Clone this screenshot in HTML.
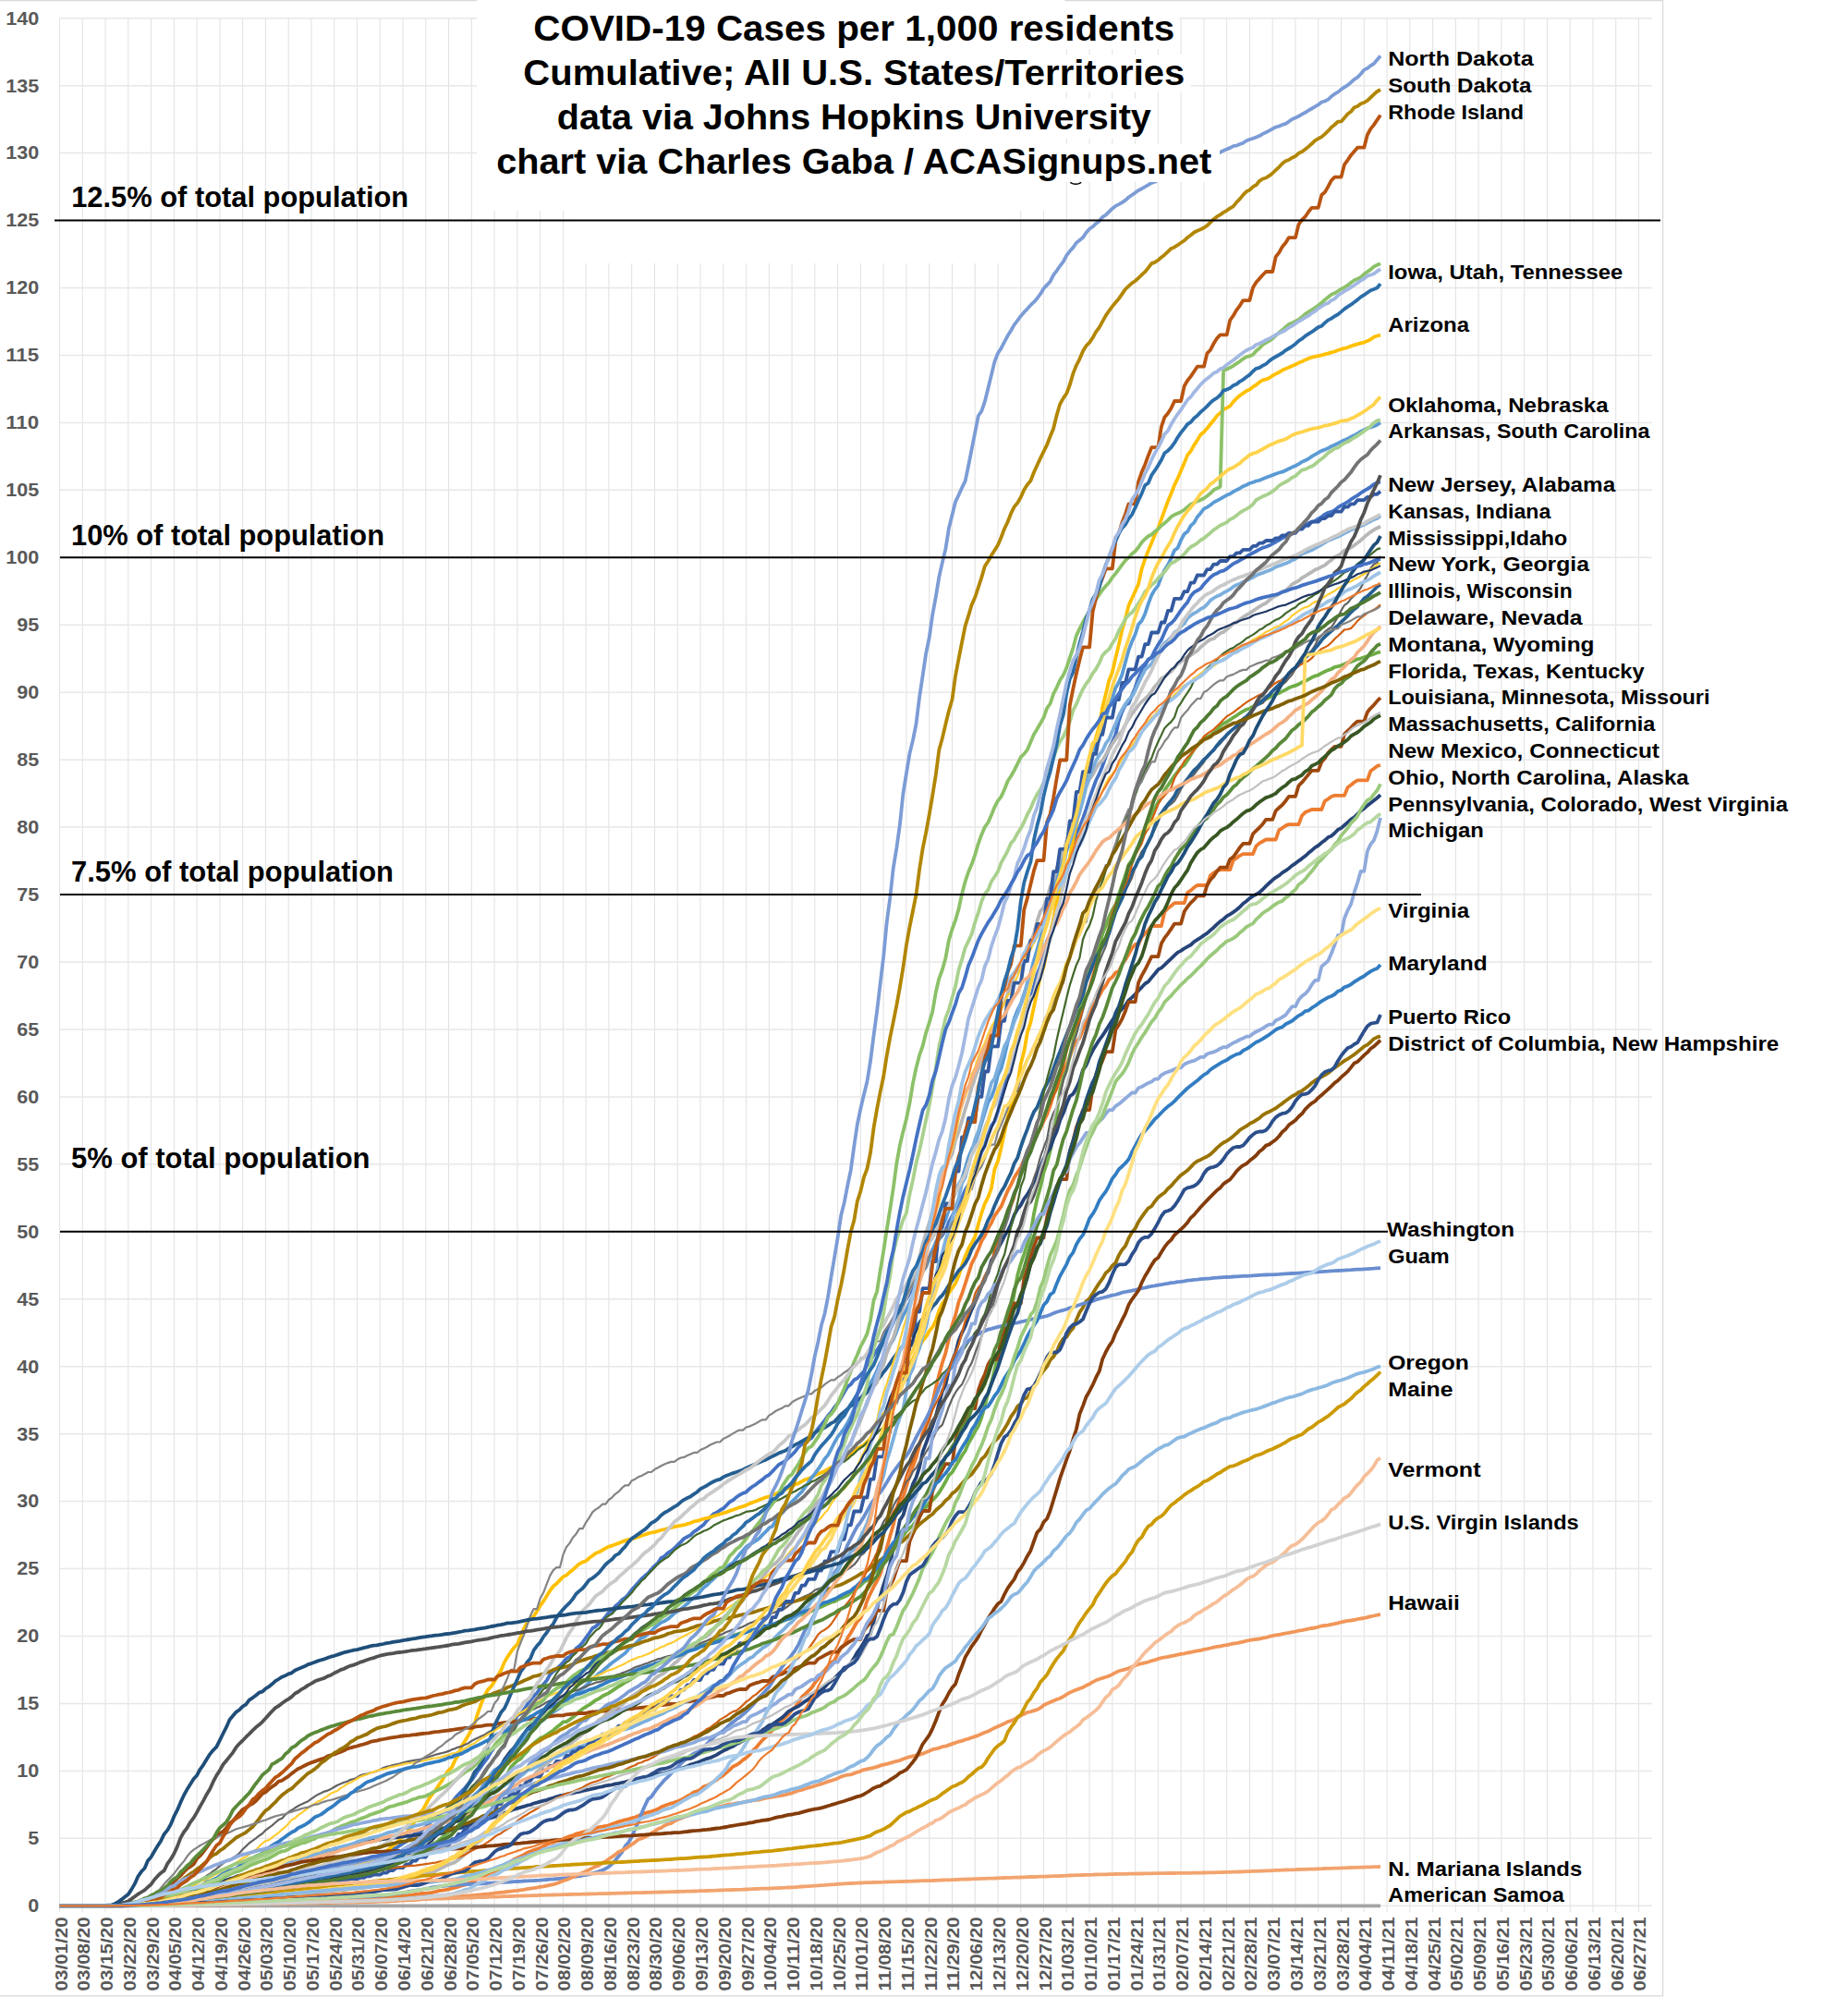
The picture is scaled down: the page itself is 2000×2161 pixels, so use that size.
<!DOCTYPE html>
<html><head><meta charset="utf-8"><title>COVID-19 Cases per 1,000 residents</title>
<style>
html,body{margin:0;padding:0;background:#fff}
svg{display:block}
text{font-family:"Liberation Sans", sans-serif;font-weight:bold}
.c path{fill:none;stroke-linejoin:round;stroke-linecap:butt}
</style></head><body>
<svg width="2000" height="2161" viewBox="0 0 2000 2161">
<rect width="2000" height="2161" fill="#fff"/>
<path d="M64.50 19.70V2069.30M89.27 19.70V2069.30M114.04 19.70V2069.30M138.80 19.70V2069.30M163.57 19.70V2069.30M188.34 19.70V2069.30M213.11 19.70V2069.30M237.88 19.70V2069.30M262.64 19.70V2069.30M287.41 19.70V2069.30M312.18 19.70V2069.30M336.95 19.70V2069.30M361.72 19.70V2069.30M386.48 19.70V2069.30M411.25 19.70V2069.30M436.02 19.70V2069.30M460.79 19.70V2069.30M485.56 19.70V2069.30M510.32 19.70V2069.30M535.09 19.70V2069.30M559.86 19.70V2069.30M584.63 19.70V2069.30M609.40 19.70V2069.30M634.16 19.70V2069.30M658.93 19.70V2069.30M683.70 19.70V2069.30M708.47 19.70V2069.30M733.24 19.70V2069.30M758.00 19.70V2069.30M782.77 19.70V2069.30M807.54 19.70V2069.30M832.31 19.70V2069.30M857.08 19.70V2069.30M881.84 19.70V2069.30M906.61 19.70V2069.30M931.38 19.70V2069.30M956.15 19.70V2069.30M980.92 19.70V2069.30M1005.68 19.70V2069.30M1030.45 19.70V2069.30M1055.22 19.70V2069.30M1079.99 19.70V2069.30M1104.76 19.70V2069.30M1129.52 19.70V2069.30M1154.29 19.70V2069.30M1179.06 19.70V2069.30M1203.83 19.70V2069.30M1228.60 19.70V2069.30M1253.36 19.70V2069.30M1278.13 19.70V2069.30M1302.90 19.70V2069.30M1327.67 19.70V2069.30M1352.44 19.70V2069.30M1377.20 19.70V2069.30M1401.97 19.70V2069.30M1426.74 19.70V2069.30M1451.51 19.70V2069.30M1476.28 19.70V2069.30M1501.04 19.70V2069.30M1525.81 19.70V2069.30M1550.58 19.70V2069.30M1575.35 19.70V2069.30M1600.12 19.70V2069.30M1624.88 19.70V2069.30M1649.65 19.70V2069.30M1674.42 19.70V2069.30M1699.19 19.70V2069.30M1723.96 19.70V2069.30M1748.72 19.70V2069.30M1773.49 19.70V2069.30" stroke="#e2e2e2" stroke-width="1.05" fill="none"/>
<path d="M64.50 2062.30H1788M64.50 1989.35H1788M64.50 1916.40H1788M64.50 1843.45H1788M64.50 1770.50H1788M64.50 1697.55H1788M64.50 1624.60H1788M64.50 1551.65H1788M64.50 1478.70H1788M64.50 1405.75H1788M64.50 1332.80H1788M64.50 1259.85H1788M64.50 1186.90H1788M64.50 1113.95H1788M64.50 1041.00H1788M64.50 968.05H1788M64.50 895.10H1788M64.50 822.15H1788M64.50 749.20H1788M64.50 676.25H1788M64.50 603.30H1788M64.50 530.35H1788M64.50 457.40H1788M64.50 384.45H1788M64.50 311.50H1788M64.50 238.55H1788M64.50 165.60H1788M64.50 92.65H1788M64.50 19.70H1788" stroke="#e8e8e8" stroke-width="1.5" fill="none"/>
<path d="M0 0.7H1799.6V2159.8H0" stroke="#d9d9d9" stroke-width="1.3" fill="none"/>
<g class="c">
<path d="M64.5 2062.3l3.5 0l3.6 0l3.5 0l3.6 0l3.5 0l3.5 0l3.6 0l3.5 0l3.5 0l3.6 0l3.5 0l3.6 0l3.5 0l3.5 0l3.6 0l3.5 0l3.6-.1l3.5-0l3.5-.1l3.6-.1l3.5-.1l3.5-.2l3.6-.2l3.5-.2l3.6-.4l3.5-.2l3.5-.4l3.6-.2l3.5-.3l3.5-.4l3.6-.5l3.5-.5l3.6-.5l3.5-.4l3.5-.5l3.6-.6l3.5-.9l3.6-.5l3.5-.6l3.5-.6l3.6-.4l3.5-.6l3.5-.9l3.6-.3l3.5-.6l3.6-.6l3.5-.5l3.5-.7l3.6-.6l3.5-.5l3.6-.9l3.5-.7l3.5-.8l3.6-.7l3.5-.6l3.5-.6l3.6-.5l3.5-.9l3.6-.6l3.5-.6l3.5-.5l3.6-.6l3.5-.7l3.6-1.1l3.5-.6l3.5-.6l3.6-.9l3.5-1l3.5-.9l3.6-.4l3.5-.5l3.6-1.1l3.5-.9l3.5-.6l3.6-1.1l3.5-1l3.5-.9l3.6-1l3.5-.9l3.6-1.1l3.5-.7l3.5-.7l3.6-.7l3.5-.4l3.6-1.1l3.5-1l3.5-.9l3.6-.3l3.5-.7l3.5-1l3.6-.6l3.5-1.1l3.6-1.4l3.5-.8l3.5-1.5l3.6-1.2l3.5-1.1l3.6-1.4l3.5-1.7l3.5-1.8l3.6-2.2l3.5-1.4l3.5-1.5l3.6-2.5l3.5-2.2l3.6-2l3.5-3.4l3.5-3.5l3.6-2l3.5-1.4l3.5-2.6l3.6-3l3.5-3.2l3.6-4.5l3.5-2.3l3.5-3.9l3.6-1.8l3.5-2.5l3.6-3.9l3.5-4.6l3.5-4.5l3.6-3.9l3.5-3.6l3.5-3.5l3.6-4.3l3.5-3.9l3.6-5.1l3.5-5.5l3.5-4.5l3.6-5.1l3.5-4.6l3.6-6.4l3.5-4.5l3.5-4.3l3.6-4.6l3.5-5l3.5-5.5l3.6-3.7l3.5-4.8l3.6-6.7l3.5-1.9l3.5-4.2l3.6-5.5l3.5-4.9l3.6-4.3l3.5-3.5l3.5-5l3.6-4.6l3.5-3.9l3.5-6.3l3.6-3.6l3.5-2.5l3.6-3.4l3.5-3.7l3.5-4.2l3.6-1.9l3.5-4.1l3.5-5.1l3.6-2.6l3.5-3.9l3.6-5l3.5-4.9l3.5-5.3l3.6-2l3.5-3.3l3.6-3.1l3.5-4.1l3.5-4.6l3.6-1.6l3.5-5.3l3.5-2.6l3.6-4.3l3.5-2.1l3.6-3.8l3.5-4.9l3.5-3.7l3.6-4l3.5-4.1l3.6-3.2l3.5-2.8l3.5-4.2l3.6-3.9l3.5-3l3.5-5.4l3.6-1.9l3.5-3.4l3.6-2.3l3.5-2.8l3.5-3.6l3.6-3.4l3.5-3.7l3.6-1.9l3.5-1.9l3.5-3.5l3.6-2.3l3.5-2.7l3.5-2.7l3.6-4.6l3.5-3.5l3.6-3.5l3.5-1.6l3.5-2.5l3.6-1.9l3.5-3.4l3.5-3.7l3.6-1.9l3.5-3.1l3.6-2.5l3.5-1.8l3.5-1.2l3.6-3.6l3.5-2.6l3.6-2.2l3.5-2.7l3.5-2.5l3.6-3.2l3.5-1.9l3.5-3.6l3.6-3.9l3.5-3.6l3.6-2.1l3.5-1.9l3.5-3.5l3.6-3.1l3.5-3.6l3.6-4.8l3.5-3l3.5-1.3l3.6-3.2l3.5-2.3l3.5-5.3l3.6-5l3.5-4.1l3.6-4.6l3.5-5l3.5-3.9l3.6-5.4l3.5-4.1l3.6-5.9l3.5-6.2l3.5-5.8l3.6-2.8l3.5-4.7l3.5-1.8l3.6-3.8l3.5-3.5l3.6-7.8l3.5-4.3l3.5-5.7l3.6-5.2l3.5-5.7l3.5-5.5l3.6-7.3l3.5-9.3l3.6-6l3.5-6.2l3.5-6.5l3.6-4.8l3.5-4.2l3.6-6.2l3.5-8.7l3.5-4l3.6-5.4l3.5-7.6l3.5-7l3.6-6.3l3.5-8l3.6-7l3.5-4.7l3.5-4l3.6-5.7l3.5-8.6l3.6-6.5l3.5-6.7l3.5-7.5l3.6-5.9l3.5-8.2l3.5-5.8l3.6-9.4l3.5-4.8l3.6-11.5l3.5-9.6l3.5-6.6l3.6-12.4l3.5-9.2l3.5-5.2l3.6-10.4l3.5-14.2l3.6-12.1l3.5-14.6l3.5-12.8l3.6-11.6l3.5-10.9l3.6-14.6l3.5-13l3.5-12.5l3.6-5.2l3.5-13.5l3.5-13.3l3.6-8.8l3.5-9.9l3.6-17.8l3.5-7.2l3.5-14.2l3.6-18.7l3.5-6.8l3.6-13.2l3.5-17.5l3.5-11.4l3.6-13.8l3.5-13.4l3.5-6.8l3.6-9.2l3.5-10.3l3.6-11.7l3.5-9.7l3.5-9.6l3.6-7.2l3.5-8.3l3.6-10.4l3.5-8.4l3.5-7.1l3.6-8.2l3.5-15l3.5-9.8l3.6-7.5l3.5-1.4l3.6-8.6l3.5-8.4l3.5-10.5l3.6-7.6l3.5-6.1l3.5-6.4l3.6-2.3l3.5-7.4l3.6-6.3l3.5-5.2l3.5-8l3.6-7.5l3.5-2.5l3.6-3.7l3.5-5.1l3.5-5.2l3.6-4.6l3.5-4.1l3.5-6.6l3.6-4.2l3.5-1.9l3.6-2.1l3.5-4.7l3.5-3.7l3.6-3.8l3.5-2.7l3.6-1.5l3.5-2.1l3.5-.8l3.6-2.1l3.5-2.7l3.5-2.7l3.6-1.8l3.5-2l3.6-2l3.5-1.9l3.5-2.2l3.6-1.9l3.5-1.8l3.6-2.1l3.5-1.6l3.5-1.1l3.6-1.4l3.5-1.9l3.5-1.9l3.6-2.2l3.5-1.9l3.6-1.8l3.5-1.6l3.5-1.3l3.6-2.4l3.5-2.8l3.5-2.4l3.6-1.9l3.5-2.1l3.6-1.3l3.5-1l3.5-2.4l3.6-2l3.5-2.8l3.6-1.8l3.5-.9l3.5-1.8l3.6-3l3.5-2.1l3.5-1.8l3.6-2.2l3.5-2.6l3.6-2.3l3.5-2l3.5-2.6l3.6-2.3l3.5-2l3.6-2.4l3.5-2.7l3.5-2l3.6-.5" stroke="#4472C4" stroke-width="3.8"/>
<path d="M64.5 2062.3l3.5 0l3.6 0l3.5 0l3.6 0l3.5 0l3.5 0l3.6 0l3.5 0l3.5 0l3.6 0l3.5 0l3.6 0l3.5 0l3.5 0l3.6 0l3.5 0l3.6 0l3.5 0l3.5 0l3.6-.1l3.5-0l3.5-0l3.6-0l3.5-.1l3.6-0l3.5-.1l3.5-0l3.6-0l3.5-.1l3.5-0l3.6-.1l3.5-.1l3.6-0l3.5-.2l3.5-.1l3.6-.1l3.5-.1l3.6-.1l3.5-.1l3.5-.1l3.6-.1l3.5-.1l3.5-.1l3.6-0l3.5-.2l3.6-.1l3.5-0l3.5-.1l3.6-.1l3.5-.1l3.6-.1l3.5-.1l3.5-.1l3.6-.1l3.5-.1l3.5-.1l3.6-.2l3.5-.1l3.6-.2l3.5-.1l3.5-.1l3.6-.1l3.5-0l3.6-.1l3.5-.2l3.5-.1l3.6-.2l3.5-.1l3.5-.1l3.6-.1l3.5-.1l3.6-.2l3.5-.1l3.5-.2l3.6-.1l3.5-.2l3.5-.1l3.6-.1l3.5-.2l3.6-0l3.5-.1l3.5-.2l3.6-.1l3.5-.1l3.6-.2l3.5-.1l3.5-.1l3.6-.2l3.5-.1l3.5-.2l3.6-.1l3.5-.2l3.6-.2l3.5-.2l3.5-.2l3.6-.2l3.5-.1l3.6-.1l3.5-.3l3.5-.2l3.6-.3l3.5-.3l3.5-.2l3.6-.3l3.5-.4l3.6-.4l3.5-.6l3.5-.3l3.6-.5l3.5-.4l3.5-.5l3.6-.1l3.5-.5l3.6-.6l3.5-.7l3.5-.9l3.6-.5l3.5-.6l3.6-.7l3.5-.9l3.5-.9l3.6-1l3.5-1.2l3.5-.7l3.6-1.6l3.5-.9l3.6-1.7l3.5-2.5l3.5-1.6l3.6-1.6l3.5-2l3.6-1.5l3.5-1.3l3.5-2.1l3.6-2.3l3.5-2.3l3.5-1.5l3.6-2.5l3.5-2.2l3.6-1.5l3.5-1.8l3.5-1.6l3.6-2.4l3.5-1.2l3.6-1.6l3.5-1.1l3.5-1.2l3.6-1.7l3.5-1.9l3.5-1.4l3.6-1l3.5-1.4l3.6-1l3.5-1.2l3.5-1.6l3.6-1.5l3.5-.9l3.5-1.7l3.6-.8l3.5-1l3.6-.7l3.5-1.1l3.5-.7l3.6-1.6l3.5-1.4l3.6-.5l3.5-.6l3.5-.7l3.6-1.6l3.5-1.1l3.5-1.2l3.6-1l3.5-1.1l3.6-.7l3.5-1.2l3.5-.9l3.6-1.4l3.5-1.5l3.6-1.4l3.5-1l3.5-.9l3.6-1.4l3.5-1.3l3.5-2l3.6-1.6l3.5-1.3l3.6-1.1l3.5-1.1l3.5-1.1l3.6-1.6l3.5-2l3.6-2.1l3.5-1.9l3.5-2.4l3.6-1.1l3.5-1.6l3.5-3.3l3.6-1l3.5-2l3.6-2.4l3.5-2.2l3.5-2.5l3.6-2.2l3.5-3l3.5-3l3.6-3.6l3.5-1.5l3.6-2.3l3.5-3.1l3.5-2.5l3.6-3l3.5-4.5l3.6-3.4l3.5-4.2l3.5-3.9l3.6-3.4l3.5-3.7l3.5-3.5l3.6-2.8l3.5-4.1l3.6-4.3l3.5-3l3.5-3.5l3.6-4.4l3.5-3.2l3.6-4.9l3.5-5.8l3.5-3.1l3.6-3.6l3.5-3.3l3.5-5.4l3.6-4.4l3.5-5.3l3.6-3.7l3.5-4.4l3.5-4.2l3.6-2.3l3.5-6.9l3.6-6.5l3.5-3.5l3.5-7.3l3.6-5.6l3.5-6.2l3.5-6.1l3.6-3.8l3.5-7.3l3.6-11.6l3.5-7.7l3.5-7l3.6-6.3l3.5-7.3l3.5-12.1l3.6-16.3l3.5-12.9l3.6-12.1l3.5-16.1l3.5-7.1l3.6-7.3l3.5-11.3l3.6-12.4l3.5-9.1l3.5-9.6l3.6-13.6l3.5-12.5l3.5-7.7l3.6-12.6l3.5-12.8l3.6-16.5l3.5-14l3.5-12.9l3.6-11l3.5-14.8l3.6-15.2l3.5-10.4l3.5-14.3l3.6-9.1l3.5-10.7l3.5-10.9l3.6-11.3l3.5-6.7l3.6-8.3l3.5-9.1l3.5-5.5l3.6-8.1l3.5-6l3.5-7.7l3.6-5.2l3.5-4.8l3.6-8.8l3.5-8.4l3.5-6.3l3.6-7.9l3.5-5.6l3.6-5.5l3.5-8l3.5-5l3.6-6.9l3.5-7.6l3.5-8.4l3.6-6.3l3.5-7.8l3.6-7l3.5-9.7l3.5-12.3l3.6-6.5l3.5-12.3l3.6-5.3l3.5-7.6l3.5-8.8l3.6-10.7l3.5-5.7l3.5-4.1l3.6-8.9l3.5-8l3.6-7.2l3.5-9.9l3.5-5.8l3.6-5.9l3.5-6.3l3.6-4.8l3.5-6.4l3.5-2.7l3.6-4.8l3.5-1.6l3.5-7.4l3.6-5l3.5-5.9l3.6-6.7l3.5-3.9l3.5-0l3.6-8.1l3.5-3.8l3.5-3.6l3.6-4.5l3.5-0l3.6-0l3.5-0l3.5-15.3l3.6-3.7l3.5-2.8l3.6-3.1l3.5-0l3.5-0l3.6-0l3.5-11.3l3.5-2.1l3.6-3.3l3.5-2.4l3.6-0l3.5-0l3.5-0l3.6-10.8l3.5-2.6l3.6-2.1l3.5-1.3l3.5-0l3.6-0l3.5-0l3.5-10.2l3.6-2.5l3.5-2.6l3.6-1.8l3.5-0l3.5-0l3.6-0l3.5-8.5l3.6-3.2l3.5-1.9l3.5-2l3.6-0l3.5-0l3.5-0l3.6-10.3l3.5-2.1l3.6-2.7l3.5-1.3l3.5-0l3.6-0l3.5-0l3.5-9.5l3.6-3.5l3.5-1.5l3.6-1.6l3.5-0l3.5-0l3.6-0l3.5-9.2l3.6-2.2l3.5-2.6l3.5-1.2l3.6-0l3.5-0l3.5-0l3.6-8.8l3.5-2.5l3.6-3l3.5-2.2l3.5-0l3.6-0l3.5-0l3.6-10.1l3.5-2.5l3.5-2.8l3.6-.9" stroke="#ED7D31" stroke-width="3.8"/>
<path d="M64.5 2062.3l3.5 0l3.6 0l3.5 0l3.6 0l3.5 0l3.5 0l3.6 0l3.5 0l3.5 0l3.6 0l3.5 0l3.6 0l3.5 0l3.5 0l3.6 0l3.5 0l3.6 0l3.5 0l3.5 0l3.6 0l3.5 0l3.5 0l3.6 0l3.5 0l3.6 0l3.5 0l3.5 0l3.6 0l3.5 0l3.5 0l3.6 0l3.5 0l3.6 0l3.5 0l3.5 0l3.6 0l3.5 0l3.6 0l3.5 0l3.5 0l3.6 0l3.5 0l3.5 0l3.6 0l3.5 0l3.6 0l3.5 0l3.5 0l3.6 0l3.5 0l3.6 0l3.5 0l3.5 0l3.6 0l3.5 0l3.5 0l3.6 0l3.5 0l3.6 0l3.5 0l3.5 0l3.6 0l3.5 0l3.6 0l3.5 0l3.5 0l3.6 0l3.5 0l3.5 0l3.6 0l3.5 0l3.6 0l3.5 0l3.5 0l3.6 0l3.5 0l3.5 0l3.6 0l3.5 0l3.6 0l3.5 0l3.5 0l3.6 0l3.5 0l3.6 0l3.5 0l3.5 0l3.6 0l3.5 0l3.5 0l3.6 0l3.5 0l3.6 0l3.5 0l3.5 0l3.6 0l3.5 0l3.6 0l3.5 0l3.5 0l3.6 0l3.5 0l3.5 0l3.6 0l3.5 0l3.6 0l3.5 0l3.5 0l3.6 0l3.5 0l3.5 0l3.6 0l3.5 0l3.6 0l3.5 0l3.5 0l3.6 0l3.5 0l3.6 0l3.5 0l3.5 0l3.6 0l3.5 0l3.5 0l3.6 0l3.5 0l3.6 0l3.5 0l3.5 0l3.6 0l3.5 0l3.6 0l3.5 0l3.5 0l3.6 0l3.5 0l3.5 0l3.6 0l3.5 0l3.6 0l3.5 0l3.5 0l3.6 0l3.5 0l3.6 0l3.5 0l3.5 0l3.6 0l3.5 0l3.5 0l3.6 0l3.5 0l3.6 0l3.5 0l3.5 0l3.6 0l3.5 0l3.5 0l3.6 0l3.5 0l3.6 0l3.5 0l3.5 0l3.6 0l3.5 0l3.6 0l3.5 0l3.5 0l3.6 0l3.5 0l3.5 0l3.6 0l3.5 0l3.6 0l3.5 0l3.5 0l3.6 0l3.5 0l3.6 0l3.5 0l3.5 0l3.6 0l3.5 0l3.5 0l3.6 0l3.5 0l3.6 0l3.5 0l3.5 0l3.6 0l3.5 0l3.6 0l3.5 0l3.5 0l3.6 0l3.5 0l3.5 0l3.6 0l3.5 0l3.6 0l3.5 0l3.5 0l3.6 0l3.5 0l3.5 0l3.6 0l3.5 0l3.6 0l3.5 0l3.5 0l3.6 0l3.5 0l3.6 0l3.5 0l3.5 0l3.6 0l3.5 0l3.5 0l3.6 0l3.5 0l3.6 0l3.5 0l3.5 0l3.6 0l3.5 0l3.6 0l3.5 0l3.5 0l3.6 0l3.5 0l3.5 0l3.6 0l3.5 0l3.6 0l3.5 0l3.5 0l3.6 0l3.5 0l3.6 0l3.5 0l3.5 0l3.6 0l3.5 0l3.5 0l3.6 0l3.5 0l3.6 0l3.5 0l3.5 0l3.6 0l3.5 0l3.5 0l3.6 0l3.5 0l3.6 0l3.5 0l3.5 0l3.6 0l3.5 0l3.6 0l3.5 0l3.5 0l3.6 0l3.5 0l3.5 0l3.6 0l3.5 0l3.6 0l3.5 0l3.5 0l3.6 0l3.5 0l3.6 0l3.5 0l3.5 0l3.6 0l3.5 0l3.5 0l3.6 0l3.5 0l3.6 0l3.5 0l3.5 0l3.6 0l3.5 0l3.5 0l3.6 0l3.5 0l3.6 0l3.5 0l3.5 0l3.6 0l3.5 0l3.6 0l3.5 0l3.5 0l3.6 0l3.5 0l3.5 0l3.6 0l3.5 0l3.6 0l3.5 0l3.5 0l3.6 0l3.5 0l3.6 0l3.5 0l3.5 0l3.6 0l3.5 0l3.5 0l3.6 0l3.5 0l3.6 0l3.5 0l3.5 0l3.6 0l3.5 0l3.6 0l3.5 0l3.5 0l3.6 0l3.5 0l3.5 0l3.6 0l3.5 0l3.6 0l3.5 0l3.5 0l3.6 0l3.5 0l3.5 0l3.6 0l3.5 0l3.6 0l3.5 0l3.5 0l3.6 0l3.5 0l3.6 0l3.5 0l3.5 0l3.6 0l3.5 0l3.5 0l3.6 0l3.5 0l3.6 0l3.5 0l3.5 0l3.6 0l3.5 0l3.6 0l3.5 0l3.5 0l3.6 0l3.5 0l3.5 0l3.6 0l3.5 0l3.6 0l3.5 0l3.5 0l3.6 0l3.5 0l3.6 0l3.5 0l3.5 0l3.6 0l3.5 0l3.5 0l3.6 0l3.5 0l3.6 0l3.5 0l3.5 0l3.6 0l3.5 0l3.5 0l3.6 0l3.5 0l3.6 0l3.5 0l3.5 0l3.6 0l3.5 0l3.6 0l3.5 0l3.5 0l3.6 0l3.5 0l3.5 0l3.6 0l3.5 0l3.6 0l3.5 0l3.5 0l3.6 0l3.5 0l3.6 0l3.5 0l3.5 0l3.6 0" stroke="#A5A5A5" stroke-width="3.8"/>
<path d="M64.5 2062.3l3.5 0l3.6 0l3.5 0l3.6 0l3.5 0l3.5 0l3.6 0l3.5 0l3.5 0l3.6 0l3.5 0l3.6 0l3.5 0l3.5 0l3.6 0l3.5 0l3.6-.1l3.5-0l3.5-.1l3.6-.1l3.5-.1l3.5-.1l3.6-.1l3.5-.3l3.6-.3l3.5-.3l3.5-.1l3.6-.4l3.5-.2l3.5-.5l3.6-.3l3.5-.4l3.6-.2l3.5-.2l3.5-.5l3.6-.4l3.5-.5l3.6-.5l3.5-.3l3.5-.2l3.6-.3l3.5-.3l3.5-.4l3.6-.5l3.5-.5l3.6-.4l3.5-.3l3.5-.4l3.6-.4l3.5-.5l3.6-.5l3.5-.4l3.5-.3l3.6-.6l3.5-.5l3.5-.6l3.6-.3l3.5-.5l3.6-.7l3.5-.5l3.5-.5l3.6-.8l3.5-.8l3.6-.9l3.5-.5l3.5-.6l3.6-.9l3.5-.8l3.5-.7l3.6-.5l3.5-.9l3.6-1.1l3.5-1l3.5-.7l3.6-.9l3.5-.9l3.5-.6l3.6-.6l3.5-1.1l3.6-1.1l3.5-1l3.5-1.1l3.6-.6l3.5-.9l3.6-.9l3.5-1.2l3.5-1.6l3.6-1l3.5-1.6l3.5-1.3l3.6-1.2l3.5-1.3l3.6-1.9l3.5-1.3l3.5-1.4l3.6-1l3.5-1.7l3.6-2.2l3.5-2.3l3.5-2.8l3.6-2.8l3.5-3.4l3.5-2l3.6-4.4l3.5-3.2l3.6-3.2l3.5-4.4l3.5-4.8l3.6-6.6l3.5-6.3l3.5-2.8l3.6-6.3l3.5-6.4l3.6-5l3.5-4.3l3.5-5.4l3.6-5.1l3.5-6l3.6-4.9l3.5-3.4l3.5-7.8l3.6-5.6l3.5-9.5l3.5-5.3l3.6-6.1l3.5-6.1l3.6-7.6l3.5-11.2l3.5-9.8l3.6-8.3l3.5-6.7l3.6-3.3l3.5-5.4l3.5-6l3.6-6l3.5-8.5l3.5-6l3.6-5.4l3.5-4.7l3.6-3.6l3.5-8.2l3.5-8.8l3.6-6.6l3.5-4.5l3.6-2.1l3.5-5.6l3.5-6.1l3.6-4.8l3.5-5.6l3.5-5.8l3.6-4.8l3.5-2.7l3.6-3.9l3.5-3.5l3.5-1.8l3.6-3.3l3.5-2.6l3.5-3.3l3.6-3.2l3.5-1.8l3.6-1.2l3.5-3.2l3.5-2.5l3.6-2.8l3.5-1.2l3.6-2l3.5-2.1l3.5-1.8l3.6-1l3.5-1.4l3.5-1.3l3.6-1.5l3.5-1.3l3.6-1l3.5-.6l3.5-1.3l3.6-1.1l3.5-1.3l3.6-1.1l3.5-1.3l3.5-.9l3.6-.7l3.5-.9l3.5-1.2l3.6-.7l3.5-1l3.6-.9l3.5-.9l3.5-.8l3.6-.5l3.5-.7l3.6-1.1l3.5-1.1l3.5-1.6l3.6-.5l3.5-1.2l3.5-1.2l3.6-.7l3.5-1l3.6-1.3l3.5-1l3.5-1l3.6-1.2l3.5-1l3.5-1.4l3.6-1.2l3.5-1.2l3.6-1.4l3.5-.9l3.5-1.3l3.6-1.8l3.5-1.3l3.6-1.4l3.5-1.5l3.5-1.1l3.6-1.5l3.5-.8l3.5-1.6l3.6-1.4l3.5-1.4l3.6-2.2l3.5-1.1l3.5-2l3.6-1.5l3.5-1.9l3.6-1.2l3.5-2l3.5-2l3.6-1.2l3.5-1.2l3.5-2.3l3.6-1.4l3.5-1.5l3.6-1.6l3.5-2.1l3.5-1.9l3.6-1.7l3.5-2.7l3.6-1.8l3.5-2.6l3.5-3.5l3.6-1.8l3.5-3.1l3.5-3.6l3.6-1.3l3.5-2.4l3.6-3.5l3.5-3.5l3.5-6.7l3.6-3.5l3.5-7l3.5-8.5l3.6-4.2l3.5-7.6l3.6-5.3l3.5-9.8l3.5-6l3.6-6.4l3.5-6.7l3.6-7.7l3.5-6.6l3.5-7.3l3.6-6l3.5-6.4l3.5-4.1l3.6-6.4l3.5-4l3.6-7.3l3.5-11l3.5-7.2l3.6-4.5l3.5-7.1l3.6-5.2l3.5-5.2l3.5-8.1l3.6-11.3l3.5-9.9l3.5-8.2l3.6-6.3l3.5-6.7l3.6-13.5l3.5-12.1l3.5-10l3.6-7.3l3.5-9.5l3.5-20.7l3.6-8.7l3.5-14.3l3.6-16.8l3.5-16.1l3.5-15l3.6-10.2l3.5-11.3l3.6-21.8l3.5-12.9l3.5-20.5l3.6-11.2l3.5-16.6l3.5-16.6l3.6-17.5l3.5-9.4l3.6-17.7l3.5-18.2l3.5-14.7l3.6-19.1l3.5-12l3.6-12.2l3.5-16.1l3.5-7.4l3.6-20.6l3.5-16.8l3.5-14.2l3.6-16.5l3.5-18.5l3.6-13.2l3.5-19.2l3.5-11.5l3.6-12.3l3.5-21l3.6-14.2l3.5-14.6l3.5-8.8l3.6-15.7l3.5-14.4l3.5-15.6l3.6-12.4l3.5-14.3l3.6-7.6l3.5-7.6l3.5-8l3.6-16.4l3.5-10.5l3.5-9l3.6-8.5l3.5-8.8l3.6-7l3.5-9.9l3.5-9.6l3.6-9.8l3.5-8.3l3.6-9.3l3.5-7.2l3.5-8.2l3.6-8.5l3.5-8.5l3.5-4.2l3.6-6.6l3.5-5.2l3.6-6.1l3.5-2.8l3.5-4l3.6-4.5l3.5-4.2l3.6-4.9l3.5-3l3.5-3.7l3.6-1.8l3.5-2l3.5-4.6l3.6-3.6l3.5-3.2l3.6-2.5l3.5-2.4l3.5-1.5l3.6-3l3.5-2.1l3.6-3l3.5-2.2l3.5-.9l3.6-1.4l3.5-2.5l3.5-1.9l3.6-1.8l3.5-2.2l3.6-1.6l3.5-1.4l3.5-1.5l3.6-1.6l3.5-1.9l3.5-1.4l3.6-1.8l3.5-1.5l3.6-1.2l3.5-.9l3.5-.7l3.6-.8l3.5-1l3.6-.9l3.5-1l3.5-.9l3.6-1.5l3.5-1.2l3.5-1l3.6-.7l3.5-1.5l3.6-1.3l3.5-1l3.5-.9l3.6-.8l3.5-1.7l3.6-1.6l3.5-2.5l3.5-1.3l3.6-.9" stroke="#FFC000" stroke-width="3.8"/>
<path d="M64.5 2062.3l3.5 0l3.6 0l3.5 0l3.6 0l3.5 0l3.5 0l3.6 0l3.5 0l3.5 0l3.6 0l3.5 0l3.6 0l3.5 0l3.5 0l3.6 0l3.5 0l3.6-.1l3.5-0l3.5-.1l3.6-.2l3.5-0l3.5-.1l3.6-.2l3.5-.3l3.6-.3l3.5-.1l3.5-.2l3.6-.2l3.5-.4l3.5-.5l3.6-.3l3.5-.4l3.6-.4l3.5-.3l3.5-.7l3.6-.4l3.5-.6l3.6-.4l3.5-.4l3.5-.7l3.6-.5l3.5-.7l3.5-.5l3.6-.3l3.5-.7l3.6-.6l3.5-.3l3.5-.8l3.6-.6l3.5-.6l3.6-.2l3.5-.5l3.5-.6l3.6-.8l3.5-.4l3.5-.5l3.6-.4l3.5-.6l3.6-.8l3.5-.4l3.5-.7l3.6-.9l3.5-.9l3.6-.7l3.5-.6l3.5-.4l3.6-.6l3.5-.7l3.5-.8l3.6-.8l3.5-.9l3.6-.7l3.5-.5l3.5-1l3.6-.9l3.5-.7l3.5-.6l3.6-.3l3.5-.6l3.6-.9l3.5-.6l3.5-.6l3.6-.8l3.5-.8l3.6-.8l3.5-.8l3.5-.9l3.6-.5l3.5-1l3.5-.6l3.6-.9l3.5-.8l3.6-.9l3.5-1.1l3.5-.9l3.6-1.4l3.5-1.2l3.6-1.1l3.5-1l3.5-1l3.6-1.3l3.5-1.7l3.5-2l3.6-3.4l3.5-2.1l3.6-2.1l3.5-1.4l3.5-1.8l3.6-2.2l3.5-2.8l3.5-2l3.6-3.6l3.5-2.1l3.6-3.2l3.5-1.1l3.5-3l3.6-3.2l3.5-3.1l3.6-3.1l3.5-2.9l3.5-2.9l3.6-1.6l3.5-3l3.5-2.1l3.6-4.7l3.5-4.2l3.6-3.6l3.5-3.1l3.5-3.6l3.6-6l3.5-5.6l3.6-3.6l3.5-4.8l3.5-1.8l3.6-2.1l3.5-3.9l3.5-3.7l3.6-4.2l3.5-4.8l3.6-6.9l3.5-2.7l3.5-3.4l3.6-3.8l3.5-3.6l3.6-4.3l3.5-4.6l3.5-1.9l3.6-3l3.5-2.8l3.5-3.3l3.6-2l3.5-2.3l3.6-2l3.5-4.1l3.5-3.5l3.6-3.2l3.5-1.6l3.5-3.3l3.6-3.1l3.5-2.5l3.6-2.9l3.5-3.7l3.5-3.4l3.6-2.9l3.5-3.4l3.6-2.5l3.5-3l3.5-2.9l3.6-3l3.5-2.5l3.5-2.6l3.6-2.7l3.5-2.5l3.6-4.4l3.5-2.7l3.5-2.7l3.6-3.7l3.5-3.1l3.6-1.2l3.5-3.1l3.5-3.1l3.6-3.7l3.5-2.9l3.5-2.6l3.6-1.5l3.5-2.1l3.6-3.1l3.5-3.3l3.5-2.1l3.6-2.6l3.5-2.7l3.6-3.1l3.5-3.5l3.5-3l3.6-2.4l3.5-4.3l3.5-4.1l3.6-2.6l3.5-3.6l3.6-3.2l3.5-3.4l3.5-3.1l3.6-2.2l3.5-3.3l3.5-3.5l3.6-2.1l3.5-4.6l3.6-4.4l3.5-4l3.5-3.9l3.6-2.7l3.5-2l3.6-2.3l3.5-2.5l3.5-3.7l3.6-3.5l3.5-4l3.5-1.7l3.6-5.7l3.5-5.5l3.6-3.3l3.5-4.3l3.5-4.1l3.6-3.9l3.5-3.4l3.6-3.8l3.5-3.4l3.5-5l3.6-5l3.5-5.4l3.5-3.9l3.6-5.1l3.5-5.1l3.6-6l3.5-4.2l3.5-6.5l3.6-7.1l3.5-6.1l3.6-4.6l3.5-4.7l3.5-5.5l3.6-7.2l3.5-8.3l3.5-5.4l3.6-4.8l3.5-6.4l3.6-6.2l3.5-4.9l3.5-6l3.6-7.5l3.5-8.7l3.5-5.2l3.6-5.7l3.5-8.6l3.6-5.7l3.5-8.7l3.5-9.2l3.6-8l3.5-6.1l3.6-7.8l3.5-7.3l3.5-8.8l3.6-6.9l3.5-10.8l3.5-5.1l3.6-8.4l3.5-8.3l3.6-10l3.5-6.9l3.5-9.9l3.6-7.7l3.5-10.4l3.6-11.8l3.5-6.6l3.5-8.8l3.6-6.4l3.5-11.3l3.5-11.8l3.6-8.8l3.5-6.2l3.6-10.1l3.5-11.9l3.5-11.6l3.6-11.3l3.5-5.3l3.5-9.4l3.6-14.5l3.5-6.9l3.6-13.6l3.5-15.4l3.5-12l3.6-13.3l3.5-9.1l3.6-7l3.5-10.6l3.5-10.6l3.6-11.5l3.5-14.1l3.5-11.6l3.6-12.5l3.5-12.6l3.6-11.1l3.5-16.7l3.5-12.2l3.6-12.1l3.5-11.9l3.6-11l3.5-16.9l3.5-11.8l3.6-8.3l3.5-11.1l3.5-13l3.6-12l3.5-15.5l3.6-7.9l3.5-12.2l3.5-10.8l3.6-7.8l3.5-11.9l3.6-11.5l3.5-12.5l3.5-9.3l3.6-10.9l3.5-5.9l3.5-8.4l3.6-13.3l3.5-12.9l3.6-9.5l3.5-7.7l3.5-10.9l3.6-3.8l3.5-7.6l3.5-10.5l3.6-9.7l3.5-5.9l3.6-4.5l3.5-9.8l3.5-7l3.6-5.4l3.5-7.4l3.6-8.4l3.5-2.7l3.5-8.4l3.6-6.6l3.5-2.6l3.5-6.5l3.6-3.2l3.5-6.2l3.6-4.2l3.5-4.5l3.5-1.9l3.6-2.3l3.5-2.9l3.6-1.8l3.5-1.9l3.5-2.1l3.6-2l3.5-1.4l3.5-2.2l3.6-2l3.5-1.7l3.6-2.3l3.5-1.3l3.5-1.9l3.6-1l3.5-1.5l3.6-.7l3.5-1.6l3.5-1.4l3.6-1.4l3.5-1.3l3.5-1.3l3.6-1.3l3.5-.8l3.6-1.7l3.5-1.7l3.5-1.7l3.6-1.6l3.5-1.9l3.5-2.2l3.6-1.7l3.5-1.7l3.6-2.6l3.5-2.1l3.5-2l3.6-1.9l3.5-1.3l3.6-1.5l3.5-2.2l3.5-1.4l3.6-1.7l3.5-1.8l3.5-1.8l3.6-1.4l3.5-2.1l3.6-1.6l3.5-2l3.5-2.1l3.6-1.8l3.5-1.8l3.6-.9l3.5-1.2l3.5-1.6l3.6-2.3" stroke="#5B9BD5" stroke-width="3.8"/>
<path d="M64.5 2062.3l3.5 0l3.6 0l3.5 0l3.6 0l3.5 0l3.5 0l3.6 0l3.5 0l3.5 0l3.6 0l3.5 0l3.6 0l3.5 0l3.5 0l3.6 0l3.5 0l3.6-.1l3.5-0l3.5-.1l3.6-.1l3.5-.1l3.5-.1l3.6-.1l3.5-.2l3.6-.1l3.5-.3l3.5-.2l3.6-.2l3.5-.4l3.5-.2l3.6-.3l3.5-.5l3.6-.3l3.5-.5l3.5-.2l3.6-.3l3.5-.5l3.6-.3l3.5-.6l3.5-.3l3.6-.5l3.5-.4l3.5-.4l3.6-.3l3.5-.6l3.6-.5l3.5-.5l3.5-.4l3.6-.5l3.5-.2l3.6-.2l3.5-.6l3.5-.5l3.6-.6l3.5-.6l3.5-.3l3.6-.4l3.5-.5l3.6-.5l3.5-.7l3.5-.6l3.6-.5l3.5-.5l3.6-.6l3.5-.5l3.5-.7l3.6-.7l3.5-.4l3.5-.5l3.6-.6l3.5-.6l3.6-.7l3.5-.7l3.5-.8l3.6-.6l3.5-.5l3.5-.7l3.6-.4l3.5-.7l3.6-.3l3.5-.8l3.5-.6l3.6-.3l3.5-.7l3.6-.6l3.5-.5l3.5-.5l3.6-.7l3.5-.9l3.5-.5l3.6-.1l3.5-.6l3.6-.7l3.5-.9l3.5-1l3.6-.8l3.5-.9l3.6-1.3l3.5-.6l3.5-1.7l3.6-1.1l3.5-1.2l3.5-2l3.6-1.8l3.5-1.1l3.6-1.9l3.5-.9l3.5-1.7l3.6-2.9l3.5-2.2l3.5-1.6l3.6-2.3l3.5-2.5l3.6-2l3.5-1.5l3.5-2.6l3.6-3.1l3.5-2.9l3.6-3.2l3.5-1.8l3.5-2.1l3.6-3.1l3.5-4.4l3.5-2.7l3.6-4.6l3.5-.7l3.6-4.3l3.5-3.1l3.5-4.7l3.6-5.2l3.5-3.4l3.6-4.3l3.5-4.1l3.5-4.2l3.6-2.9l3.5-3.6l3.5-3.2l3.6-7.5l3.5-3.7l3.6-3.3l3.5-2l3.5-4.6l3.6-3.4l3.5-5l3.6-3.9l3.5-2.7l3.5-2.8l3.6-1.4l3.5-2.3l3.5-2.4l3.6-2.4l3.5-3.2l3.6-2.7l3.5-3.3l3.5-.2l3.6-2.3l3.5-2.6l3.5-2.9l3.6-3.3l3.5-2.9l3.6-2.3l3.5-1.9l3.5-2.5l3.6-2.6l3.5-1.7l3.6-2.6l3.5-1.7l3.5-1.7l3.6-2.4l3.5-2.3l3.5-2.4l3.6-2.1l3.5-2.4l3.6-1.8l3.5-2.3l3.5-2.1l3.6-2.6l3.5-2.4l3.6-1.5l3.5-1.8l3.5-1.4l3.6-1.8l3.5-2.3l3.5-1.8l3.6-.7l3.5-1.5l3.6-1.5l3.5-2.1l3.5-1.6l3.6-1.6l3.5-2l3.6-1.2l3.5-1.4l3.5-2.3l3.6-1.4l3.5-.8l3.5-.6l3.6-.9l3.5-.8l3.6-1.7l3.5-1.5l3.5-1.5l3.6-1l3.5-.8l3.5-.8l3.6-1.5l3.5-.7l3.6-1.2l3.5-.9l3.5-1l3.6-.7l3.5-1l3.6-1.1l3.5-1l3.5-.9l3.6-1l3.5-.7l3.5-.9l3.6-.9l3.5-1.3l3.6-1.6l3.5-1.6l3.5-1l3.6-1.3l3.5-1.1l3.6-1.3l3.5-1.3l3.5-1.4l3.6-1.3l3.5-1l3.5-1.6l3.6-1.6l3.5-1.4l3.6-1.6l3.5-1.7l3.5-1.4l3.6-1l3.5-1.9l3.6-1.7l3.5-1.5l3.5-1.6l3.6-3.1l3.5-1.5l3.5-3.4l3.6-2.5l3.5-3.8l3.6-2l3.5-3.3l3.5-3.7l3.6-4.6l3.5-4.1l3.5-3.3l3.6-5.3l3.5-3.5l3.6-4.6l3.5-6.3l3.5-4.8l3.6-4.5l3.5-4.8l3.6-3.6l3.5-3l3.5-4.9l3.6-4.9l3.5-6.7l3.5-3l3.6-4.9l3.5-2.8l3.6-3.8l3.5-4.4l3.5-5.7l3.6-6.2l3.5-6.8l3.6-3.3l3.5-5.9l3.5-5.9l3.6-6.4l3.5-5l3.5-8.2l3.6-6.1l3.5-6.6l3.6-5.9l3.5-9.3l3.5-12.4l3.6-14.1l3.5-10.9l3.5-14.3l3.6-14.6l3.5-6.5l3.6-16.6l3.5-8.8l3.5-18.1l3.6-18l3.5-19.6l3.6-12.7l3.5-9.9l3.5-10.7l3.6-11.9l3.5-21.1l3.5-16.2l3.6-13l3.5-15.6l3.6-10.3l3.5-13.4l3.5-15.9l3.6-25.6l3.5-23.3l3.6-14.3l3.5-7.8l3.5-15.6l3.6-15.3l3.5-17.6l3.5-18.2l3.6-13.8l3.5-15.2l3.6-11.8l3.5-9.1l3.5-8.2l3.6-9.7l3.5-13.4l3.6-8.4l3.5-9.9l3.5-7.4l3.6-5.9l3.5-11.2l3.5-10l3.6-10.4l3.5-11.3l3.6-5.4l3.5-7.7l3.5-7.6l3.6-8.7l3.5-5.7l3.5-9.5l3.6-7.9l3.5-8.5l3.6-6.8l3.5-5.3l3.5-7.9l3.6-5l3.5-5.2l3.6-5.3l3.5-4.2l3.5-4.9l3.6-2.3l3.5-5.2l3.5-5.9l3.6-6.1l3.5-4l3.6-4.8l3.5-2.1l3.5-2.5l3.6-1.5l3.5-2.9l3.6-3l3.5-4.2l3.5-2.9l3.6-1.6l3.5-2.4l3.5-2.4l3.6-2.2l3.5-2.5l3.6-2.2l3.5-1.8l3.5-1.1l3.6-1.9l3.5-2.5l3.6-2.5l3.5-1.8l3.5-1.6l3.6-1.7l3.5-1.9l3.5-1.5l3.6-1.3l3.5-1.9l3.6-1.7l3.5-2.1l3.5-1.4l3.6-1l3.5-1.6l3.5-1.9l3.6-1.3l3.5-1.9l3.6-2.1l3.5-1.5l3.5-1.1l3.6-2.1l3.5-1.6l3.6-1.7l3.5-1.1l3.5-2.1l3.6-.7l3.5-1.1l3.5-1.4l3.6-1.6l3.5-1l3.6-1.3l3.5-1.5l3.5-.7l3.6-1.4l3.5-1.2l3.6-1l3.5-1.3l3.5-1.4l3.6-.9" stroke="#70AD47" stroke-width="3.8"/>
<path d="M64.5 2062.3l3.5 0l3.6 0l3.5 0l3.6 0l3.5 0l3.5 0l3.6 0l3.5 0l3.5 0l3.6 0l3.5 0l3.6 0l3.5 0l3.5-.1l3.6-0l3.5-0l3.6-.1l3.5-.2l3.5-.3l3.6-.4l3.5-.2l3.5-.3l3.6-.2l3.5-.6l3.6-.7l3.5-.8l3.5-1l3.6-1.1l3.5-.7l3.5-.8l3.6-.6l3.5-1l3.6-1.2l3.5-1.2l3.5-.4l3.6-1.1l3.5-1.2l3.6-1.1l3.5-.5l3.5-1l3.6-1.2l3.5-1.1l3.5-.7l3.6-.7l3.5-1.3l3.6-.7l3.5-1.6l3.5-1.1l3.6-1.1l3.5-.6l3.6-.9l3.5-1.3l3.5-.8l3.6-1.7l3.5-.8l3.5-.8l3.6-1.1l3.5-1.2l3.6-1.2l3.5-1l3.5-1.1l3.6-1.2l3.5-1l3.6-.5l3.5-1.4l3.5-1.2l3.6-1.2l3.5-1.1l3.5-1.2l3.6-1.1l3.5-1l3.6-1.2l3.5-.6l3.5-1.1l3.6-.8l3.5-1.1l3.5-1.2l3.6-.6l3.5-.8l3.6-.8l3.5-1.1l3.5-.7l3.6-.6l3.5-1.1l3.6-.7l3.5-.8l3.5-.9l3.6-.7l3.5-.8l3.5-.8l3.6-.9l3.5-.5l3.6-.8l3.5-1l3.5-.5l3.6-.9l3.5-.3l3.6-.7l3.5-.5l3.5-.5l3.6-.4l3.5-.4l3.5-.4l3.6-.5l3.5-.6l3.6-.5l3.5-.3l3.5-.3l3.6-.4l3.5-.4l3.5-.6l3.6-.6l3.5-.4l3.6-.3l3.5-.4l3.5-.7l3.6-.7l3.5-.5l3.6-.8l3.5-.5l3.5-.8l3.6-.6l3.5-.9l3.5-1.1l3.6-1.2l3.5-1.3l3.6-.7l3.5-1.5l3.5-1.3l3.6-1.1l3.5-1.3l3.6-1l3.5-1.2l3.5-.8l3.6-1.3l3.5-1.3l3.5-1.7l3.6-1.5l3.5-1.5l3.6-1l3.5-1l3.5-.9l3.6-1.2l3.5-.7l3.6-1.5l3.5-.8l3.5-1l3.6-1.1l3.5-.8l3.5-1.3l3.6-.9l3.5-1.3l3.6-1.1l3.5-.6l3.5-.8l3.6-.9l3.5-.6l3.5-.8l3.6-.7l3.5-.8l3.6-.8l3.5-.7l3.5-.8l3.6-.9l3.5-.8l3.6-.7l3.5-.9l3.5-.6l3.6-.5l3.5-.9l3.5-.5l3.6-.9l3.5-.7l3.6-1.1l3.5-.6l3.5-.8l3.6-1l3.5-.5l3.6-1.1l3.5-.7l3.5-.5l3.6-1.1l3.5-1l3.5-.8l3.6-.3l3.5-1.1l3.6-1.1l3.5-1.1l3.5-1l3.6-.7l3.5-1l3.6-1.6l3.5-1.6l3.5-1.1l3.6-1.1l3.5-1.4l3.5-1.5l3.6-1.4l3.5-.9l3.6-1.6l3.5-1.7l3.5-2.2l3.6-2.1l3.5-1.6l3.5-1.9l3.6-1.3l3.5-2.4l3.6-1.7l3.5-2.1l3.5-2.3l3.6-1.3l3.5-1.5l3.6-1.3l3.5-2.5l3.5-2.5l3.6-2.4l3.5-2.7l3.5-1.1l3.6-2.5l3.5-2.5l3.6-2.4l3.5-3.2l3.5-3.6l3.6-2l3.5-1.7l3.6-1.9l3.5-2.4l3.5-2.7l3.6-2.1l3.5-3.2l3.5-1.9l3.6-2.9l3.5-2.5l3.6-2.7l3.5-4.1l3.5-2.6l3.6-2.9l3.5-3.5l3.6-3.7l3.5-1.9l3.5-3.9l3.6-3.4l3.5-5.4l3.5-6.4l3.6-4.9l3.5-5.5l3.6-7.2l3.5-2.3l3.5-12.9l3.6-14.1l3.5-13.7l3.5-11.9l3.6-10.6l3.5-12.5l3.6-17l3.5-13l3.5-17.3l3.6-5.3l3.5-11.5l3.6-11.9l3.5-10.6l3.5-6.9l3.6-11.2l3.5-16.4l3.5-9.2l3.6-9.9l3.5-9.2l3.6-10.5l3.5-13.5l3.5-13.4l3.6-7.1l3.5-16.1l3.6-9.4l3.5-8.8l3.5-13.4l3.6-8.7l3.5-7l3.5-9.3l3.6-8.9l3.5-7.8l3.6-8.3l3.5-9.9l3.5-8.4l3.6-5.6l3.5-13l3.5-5.5l3.6-7.2l3.5-6.4l3.6-7.2l3.5-5.6l3.5-7.3l3.6-10l3.5-6.3l3.6-4.4l3.5-6.6l3.5-4.8l3.6-6.1l3.5-7.6l3.5-8.3l3.6-7.4l3.5-9.1l3.6-6.7l3.5-5l3.5-10.1l3.6-8.1l3.5-12l3.6-7.7l3.5-9.9l3.5-8.4l3.6-2.5l3.5-6.2l3.5-7.7l3.6-11.9l3.5-5.1l3.6-8.8l3.5-7.2l3.5-5.7l3.6-5.8l3.5-4.6l3.6-5.6l3.5-5.6l3.5-5.4l3.6-5.1l3.5-3.7l3.5-3.5l3.6-4.1l3.5-5.3l3.6-3l3.5-3.5l3.5-4l3.6-3.6l3.5-3.8l3.5-2.1l3.6-4.5l3.5-4.2l3.6-4.5l3.5-1.9l3.5-3.1l3.6-3.5l3.5-3.3l3.6-3.6l3.5-3.2l3.5-1.7l3.6-2.6l3.5-1.9l3.5-1.9l3.6-3.4l3.5-2.2l3.6-2.2l3.5-2.6l3.5-2.2l3.6-3.3l3.5-2.9l3.6-3.6l3.5-3l3.5-2.4l3.6-3.4l3.5-2l3.5-2.2l3.6-2.6l3.5-3l3.6-3.8l3.5-2.5l3.5-3.1l3.6-2.5l3.5-1.8l3.6-2.2l3.5-3.1l3.5-3.6l3.6-3.4l3.5-3.2l3.5-2.7l3.6-2.2l3.5-3l3.6-2.3l3.5-2.4l3.5-3.1l3.6-2.3l3.5-2.7l3.5-2.5l3.6-2.8l3.5-3.2l3.6-2.9l3.5-3.1l3.5-2.1l3.6-3.2l3.5-2.4l3.6-3.3l3.5-1.4l3.5-3.2l3.6-3.7l3.5-1.7l3.5-3.1l3.6-3.2l3.5-3.1l3.6-2.3l3.5-3.6l3.5-3.4l3.6-2.4l3.5-3.4l3.6-2.6l3.5-2.8l3.5-2.7l3.6-3.4" stroke="#264478" stroke-width="3.8"/>
<path d="M64.5 2062.3l3.5 0l3.6 0l3.5 0l3.6 0l3.5 0l3.5 0l3.6 0l3.5 0l3.5 0l3.6 0l3.5 0l3.6 0l3.5 0l3.5-.1l3.6-0l3.5-0l3.6-.2l3.5-.2l3.5-.2l3.6-.7l3.5-.5l3.5-.6l3.6-.9l3.5-.8l3.6-.5l3.5-1.4l3.5-1.3l3.6-1.3l3.5-.6l3.5-2.4l3.6-2.9l3.5-2.2l3.6-2.9l3.5-3.3l3.5-2.8l3.6-3.8l3.5-3.1l3.6-3.9l3.5-3.5l3.5-2.3l3.6-2.7l3.5-5.9l3.5-3.1l3.6-4.4l3.5-4.6l3.6-5.1l3.5-4l3.5-2.7l3.6-3.5l3.5-1.9l3.6-4l3.5-5.2l3.5-2.2l3.6-4.4l3.5-4.2l3.5-3.9l3.6-2l3.5-2.5l3.6-1.9l3.5-2.8l3.5-3.7l3.6-4.1l3.5-1.8l3.6-3.3l3.5-2.6l3.5-2.2l3.6-3.6l3.5-.8l3.5-2.4l3.6-2.3l3.5-3l3.6-2.6l3.5-2.6l3.5-1.5l3.6-1.9l3.5-1.8l3.5-1.3l3.6-1.3l3.5-1.2l3.6-1.3l3.5-1.1l3.5-2.2l3.6-1.1l3.5-.7l3.6-1.5l3.5-1.3l3.5-1.5l3.6-1.8l3.5-1.1l3.5-1l3.6-.8l3.5-1.1l3.6-.9l3.5-1.1l3.5-1.5l3.6-.8l3.5-.5l3.6-1l3.5-.6l3.5-.6l3.6-.7l3.5-.6l3.5-.5l3.6-.6l3.5-.5l3.6-.4l3.5-.3l3.5-.4l3.6-.4l3.5-.5l3.5-.5l3.6-.3l3.5-.4l3.6-.7l3.5-.5l3.5-.2l3.6-.5l3.5-.5l3.6-.4l3.5-.5l3.5-.6l3.6-.5l3.5-.4l3.5-.6l3.6-0l3.5-0l3.6-1.3l3.5-.4l3.5-.4l3.6-.6l3.5-.5l3.6-0l3.5-0l3.5-1.5l3.6-.5l3.5-.6l3.5-.4l3.6-.7l3.5-0l3.6-0l3.5-1.5l3.5-.5l3.6-.6l3.5-.5l3.6-.3l3.5-0l3.5-0l3.6-1.5l3.5-.3l3.5-.5l3.6-.5l3.5-.4l3.6-0l3.5-0l3.5-1.1l3.6-.3l3.5-.4l3.5-.3l3.6-.3l3.5-0l3.6-0l3.5-1.1l3.5-.4l3.6-.3l3.5-.4l3.6-.2l3.5-0l3.5-0l3.6-.7l3.5-.5l3.5-.3l3.6-.3l3.5-.4l3.6-0l3.5-0l3.5-.9l3.6-.3l3.5-.4l3.6-.3l3.5-.4l3.5-0l3.6-0l3.5-1.4l3.5-.6l3.6-.2l3.5-.6l3.6-.3l3.5-0l3.5-0l3.6-1.5l3.5-.7l3.6-.4l3.5-.4l3.5-.6l3.6-0l3.5-0l3.5-2l3.6-.9l3.5-.5l3.6-.9l3.5-1.1l3.5-0l3.6-0l3.5-2.4l3.5-.8l3.6-1.5l3.5-1.3l3.6-1l3.5-0l3.5-0l3.6-4l3.5-1.4l3.6-1.4l3.5-.9l3.5-1.3l3.6-0l3.5-0l3.5-4.1l3.6-1.3l3.5-1.2l3.6-1l3.5-1.8l3.5-0l3.6-0l3.5-4.3l3.6-1.2l3.5-1.4l3.5-1.6l3.6-1.4l3.5-0l3.5-0l3.6-4.6l3.5-1.7l3.6-2.1l3.5-1.8l3.5-1.8l3.6-0l3.5-0l3.6-4.8l3.5-2.4l3.5-2.5l3.6-2.3l3.5-1.9l3.5-0l3.6-0l3.5-9.3l3.6-4.7l3.5-3.6l3.5-6.1l3.6-7.3l3.5-0l3.5-0l3.6-20.6l3.5-6.5l3.6-6.6l3.5-10.8l3.5-9.2l3.6-0l3.5-0l3.6-21.1l3.5-8.4l3.5-7.1l3.6-10.7l3.5-6.8l3.5-0l3.6-0l3.5-21.6l3.6-8.2l3.5-8l3.5-6.5l3.6-6.5l3.5-0l3.6-0l3.5-25l3.5-10.9l3.6-8.5l3.5-6.4l3.5-9.3l3.6-0l3.5-0l3.6-19.5l3.5-10l3.5-7.3l3.6-10.7l3.5-5.8l3.5-0l3.6-0l3.5-23.5l3.6-9.5l3.5-10.6l3.5-9l3.6-7.7l3.5-0l3.6-0l3.5-27.1l3.5-10.6l3.6-13l3.5-10.9l3.5-9.4l3.6-0l3.5-0l3.6-22.5l3.5-12.9l3.5-10.9l3.6-9.4l3.5-7.6l3.6-0l3.5-0l3.5-30.5l3.6-11.6l3.5-14.2l3.5-9l3.6-9.8l3.5-0l3.6-0l3.5-24.5l3.5-14l3.6-7.4l3.5-7.6l3.6-9.4l3.5-0l3.5-0l3.6-24l3.5-5.3l3.5-6.3l3.6-8.7l3.5-9.8l3.6-0l3.5-0l3.5-20.7l3.6-7.8l3.5-6.1l3.5-7.2l3.6-7.1l3.5-0l3.6-0l3.5-14.2l3.5-6.1l3.6-4.6l3.5-5.2l3.6-5.5l3.5-0l3.5-0l3.6-13.2l3.5-5.1l3.5-4.4l3.6-3.3l3.5-4.2l3.6-0l3.5-0l3.5-11.4l3.6-6l3.5-3.6l3.6-5.6l3.5-4.1l3.5-0l3.6-0l3.5-8.9l3.5-2.4l3.6-5.1l3.5-5.2l3.6-4.2l3.5-0l3.5-0l3.6-10.6l3.5-3.4l3.6-3.4l3.5-3.8l3.5-4.9l3.6-0l3.5-0l3.5-9.5l3.6-3.3l3.5-3l3.6-4.3l3.5-4.9l3.5-0l3.6-0l3.5-11.7l3.5-3.4l3.6-4.3l3.5-4.3l3.6-4.3l3.5-0l3.5-0l3.6-9.2l3.5-3.9l3.6-6.1l3.5-3.5l3.5-3.3l3.6-0l3.5-0l3.5-13.5l3.6-3.5l3.5-3.2l3.6-4.2l3.5-2.8l3.5-0l3.6-0l3.5-9.8l3.6-4.5l3.5-3.4l3.5-4.3l3.6-3.6" stroke="#9E480E" stroke-width="3.8"/>
<path d="M64.5 2062.3l3.5 0l3.6 0l3.5 0l3.6 0l3.5 0l3.5 0l3.6 0l3.5 0l3.5 0l3.6 0l3.5 0l3.6 0l3.5 0l3.5 0l3.6-.1l3.5-0l3.6-.1l3.5-0l3.5-.2l3.6-.2l3.5-.2l3.5-.3l3.6-.3l3.5-.2l3.6-.3l3.5-.4l3.5-.4l3.6-.8l3.5-.9l3.5-.9l3.6-1.5l3.5-1.1l3.6-.9l3.5-1.6l3.5-1.8l3.6-1.1l3.5-1.3l3.6-1.3l3.5-2.7l3.5-1.7l3.6-2l3.5-2.1l3.5-2.9l3.6-2.3l3.5-2.9l3.6-2.2l3.5-3l3.5-2.3l3.6-3.2l3.5-2.7l3.6-2.6l3.5-1.2l3.5-2.1l3.6-2.2l3.5-2.9l3.5-4.2l3.6-3.3l3.5-3.4l3.6-2.7l3.5-2.5l3.5-2.8l3.6-2.3l3.5-3.6l3.6-2.8l3.5-2.4l3.5-3.1l3.6-3.2l3.5-1.4l3.5-3.7l3.6-3.1l3.5-2.1l3.6-2.5l3.5-2l3.5-1.9l3.6-1.6l3.5-1.6l3.5-2.5l3.6-2.6l3.5-2.2l3.6-1.6l3.5-1.7l3.5-1l3.6-1.7l3.5-2.1l3.6-2.1l3.5-1.5l3.5-1.4l3.6-1.1l3.5-1.9l3.5-.6l3.6-1.7l3.5-2.3l3.6-1.2l3.5-.5l3.5-1l3.6-.8l3.5-1.2l3.6-1.6l3.5-1.8l3.5-1.2l3.6-.9l3.5-.9l3.5-.8l3.6-.7l3.5-1l3.6-1.1l3.5-.7l3.5-.6l3.6-.7l3.5-.5l3.5-.8l3.6-1.1l3.5-1.1l3.6-1l3.5-1.2l3.5-.9l3.6-.9l3.5-.9l3.6-1.2l3.5-1.6l3.5-1.2l3.6-1.5l3.5-.9l3.5-1.6l3.6-1.7l3.5-2.5l3.6-1.8l3.5-1.7l3.5-1.7l3.6-1.5l3.5-2.4l3.6-1.8l3.5-2l3.5-2.1l3.6-2.2l3.5-1.7l3.5-1.8l3.6-1l3.5-3.1l3.6-2.8l3.5-1.8l3.5-1.2l3.6-1.5l3.5-1.5l3.6-.6l3.5-1.9l3.5-1.6l3.6-2.1l3.5-2.2l3.5-1.6l3.6-.6l3.5-1.8l3.6-1.8l3.5-1.5l3.5-1.7l3.6-1.9l3.5-.9l3.5-1l3.6-1l3.5-1.8l3.6-.9l3.5-2.2l3.5-1l3.6-1.5l3.5-.6l3.6-1l3.5-1.4l3.5-2l3.6-1.1l3.5-1.7l3.5-1l3.6-1.5l3.5-1.1l3.6-1.5l3.5-1.5l3.5-2.1l3.6-1.1l3.5-1l3.6-1.6l3.5-1l3.5-1.5l3.6-1.2l3.5-1.5l3.5-.7l3.6-1.3l3.5-1l3.6-.8l3.5-1.3l3.5-2.2l3.6-1.8l3.5-1l3.6-1.9l3.5-.9l3.5-1.2l3.6-1.6l3.5-1.4l3.5-1.3l3.6-1.4l3.5-1.8l3.6-1.5l3.5-.8l3.5-1.9l3.6-1.7l3.5-1.7l3.5-1.4l3.6-1.3l3.5-.7l3.6-1.1l3.5-1.3l3.5-1.8l3.6-2l3.5-1.1l3.6-1.9l3.5-1l3.5-1.2l3.6-1.9l3.5-2.1l3.5-1.7l3.6-1.3l3.5-1.2l3.6-.9l3.5-2.2l3.5-2.5l3.6-2.9l3.5-2.1l3.6-1.9l3.5-1.7l3.5-1.7l3.6-1.3l3.5-2.1l3.5-3.1l3.6-1.3l3.5-1.4l3.6-1.5l3.5-2.3l3.5-2.7l3.6-2.2l3.5-3.3l3.6-2.9l3.5-2.9l3.5-2l3.6-2.3l3.5-2.7l3.5-4.2l3.6-5.7l3.5-2.4l3.6-4.9l3.5-3.9l3.5-5.1l3.6-5.8l3.5-6.6l3.5-7.6l3.6-5.2l3.5-3.8l3.6-8.2l3.5-6.6l3.5-3.7l3.6-8.5l3.5-7.7l3.6-3.3l3.5-7.7l3.5-3.9l3.6-6.7l3.5-4.5l3.5-5.7l3.6-5.6l3.5-7.8l3.6-8.6l3.5-4.7l3.5-2.9l3.6-9.9l3.5-9.8l3.6-8.6l3.5-6.7l3.5-5l3.6-3.8l3.5-7.7l3.5-9.4l3.6-6.4l3.5-9.9l3.6-9.7l3.5-8.8l3.5-9.2l3.6-12l3.5-6.4l3.5-12.1l3.6-14.1l3.5-10.5l3.6-9.9l3.5-5.7l3.5-11.8l3.6-8.4l3.5-10.6l3.6-14.3l3.5-11.6l3.5-10l3.6-10.3l3.5-14.2l3.5-9.7l3.6-13.7l3.5-9.7l3.6-9.3l3.5-18.8l3.5-9.6l3.6-6.3l3.5-12.4l3.6-16.4l3.5-10.9l3.5-14l3.6-15.3l3.5-9.2l3.5-13.1l3.6-13.3l3.5-12.7l3.6-11l3.5-11.6l3.5-8.8l3.6-8.5l3.5-8.8l3.6-8.1l3.5-12.4l3.5-16l3.6-8l3.5-8.9l3.5-8.3l3.6-7.1l3.5-6.1l3.6-7.4l3.5-11.1l3.5-9.5l3.6-7.8l3.5-4.2l3.5-6.4l3.6-6.9l3.5-6.2l3.6-8l3.5-9.3l3.5-2.5l3.6-5.3l3.5-2.6l3.6-3.3l3.5-5.8l3.5-6.9l3.6-5.8l3.5-3.6l3.5-2.9l3.6-3.6l3.5-4.6l3.6-4.3l3.5-4.2l3.5-7.2l3.6-3.5l3.5-3.5l3.6-2.8l3.5-3.2l3.5-4.3l3.6-4.2l3.5-4.8l3.5-2.6l3.6-2.1l3.5-4.5l3.6-2.9l3.5-4.1l3.5-4.6l3.6-3.9l3.5-3l3.6-1.4l3.5-1.6l3.5-4l3.6-4.1l3.5-4.4l3.5-2.7l3.6-2.1l3.5-2.8l3.6-2.6l3.5-4.2l3.5-3.7l3.6-6.7l3.5-4.3l3.5-3.9l3.6-4.7l3.5-3.7l3.6-2.9l3.5-5.6l3.5-7l3.6-3.5l3.5-4.2l3.6-2.8l3.5-2l3.5-5.4l3.6-6l3.5-6.7l3.5-5.9l3.6-2.5l3.5-4.5l3.6-3.4l3.5-3.5l3.5-4.7l3.6-7.5l3.5-5.9l3.6-7.8l3.5-4.6l3.5-1.6l3.6-7" stroke="#636363" stroke-width="2.2"/>
<path d="M64.5 2062.3l3.5 0l3.6 0l3.5 0l3.6 0l3.5 0l3.5 0l3.6 0l3.5 0l3.5 0l3.6 0l3.5 0l3.6 0l3.5 0l3.5-.1l3.6-0l3.5-0l3.6-.1l3.5-.3l3.5-.3l3.6-.2l3.5-.4l3.5-.3l3.6-.6l3.5-.8l3.6-1.1l3.5-.9l3.5-1.5l3.6-.9l3.5-1.2l3.5-1.6l3.6-2.4l3.5-2.4l3.6-1.4l3.5-2l3.5-3.2l3.6-2.2l3.5-2.6l3.6-3.1l3.5-2.5l3.5-2.5l3.6-2.2l3.5-2.9l3.5-2.2l3.6-3.3l3.5-3l3.6-4l3.5-2.8l3.5-1.4l3.6-3.2l3.5-2.2l3.6-3.1l3.5-2.9l3.5-2.9l3.6-3.1l3.5-1.9l3.5-1.7l3.6-2.1l3.5-2.9l3.6-2.9l3.5-4.3l3.5-4.3l3.6-5l3.5-4.1l3.6-2.3l3.5-3.6l3.5-3.2l3.6-4.1l3.5-3.5l3.5-2.6l3.6-2.8l3.5-1.6l3.6-3.6l3.5-3.4l3.5-3.1l3.6-3.3l3.5-3.3l3.5-1.9l3.6-2.6l3.5-2.9l3.6-3.8l3.5-2.3l3.5-2.8l3.6-2.7l3.5-2.9l3.6-1.9l3.5-2.5l3.5-1.7l3.6-2.5l3.5-3.4l3.5-1.8l3.6-2.6l3.5-1.1l3.6-1.6l3.5-1.3l3.5-2.5l3.6-1.9l3.5-1.9l3.6-1l3.5-.8l3.5-.7l3.6-1.3l3.5-1.4l3.5-1.2l3.6-1.1l3.5-.7l3.6-.6l3.5-.8l3.5-.8l3.6-.6l3.5-1.2l3.5-.7l3.6-.4l3.5-.7l3.6-.8l3.5-1.1l3.5-1.3l3.6-.3l3.5-1.1l3.6-1.3l3.5-.6l3.5-.6l3.6-1.5l3.5-1.7l3.5-1.5l3.6-1l3.5-1l3.6-1.3l3.5-1.7l3.5-2.3l3.6-1.6l3.5-1.3l3.6-.6l3.5-1.7l3.5-1.2l3.6-1.4l3.5-1.4l3.5-2.1l3.6-1.1l3.5-1.6l3.6-1.3l3.5-1.4l3.5-1.8l3.6-1.4l3.5-1.6l3.6-1.7l3.5-.7l3.5-1l3.6-1l3.5-1.5l3.5-1.1l3.6-1.7l3.5-1.4l3.6-.7l3.5-.6l3.5-.8l3.6-1.3l3.5-1.5l3.5-1.7l3.6-1.5l3.5-.9l3.6-1.2l3.5-1.1l3.5-1.1l3.6-1.3l3.5-.9l3.6-1.3l3.5-.8l3.5-.7l3.6-.9l3.5-1.2l3.5-1.3l3.6-1.2l3.5-1l3.6-1.2l3.5-.8l3.5-.6l3.6-1.2l3.5-1.6l3.6-1.2l3.5-.9l3.5-1.4l3.6-1.3l3.5-.6l3.5-.9l3.6-1.1l3.5-1.9l3.6-.9l3.5-1.1l3.5-.7l3.6-.3l3.5-.7l3.6-.9l3.5-1.4l3.5-1.2l3.6-1.3l3.5-.7l3.5-.9l3.6-.8l3.5-1.1l3.6-1.5l3.5-.9l3.5-1l3.6-.8l3.5-.4l3.5-.8l3.6-.8l3.5-.9l3.6-.9l3.5-.8l3.5-.6l3.6-.9l3.5-.7l3.6-1.1l3.5-1.3l3.5-1l3.6-.9l3.5-.9l3.5-.9l3.6-1.1l3.5-.5l3.6-1.6l3.5-1l3.5-.4l3.6-.8l3.5-.6l3.6-1.1l3.5-1l3.5-1.3l3.6-1.6l3.5-1.3l3.5-.9l3.6-1.1l3.5-1.3l3.6-1.6l3.5-1.6l3.5-1.6l3.6-1.7l3.5-.7l3.6-1.2l3.5-1.7l3.5-1.8l3.6-1.9l3.5-2l3.5-2l3.6-2.3l3.5-1.5l3.6-2.1l3.5-3l3.5-3l3.6-2l3.5-3.3l3.5-2.5l3.6-2.4l3.5-3.9l3.6-3.8l3.5-3.6l3.5-2.2l3.6-2.4l3.5-3.4l3.6-3.1l3.5-3.8l3.5-4l3.6-3.6l3.5-2.9l3.5-2.7l3.6-3.1l3.5-2.3l3.6-4.3l3.5-3l3.5-3.1l3.6-4.4l3.5-2.6l3.6-5l3.5-2.4l3.5-3.9l3.6-4.3l3.5-4.2l3.5-3.2l3.6-2.8l3.5-5.1l3.6-4.8l3.5-6.4l3.5-3.1l3.6-6l3.5-5.1l3.5-5.4l3.6-3.1l3.5-4.7l3.6-5.5l3.5-5.9l3.5-7.2l3.6-4.8l3.5-6.3l3.6-2.6l3.5-5.8l3.5-1l3.6-6.1l3.5-5.5l3.5-6.3l3.6-6.5l3.5-5.1l3.6-4.3l3.5-7l3.5-3.6l3.6-5.6l3.5-8.4l3.6-5.6l3.5-1.7l3.5-5.5l3.6-4.2l3.5-8.8l3.5-8.1l3.6-5.2l3.5-6.8l3.6-2.9l3.5-5.6l3.5-5.7l3.6-5.6l3.5-4.7l3.6-6.3l3.5-2.8l3.5-4.9l3.6-3.2l3.5-8.3l3.5-5.7l3.6-4.3l3.5-8.3l3.6-6.3l3.5-4.3l3.5-7.1l3.6-5.4l3.5-5l3.5-4.5l3.6-2l3.5-5.2l3.6-4.4l3.5-2.7l3.5-2.5l3.6-4.3l3.5-3l3.6-4.1l3.5-3.9l3.5-3.6l3.6-2.5l3.5-2.7l3.5-3.5l3.6-3.9l3.5-2.5l3.6-1.6l3.5-1.8l3.5-1.6l3.6-2.4l3.5-3.2l3.6-3.7l3.5-3.1l3.5-2.6l3.6-1.9l3.5-2.4l3.5-2.8l3.6-3.1l3.5-3.5l3.6-2.1l3.5-2l3.5-2.7l3.6-1.7l3.5-2.2l3.6-2.2l3.5-3.2l3.5-2.1l3.6-1.6l3.5-1.9l3.5-1.8l3.6-2.8l3.5-2.4l3.6-2.9l3.5-2.5l3.5-2.5l3.6-1.7l3.5-2.6l3.5-1.5l3.6-2.6l3.5-2.7l3.6-3.3l3.5-2.4l3.5-2.3l3.6-1.8l3.5-1.9l3.6-2.2l3.5-3l3.5-2.6l3.6-2.7l3.5-2.4l3.5-2.6l3.6-2.1l3.5-2.3l3.6-2.4l3.5-2.9l3.5-2.7l3.6-3.1l3.5-1.8l3.6-3.1l3.5-3.4l3.5-1.7l3.6-1.2" stroke="#997300" stroke-width="3.8"/>
<path d="M64.5 2062.3l3.5 0l3.6 0l3.5 0l3.6 0l3.5 0l3.5 0l3.6 0l3.5 0l3.5 0l3.6 0l3.5 0l3.6 0l3.5 0l3.5 0l3.6 0l3.5 0l3.6-.1l3.5-0l3.5-.1l3.6-.1l3.5-.1l3.5-.1l3.6-.2l3.5-.1l3.6-.3l3.5-.2l3.5-.4l3.6-.2l3.5-.3l3.5-.4l3.6-.4l3.5-.5l3.6-.5l3.5-.4l3.5-.6l3.6-.7l3.5-.4l3.6-.5l3.5-.6l3.5-.5l3.6-.4l3.5-.8l3.5-.2l3.6-.6l3.5-.4l3.6-.7l3.5-.5l3.5-.5l3.6-.7l3.5-.6l3.6-.4l3.5-.6l3.5-.6l3.6-.7l3.5-.5l3.5-.6l3.6-.5l3.5-.5l3.6-.6l3.5-.7l3.5-.9l3.6-.6l3.5-.7l3.6-.8l3.5-.6l3.5-.6l3.6-.6l3.5-.6l3.5-.6l3.6-1l3.5-.7l3.6-.7l3.5-.4l3.5-.8l3.6-1l3.5-.6l3.5-.6l3.6-1l3.5-.9l3.6-.9l3.5-.4l3.5-.8l3.6-.6l3.5-.8l3.6-.6l3.5-.6l3.5-.9l3.6-.7l3.5-.7l3.5-.9l3.6-.9l3.5-.7l3.6-.9l3.5-1l3.5-1.3l3.6-.5l3.5-.9l3.6-1l3.5-1.6l3.5-2.2l3.6-1.3l3.5-1.5l3.5-2.1l3.6-.7l3.5-2l3.6-.6l3.5-2.4l3.5-2.1l3.6-2.2l3.5-3l3.5-2.5l3.6-3.6l3.5-2.7l3.6-2.9l3.5-4.3l3.5-2.2l3.6-3.7l3.5-2.5l3.6-4.3l3.5-4.4l3.5-3.9l3.6-5.3l3.5-6.8l3.5-7.2l3.6-5.7l3.5-6l3.6-8l3.5-3.4l3.5-5.9l3.6-8.6l3.5-9.2l3.6-11.8l3.5-10.8l3.5-7.1l3.6-7.1l3.5-4l3.5-7.3l3.6-8.7l3.5-7.8l3.6-8l3.5-8.1l3.5-4.8l3.6-5.6l3.5-4.1l3.6-8.8l3.5-4.8l3.5-3.9l3.6-6.1l3.5-4.4l3.5-5.5l3.6-4l3.5-6.7l3.6-4.8l3.5-4.1l3.5-3.8l3.6-3.4l3.5-4.3l3.5-5.4l3.6-3.1l3.5-2.9l3.6-4.5l3.5-4.5l3.5-1.9l3.6-2.9l3.5-3l3.6-4.6l3.5-4.3l3.5-3.1l3.6-2.7l3.5-4.1l3.5-1.7l3.6-4.2l3.5-3.5l3.6-5l3.5-3.8l3.5-2.3l3.6-2.5l3.5-2.6l3.6-2.4l3.5-3.3l3.5-3.7l3.6-1.9l3.5-2.8l3.5-3.6l3.6-2.8l3.5-1.9l3.6-2.2l3.5-2.3l3.5-1.9l3.6-3.4l3.5-2.4l3.6-1.9l3.5-1.6l3.5-2.5l3.6-2.4l3.5-3.3l3.5-1.8l3.6-1.9l3.5-2.3l3.6-1.9l3.5-1.6l3.5-.9l3.6-2.4l3.5-1.7l3.5-1.2l3.6-1.4l3.5-1.1l3.6-1.3l3.5-1.2l3.5-1.9l3.6-1.7l3.5-1.4l3.6-1.6l3.5-1.5l3.5-1.5l3.6-1.3l3.5-1.8l3.5-1.9l3.6-1.6l3.5-1.9l3.6-1.3l3.5-1.4l3.5-2.5l3.6-1.7l3.5-2.1l3.6-1.8l3.5-1.9l3.5-2l3.6-2l3.5-1.6l3.5-3.7l3.6-2.4l3.5-1.1l3.6-2l3.5-2.2l3.5-2.6l3.6-1.7l3.5-3.8l3.6-4.1l3.5-2.6l3.5-3.3l3.6-3.2l3.5-2.3l3.5-4.3l3.6-2l3.5-3l3.6-3.3l3.5-4.8l3.5-4l3.6-4.1l3.5-3.8l3.5-4.8l3.6-4.5l3.5-5.1l3.6-5.5l3.5-4.9l3.5-4.3l3.6-4.4l3.5-6.2l3.6-4.1l3.5-3.7l3.5-5.7l3.6-5.3l3.5-4.4l3.5-4l3.6-3.6l3.5-5.4l3.6-3.5l3.5-5.2l3.5-3.5l3.6-5.1l3.5-5.8l3.6-5.3l3.5-5.2l3.5-5.3l3.6-3.4l3.5-4.3l3.5-6.2l3.6-9.1l3.5-5.9l3.6-4.7l3.5-5.3l3.5-6.8l3.6-9l3.5-6.4l3.5-9.1l3.6-8.1l3.5-6.9l3.6-5.7l3.5-7.7l3.5-7.1l3.6-10.3l3.5-6l3.6-12l3.5-10l3.5-8.9l3.6-10.4l3.5-8.5l3.5-4.7l3.6-9.3l3.5-9.7l3.6-6.9l3.5-6.2l3.5-9.7l3.6-10.2l3.5-8.6l3.6-9.6l3.5-8.8l3.5-8.4l3.6-9.1l3.5-11.2l3.5-5.5l3.6-9.4l3.5-13.2l3.6-9.2l3.5-8.4l3.5-9.3l3.6-5.6l3.5-6.2l3.6-6.6l3.5-7.8l3.5-11.3l3.6-11.3l3.5-7.7l3.5-7.3l3.6-9.7l3.5-10.1l3.6-9.2l3.5-4.9l3.5-7.4l3.6-3.7l3.5-8.9l3.5-6.7l3.6-7.3l3.5-10l3.6-8.2l3.5-5.8l3.5-5.1l3.6-4.7l3.5-4l3.6-5l3.5-7l3.5-3.5l3.6-3.6l3.5-4.2l3.5-4.8l3.6-4.7l3.5-3.1l3.6-4.3l3.5-4.1l3.5-2.9l3.6-4.1l3.5-3.4l3.6-4.9l3.5-4.3l3.5-3.2l3.6-4l3.5-3.3l3.5-3l3.6-3.1l3.5-4.5l3.6-3.2l3.5-2.5l3.5-3.4l3.6-4.3l3.5-4.9l3.6-2.1l3.5-3l3.5-3.3l3.6-2.6l3.5-4.2l3.5-3.4l3.6-3.5l3.5-4.9l3.6-2.7l3.5-4l3.5-4l3.6-2.8l3.5-2.8l3.5-4.5l3.6-3.5l3.5-3.2l3.6-2.5l3.5-4.4l3.5-3.9l3.6-4.9l3.5-3.8l3.6-3.1l3.5-3l3.5-3.1l3.6-2.9l3.5-3.7l3.5-3.4l3.6-3.5l3.5-3.8l3.6-3.3l3.5-2.8l3.5-4.2l3.6-4.6l3.5-2.3l3.6-3.3l3.5-3.5l3.5-3.5l3.6-2.5" stroke="#255E91" stroke-width="3.8"/>
<path d="M64.5 2062.3l3.5 0l3.6 0l3.5 0l3.6 0l3.5 0l3.5 0l3.6 0l3.5 0l3.5 0l3.6 0l3.5 0l3.6 0l3.5 0l3.5 0l3.6-.1l3.5-0l3.6-0l3.5-.2l3.5-.1l3.6-.2l3.5-.2l3.5-.2l3.6-.3l3.5-.4l3.6-.3l3.5-.4l3.5-.3l3.6-.6l3.5-.6l3.5-.4l3.6-.9l3.5-.6l3.6-.5l3.5-.7l3.5-1.2l3.6-.8l3.5-1.1l3.6-.5l3.5-1l3.5-1.4l3.6-.9l3.5-1.2l3.5-.9l3.6-1l3.5-1.1l3.6-1.8l3.5-.8l3.5-1.5l3.6-1.6l3.5-.7l3.6-1.2l3.5-1.8l3.5-1.4l3.6-.3l3.5-1.4l3.5-.9l3.6-1.4l3.5-1l3.6-1.2l3.5-1.1l3.5-1.6l3.6-1.4l3.5-1.2l3.6-1.3l3.5-1.4l3.5-1l3.6-1.7l3.5-1l3.5-1.6l3.6-1.3l3.5-1.7l3.6-.9l3.5-1l3.5-.9l3.6-2.1l3.5-1.4l3.5-.9l3.6-1.1l3.5-.9l3.6-1.6l3.5-1.3l3.5-.7l3.6-1.4l3.5-1.5l3.6-1.1l3.5-1.2l3.5-1l3.6-1.2l3.5-1.3l3.5-1l3.6-1.3l3.5-1.2l3.6-1l3.5-.8l3.5-1l3.6-1.4l3.5-1.5l3.6-.5l3.5-1.1l3.5-1.4l3.6-1.2l3.5-.8l3.5-1.3l3.6-.7l3.5-.8l3.6-1.3l3.5-.7l3.5-.8l3.6-.6l3.5-.9l3.5-1l3.6-1.2l3.5-.8l3.6-1.5l3.5-1.2l3.5-1.2l3.6-1.5l3.5-2.1l3.6-2.4l3.5-1.6l3.5-3l3.6-3.3l3.5-3.6l3.5-3.4l3.6-2.2l3.5-4.5l3.6-3.3l3.5-4l3.5-2.2l3.6-4.7l3.5-5.8l3.6-4.6l3.5-6l3.5-7l3.6-4.7l3.5-3.8l3.5-8l3.6-2.5l3.5-4.7l3.6-6.2l3.5-4.3l3.5-2.2l3.6-5.7l3.5-6.1l3.6-4.3l3.5-6.4l3.5-4.5l3.6-4.7l3.5-1.9l3.5-3.7l3.6-5.6l3.5-5.9l3.6-4.9l3.5-3.5l3.5-3.4l3.6-2.7l3.5-4.6l3.5-3.1l3.6-4.4l3.5-2.5l3.6-3.3l3.5-6.1l3.5-3.8l3.6-4.1l3.5-2.1l3.6-4.8l3.5-6.6l3.5-2.6l3.6-1.9l3.5-4.1l3.5-3.7l3.6-4.3l3.5-3.5l3.6-3.6l3.5-3.6l3.5-4.8l3.6-3.8l3.5-4.3l3.6-2.8l3.5-4.5l3.5-3.5l3.6-3.6l3.5-3.9l3.5-2.8l3.6-2.6l3.5-1.9l3.6-3.6l3.5-3.8l3.5-2.6l3.6-2.6l3.5-1.4l3.6-2l3.5-3.1l3.5-3.4l3.6-2.3l3.5-1.5l3.5-2l3.6-1.3l3.5-1.9l3.6-2.8l3.5-1.8l3.5-1.7l3.6-1.9l3.5-1.2l3.5-1.3l3.6-1.3l3.5-1.5l3.6-.9l3.5-1.7l3.5-1.6l3.6-.5l3.5-.5l3.6-1.2l3.5-2l3.5-1.5l3.6-1.8l3.5-1.6l3.5-1.6l3.6-1l3.5-1.2l3.6-1.8l3.5-2l3.5-2.1l3.6-1.9l3.5-1.5l3.6-2.2l3.5-1.9l3.5-2.4l3.6-.9l3.5-2.9l3.5-1.1l3.6-2.5l3.5-1.9l3.6-2.5l3.5-2.3l3.5-2.6l3.6-3l3.5-2.9l3.6-2l3.5-1l3.5-2.5l3.6-3.4l3.5-2.6l3.5-3.6l3.6-2.8l3.5-2.2l3.6-3.6l3.5-3.9l3.5-2.8l3.6-3.1l3.5-4l3.5-2.2l3.6-2.5l3.5-4l3.6-3.7l3.5-2.8l3.5-3l3.6-4.1l3.5-2.5l3.6-3.1l3.5-3.1l3.5-1.5l3.6-4.3l3.5-4.2l3.5-4.3l3.6-2.1l3.5-2.3l3.6-2.7l3.5-2.4l3.5-5.5l3.6-3l3.5-3.9l3.6-4.4l3.5-4.3l3.5-5.3l3.6-2.7l3.5-5.6l3.5-5.3l3.6-4.2l3.5-6.2l3.6-4l3.5-9.8l3.5-6.2l3.6-11.5l3.5-13.6l3.5-9.4l3.6-9.3l3.5-12.1l3.6-8.5l3.5-15.5l3.5-14l3.6-12.3l3.5-13.6l3.6-17.9l3.5-9l3.5-19.4l3.6-10.2l3.5-13.8l3.5-12.5l3.6-20.6l3.5-15.4l3.6-15.7l3.5-12.7l3.5-11.6l3.6-18.4l3.5-15.3l3.6-14.9l3.5-14.7l3.5-13.9l3.6-11.5l3.5-10.4l3.5-7.6l3.6-20.1l3.5-8.6l3.6-6.5l3.5-10.2l3.5-16.2l3.6-12.9l3.5-8.4l3.6-11.8l3.5-10.9l3.5-5.8l3.6-9.8l3.5-10.5l3.5-11.9l3.6-6.7l3.5-5.8l3.6-8.2l3.5-11.7l3.5-9.6l3.6-8.6l3.5-8.2l3.5-7.6l3.6-6.2l3.5-9.5l3.6-8.1l3.5-7.4l3.5-7.5l3.6-3.7l3.5-3l3.6-5.1l3.5-10.5l3.5-4.9l3.6-6.1l3.5-4.9l3.5-5.5l3.6-7.8l3.5-3.2l3.6-3.7l3.5-2.9l3.5-3.4l3.6-3.3l3.5-2.1l3.6-4.1l3.5-3.7l3.5-3l3.6-2.4l3.5-2.2l3.5-1.3l3.6-2.8l3.5-1.9l3.6-2.5l3.5-3.2l3.5-1.8l3.6-2l3.5-2.5l3.6-2.9l3.5-1.6l3.5-2.8l3.6-1.8l3.5-2.4l3.5-2.2l3.6-1.3l3.5-2.6l3.6-3.1l3.5-2.3l3.5-2.5l3.6-1.7l3.5-3.4l3.5-2l3.6-1.4l3.5-2.9l3.6-1.8l3.5-2.5l3.5-1.6l3.6-3.5l3.5-3.7l3.6-1.7l3.5-2.1l3.5-2.4l3.6-2.5l3.5-3l3.5-3.2l3.6-1.5l3.5-2.6l3.6-1.4l3.5-3.8l3.5-2.6l3.6-2.1l3.5-3.3l3.6-2l3.5-3l3.5-2.8l3.6-1.3" stroke="#43682B" stroke-width="2.2"/>
<path d="M64.5 2062.3l3.5 0l3.6 0l3.5 0l3.6 0l3.5 0l3.5 0l3.6 0l3.5 0l3.5 0l3.6 0l3.5 0l3.6 0l3.5 0l3.5 0l3.6 0l3.5 0l3.6 0l3.5 0l3.5 0l3.6-.1l3.5-0l3.5-0l3.6-.1l3.5-0l3.6-.1l3.5-0l3.5-.1l3.6-0l3.5-.1l3.5-.1l3.6-.1l3.5-.1l3.6-.1l3.5-.1l3.5-.1l3.6-.1l3.5-.1l3.6-.1l3.5-.2l3.5-.1l3.6-.1l3.5-.1l3.5-.2l3.6-.1l3.5-.1l3.6-.2l3.5-.1l3.5-.1l3.6-.1l3.5-.1l3.6-.1l3.5-.2l3.5-.2l3.6-.1l3.5-.1l3.5-.2l3.6-.1l3.5-.2l3.6-.1l3.5-.1l3.5-.2l3.6-.1l3.5-.1l3.6-.1l3.5-.2l3.5-.2l3.6-.2l3.5-.1l3.5-.2l3.6-.1l3.5-.2l3.6-.2l3.5-.2l3.5-.2l3.6-.1l3.5-.1l3.5-.2l3.6-.2l3.5-.1l3.6-.2l3.5-.2l3.5-.2l3.6-.1l3.5-.1l3.6-.1l3.5-.2l3.5-.2l3.6-.2l3.5-.2l3.5-.2l3.6-.1l3.5-.2l3.6-.2l3.5-.2l3.5-.3l3.6-.3l3.5-.2l3.6-.2l3.5-.4l3.5-.4l3.6-.4l3.5-.5l3.5-.5l3.6-.4l3.5-.6l3.6-.6l3.5-.8l3.5-.6l3.6-.6l3.5-.5l3.5-.6l3.6-.6l3.5-.6l3.6-.9l3.5-.5l3.5-.5l3.6-.4l3.5-.4l3.6-.2l3.5-.2l3.5-.3l3.6-.3l3.5-.2l3.5-.2l3.6-.2l3.5-.1l3.6-.2l3.5-.2l3.5-.2l3.6-.2l3.5-.2l3.6-.2l3.5-.1l3.5-.3l3.6-.2l3.5-.2l3.5-.3l3.6-.1l3.5-.3l3.6-.2l3.5-.2l3.5-.3l3.6-.2l3.5-.2l3.6-.1l3.5-.2l3.5-.2l3.6-.3l3.5-.3l3.5-.3l3.6-.2l3.5-.4l3.6-.3l3.5-.3l3.5-.4l3.6-.5l3.5-.5l3.5-.6l3.6-.5l3.5-.5l3.6-.6l3.5-.6l3.5-1.2l3.6-.9l3.5-1.1l3.6-1.4l3.5-1.5l3.5-2.2l3.6-3.1l3.5-3.9l3.5-4.3l3.6-4.3l3.5-6.6l3.6-4l3.5-6l3.5-8.4l3.6-7.6l3.5-9.3l3.6-8.4l3.5-7.2l3.5-2.5l3.6-5.3l3.5-4.7l3.5-4l3.6-4.2l3.5-3.1l3.6-3.8l3.5-4.4l3.5-2.4l3.6-3.9l3.5-3.2l3.6-3.1l3.5-2.5l3.5-2.2l3.6-1.5l3.5-1.9l3.5-3.6l3.6-3.4l3.5-3.8l3.6-3.4l3.5-2.9l3.5-1.8l3.6-2.4l3.5-3.3l3.5-3.6l3.6-2.6l3.5-2.7l3.6-2.3l3.5-3l3.5-3.1l3.6-3.4l3.5-3.7l3.6-4.4l3.5-4.1l3.5-3.4l3.6-4l3.5-3.8l3.5-5.5l3.6-5.8l3.5-5l3.6-5.6l3.5-4.6l3.5-3.9l3.6-4.4l3.5-4.9l3.6-6.2l3.5-7.7l3.5-7.8l3.6-5.2l3.5-5.7l3.5-6.4l3.6-7.8l3.5-8.2l3.6-9.1l3.5-7.9l3.5-5.4l3.6-6.6l3.5-4.2l3.6-8l3.5-8.7l3.5-8.9l3.6-6.8l3.5-7l3.5-6.5l3.6-4.6l3.5-5.6l3.6-6.6l3.5-6.3l3.5-5.3l3.6-5l3.5-3.3l3.5-5l3.6-5.8l3.5-6l3.6-5.4l3.5-4.7l3.5-4.7l3.6-4.2l3.5-3.7l3.6-5.6l3.5-7.3l3.5-7.2l3.6-6.6l3.5-6.7l3.5-6.4l3.6-7.4l3.5-8.2l3.6-9l3.5-9.6l3.5-7.5l3.6-6.7l3.5-4.5l3.6-3.6l3.5-7l3.5-7.7l3.6-5.8l3.5-4.4l3.5-3.1l3.6-3.3l3.5-2.1l3.6-1.9l3.5-2l3.5-1.6l3.6-1.6l3.5-.9l3.5-1l3.6-.9l3.5-.8l3.6-.9l3.5-.9l3.5-.7l3.6-.7l3.5-.6l3.6-.9l3.5-.7l3.5-.8l3.6-.9l3.5-.8l3.5-.9l3.6-.7l3.5-.8l3.6-.8l3.5-1.2l3.5-1.7l3.6-1.3l3.5-1.1l3.6-.9l3.5-1.1l3.5-1.3l3.6-1.1l3.5-1.2l3.5-1.1l3.6-1.3l3.5-.7l3.6-1.2l3.5-.9l3.5-1.5l3.6-1l3.5-.9l3.6-1l3.5-.9l3.5-.9l3.6-.7l3.5-1.1l3.5-1.2l3.6-.7l3.5-.7l3.6-.6l3.5-.8l3.5-.9l3.6-.8l3.5-.7l3.5-.9l3.6-.7l3.5-.5l3.6-.7l3.5-.5l3.5-.7l3.6-.6l3.5-.7l3.6-.4l3.5-.6l3.5-.4l3.6-.5l3.5-.6l3.5-.4l3.6-.4l3.5-.3l3.6-.4l3.5-.3l3.5-.3l3.6-.3l3.5-.4l3.6-.2l3.5-.3l3.5-.2l3.6-.2l3.5-.2l3.5-.3l3.6-.2l3.5-.2l3.6-.2l3.5-.1l3.5-.2l3.6-.3l3.5-.2l3.6-.2l3.5-.2l3.5-.2l3.6-.1l3.5-.1l3.5-.2l3.6-.2l3.5-.3l3.6-.2l3.5-.2l3.5-.2l3.6-.1l3.5-.3l3.5-.3l3.6-.2l3.5-.2l3.6-.2l3.5-.2l3.5-.2l3.6-.2l3.5-.2l3.6-.2l3.5-.3l3.5-.2l3.6-.2l3.5-.2l3.5-.2l3.6-.2l3.5-.2l3.6-.3l3.5-.2l3.5-.1l3.6-.3l3.5-.2l3.6-.2l3.5-.2l3.5-.3l3.6-.2" stroke="#698ED0" stroke-width="3.8"/>
<path d="M64.5 2062.3l3.5 0l3.6 0l3.5 0l3.6 0l3.5 0l3.5 0l3.6 0l3.5 0l3.5 0l3.6 0l3.5 0l3.6 0l3.5 0l3.5 0l3.6 0l3.5 0l3.6 0l3.5 0l3.5 0l3.6 0l3.5 0l3.5-.1l3.6-0l3.5-0l3.6-0l3.5-0l3.5-.1l3.6-0l3.5-0l3.5-.1l3.6-0l3.5-0l3.6-.1l3.5-0l3.5-.1l3.6-0l3.5-.1l3.6-0l3.5-.1l3.5-0l3.6-.1l3.5-0l3.5-.1l3.6-0l3.5-.1l3.6-0l3.5-.1l3.5-0l3.6-.1l3.5-0l3.6-.1l3.5-0l3.5-.1l3.6-0l3.5-.1l3.5-.1l3.6-.1l3.5-0l3.6-.1l3.5-.1l3.5-0l3.6-.1l3.5-0l3.6-.1l3.5-.1l3.5-0l3.6-0l3.5-.1l3.5-.1l3.6-0l3.5-.1l3.6-.1l3.5-.1l3.5-0l3.6-.1l3.5-.1l3.5-0l3.6-.1l3.5-.1l3.6-0l3.5-.1l3.5-.1l3.6-0l3.5-.1l3.6-.1l3.5-.1l3.5-0l3.6-.1l3.5-.1l3.5-0l3.6-.1l3.5-.1l3.6-.1l3.5-.1l3.5-0l3.6-.1l3.5-.2l3.6-.1l3.5-.1l3.5-.1l3.6-.1l3.5-.2l3.5-.2l3.6-.3l3.5-.2l3.6-.2l3.5-.2l3.5-.1l3.6-.2l3.5-.3l3.5-.3l3.6-.3l3.5-.3l3.6-.3l3.5-.1l3.5-.2l3.6-.2l3.5-.5l3.6-.2l3.5-.4l3.5-.3l3.6-.2l3.5-.2l3.5-.3l3.6-.3l3.5-.3l3.6-.3l3.5-.3l3.5-.3l3.6-.5l3.5-.1l3.6-.5l3.5-.4l3.5-.5l3.6-.4l3.5-.3l3.5-.5l3.6-.4l3.5-.4l3.6-.4l3.5-.5l3.5-.5l3.6-.6l3.5-.6l3.6-.4l3.5-.6l3.5-.7l3.6-.6l3.5-.7l3.5-.7l3.6-.7l3.5-1.1l3.6-1.2l3.5-1.6l3.5-1.1l3.6-1.5l3.5-1.6l3.5-1.6l3.6-1.4l3.5-1.5l3.6-1.7l3.5-1.7l3.5-1.8l3.6-1.7l3.5-1.1l3.6-2.7l3.5-1.8l3.5-2.4l3.6-2.3l3.5-2.6l3.5-2.8l3.6-1.5l3.5-1.9l3.6-2.3l3.5-2.4l3.5-2.3l3.6-3.1l3.5-1l3.6-1.6l3.5-1.7l3.5-2.5l3.6-2.1l3.5-2.4l3.5-1.3l3.6-2.4l3.5-1.5l3.6-.9l3.5-2.3l3.5-1.7l3.6-1.3l3.5-1.6l3.6-1l3.5-1.4l3.5-1.1l3.6-1.6l3.5-1.2l3.5-1l3.6-.8l3.5-.6l3.6-.7l3.5-.8l3.5-1l3.6-.8l3.5-1.1l3.5-.7l3.6-.3l3.5-.6l3.6-.5l3.5-.7l3.5-.6l3.6-.9l3.5-.4l3.6-.5l3.5-.4l3.5-.9l3.6-.9l3.5-.5l3.5-.6l3.6-.7l3.5-.6l3.6-.5l3.5-.7l3.5-1l3.6-.8l3.5-1.3l3.6-1.4l3.5-.7l3.5-1.2l3.6-1l3.5-1l3.5-1.2l3.6-1l3.5-1.1l3.6-1.2l3.5-1.3l3.5-1l3.6-1.1l3.5-1.4l3.6-1.8l3.5-1.1l3.5-.8l3.6-.4l3.5-1.2l3.5-1.4l3.6-1.1l3.5-1.5l3.6-.8l3.5-.6l3.5-.8l3.6-1l3.5-1.3l3.5-1l3.6-.7l3.5-1l3.6-1l3.5-1.1l3.5-.7l3.6-1.5l3.5-1.4l3.6-1.1l3.5-.7l3.5-.7l3.6-.7l3.5-1.4l3.5-1.3l3.6-1.5l3.5-1.6l3.6-.9l3.5-.7l3.5-1.4l3.6-.6l3.5-1.2l3.6-1.3l3.5-1.2l3.5-1.2l3.6-.8l3.5-1.4l3.5-.9l3.6-1.3l3.5-1.2l3.6-1.2l3.5-1.7l3.5-1.5l3.6-1.2l3.5-1.8l3.5-1.9l3.6-1.5l3.5-1.6l3.6-1.6l3.5-1.9l3.5-1l3.6-1.6l3.5-1.9l3.6-2.3l3.5-1.7l3.5-1.7l3.6-.7l3.5-1.2l3.5-.9l3.6-2l3.5-2.9l3.6-1.8l3.5-1.5l3.5-1.5l3.6-1.5l3.5-1.2l3.6-1.9l3.5-2.2l3.5-2.2l3.6-1.4l3.5-1.5l3.5-1.3l3.6-1.4l3.5-1.9l3.6-1.7l3.5-2.1l3.5-1.9l3.6-1.3l3.5-1.1l3.6-1.2l3.5-1.1l3.5-1.7l3.6-2l3.5-1.6l3.5-1l3.6-.9l3.5-1.2l3.6-1.5l3.5-1.4l3.5-1.3l3.6-.8l3.5-.9l3.5-.8l3.6-1.3l3.5-.8l3.6-1.4l3.5-.9l3.5-.6l3.6-.7l3.5-.7l3.6-.7l3.5-.8l3.5-.8l3.6-.5l3.5-.8l3.5-.5l3.6-.9l3.5-.7l3.6-.4l3.5-1.1l3.5-.6l3.6-.8l3.5-.9l3.6-.7l3.5-.4l3.5-.8l3.6-.5l3.5-.9l3.5-.8l3.6-.4l3.5-.7l3.6-.8l3.5-.9l3.5-.7l3.6-.6l3.5-.5l3.6-.4l3.5-.8l3.5-.7l3.6-1.1l3.5-.8l3.5-.7l3.6-.4l3.5-.9l3.6-.6l3.5-.7l3.5-.6l3.6-.7l3.5-.9l3.5-.5l3.6-.7l3.5-.8l3.6-.6l3.5-.5l3.5-1l3.6-1l3.5-.5l3.6-.4l3.5-.8l3.5-.7l3.6-.7l3.5-1.1l3.5-.7l3.6-.7l3.5-.4l3.6-.5l3.5-.8l3.5-.7l3.6-.5l3.5-.8l3.6-1l3.5-.7l3.5-.9l3.6-.4" stroke="#F1975A" stroke-width="3.8"/>
<path d="M64.5 2062.3l3.5 0l3.6 0l3.5 0l3.6 0l3.5 0l3.5 0l3.6 0l3.5 0l3.5 0l3.6 0l3.5 0l3.6 0l3.5 0l3.5 0l3.6 0l3.5 0l3.6 0l3.5-.1l3.5-0l3.6-.1l3.5-0l3.5-.1l3.6-0l3.5-.1l3.6-.1l3.5-.1l3.5-.2l3.6-.1l3.5-.1l3.5-.2l3.6-.2l3.5-.2l3.6-.2l3.5-.2l3.5-.3l3.6-.1l3.5-.3l3.6-.2l3.5-.3l3.5-.3l3.6-.2l3.5-.3l3.5-.2l3.6-.2l3.5-.3l3.6-.3l3.5-.2l3.5-.3l3.6-.3l3.5-.2l3.6-.2l3.5-.2l3.5-.3l3.6-.3l3.5-.3l3.5-.2l3.6-.3l3.5-.2l3.6-.2l3.5-.3l3.5-.4l3.6-.3l3.5-.3l3.6-.3l3.5-.3l3.5-.3l3.6-.3l3.5-.2l3.5-.3l3.6-.4l3.5-.3l3.6-.3l3.5-.3l3.5-.3l3.6-.4l3.5-.3l3.5-.4l3.6-.3l3.5-.4l3.6-.3l3.5-.3l3.5-.3l3.6-.5l3.5-.4l3.6-.3l3.5-.3l3.5-.3l3.6-.4l3.5-.4l3.5-.2l3.6-.4l3.5-.3l3.6-.5l3.5-.4l3.5-.4l3.6-.8l3.5-.4l3.6-.9l3.5-.4l3.5-.5l3.6-.9l3.5-.5l3.5-.6l3.6-1.1l3.5-.8l3.6-.9l3.5-.5l3.5-1.4l3.6-1.1l3.5-1.1l3.5-1.3l3.6-.9l3.5-1l3.6-.8l3.5-1.4l3.5-1.9l3.6-1.7l3.5-1.8l3.6-1.7l3.5-1.2l3.5-1.3l3.6-2.7l3.5-2.7l3.5-3.7l3.6-3l3.5-2.6l3.6-3.9l3.5-3.1l3.5-2.4l3.6-3.9l3.5-4l3.6-4l3.5-4.5l3.5-5.8l3.6-6.7l3.5-5.7l3.5-3.4l3.6-5.3l3.5-3.9l3.6-4.3l3.5-3.1l3.5-3.7l3.6-2.4l3.5-5.8l3.6-3.1l3.5-4.2l3.5-2.9l3.6-3.3l3.5-2.2l3.5-2.9l3.6-4l3.5-3.5l3.6-1.8l3.5-3.8l3.5-2l3.6-3.1l3.5-3.2l3.5-2.4l3.6-2.8l3.5-2.9l3.6-3.1l3.5-3.2l3.5-3.1l3.6-2.5l3.5-3.5l3.6-1.7l3.5-3.5l3.5-2.1l3.6-2.7l3.5-2l3.5-2.4l3.6-1.9l3.5-2.9l3.6-3.8l3.5-2.4l3.5-2.3l3.6-2.3l3.5-2.8l3.6-2.3l3.5-2.7l3.5-2.8l3.6-3.5l3.5-2.9l3.5-1.7l3.6-2.2l3.5-2.9l3.6-3.5l3.5-3.6l3.5-2.6l3.6-4.2l3.5-2.3l3.6-3.6l3.5-3.7l3.5-3.9l3.6-2.8l3.5-3.2l3.5-1.6l3.6-1.7l3.5-3l3.6-4.3l3.5-4.4l3.5-3.4l3.6-4.3l3.5-3.7l3.5-4.2l3.6-1.7l3.5-3l3.6-3.2l3.5-3.4l3.5-5.7l3.6-2.9l3.5-3.2l3.6-3.8l3.5-5.2l3.5-3.9l3.6-5.2l3.5-4.8l3.5-3.4l3.6-2l3.5-3.9l3.6-4l3.5-7.3l3.5-4.4l3.6-4.1l3.5-5.7l3.6-5.1l3.5-4.1l3.5-6.9l3.6-6.7l3.5-5.9l3.5-4.5l3.6-4.5l3.5-3.2l3.6-7.1l3.5-7.2l3.5-5.5l3.6-7.3l3.5-11.7l3.6-4l3.5-3.6l3.5-8l3.6-6.6l3.5-7l3.5-9.1l3.6-7.5l3.5-9.5l3.6-8.4l3.5-10.1l3.5-8.4l3.6-4.4l3.5-13.3l3.5-5.9l3.6-12.6l3.5-10l3.6-6.7l3.5-11.2l3.5-13.2l3.6-8.4l3.5-11.1l3.6-8.7l3.5-8.5l3.5-10.2l3.6-15.6l3.5-13.9l3.5-11.9l3.6-11.5l3.5-11.8l3.6-11.8l3.5-11.8l3.5-7.1l3.6-15.7l3.5-10.3l3.6-6l3.5-15.2l3.5-9l3.6-12.1l3.5-12.2l3.5-10.8l3.6-13.2l3.5-10.1l3.6-9.4l3.5-7.5l3.5-9.3l3.6-7.8l3.5-10.6l3.5-12.4l3.6-10.5l3.5-8.5l3.6-4.9l3.5-10.1l3.5-9.7l3.6-11.7l3.5-3.3l3.6-8.4l3.5-7.4l3.5-10.1l3.6-5.9l3.5-8.1l3.5-14l3.6-10.6l3.5-4.3l3.6-9.4l3.5-12.6l3.5-8l3.6-12l3.5-11.1l3.6-7.6l3.5-10.1l3.5-13.7l3.6-12.3l3.5-7.6l3.5-11.6l3.6-7.1l3.5-8.7l3.6-7l3.5-4.5l3.5-6.9l3.6-5.7l3.5-2.8l3.6-6.3l3.5-6.1l3.5-5.7l3.6-5.2l3.5-5.3l3.5-3.2l3.6-7.4l3.5-5.8l3.6-5.7l3.5-4.6l3.5-4.6l3.6-3.9l3.5-3.2l3.5-3.2l3.6-4.8l3.5-5.2l3.6-4l3.5-4.7l3.5-1.9l3.6-3l3.5-2.8l3.6-4.2l3.5-4l3.5-2.3l3.6-2.9l3.5-2.2l3.5-1.9l3.6-2.6l3.5-2.2l3.6-3.9l3.5-2.9l3.5-3.1l3.6-2.4l3.5-.8l3.6-3.2l3.5-2.7l3.5-1.2l3.6-2.9l3.5-3.1l3.5-3.2l3.6-1.6l3.5-2.7l3.6-2.6l3.5-2.2l3.5-2.1l3.6-2.5l3.5-2.4l3.6-2.4l3.5-2l3.5-1.6l3.6-3.2l3.5-2.9l3.5-1.7l3.6-2.1l3.5-2.5l3.6-1.4l3.5-2.8l3.5-3.7l3.6-2.2l3.5-1.7l3.5-3.2l3.6-2l3.5-2.2l3.6-2.1l3.5-2.4l3.5-1.4l3.6-1.8l3.5-1.8l3.6-3.1l3.5-2.5l3.5-3.3l3.6-1.4l3.5-2.3l3.5-3.3l3.6-1.8l3.5-1.5l3.6-2.3l3.5-2.6l3.5-2.8l3.6-3.3l3.5-3l3.6-2.8l3.5-2.3l3.5-1.8l3.6-1.8" stroke="#B7B7B7" stroke-width="3.8"/>
<path d="M64.5 2062.3l3.5 0l3.6 0l3.5 0l3.6 0l3.5 0l3.5 0l3.6 0l3.5 0l3.5 0l3.6 0l3.5 0l3.6 0l3.5 0l3.5-.1l3.6-0l3.5-.1l3.6-.1l3.5-.2l3.5-.1l3.6-.2l3.5-.3l3.5-.4l3.6-.5l3.5-.6l3.6-.6l3.5-1l3.5-.6l3.6-.5l3.5-.6l3.5-.9l3.6-1.2l3.5-1.4l3.6-1.2l3.5-1.6l3.5-1.4l3.6-1.2l3.5-1.3l3.6-1.7l3.5-1.8l3.5-1.2l3.6-1.3l3.5-1.8l3.5-2.4l3.6-1l3.5-1.1l3.6-2l3.5-2.1l3.5-1.7l3.6-2l3.5-2.1l3.6-1.1l3.5-2l3.5-2.5l3.6-2.7l3.5-2.7l3.5-2.1l3.6-1.4l3.5-3l3.6-2.7l3.5-2.1l3.5-3.4l3.6-3.5l3.5-2.6l3.6-1.1l3.5-2.7l3.5-2.5l3.6-2.7l3.5-3.4l3.5-2.7l3.6-3.7l3.5-4.2l3.6-1.8l3.5-3.3l3.5-2.2l3.6-2.9l3.5-2.5l3.5-3l3.6-1.6l3.5-2.4l3.6-1.6l3.5-2.3l3.5-2.2l3.6-2.8l3.5-1.4l3.6-1.5l3.5-2.8l3.5-2l3.6-2.6l3.5-1.4l3.5-2l3.6-2.1l3.5-2.1l3.6-1.3l3.5-1.1l3.5-1.6l3.6-1.3l3.5-1.1l3.6-1.3l3.5-.6l3.5-.8l3.6-1.2l3.5-.7l3.5-.8l3.6-.9l3.5-.9l3.6-.7l3.5-.4l3.5-.5l3.6-.8l3.5-.6l3.5-.5l3.6-.9l3.5-.8l3.6-1l3.5-.4l3.5-.7l3.6-.7l3.5-1.2l3.6-1l3.5-1.5l3.5-.4l3.6-1.8l3.5-1.3l3.5-1.8l3.6-2.3l3.5-2.1l3.6-1.5l3.5-2.8l3.5-2.2l3.6-1.8l3.5-2.5l3.6-1.9l3.5-1.9l3.5-2.4l3.6-2.6l3.5-2.5l3.5-2l3.6-2l3.5-2l3.6-3.7l3.5-2.6l3.5-1.7l3.6-2.8l3.5-2.4l3.6-1.9l3.5-1.8l3.5-2.5l3.6-1.8l3.5-2.3l3.5-1.5l3.6-1.3l3.5-1.4l3.6-1.6l3.5-1.8l3.5-1.7l3.6-1.7l3.5-1.6l3.5-1l3.6-1.6l3.5-1.4l3.6-1.8l3.5-1.1l3.5-1.3l3.6-1.2l3.5-1.5l3.6-1.6l3.5-2.2l3.5-1.4l3.6-1l3.5-1.4l3.5-1.7l3.6-1.6l3.5-1.6l3.6-2.2l3.5-1.7l3.5-1.3l3.6-1.6l3.5-.8l3.6-1.4l3.5-1.3l3.5-1.8l3.6-2.3l3.5-1.3l3.5-2.1l3.6-1l3.5-2.2l3.6-1l3.5-1.6l3.5-2.4l3.6-1.8l3.5-1.9l3.6-1.8l3.5-2l3.5-2l3.6-1.8l3.5-2.2l3.5-2.3l3.6-1.8l3.5-2.5l3.6-3.4l3.5-1.5l3.5-2.4l3.6-2.7l3.5-2.7l3.5-2.7l3.6-2.1l3.5-2.9l3.6-3.1l3.5-3.2l3.5-4.1l3.6-2.9l3.5-1.7l3.6-1.9l3.5-3.9l3.5-3.3l3.6-3.2l3.5-2.7l3.5-3.5l3.6-3.5l3.5-3l3.6-3.5l3.5-4.7l3.5-4.5l3.6-4.1l3.5-3.3l3.6-2.2l3.5-4.3l3.5-4.8l3.6-4.7l3.5-4.6l3.5-3.7l3.6-3.8l3.5-3.3l3.6-4.8l3.5-3.5l3.5-6.5l3.6-5.1l3.5-3.9l3.6-4.5l3.5-2.6l3.5-4.3l3.6-5.5l3.5-9.8l3.5-5.1l3.6-8.1l3.5-7l3.6-6.8l3.5-9.5l3.5-4.9l3.6-13.7l3.5-16.7l3.5-11.7l3.6-10.5l3.5-10.9l3.6-12.6l3.5-9.9l3.5-12.8l3.6-13.9l3.5-10.9l3.6-12.6l3.5-12.2l3.5-13.6l3.6-9.3l3.5-12.6l3.5-13.8l3.6-18.8l3.5-14.2l3.6-7.6l3.5-10.1l3.5-21.4l3.6-15.3l3.5-10.5l3.6-12l3.5-14.4l3.5-16.6l3.6-15.2l3.5-9.2l3.5-10.1l3.6-15.1l3.5-6.7l3.6-11.7l3.5-7.8l3.5-7.1l3.6-9.6l3.5-8l3.5-5.8l3.6-4.9l3.5-7.5l3.6-7.7l3.5-8.6l3.5-2.3l3.6-9.8l3.5-8.2l3.6-9.1l3.5-7.2l3.5-6l3.6-6.6l3.5-7.1l3.5-6l3.6-7.8l3.5-8.3l3.6-7l3.5-5.3l3.5-6.2l3.6-11l3.5-11.3l3.6-10.4l3.5-7.4l3.5-11.2l3.6-7.7l3.5-4.4l3.5-12.3l3.6-6l3.5-12.3l3.6-7.5l3.5-5.3l3.5-2.6l3.6-5.6l3.5-8.9l3.6-8.2l3.5-6.2l3.5-3.6l3.6-5.3l3.5-5.2l3.5-5.9l3.6-5.2l3.5-5.9l3.6-3.6l3.5-4.8l3.5-6.6l3.6-2.9l3.5-5.4l3.5-6.4l3.6-4.4l3.5-2.6l3.6-4.9l3.5-1.9l3.5-3.7l3.6-3l3.5-4.3l3.6-4.1l3.5-3.1l3.5-4.1l3.6-3l3.5-1.8l3.5-1.8l3.6-4.1l3.5-2.1l3.6-2.8l3.5-2.4l3.5-2.1l3.6-1.5l3.5-2.4l3.6-2.5l3.5-3.1l3.5-2.2l3.6-1.7l3.5-1.9l3.5-2.4l3.6-2.4l3.5-2.6l3.6-2.1l3.5-2.5l3.5-2.3l3.6-2.8l3.5-1.6l3.6-1.9l3.5-2.1l3.5-2.6l3.6-1.5l3.5-1.9l3.5-1.9l3.6-1l3.5-2.8l3.6-2.6l3.5-2.1l3.5-3.9l3.6-2.4l3.5-2.6l3.5-2.2l3.6-1.8l3.5-.9l3.6-2.8l3.5-2.1l3.5-1.4l3.6-2l3.5-2.3l3.6-2.4l3.5-2l3.5-1.8l3.6-2.7l3.5-1.7l3.5-2.1l3.6-2.4l3.5-1.2l3.6-2.5l3.5-1.3l3.5-2.2l3.6-2l3.5-2.4l3.6-2.7l3.5-2.1l3.5-2.7l3.6-2.3" stroke="#FFCD33" stroke-width="2.2"/>
<path d="M64.5 2062.3l3.5 0l3.6 0l3.5 0l3.6 0l3.5 0l3.5 0l3.6 0l3.5 0l3.5 0l3.6 0l3.5 0l3.6 0l3.5 0l3.5 0l3.6 0l3.5-.1l3.6-0l3.5-.1l3.5-.1l3.6-.2l3.5-.1l3.5-.2l3.6-.2l3.5-.3l3.6-.2l3.5-.3l3.5-.4l3.6-.6l3.5-.5l3.5-.5l3.6-.5l3.5-.4l3.6-.8l3.5-.7l3.5-.8l3.6-.9l3.5-1.1l3.6-.7l3.5-1.1l3.5-.7l3.6-1.1l3.5-.8l3.5-1.1l3.6-1.2l3.5-1.1l3.6-1.4l3.5-.9l3.5-.8l3.6-1.3l3.5-1l3.6-1.2l3.5-1.3l3.5-1.1l3.6-1.5l3.5-.6l3.5-1.2l3.6-1.5l3.5-1.2l3.6-1.3l3.5-1.4l3.5-.6l3.6-1.1l3.5-1.4l3.6-1.1l3.5-.8l3.5-1.1l3.6-1.3l3.5-1.2l3.5-1.6l3.6-1.5l3.5-.7l3.6-1.6l3.5-1.3l3.5-1.3l3.6-.8l3.5-.8l3.5-1.2l3.6-1.5l3.5-1.2l3.6-1.4l3.5-1l3.5-.7l3.6-.6l3.5-1.6l3.6-.7l3.5-1l3.5-1.1l3.6-.8l3.5-.9l3.5-1l3.6-1.8l3.5-1l3.6-1l3.5-1.1l3.5-1.1l3.6-.7l3.5-.9l3.6-.7l3.5-1.4l3.5-1.3l3.6-1.3l3.5-.5l3.5-1.3l3.6-1l3.5-.8l3.6-.8l3.5-.9l3.5-.7l3.6-1.1l3.5-.7l3.5-.8l3.6-1.2l3.5-1.2l3.6-1l3.5-1.1l3.5-1l3.6-1.5l3.5-1.4l3.6-1l3.5-1.5l3.5-2.1l3.6-1.4l3.5-2.1l3.5-1.6l3.6-1.7l3.5-.9l3.6-2.5l3.5-2.3l3.5-2.3l3.6-2l3.5-2l3.6-1.6l3.5-2.6l3.5-2.3l3.6-1.7l3.5-1.8l3.5-2.3l3.6-2.2l3.5-1l3.6-1.5l3.5-3.3l3.5-2.5l3.6-3.5l3.5-.9l3.6-1.7l3.5-1.5l3.5-2.2l3.6-2.5l3.5-2.3l3.5-1l3.6-1.9l3.5-.8l3.6-1.6l3.5-1.6l3.5-1.9l3.6-1.3l3.5-1.9l3.5-1.2l3.6-1.2l3.5-1.2l3.6-1.2l3.5-1.8l3.5-1.6l3.6-1.5l3.5-1.8l3.6-.8l3.5-1.1l3.5-1.4l3.6-1.7l3.5-1.4l3.5-1.6l3.6-1.3l3.5-.6l3.6-1.2l3.5-.9l3.5-1.7l3.6-1.6l3.5-1.8l3.6-1.5l3.5-1.3l3.5-1.9l3.6-1.7l3.5-1.2l3.5-1.5l3.6-1.9l3.5-2.1l3.6-1.3l3.5-1.5l3.5-1.8l3.6-2.3l3.5-1.8l3.6-1.9l3.5-1.5l3.5-1.5l3.6-1.5l3.5-2.5l3.5-2.1l3.6-2.7l3.5-2.4l3.6-2.6l3.5-.5l3.5-1.9l3.6-2.2l3.5-3l3.5-3.6l3.6-4.2l3.5-3.2l3.6-2.8l3.5-2.4l3.5-2.2l3.6-3.2l3.5-1.5l3.6-3.8l3.5-2.7l3.5-3.1l3.6-2.1l3.5-2.6l3.5-3.3l3.6-3.8l3.5-3.9l3.6-2.9l3.5-3.4l3.5-3.8l3.6-2.6l3.5-4l3.6-2.7l3.5-3.5l3.5-4.3l3.6-2.8l3.5-5.1l3.5-4.1l3.6-4.6l3.5-4l3.6-4.6l3.5-4.5l3.5-3.4l3.6-3.2l3.5-4l3.6-7.4l3.5-4.8l3.5-4.5l3.6-4.1l3.5-3.1l3.5-5.5l3.6-7.6l3.5-7.1l3.6-7.9l3.5-10.7l3.5-10.6l3.6-8.6l3.5-11.6l3.5-9.7l3.6-16.4l3.5-10.8l3.6-12.5l3.5-12.8l3.5-10.5l3.6-9.3l3.5-19.4l3.6-17.1l3.5-7.4l3.5-13.4l3.6-8.4l3.5-13.6l3.5-9.2l3.6-17l3.5-17.2l3.6-20.2l3.5-16.3l3.5-9.5l3.6-14l3.5-10l3.6-13l3.5-12.8l3.5-9.4l3.6-16.2l3.5-6.7l3.5-12.4l3.6-14.6l3.5-13.4l3.6-9.2l3.5-12.1l3.5-14.2l3.6-13.2l3.5-12.9l3.5-4.7l3.6-12l3.5-10.1l3.6-12.9l3.5-6.2l3.5-9.7l3.6-11.1l3.5-8.1l3.6-10.1l3.5-9.5l3.5-14.6l3.6-7.5l3.5-8.4l3.5-9.8l3.6-10.5l3.5-17.5l3.6-13l3.5-10.4l3.5-14.3l3.6-12.5l3.5-11.9l3.6-11.5l3.5-14.3l3.5-10.2l3.6-10.7l3.5-12.2l3.5-9l3.6-13l3.5-14.3l3.6-11.1l3.5-9l3.5-8.6l3.6-6l3.5-4.7l3.6-8.1l3.5-4.6l3.5-8.6l3.6-7.9l3.5-8.8l3.5-6.7l3.6-6l3.5-4.7l3.6-3.6l3.5-6.4l3.5-7.9l3.6-7.5l3.5-6.9l3.5-3.1l3.6-3.4l3.5-5.6l3.6-4.5l3.5-7.8l3.5-4.7l3.6-2.5l3.5-3.5l3.6-5.3l3.5-2l3.5-4.5l3.6-3.2l3.5-5.6l3.5-3.1l3.6-2.3l3.5-1.9l3.6-2.8l3.5-1.7l3.5-3.3l3.6-4.4l3.5-2.4l3.6-2l3.5-1.4l3.5-2.3l3.6-1.9l3.5-1.9l3.5-2.8l3.6-1.9l3.5-1.2l3.6-2.1l3.5-1.4l3.5-1.8l3.6-1.7l3.5-2.1l3.6-1.6l3.5-1.1l3.5-1.5l3.6-1.2l3.5-1.6l3.5-2.2l3.6-1.2l3.5-1.2l3.6-1.4l3.5-1.4l3.5-2.2l3.6-1.2l3.5-2.9l3.5-2.5l3.6-1.4l3.5-1.5l3.6-1.3l3.5-1.9l3.5-2l3.6-2.1l3.5-2.1l3.6-2.3l3.5-1.2l3.5-1.7l3.6-1.3l3.5-1.7l3.5-1.9l3.6-1.8l3.5-1.9l3.6-1.2l3.5-1.5l3.5-1.5l3.6-1.4l3.5-1.9l3.6-1.9l3.5-1.9l3.5-1.2l3.6-2.8" stroke="#7CAFDD" stroke-width="3.8"/>
<path d="M64.5 2062.3l3.5 0l3.6 0l3.5 0l3.6 0l3.5 0l3.5 0l3.6 0l3.5 0l3.5 0l3.6 0l3.5 0l3.6 0l3.5 0l3.5 0l3.6-.1l3.5-0l3.6-.1l3.5-.1l3.5-.3l3.6-.2l3.5-.1l3.5-.4l3.6-.3l3.5-.5l3.6-.6l3.5-.7l3.5-.1l3.6-.4l3.5-.8l3.5-.9l3.6-.8l3.5-.3l3.6-1.1l3.5-.8l3.5-.5l3.6-1.9l3.5-.7l3.6-1.3l3.5-1.4l3.5-1.3l3.6-1.4l3.5-1l3.5-1.1l3.6-1.4l3.5-1l3.6-1.3l3.5-2.3l3.5-1.1l3.6-1.5l3.5-2.4l3.6-2l3.5-1.7l3.5-1.7l3.6-1.2l3.5-.9l3.5-1.8l3.6-1.5l3.5-2.2l3.6-1.5l3.5-1.4l3.5-1.5l3.6-1.2l3.5-1.3l3.6-1.3l3.5-2l3.5-1.9l3.6-2.3l3.5-1.3l3.5-.6l3.6-1.7l3.5-2.4l3.6-1.4l3.5-1.4l3.5-1.5l3.6-.4l3.5-1.5l3.5-1.5l3.6-1.2l3.5-2.1l3.6-1.6l3.5-1.1l3.5-1.3l3.6-1.8l3.5-2.1l3.6-1.8l3.5-1.6l3.5-1.3l3.6-1.3l3.5-1.6l3.5-1l3.6-1.4l3.5-1.7l3.6-1.2l3.5-1.4l3.5-1.7l3.6-1.2l3.5-1.2l3.6-1.1l3.5-1.5l3.5-2.1l3.6-1.7l3.5-.6l3.5-1.2l3.6-1l3.5-1.1l3.6-.9l3.5-1.4l3.5-1.5l3.6-1.1l3.5-1.3l3.5-.5l3.6-.9l3.5-1.7l3.6-2l3.5-1.7l3.5-1.6l3.6-1.7l3.5-2l3.6-2l3.5-1.9l3.5-2.2l3.6-3.2l3.5-2.9l3.5-2.9l3.6-2l3.5-2l3.6-3.4l3.5-3.1l3.5-4.7l3.6-4.1l3.5-1.2l3.6-3.8l3.5-4.4l3.5-4.4l3.6-3.4l3.5-3.2l3.5-4.6l3.6-4l3.5-2.8l3.6-2.1l3.5-2.5l3.5-4.5l3.6-3.4l3.5-3.2l3.6-3.5l3.5-3.6l3.5-1.3l3.6-2.8l3.5-4.3l3.5-3.1l3.6-2.6l3.5-2.8l3.6-1.6l3.5-1.8l3.5-2.9l3.6-3.8l3.5-3.2l3.5-2.3l3.6-2.6l3.5-1.6l3.6-1.4l3.5-1.6l3.5-3l3.6-3.2l3.5-2.6l3.6-2l3.5-1.7l3.5-2.7l3.6-2.2l3.5-1.7l3.5-3.4l3.6-1.9l3.5-2.3l3.6-2l3.5-2.6l3.5-2.4l3.6-3.1l3.5-2.5l3.6-2l3.5-1.9l3.5-2.4l3.6-1.7l3.5-3.2l3.5-2.6l3.6-2.4l3.5-2.3l3.6-2.5l3.5-3.6l3.5-2.9l3.6-2.8l3.5-2.5l3.6-4.6l3.5-2.6l3.5-2.7l3.6-2.3l3.5-3.8l3.5-3.3l3.6-3.2l3.5-4l3.6-2.7l3.5-2.6l3.5-3.3l3.6-1.2l3.5-5.7l3.5-6.4l3.6-3.3l3.5-4.1l3.6-2.5l3.5-4.2l3.5-4.3l3.6-5.3l3.5-3.6l3.6-4.7l3.5-4.4l3.5-4.4l3.6-6.7l3.5-3.9l3.5-4.7l3.6-4.8l3.5-6.5l3.6-7.9l3.5-5.1l3.5-5.3l3.6-2.4l3.5-6l3.6-5.2l3.5-6.7l3.5-5.9l3.6-4.8l3.5-1.8l3.5-5l3.6-5l3.5-7.1l3.6-6.7l3.5-7.8l3.5-3.2l3.6-4.8l3.5-6.7l3.6-8.3l3.5-8l3.5-9.3l3.6-9.1l3.5-10.4l3.5-7.4l3.6-9.2l3.5-6.4l3.6-7.6l3.5-14l3.5-21.6l3.6-9.9l3.5-22.3l3.5-20.8l3.6-23.6l3.5-21.8l3.6-23.4l3.5-26.4l3.5-19.5l3.6-15.4l3.5-13.5l3.6-17.2l3.5-21.6l3.5-16.4l3.6-13.9l3.5-9.8l3.5-14.2l3.6-11.2l3.5-11.7l3.6-21.2l3.5-14.9l3.5-9.3l3.6-12.8l3.5-19.3l3.6-11.9l3.5-9.6l3.5-12l3.6-16.7l3.5-13.3l3.5-10.4l3.6-8.4l3.5-10l3.6-12.3l3.5-9.6l3.5-8.1l3.6-5.1l3.5-7.9l3.5-8.8l3.6-6.8l3.5-4.4l3.6-7.8l3.5-9.1l3.5-5.2l3.6-6.4l3.5-6.9l3.6-7.5l3.5-3.3l3.5-4.5l3.6-8.4l3.5-8.3l3.5-5.7l3.6-6.3l3.5-6.1l3.6-10.3l3.5-4.8l3.5-10.7l3.6-7l3.5-7.7l3.6-5.7l3.5-7.9l3.5-10.6l3.6-10.9l3.5-13.3l3.5-7.3l3.6-7.1l3.5-6.1l3.6-5.6l3.5-7.3l3.5-5.7l3.6-5.5l3.5-4.8l3.6-4.2l3.5-3.9l3.5-5.3l3.6-4.3l3.5-4.8l3.5-4.6l3.6-4.8l3.5-3l3.6-4.1l3.5-2.8l3.5-4.3l3.6-5.3l3.5-3.6l3.5-3l3.6-1.8l3.5-3.3l3.6-2.7l3.5-3.7l3.5-2.6l3.6-3.3l3.5-3.7l3.6-2.2l3.5-1.6l3.5-1.4l3.6-2.5l3.5-2.9l3.5-2.8l3.6-1.7l3.5-1.5l3.6-1.6l3.5-1.8l3.5-2.4l3.6-3l3.5-3.5l3.6-1.9l3.5-1.6l3.5-125.9l3.6-1.4l3.5-1.7l3.5-2l3.6-2.4l3.5-2.3l3.6-2.8l3.5-2.1l3.5-.8l3.6-1.6l3.5-4.1l3.6-3l3.5-3.7l3.5-2.2l3.6-1.9l3.5-2.5l3.5-3.2l3.6-3.4l3.5-2.7l3.6-3.3l3.5-2.8l3.5-1.6l3.6-1.8l3.5-1.6l3.5-3l3.6-3.1l3.5-2.4l3.6-2.1l3.5-2.3l3.5-2.5l3.6-2.9l3.5-3.2l3.6-2.9l3.5-2.9l3.5-1.4l3.6-2.3l3.5-2.3l3.5-1.7l3.6-2.3l3.5-3l3.6-2.5l3.5-1.4l3.5-1.9l3.6-3.1l3.5-2.7l3.6-2.5l3.5-3.1l3.5-1.7l3.6-1.6" stroke="#8CC168" stroke-width="3.8"/>
<path d="M64.5 2062.3l3.5 0l3.6 0l3.5 0l3.6 0l3.5 0l3.5 0l3.6 0l3.5 0l3.5 0l3.6 0l3.5 0l3.6 0l3.5 0l3.5 0l3.6 0l3.5 0l3.6-.1l3.5-0l3.5-.1l3.6-0l3.5-.1l3.5-.1l3.6-.1l3.5-.2l3.6-.2l3.5-.1l3.5-.2l3.6-.2l3.5-.1l3.5-.3l3.6-.4l3.5-.3l3.6-.4l3.5-.3l3.5-.3l3.6-.3l3.5-.4l3.6-.6l3.5-.5l3.5-.3l3.6-.4l3.5-.2l3.5-.4l3.6-.4l3.5-.5l3.6-.2l3.5-.4l3.5-.3l3.6-.5l3.5-.3l3.6-.6l3.5-.3l3.5-.5l3.6-.5l3.5-.4l3.5-.4l3.6-.4l3.5-.4l3.6-.6l3.5-.7l3.5-.4l3.6-.1l3.5-.3l3.6-.4l3.5-.5l3.5-.8l3.6-.5l3.5-.9l3.5-.4l3.6 0l3.5-.7l3.6 0l3.5-1.5l3.5 0l3.6-1.1l3.5 0l3.5 0l3.6-1.4l3.5 0l3.6-1.2l3.5 0l3.5-1l3.6 0l3.5 0l3.6-1.3l3.5 0l3.5-1.4l3.6 0l3.5-1.3l3.5 0l3.6 0l3.5-1.2l3.6 0l3.5-1.6l3.5 0l3.6-1.6l3.5 0l3.6 0l3.5-2l3.5 0l3.6-2.7l3.5 0l3.5-2.8l3.6 0l3.5 0l3.6-3.8l3.5 0l3.5-3.8l3.6 0l3.5-4.1l3.5 0l3.6 0l3.5-5.6l3.6 0l3.5-3.6l3.5 0l3.6-3.3l3.5 0l3.6 0l3.5-6.9l3.5 0l3.6-5.4l3.5 0l3.5-5.7l3.6 0l3.5 0l3.6-5.3l3.5 0l3.5-6.2l3.6 0l3.5-5.3l3.6 0l3.5 0l3.5-9.8l3.6 0l3.5-5.9l3.5 0l3.6-5.4l3.5 0l3.6 0l3.5-8.4l3.5 0l3.6-5.8l3.5 0l3.6-4.3l3.5 0l3.5 0l3.6-6.9l3.5 0l3.5-4.7l3.6 0l3.5-5.2l3.6 0l3.5 0l3.5-5.8l3.6 0l3.5-4.5l3.5 0l3.6-4.1l3.5 0l3.6 0l3.5-5.6l3.5 0l3.6-4.5l3.5 0l3.6-4.6l3.5 0l3.5 0l3.6-4.9l3.5 0l3.5-4.1l3.6 0l3.5-3.7l3.6 0l3.5 0l3.5-5.2l3.6 0l3.5-5l3.6 0l3.5-3.9l3.5 0l3.6 0l3.5-5.6l3.5 0l3.6-3.2l3.5 0l3.6-5.8l3.5 0l3.5 0l3.6-6.7l3.5 0l3.6-5.3l3.5 0l3.5-5.3l3.6 0l3.5 0l3.5-7.1l3.6 0l3.5-4l3.6 0l3.5-6.2l3.5 0l3.6 0l3.5-7.1l3.5 0l3.6-8.5l3.5 0l3.6-7l3.5 0l3.5 0l3.6-5.9l3.5 0l3.6-5.8l3.5 0l3.5-6.7l3.6 0l3.5 0l3.5-9.6l3.6 0l3.5-8.5l3.6 0l3.5-8.6l3.5 0l3.6 0l3.5-9.2l3.6 0l3.5-8.1l3.5 0l3.6-6.9l3.5 0l3.5 0l3.6-9.2l3.5 0l3.6-10.1l3.5 0l3.5-10.4l3.6 0l3.5 0l3.6-13.2l3.5 0l3.5-15.5l3.6 0l3.5-14.9l3.5 0l3.6 0l3.5-15l3.6 0l3.5-19.8l3.5 0l3.6-24.4l3.5 0l3.5 0l3.6-26.8l3.5 0l3.6-31.5l3.5 0l3.5-25.5l3.6 0l3.5 0l3.6-37.1l3.5 0l3.5-35.9l3.6 0l3.5-25.4l3.5 0l3.6 0l3.5-29l3.6 0l3.5-37l3.5 0l3.6-25.6l3.5 0l3.6 0l3.5-34.9l3.5 0l3.6-37.3l3.5 0l3.5-20.3l3.6 0l3.5 0l3.6-23.1l3.5 0l3.5-27.4l3.6 0l3.5-27.1l3.5 0l3.6 0l3.5-27.6l3.6 0l3.5-22l3.5 0l3.6-19.2l3.5 0l3.6 0l3.5-23.6l3.5 0l3.6-22.4l3.5 0l3.5-17.6l3.6 0l3.5 0l3.6-27.5l3.5 0l3.5-29.3l3.6 0l3.5-24.4l3.6-0l3.5-0l3.5-30.5l3.6-0l3.5-31.4l3.5-0l3.6-21.7l3.5 0l3.6 0l3.5-19.3l3.5-0l3.6-21.1l3.5-0l3.6-18.2l3.5 0l3.5 0l3.6-19.5l3.5 0l3.5-18.2l3.6 0l3.5-14.6l3.6 0l3.5 0l3.5-13.7l3.6 0l3.5-13.4l3.5 0l3.6-12.7l3.5 0l3.6 0l3.5-11l3.5 0l3.6-12.6l3.5 0l3.6-13.1l3.5 0l3.5 0l3.6-7.7l3.5 0l3.5-9.5l3.6 0l3.5-8.1l3.6 0l3.5 0l3.5-6.4l3.6 0l3.5-5.5l3.6 0l3.5-3.6l3.5 0l3.6 0l3.5-4.9l3.5 0l3.6-3.7l3.5 0l3.6-3.5l3.5 0l3.5 0l3.6-4l3.5 0l3.6-3.3l3.5 0l3.5-2.6l3.6 0l3.5 0l3.5-2.7l3.6 0l3.5-3l3.6 0l3.5-2.5l3.5 0l3.6 0l3.5-4.2l3.5 0l3.6-3.8l3.5 0l3.6-4.2l3.5 0l3.5 0l3.6-3.4l3.5 0l3.6-3.2l3.5 0l3.5-4.4l3.6 0l3.5 0l3.5-5.1l3.6 0l3.5-3.2l3.6 0l3.5-4.1l3.5 0l3.6 0l3.5-3.3l3.6 0l3.5-3.1l3.5 0l3.6-3" stroke="#335AA1" stroke-width="3.8"/>
<path d="M64.5 2062.3l3.5 0l3.6 0l3.5 0l3.6 0l3.5 0l3.5 0l3.6 0l3.5 0l3.5 0l3.6 0l3.5 0l3.6 0l3.5 0l3.5 0l3.6 0l3.5 0l3.6 0l3.5-.1l3.5-.1l3.6-0l3.5-.2l3.5-.1l3.6-.1l3.5-.1l3.6-.1l3.5-.2l3.5-.2l3.6-.2l3.5-.3l3.5-.2l3.6-.2l3.5-.5l3.6-.6l3.5-.4l3.5-.5l3.6-.3l3.5-.5l3.6-.3l3.5-.3l3.5-.5l3.6-.5l3.5-.4l3.5-.7l3.6-.2l3.5-.5l3.6-.5l3.5-.6l3.5-.5l3.6-.7l3.5-.7l3.6-.8l3.5-.6l3.5-.3l3.6-.8l3.5-.7l3.5-.6l3.6-.6l3.5-.4l3.6-.3l3.5-.5l3.5-.8l3.6-.9l3.5-.9l3.6-.5l3.5-.5l3.5-.1l3.6-.5l3.5-.6l3.5-.8l3.6-.5l3.5-.6l3.6-.4l3.5-.7l3.5-.7l3.6-.5l3.5-.9l3.5-.7l3.6-.4l3.5-.6l3.6-.4l3.5-.6l3.5-.6l3.6-.9l3.5-.7l3.6-.4l3.5-.5l3.5-.4l3.6-.3l3.5-.5l3.5-.5l3.6-.4l3.5-.7l3.6-.5l3.5-.6l3.5-.4l3.6-.6l3.5-.7l3.6-.7l3.5-.6l3.5-.2l3.6-.6l3.5-.5l3.5-.5l3.6-.6l3.5-.5l3.6-.4l3.5-.3l3.5-.4l3.6-.1l3.5-.6l3.5-.4l3.6-.6l3.5-.5l3.6-.6l3.5-.4l3.5-.9l3.6-.7l3.5-.9l3.6-.7l3.5-.8l3.5-1l3.6-.9l3.5-1.1l3.5-1.4l3.6-2.4l3.5-2l3.6-1.7l3.5-2.1l3.5-1.4l3.6-2l3.5-2.3l3.6-2.5l3.5-2.9l3.5-2.3l3.6-1.7l3.5-2.5l3.5-2.4l3.6-2l3.5-3.1l3.6-3.2l3.5-2.9l3.5-2.3l3.6-2l3.5-2.3l3.6-1.9l3.5-2l3.5-2.6l3.6-1.7l3.5-1.5l3.5-1.7l3.6-1.9l3.5-2.1l3.6-1.5l3.5-1.7l3.5-1.8l3.6-.8l3.5-.9l3.5-1.8l3.6-1.5l3.5-1.6l3.6-2.2l3.5-1.7l3.5-1.6l3.6-1l3.5-1.2l3.6-1.4l3.5-1.9l3.5-1l3.6-1.4l3.5-1.7l3.5-1l3.6-1.4l3.5-1.7l3.6-1.9l3.5-1.6l3.5-1.2l3.6-2.3l3.5-.8l3.6-2l3.5-.8l3.5-2l3.6-1.8l3.5-2.3l3.5-2l3.6-1.4l3.5-.9l3.6-1.3l3.5-1.8l3.5-1.9l3.6-2l3.5-1.3l3.6-1.6l3.5-2.4l3.5-2.6l3.6-1.4l3.5-2l3.5-2.1l3.6-2.6l3.5-1.6l3.6-2.9l3.5-2.4l3.5-3.2l3.6-2l3.5-2.1l3.5-2.6l3.6-2.1l3.5-1l3.6-2.7l3.5-3.3l3.5-3.5l3.6-2.4l3.5-3.4l3.6-2.2l3.5-3.2l3.5-3l3.6-3.2l3.5-3l3.5-2.1l3.6-3.4l3.5-2.9l3.6-3.3l3.5-2.8l3.5-2.9l3.6-3.6l3.5-3.3l3.6-3.1l3.5-3.6l3.5-2.3l3.6-3.5l3.5-4.9l3.5-5.1l3.6-5.6l3.5-3.2l3.6-1.9l3.5-2.5l3.5-3.7l3.6-5.3l3.5-5.6l3.6-4.7l3.5-3.5l3.5-3.9l3.6-4.5l3.5-6.3l3.5-6.4l3.6-5.4l3.5-4.7l3.6-8.2l3.5-5.3l3.5-6.1l3.6-8l3.5-11.5l3.5-8.5l3.6-8.8l3.5-6.7l3.6-8l3.5-5.5l3.5-9.9l3.6-12.3l3.5-11.8l3.6-9.1l3.5-7.2l3.5-9.4l3.6-8l3.5-11.1l3.5-6.7l3.6-7.9l3.5-11.3l3.6-7.1l3.5-6.6l3.5-6.7l3.6-13.9l3.5-8.5l3.6-11.8l3.5-7.1l3.5-8.8l3.6-13.2l3.5-13l3.5-7.3l3.6-8.1l3.5-13.9l3.6-6.7l3.5-4.1l3.5-8.8l3.6-6.4l3.5-7.5l3.5-14.4l3.6-9.5l3.5-7.9l3.6-9.3l3.5-7.6l3.5-11.1l3.6-9.8l3.5-14.1l3.6-12.2l3.5-12.1l3.5-8.5l3.6-5.9l3.5-8.2l3.5-8.9l3.6-7.1l3.5-8.9l3.6-12.6l3.5-3.6l3.5-7.9l3.6-8l3.5-13.1l3.6-11.9l3.5-14.9l3.5-11.9l3.6-9.2l3.5-7.7l3.5-5.6l3.6-13.6l3.5-10.9l3.6-13l3.5-12.3l3.5-11.7l3.6-9.7l3.5-11.9l3.6-6.4l3.5-13.3l3.5-14.4l3.6-9.7l3.5-5l3.5-8.4l3.6-7l3.5-8.6l3.6-13.2l3.5-9.7l3.5-6.5l3.6-6.5l3.5-10.6l3.5-5.1l3.6-9.2l3.5-8.4l3.6-9.2l3.5-5.5l3.5-3.8l3.6-4.2l3.5-4.3l3.6-10.1l3.5-6.4l3.5-5.5l3.6-6.5l3.5-4.5l3.5-3.1l3.6-4.4l3.5-4.4l3.6-5.4l3.5-5.2l3.5-2.7l3.6-2.5l3.5-2.3l3.6-3.6l3.5-3.2l3.5-3.8l3.6-3.6l3.5-2.1l3.5-2.2l3.6-2.8l3.5-2.6l3.6-2.8l3.5-2.5l3.5-2.4l3.6-1.9l3.5-2l3.6-1.9l3.5-1.4l3.5-3.4l3.6-2.4l3.5-3.1l3.5-2.8l3.6-1.8l3.5-1l3.6-3l3.5-3l3.5-3l3.6-3.8l3.5-3.1l3.5-1.6l3.6-2.1l3.5-1.3l3.6-3l3.5-4.2l3.5-2.7l3.6-3.3l3.5-1.4l3.6-2.2l3.5-3.1l3.5-3.9l3.6-3.2l3.5-3.3l3.5-3.5l3.6-.4l3.5-1.1l3.6-3.8l3.5-4.2l3.5-3.1l3.6-2.8l3.5-2.6l3.6-2l3.5-1.6l3.5-2.4l3.6-3" stroke="#D26012" stroke-width="2.2"/>
<path d="M64.5 2062.3l3.5 0l3.6 0l3.5 0l3.6 0l3.5 0l3.5 0l3.6 0l3.5 0l3.5 0l3.6 0l3.5 0l3.6 0l3.5-.1l3.5-0l3.6-.1l3.5-0l3.6-.2l3.5-.4l3.5-.3l3.6-.6l3.5-.5l3.5-.9l3.6-.7l3.5-1.1l3.6-1.2l3.5-1.3l3.5-1.2l3.6-1.6l3.5-1.4l3.5-3.3l3.6-4.4l3.5-4.2l3.6-4.1l3.5-3.4l3.5-3.7l3.6-4.9l3.5-4.4l3.6-4.2l3.5-5.3l3.5-4.1l3.6-3.1l3.5-2.3l3.5-2.3l3.6-1.9l3.5-2l3.6-1.9l3.5-1.9l3.5-1.6l3.6-1l3.5-1.7l3.6-.9l3.5-1.3l3.5-1.7l3.6-1.8l3.5-1l3.5-.9l3.6-1l3.5-1l3.6-1.3l3.5-1.2l3.5-1l3.6-1.5l3.5-.9l3.6-1.6l3.5-1.3l3.5-1.2l3.6-.9l3.5-.9l3.5-.6l3.6-1.2l3.5-1l3.6-1.4l3.5-1l3.5-1.3l3.6-.8l3.5-.6l3.5-1.4l3.6-1.5l3.5-.4l3.6-1.7l3.5-1.1l3.5-1.1l3.6-.7l3.5-.9l3.6-1.3l3.5-1l3.5-1.2l3.6-1.1l3.5-1.6l3.5-1.2l3.6-.6l3.5-1.1l3.6-.9l3.5-1.1l3.5-1.3l3.6-1.8l3.5-1.4l3.6-1.6l3.5-1.4l3.5-1.6l3.6-1.9l3.5-1.8l3.5-2.7l3.6-2.4l3.5-1.8l3.6-2l3.5-1l3.5-2.3l3.6-3.5l3.5-1.6l3.5-2.5l3.6-2.6l3.5-1.9l3.6-2.2l3.5-2.3l3.5-3l3.6-2.4l3.5-3.1l3.6-2.7l3.5-2.1l3.5-3.7l3.6-2l3.5-1.9l3.5-2.2l3.6-1.8l3.5-2.4l3.6-2.8l3.5-3.8l3.5-2.3l3.6-2.7l3.5-3.3l3.6-0l3.5-8.6l3.5-4.1l3.6-8.7l3.5-6.8l3.5-8.1l3.6-8.9l3.5-0l3.6-20l3.5-9l3.5-8.5l3.6-10.5l3.5-10.2l3.6-7.5l3.5-0l3.5-11.2l3.6-6.6l3.5-9.2l3.5-9l3.6-6l3.5-2.9l3.6-0l3.5-13.5l3.5-8.5l3.6-4.3l3.5-6.2l3.5-3.8l3.6-5.7l3.5-0l3.6-6.9l3.5-4.9l3.5-6l3.6-3l3.5-2.2l3.6-3.5l3.5-0l3.5-4.7l3.6-2.7l3.5-3.7l3.5-2.4l3.6-4l3.5-2.9l3.6 0l3.5-5l3.5-1.6l3.6-2.4l3.5-1.4l3.6-1.8l3.5-2.1l3.5 0l3.6-2.9l3.5-1.8l3.5-2l3.6-1.8l3.5-1.4l3.6-1.2l3.5 0l3.5-2.6l3.6-1.8l3.5-.6l3.6-1.8l3.5-1.5l3.5-1.7l3.6 0l3.5-2.9l3.5-1.6l3.6-1.7l3.5-2.2l3.6-1.6l3.5-1.4l3.5 0l3.6-3.6l3.5-1.7l3.5-1.8l3.6-2.3l3.5-2l3.6-1.5l3.5-0l3.5-3.1l3.6-.9l3.5-1.7l3.6-1.7l3.5-2.1l3.5-1.8l3.6-0l3.5-4.7l3.5-1.9l3.6-2.7l3.5-1.7l3.6-1.6l3.5-2.4l3.5 0l3.6-3.9l3.5-2.2l3.6-1.6l3.5-1.5l3.5-1.7l3.6-2l3.5 0l3.5-3.5l3.6-1.8l3.5-1.6l3.6-3.4l3.5-2.5l3.5-2.2l3.6 0l3.5-3.1l3.6-2.2l3.5-2.9l3.5-2.2l3.6-3.1l3.5-3.8l3.5 0l3.6-6l3.5-1.7l3.6-4.1l3.5-4.7l3.5-4.4l3.6-3.7l3.5 0l3.5-9.6l3.6-5.4l3.5-4.6l3.6-6.9l3.5-7.8l3.5-4.9l3.6 0l3.5-9.8l3.6-6.7l3.5-6.6l3.5-5.5l3.6-7.1l3.5-4.2l3.5 0l3.6-13l3.5-5.1l3.6-4.3l3.5-7.8l3.5-6.6l3.6-5.1l3.5-0l3.6-6.7l3.5-4.9l3.5-9.8l3.6-7.6l3.5-5.8l3.5-8.5l3.6-0l3.5-12.9l3.6-7.3l3.5-4.6l3.5-8.7l3.6-10.7l3.5-4.4l3.5-0l3.6-13.5l3.5-7.9l3.6-8.6l3.5-9.3l3.5-10l3.6-8.5l3.5-0l3.6-17.8l3.5-9.1l3.5-6.2l3.6-9l3.5-7.5l3.5-6.3l3.6-0l3.5-19.2l3.6-7.8l3.5-4.5l3.5-9.6l3.6-11.5l3.5-8.6l3.6-0l3.5-19.5l3.5-8l3.6-8.7l3.5-9.6l3.5-9.1l3.6-11l3.5-0l3.6-16.1l3.5-7.4l3.5-8.5l3.6-12.5l3.5-7.8l3.6-9.5l3.5-0l3.5-13.6l3.6-9.9l3.5-11.1l3.5-8.9l3.6-9.1l3.5-7.9l3.6-0l3.5-18.5l3.5-6.2l3.6-5.2l3.5-8l3.5-6.3l3.6-7l3.5-0l3.6-11.4l3.5-4.6l3.5-6.1l3.6-4.2l3.5-6.3l3.6-4.3l3.5-0l3.5-10.6l3.6-4.5l3.5-3.7l3.5-5l3.6-3.8l3.5-3.8l3.6-0l3.5-7.1l3.5-1.7l3.6-3.2l3.5-3.1l3.6-2.7l3.5-1.9l3.5-0l3.6-4l3.5-1.4l3.5-1l3.6-2l3.5-1.8l3.6-1.2l3.5-0l3.5-3.3l3.6-1.5l3.5-1.7l3.6-1.3l3.5-1l3.5-1.4l3.6-0l3.5-3l3.5-.9l3.6-1.6l3.5-1.6l3.6-1.8l3.5-1.3l3.5-0l3.6-3.1l3.5-2.2l3.5-1.9l3.6-2.2l3.5-1.7l3.6-.8l3.5-0l3.5-3.2l3.6-2.2l3.5-2.2l3.6-1.8l3.5-1.1l3.5-1.7l3.6-0l3.5-4.1l3.5-1.5l3.6-1.6l3.5-1.6l3.6-2.2l3.5-2l3.5-0l3.6-3l3.5-1.4l3.6-1.2l3.5-1.5l3.5-1.8l3.6-2.7" stroke="#848484" stroke-width="2.2"/>
<path d="M64.5 2062.3l3.5 0l3.6 0l3.5 0l3.6 0l3.5 0l3.5 0l3.6 0l3.5 0l3.5 0l3.6 0l3.5 0l3.6 0l3.5 0l3.5 0l3.6 0l3.5 0l3.6 0l3.5-.1l3.5-0l3.6-.1l3.5-0l3.5-.1l3.6-.1l3.5-.1l3.6-.2l3.5-.1l3.5-.2l3.6-.1l3.5-.2l3.5-.2l3.6-.1l3.5-.2l3.6-.2l3.5-.2l3.5-.3l3.6-.3l3.5-.4l3.6-.3l3.5-.4l3.5-.4l3.6-.4l3.5-.2l3.5-.3l3.6-.4l3.5-.3l3.6-.5l3.5-.5l3.5-.5l3.6-.3l3.5-.4l3.6-.2l3.5-.5l3.5-.5l3.6-.4l3.5-.5l3.5-.4l3.6-.1l3.5-.3l3.6-.5l3.5-.5l3.5-.4l3.6-.5l3.5-.6l3.6-.3l3.5-.3l3.5-.4l3.6-.4l3.5-.6l3.5-.4l3.6-.5l3.5-.4l3.6-.4l3.5-.5l3.5-.4l3.6-.3l3.5-.5l3.5-.4l3.6-.2l3.5-.3l3.6-.5l3.5-.5l3.5-.6l3.6-.4l3.5-.4l3.6-.3l3.5-.4l3.5-.3l3.6-.4l3.5-.4l3.5-.4l3.6-.5l3.5-.2l3.6-.2l3.5-.3l3.5-.6l3.6-.4l3.5-.4l3.6-.3l3.5-.4l3.5-.2l3.6-.4l3.5-.4l3.5-.6l3.6-.4l3.5-.3l3.6-.2l3.5-.5l3.5-.5l3.6-.4l3.5-.4l3.5-.5l3.6-.1l3.5-.3l3.6-.2l3.5-.4l3.5-.4l3.6-.5l3.5-.3l3.6-.3l3.5-.3l3.5-.3l3.6-.3l3.5-.4l3.5-.2l3.6-.4l3.5-.2l3.6-.2l3.5-.2l3.5-.3l3.6-.4l3.5-.2l3.6-.4l3.5-.3l3.5-.2l3.6-.2l3.5-.3l3.5-.1l3.6-.2l3.5-.4l3.6-.2l3.5-.3l3.5-.2l3.6-.2l3.5-.2l3.6-.3l3.5-.4l3.5-.1l3.6-.2l3.5-.2l3.5-.2l3.6-.3l3.5-.1l3.6-.3l3.5-.3l3.5-.2l3.6-.1l3.5-.3l3.5-.2l3.6-.2l3.5-.2l3.6-.2l3.5-.2l3.5-.1l3.6-.2l3.5-.2l3.6-.1l3.5-.3l3.5-.2l3.6-.1l3.5-.1l3.5-.2l3.6-.2l3.5-.2l3.6-.3l3.5-.1l3.5-.3l3.6-.1l3.5-.3l3.6-.2l3.5-.1l3.5-.2l3.6-.2l3.5-.2l3.5-.2l3.6-.2l3.5-.2l3.6-.2l3.5-.3l3.5-.3l3.6-.2l3.5-.1l3.6-.3l3.5-.3l3.5-.4l3.6-.2l3.5-.2l3.5-.2l3.6-.2l3.5-.3l3.6-.4l3.5-.3l3.5-.3l3.6-.3l3.5-.3l3.5-.2l3.6-.4l3.5-.4l3.6-.3l3.5-.3l3.5-.4l3.6-.3l3.5-.4l3.6-.4l3.5-.2l3.5-.4l3.6-.3l3.5-.3l3.5-.3l3.6-.4l3.5-.4l3.6-.4l3.5-.4l3.5-.5l3.6-.4l3.5-.5l3.6-.4l3.5-.4l3.5-.3l3.6-.6l3.5-.4l3.5-.3l3.6-.4l3.5-.4l3.6-.6l3.5-.3l3.5-.5l3.6-.6l3.5-.3l3.6-.4l3.5-.8l3.5-.7l3.6-.7l3.5-.8l3.5-.8l3.6-.8l3.5-.6l3.6-1.3l3.5-1l3.5-2.4l3.6-1.9l3.5-1.1l3.5-1.4l3.6-2.3l3.5-1.8l3.6-3.4l3.5-3.2l3.5-3.4l3.6-2.2l3.5-2.1l3.6-1l3.5-2.1l3.5-1.4l3.6-2l3.5-1.5l3.5-2.1l3.6-2l3.5-1.6l3.6-1.3l3.5-2.5l3.5-2.8l3.6-2.3l3.5-2.6l3.6-2.5l3.5-1.2l3.5-2l3.6-1.5l3.5-2.5l3.5-3.7l3.6-2.6l3.5-3.3l3.6-3.1l3.5-1.4l3.5-3.7l3.6-6.2l3.5-4.8l3.5-4.9l3.6-3.4l3.5-2.5l3.6-3.1l3.5-9l3.5-5.4l3.6-4.9l3.5-6l3.6-2.7l3.5-6.8l3.5-6.8l3.6-4.1l3.5-6.3l3.5-4.8l3.6-6.7l3.5-3.6l3.6-4.2l3.5-6.3l3.5-5.8l3.6-5.3l3.5-4.3l3.6-4.2l3.5-7.3l3.5-5.5l3.6-4.9l3.5-7l3.5-5.9l3.6-5l3.5-5.3l3.6-4.6l3.5-4.3l3.5-7.5l3.6-5.2l3.5-5.5l3.6-5.1l3.5-4.4l3.5-3.5l3.6-2.5l3.5-4.7l3.5-4.1l3.6-4.5l3.5-5.9l3.6-4.1l3.5-7.3l3.5-5.8l3.6-3.2l3.5-6.7l3.5-5l3.6-2l3.5-4.3l3.6-2.7l3.5-2l3.5-3.3l3.6-4.6l3.5-4l3.6-2.5l3.5-2.9l3.5-2.4l3.6-3.3l3.5-2.4l3.5-2.1l3.6-2.5l3.5-1.9l3.6-2.5l3.5-2.9l3.5-1.1l3.6-2.3l3.5-2.2l3.6-2.7l3.5-1.6l3.5-2.4l3.6-2.1l3.5-2.1l3.5-.5l3.6-1.4l3.5-1.6l3.6-1.8l3.5-1.2l3.5-1.7l3.6-2l3.5-1.6l3.6-.9l3.5-1.4l3.5-1.9l3.6-1.6l3.5-1.2l3.5-1.8l3.6-1.6l3.5-2l3.6-1.8l3.5-2.6l3.5-1.7l3.6-1.2l3.5-1.8l3.5-1.3l3.6-3l3.5-3l3.6-1.7l3.5-2.7l3.5-2.9l3.6-1.8l3.5-2.5l3.6-2.2l3.5-3l3.5-3.1l3.6-3.3l3.5-1.9l3.5-1.8l3.6-3l3.5-2.7l3.6-3.9l3.5-3.2l3.5-2.4l3.6-3.7l3.5-2.9l3.6-3.3l3.5-2.8l3.5-3.3l3.6-3.6" stroke="#CC9A00" stroke-width="3.8"/>
<path d="M64.5 2062.3l3.5 0l3.6 0l3.5 0l3.6 0l3.5 0l3.5 0l3.6 0l3.5 0l3.5 0l3.6 0l3.5 0l3.6 0l3.5 0l3.5 0l3.6 0l3.5-.1l3.6-0l3.5-.1l3.5-.1l3.6-.2l3.5-.2l3.5-.3l3.6-.1l3.5-.3l3.6-.3l3.5-.5l3.5-.3l3.6-.5l3.5-.6l3.5-.7l3.6-.7l3.5-.9l3.6-.6l3.5-1.3l3.5-1.6l3.6-1.4l3.5-.3l3.6-1.5l3.5-1.4l3.5-1.4l3.6-2.4l3.5-2l3.5-1.6l3.6-1.7l3.5-2.7l3.6-.8l3.5-1.6l3.5-1.5l3.6-2.6l3.5-2.3l3.6-1.6l3.5-1.8l3.5-1.1l3.6-1.1l3.5-2.6l3.5-3l3.6-1.9l3.5-1.7l3.6-1l3.5-3.2l3.5-1.4l3.6-2l3.5-2.6l3.6-3.3l3.5-2.3l3.5-2.1l3.6-2.1l3.5-2.7l3.5-2.4l3.6-2.7l3.5-2.4l3.6-1.7l3.5-3l3.5-1.6l3.6-1.6l3.5-2.4l3.5-2.7l3.6-3.1l3.5-1.5l3.6-1.7l3.5-2.5l3.5-2.8l3.6-2.2l3.5-2.4l3.6-3.1l3.5-2.6l3.5-1.5l3.6-2.1l3.5-3.5l3.5-2l3.6-3.2l3.5-1.7l3.6-2.9l3.5-2.4l3.5-1.2l3.6-1.3l3.5-1.9l3.6-1.2l3.5-1.7l3.5-1.5l3.6-1l3.5-1l3.5-.9l3.6-1.2l3.5-.8l3.6-1.2l3.5-.8l3.5-.6l3.6-.4l3.5-.7l3.5-1l3.6-1.3l3.5-.6l3.6-.9l3.5-.8l3.5-.6l3.6-1.2l3.5-1.1l3.6-1.7l3.5-.6l3.5-1.8l3.6-.8l3.5-1l3.5-2l3.6-1.9l3.5-2.1l3.6-1.7l3.5-1.6l3.5-1.6l3.6-2l3.5-1.7l3.6-2.1l3.5-2.1l3.5-2.5l3.6-1.7l3.5-1.1l3.5-1l3.6-2.5l3.5-2.6l3.6-3l3.5-1.9l3.5-1.5l3.6-1.3l3.5-2.3l3.6-1.6l3.5-2.4l3.5-1.9l3.6-1.6l3.5-1l3.5-1.4l3.6-1.9l3.5-1.3l3.6-2l3.5-1.2l3.5-2.2l3.6-2.5l3.5-1.6l3.5-1.2l3.6-.8l3.5-1.3l3.6-1.5l3.5-1.7l3.5-.8l3.6-1.2l3.5-1.8l3.6-1.5l3.5-1.9l3.5-1.8l3.6-1.1l3.5-1.1l3.5-1.5l3.6-1.3l3.5-1.4l3.6-1.3l3.5-2l3.5-1.6l3.6-1.6l3.5-1l3.6-1.4l3.5-1.2l3.5-1l3.6-1.5l3.5-1l3.5-1.4l3.6-1.4l3.5-1.4l3.6-1l3.5-1.1l3.5-1.4l3.6-.9l3.5-1.4l3.6-2.2l3.5-1.1l3.5-1l3.6-1.2l3.5-2l3.5-1l3.6-1.2l3.5-1.1l3.6-.8l3.5-1l3.5-.9l3.6-1.2l3.5-1.6l3.5-1.5l3.6-.8l3.5-1.1l3.6-1.1l3.5-1.1l3.5-1.1l3.6-1.4l3.5-1.1l3.6-.8l3.5-.8l3.5-1.3l3.6-.9l3.5-1.1l3.5-1.3l3.6-1.1l3.5-1.5l3.6-1.2l3.5-1.2l3.5-1.2l3.6-2l3.5-1.6l3.6-2l3.5-1.3l3.5-.9l3.6-1.1l3.5-1.4l3.5-1.7l3.6-1.9l3.5-1.7l3.6-1.9l3.5-.7l3.5-1.6l3.6-1.3l3.5-1.8l3.6-2.1l3.5-1.9l3.5-1.7l3.6-1.5l3.5-3.2l3.5-2.5l3.6-3.6l3.5-2.4l3.6-1.6l3.5-3.2l3.5-4.7l3.6-3.6l3.5-5.4l3.5-4.1l3.6-7.1l3.5-5.2l3.6-5.4l3.5-3.7l3.5-5.8l3.6-4.7l3.5-4.3l3.6-4.3l3.5-4.7l3.5-3.4l3.6-3.2l3.5-5.3l3.5-6.3l3.6-5.3l3.5-6.5l3.6-6.6l3.5-2.6l3.5-4.7l3.6-3.8l3.5-4.9l3.6-6.4l3.5-3.1l3.5-6.9l3.6-6.3l3.5-5.5l3.5-6l3.6-7.9l3.5-5l3.6-7l3.5-6.8l3.5-4.9l3.6-1.8l3.5-5.3l3.5-5.9l3.6-4.6l3.5-7l3.6-7.6l3.5-5.2l3.5-5.4l3.6-8.2l3.5-5.4l3.6-5.7l3.5-7.2l3.5-8.1l3.6-6.4l3.5-5.4l3.5-5.2l3.6-8.6l3.5-8.2l3.6-3.9l3.5-7.5l3.5-2.4l3.6-9.6l3.5-8.1l3.6-6.5l3.5-6.2l3.5-8l3.6-4.8l3.5-8.5l3.5-6l3.6-4.4l3.5-8.2l3.6-9.5l3.5-5l3.5-6.1l3.6-8.3l3.5-5.3l3.6-4.7l3.5-6.5l3.5-7.4l3.6-4.6l3.5-5.6l3.5-3l3.6-3.5l3.5-4.2l3.6-7.8l3.5-6.6l3.5-6.5l3.6-6l3.5-3.9l3.5-4l3.6-4.2l3.5-4.5l3.6-3.2l3.5-3.8l3.5-3.5l3.6-3.2l3.5-2.5l3.6-3.2l3.5-3.7l3.5-3.6l3.6-3.5l3.5-3.3l3.5-2.7l3.6-2.8l3.5-2.7l3.6-3.3l3.5-2.9l3.5-2l3.6-3.6l3.5-2.3l3.6-2.3l3.5-2.2l3.5-2l3.6-1.6l3.5-2.6l3.5-1.9l3.6-1.7l3.5-.9l3.6-3.2l3.5-1.7l3.5-2.1l3.6-2.8l3.5-2.5l3.6-1.5l3.5-2l3.5-2.3l3.6-2.3l3.5-2.7l3.5-2.6l3.6-1.8l3.5-1.1l3.6-3.1l3.5-1.8l3.5-1.8l3.6-2.9l3.5-2.7l3.5-1.8l3.6-3.2l3.5-.5l3.6-2.9l3.5-2.2l3.5-2.6l3.6-2.5l3.5-2l3.6-2.1l3.5-1.3l3.5-2l3.6-3.4l3.5-1.1l3.5-3.3l3.6-1.1l3.5-1.8l3.6-2.8l3.5-2.1l3.5-2.2l3.6-1.9l3.5-2.7l3.6-2.4l3.5-1.9l3.5-1.4l3.6-4" stroke="#327DC2" stroke-width="3.8"/>
<path d="M64.5 2062.3l3.5 0l3.6 0l3.5 0l3.6 0l3.5 0l3.5 0l3.6 0l3.5 0l3.5 0l3.6 0l3.5 0l3.6 0l3.5-.1l3.5-0l3.6-0l3.5-.1l3.6-.1l3.5-.2l3.5-.4l3.6-.4l3.5-.9l3.5-.9l3.6-.8l3.5-.9l3.6-1.4l3.5-1.8l3.5-1l3.6-2.3l3.5-1.5l3.5-2.5l3.6-.9l3.5-2.8l3.6-2.7l3.5-4.7l3.5-2.8l3.6-2.1l3.5-5.2l3.6-2.9l3.5-3.8l3.5-2.8l3.6-4.5l3.5-3.7l3.5-3.3l3.6-3.5l3.5-3.8l3.6-4.1l3.5-3.6l3.5-6.4l3.6-5.5l3.5-2.8l3.6-3.5l3.5-5.6l3.5-7.2l3.6-4l3.5-3.6l3.5-3.4l3.6-3.9l3.5-3.6l3.6-5.1l3.5-5l3.5-4.3l3.6-5.1l3.5-2.9l3.6-2.8l3.5-6.2l3.5-1.5l3.6-2.5l3.5-2.1l3.5-4.5l3.6-2.8l3.5-4.3l3.6-1.6l3.5-3.3l3.5-2.9l3.6-2.2l3.5-3l3.5-1.6l3.6-1.7l3.5-1.2l3.6-1.6l3.5-1.3l3.5-1.4l3.6-1.2l3.5-.9l3.6-1.2l3.5-1l3.5-.8l3.6-.9l3.5-1.2l3.5-1.2l3.6-.5l3.5-.7l3.6-.9l3.5-1l3.5-.9l3.6-.5l3.5-.8l3.6-.8l3.5-.6l3.5-.6l3.6-.5l3.5-.7l3.5-.6l3.6-.6l3.5-.7l3.6-.6l3.5-.4l3.5-.5l3.6-.4l3.5-.6l3.5-.6l3.6-.6l3.5-.4l3.6-.3l3.5-.5l3.5-.6l3.6-.5l3.5-.7l3.6-.6l3.5-.4l3.5-.9l3.6-.1l3.5-.7l3.5-.7l3.6-.9l3.5-.8l3.6-.8l3.5-.8l3.5-.6l3.6-.7l3.5-.8l3.6-.5l3.5-.4l3.5-.6l3.6-.8l3.5-.8l3.5-.5l3.6-.9l3.5-.7l3.6-.3l3.5-.8l3.5-.7l3.6-.7l3.5-.6l3.6-.5l3.5-.8l3.5-.6l3.6-.5l3.5-.4l3.5-.5l3.6-.4l3.5-.6l3.6-.7l3.5-.6l3.5-.3l3.6-.7l3.5-.4l3.5-.4l3.6-.6l3.5-.6l3.6-.3l3.5-.3l3.5-.4l3.6-.2l3.5-.6l3.6-.6l3.5-.5l3.5-.3l3.6-.5l3.5-.4l3.5-.6l3.6-.4l3.5-.7l3.6-.3l3.5-.4l3.5-.3l3.6-.4l3.5-.5l3.6-.6l3.5-.4l3.5-.6l3.6-.4l3.5-.5l3.5-.5l3.6-.7l3.5-.7l3.6-.7l3.5-.6l3.5-.4l3.6-.5l3.5-.7l3.6-.5l3.5-.7l3.5-.7l3.6-.8l3.5-.7l3.5-1l3.6-1.1l3.5-.9l3.6-1.1l3.5-.6l3.5-1.2l3.6-1.1l3.5-.5l3.5-1.7l3.6-.8l3.5-.5l3.6-1.7l3.5-1.2l3.5-.9l3.6-1l3.5-1.6l3.6-1.4l3.5-1.3l3.5-1.7l3.6-1l3.5-1.1l3.5-1.2l3.6-1.2l3.5-1.8l3.6-1.5l3.5-1.2l3.5-1.5l3.6-.8l3.5-1.7l3.6-1.7l3.5-1.8l3.5-1.5l3.6-1.7l3.5-1.2l3.5-1.6l3.6-1.6l3.5-1.1l3.6-2l3.5-2l3.5-1.9l3.6-1.7l3.5-2.8l3.6-1.8l3.5-1.6l3.5-1.9l3.6-2.9l3.5-2.5l3.5-2.3l3.6-2.3l3.5-3.8l3.6-3.8l3.5-5.5l3.5-4.9l3.6-3.9l3.5-6.9l3.5-5.9l3.6-4.6l3.5-5.6l3.6-5.2l3.5-8.4l3.5-6l3.6-7.1l3.5-6l3.6-5l3.5-6.2l3.5-5.5l3.6-4.7l3.5-5.9l3.5-4.8l3.6-7.4l3.5-6.8l3.6-5.1l3.5-7.3l3.5-6.9l3.6-8l3.5-4.6l3.6-6.3l3.5-4.8l3.5-6l3.6-9.8l3.5-4.2l3.5-6.9l3.6-9.3l3.5-9.3l3.6-6.1l3.5-4.7l3.5-6.6l3.6-11.9l3.5-13.2l3.5-11.9l3.6-7.5l3.5-12.7l3.6-8.9l3.5-11.7l3.5-10l3.6-14.7l3.5-8.3l3.6-4.5l3.5-10.2l3.5-11.9l3.6-12.4l3.5-10l3.5-11.5l3.6-8.8l3.5-10.8l3.6-11.5l3.5-12.2l3.5-16.4l3.6-6.4l3.5-14.6l3.6-13.4l3.5-8.1l3.5-12.1l3.6-11.9l3.5-9.7l3.5-14.8l3.6-16.5l3.5-11.1l3.6-10.3l3.5-10.5l3.5-7.8l3.6-11.3l3.5-7.3l3.6-10.1l3.5-10.7l3.5-11.2l3.6-7l3.5-7.7l3.5-9.9l3.6-8.9l3.5-9.2l3.6-9.8l3.5-6l3.5-9.2l3.6-7.9l3.5-6.9l3.5-5.5l3.6-6.9l3.5-7.3l3.6-7.9l3.5-3.1l3.5-7.5l3.6-6.4l3.5-4.6l3.6-7.2l3.5-5.7l3.5-5.3l3.6-3.4l3.5-3.6l3.5-6.1l3.6-6.4l3.5-4.7l3.6-3.8l3.5-3.5l3.5-2.3l3.6-5.3l3.5-4.2l3.6-5.3l3.5-3.2l3.5-4.6l3.6-2.8l3.5-3.9l3.5-4.4l3.6-2.7l3.5-4.3l3.6-3.3l3.5-2.5l3.5-3.4l3.6-3.6l3.5-2.6l3.6-3.2l3.5-3.2l3.5-3.1l3.6-3.4l3.5-4l3.5-2.8l3.6-4.3l3.5-3l3.6-3l3.5-4.5l3.5-4.5l3.6-2.5l3.5-3.6l3.5-2.3l3.6-3.3l3.5-3.6l3.6-4.4l3.5-2.6l3.5-3.2l3.6-3l3.5-3.9l3.6-2.9l3.5-3.1l3.5-6.5l3.6-3.6l3.5-2l3.5-4.2l3.6-2.4l3.5-2.3l3.6-5.6l3.5-4.8l3.5-2.7l3.6-2.5l3.5-4l3.6-5.1l3.5-3.7l3.5-3.9l3.6-1.8" stroke="#5A8A39" stroke-width="3.8"/>
<path d="M64.5 2062.3l3.5 0l3.6 0l3.5 0l3.6 0l3.5 0l3.5 0l3.6 0l3.5 0l3.5 0l3.6 0l3.5 0l3.6 0l3.5 0l3.5-.1l3.6-0l3.5-.1l3.6-.1l3.5-.2l3.5-.4l3.6-.4l3.5-.5l3.5-.5l3.6-.4l3.5-.9l3.6-.9l3.5-1.1l3.5-1.4l3.6-1.3l3.5-1.6l3.5-2l3.6-1.5l3.5-1.6l3.6-2.9l3.5-2.5l3.5-1.3l3.6-2.9l3.5-1.8l3.6-2.2l3.5-1.3l3.5-1.8l3.6-2l3.5-2.2l3.5-1.2l3.6-1.3l3.5-1.8l3.6-1.3l3.5-1.7l3.5-1.4l3.6-1.1l3.5-1.6l3.6-1.3l3.5-.8l3.5-1.7l3.6-1.6l3.5-1.6l3.5-1.1l3.6-.8l3.5-.9l3.6-1l3.5-1l3.5-1l3.6-.9l3.5-1l3.6-1l3.5-.8l3.5-1.1l3.6-.8l3.5-1l3.5-.9l3.6-.9l3.5-.7l3.6-.7l3.5-.5l3.5-.6l3.6-1.4l3.5-.8l3.5-1.2l3.6-1l3.5-.8l3.6-1l3.5-.9l3.5-1.2l3.6-1l3.5-1.4l3.6-1.2l3.5-.8l3.5-1l3.6-1l3.5-1.2l3.5-.9l3.6-.6l3.5-.9l3.6-.7l3.5-.6l3.5-.7l3.6-.8l3.5-.6l3.6-.9l3.5-.4l3.5-.4l3.6-.2l3.5-.5l3.5-.5l3.6-.6l3.5-.4l3.6-.3l3.5-.2l3.5-.2l3.6-.4l3.5-.4l3.5-.4l3.6-.5l3.5-.6l3.6-.3l3.5-.1l3.5-.5l3.6-.5l3.5-.7l3.6-.8l3.5-.4l3.5-.7l3.6-.7l3.5-.6l3.5-1.2l3.6-1.1l3.5-1.1l3.6-1.6l3.5-1l3.5-1.4l3.6-.9l3.5-1.6l3.6-1.1l3.5-1.4l3.5-1.6l3.6-.4l3.5-1.4l3.5-1.2l3.6-1.8l3.5-1.5l3.6-1.4l3.5-.9l3.5-2l3.6-.7l3.5-1l3.6-1l3.5-1.3l3.5-1.2l3.6-.7l3.5-1.2l3.5-.8l3.6-1.1l3.5-.5l3.6-1.1l3.5-1l3.5-.9l3.6-.7l3.5-.9l3.5-1l3.6-.7l3.5-.7l3.6-1.1l3.5-.8l3.5-1l3.6-.9l3.5-.7l3.6-.5l3.5-.9l3.5-.8l3.6-1.1l3.5-.4l3.5-.9l3.6-.5l3.5-.8l3.6-.8l3.5-.9l3.5-.8l3.6-1l3.5-.7l3.6-1l3.5-1.3l3.5-1l3.6-.7l3.5-.9l3.5-.8l3.6-.8l3.5-1.2l3.6-1.3l3.5-1.5l3.5-1.1l3.6-.3l3.5-.9l3.6-1.2l3.5-.9l3.5-1.1l3.6-1.7l3.5-1.4l3.5-.9l3.6-1.1l3.5-.4l3.6-1.6l3.5-1.4l3.5-2l3.6 0l3.5-3.1l3.5-1.5l3.6-2.8l3.5-1.2l3.6-1.5l3.5-2l3.5 0l3.6-4.9l3.5-2l3.6-1.4l3.5-2l3.5-1.7l3.6-2.3l3.5 0l3.5-3.6l3.6-1.7l3.5-3.1l3.6-2.3l3.5-2l3.5-2.5l3.6 0l3.5-5.3l3.6-1.9l3.5-1.5l3.5-2.5l3.6-2.6l3.5-2.1l3.5 0l3.6-4.7l3.5-1.4l3.6-1.9l3.5-3.4l3.5-3.6l3.6-4l3.5 0l3.6-5.5l3.5-2.7l3.5-2.8l3.6-4.7l3.5-3.9l3.5-5.9l3.6 0l3.5-9.4l3.6-7.7l3.5-4.3l3.5-5.9l3.6-7.8l3.5-7.3l3.5 0l3.6-20l3.5-14.9l3.6-7.5l3.5-5l3.5-14.3l3.6-13.8l3.5 0l3.6-20.4l3.5-10.4l3.5-7.3l3.6-10.2l3.5-12.1l3.5-16.9l3.6 0l3.5-25l3.6-5.4l3.5-12l3.5-10.1l3.6-14.6l3.5-11.6l3.6 0l3.5-22.5l3.5-6.5l3.6-6.9l3.5-13.7l3.5-6.7l3.6-10.6l3.5 0l3.6-15.9l3.5-7l3.5-2.6l3.6-6.8l3.5-3.2l3.5-6.8l3.6 0l3.5-13.1l3.6-5.5l3.5-2.9l3.5-4.4l3.6-5.2l3.5-4.9l3.6 0l3.5-9.3l3.5-6.2l3.6-6.1l3.5-5.6l3.5-7.4l3.6-5.7l3.5 0l3.6-9.3l3.5-6.1l3.5-7.3l3.6-8.1l3.5-5.4l3.6-9.3l3.5 0l3.5-13.7l3.6-6.7l3.5-6.8l3.5-4l3.6-5.6l3.5-5.5l3.6 0l3.5-7.5l3.5-3.6l3.6-1.6l3.5-3l3.6-5.4l3.5-3.7l3.5 0l3.6-4.3l3.5-2.2l3.5-3l3.6-3.1l3.5-3l3.6-3.1l3.5 0l3.5-5.3l3.6-1.2l3.5-2.1l3.5-1.9l3.6-1.4l3.5-3l3.6 0l3.5-4.3l3.5-2l3.6-1.4l3.5-1.2l3.6-1.6l3.5-1.7l3.5 0l3.6-3.7l3.5-1.6l3.5-1.4l3.6-.9l3.5-1.9l3.6-2.1l3.5 0l3.5-3.3l3.6-1.2l3.5-.9l3.6-1.6l3.5-2.1l3.5-1.6l3.6 0l3.5-2.5l3.5-2l3.6-1.6l3.5-2l3.6-1.4l3.5-1.9l3.5 0l3.6-3.2l3.5-2l3.6-1.8l3.5-1.8l3.5-2.4l3.6-1.9l3.5 0l3.5-4.3l3.6-1.7l3.5-1.9l3.6-2.4l3.5-4.6l3.5-4.5l3.6 0l3.5-7.3l3.5-4l3.6-2.5l3.5-4l3.6-6l3.5-4.5l3.5 0l3.6-15l3.5-3l3.6-3.1l3.5-8l3.5-9.2l3.6-10.4l3.5 0l3.5-18.5l3.6-8.6l3.5-6.8l3.6-12.9l3.5-10.4l3.5-12.2l3.6 0l3.5-21.6l3.6-7.6l3.5-4.4l3.5-9.9l3.6-14.4" stroke="#8FAADC" stroke-width="3.8"/>
<path d="M64.5 2062.3l3.5 0l3.6 0l3.5 0l3.6 0l3.5 0l3.5 0l3.6 0l3.5 0l3.5 0l3.6 0l3.5 0l3.6 0l3.5 0l3.5 0l3.6 0l3.5-.1l3.6-0l3.5-.1l3.5-.1l3.6-.2l3.5-.2l3.5-.1l3.6-.3l3.5-.4l3.6-.2l3.5-.4l3.5-.3l3.6-.4l3.5-.7l3.5-.5l3.6-.6l3.5-.5l3.6-.6l3.5-.8l3.5-.8l3.6-.6l3.5-.9l3.6-.8l3.5-.9l3.5-.7l3.6-.4l3.5-.6l3.5-1l3.6-.7l3.5-.8l3.6-1.7l3.5-1.2l3.5-.9l3.6-1.2l3.5-.6l3.6-1.4l3.5-1.5l3.5-1.1l3.6-.7l3.5-1.4l3.5-1l3.6-1l3.5-1.3l3.6-1l3.5-1.6l3.5-.9l3.6-1.6l3.5-1l3.6-.7l3.5-1.1l3.5-1.1l3.6-1.4l3.5-1.3l3.5-1.5l3.6-.7l3.5-.9l3.6-1.6l3.5-.7l3.5-1l3.6-1.3l3.5-.6l3.5-.9l3.6-.9l3.5-1.2l3.6-1.2l3.5-.9l3.5-1.1l3.6-.8l3.5-.9l3.6-1.2l3.5-1.5l3.5-.9l3.6-.9l3.5-1.1l3.5-.9l3.6-1.2l3.5-.9l3.6-1.2l3.5-.9l3.5-.6l3.6-.7l3.5-1.1l3.6-1.4l3.5-1.3l3.5-.7l3.6-1.3l3.5-.4l3.5-.6l3.6-1l3.5-.5l3.6-1.1l3.5-1l3.5-.9l3.6-.6l3.5-.9l3.5-1.1l3.6-.9l3.5-1.2l3.6-1l3.5-1.1l3.5-.9l3.6-.6l3.5-1.2l3.6-1.4l3.5-1.2l3.5-.9l3.6-1.2l3.5-2.2l3.5-1.6l3.6-1.5l3.5-2.5l3.6-1.9l3.5-1.4l3.5-1.9l3.6-1.8l3.5-2l3.6-1.8l3.5-2.4l3.5-2.7l3.6-2l3.5-2.3l3.5-2.1l3.6-2.5l3.5-1.6l3.6-2.6l3.5-2.7l3.5-1.8l3.6-1.5l3.5-1.8l3.6-1l3.5-1.8l3.5-1.5l3.6-2l3.5-1.9l3.5-2l3.6-1.6l3.5-1.7l3.6-1.5l3.5-1.6l3.5-1.1l3.6-1.9l3.5-1.8l3.5-1.6l3.6-.7l3.5-1.5l3.6-.8l3.5-1.7l3.5-1.4l3.6-1.2l3.5-1.1l3.6-1.3l3.5-1.3l3.5-1.1l3.6-1.6l3.5-1.5l3.5-1.5l3.6-1.3l3.5-1.2l3.6-2l3.5-1.5l3.5-1.4l3.6-.8l3.5-1.6l3.6-1.5l3.5-.4l3.5-1.4l3.6-1.8l3.5-1.6l3.5-1.7l3.6-1.6l3.5-2l3.6-1.6l3.5-1.4l3.5-1.6l3.6-2.6l3.5-1.3l3.6-1.6l3.5-1.9l3.5-1.8l3.6-2l3.5-2.6l3.5-2.5l3.6-2.2l3.5-2l3.6-2l3.5-1.9l3.5-2.8l3.6-1.6l3.5-2.1l3.5-2.6l3.6-2.3l3.5-2.4l3.6-3.7l3.5-1.4l3.5-3.7l3.6-2.4l3.5-3.4l3.6-3l3.5-2.6l3.5-2.4l3.6-3.7l3.5-1.5l3.5-2.8l3.6-4.2l3.5-5.1l3.6-5.1l3.5-3l3.5-2.8l3.6-3.6l3.5-4.2l3.6-4.5l3.5-2.6l3.5-3.7l3.6-3.2l3.5-4.3l3.5-3l3.6-3.6l3.5-3.2l3.6-2.9l3.5-4.5l3.5-4.9l3.6-5.5l3.5-4.8l3.6-4.4l3.5-4.4l3.5-4.3l3.6-5.2l3.5-6.9l3.5-6.8l3.6-3.7l3.5-8.8l3.6-10.6l3.5-10.4l3.5-14.6l3.6-17.4l3.5-12.5l3.5-13.5l3.6-19.6l3.5-22.3l3.6-18.7l3.5-24.6l3.5-16.2l3.6-11.6l3.5-18.8l3.6-13.2l3.5-18.8l3.5-15.9l3.6-19.2l3.5-10l3.5-17.8l3.6-17l3.5-12.6l3.6-19.2l3.5-23l3.5-13.5l3.6-9.5l3.5-12.6l3.6-17.8l3.5-13.6l3.5-16.4l3.6-8.7l3.5-13.3l3.5-4.9l3.6-9.1l3.5-8.7l3.6-8.1l3.5-10.8l3.5-6.2l3.6-7.3l3.5-8.9l3.5-6.5l3.6-4.7l3.5-4.8l3.6-3.3l3.5-6.8l3.5-6.6l3.6-6.3l3.5-5l3.6-7.6l3.5-5.7l3.5-2l3.6-4.6l3.5-6.8l3.5-5l3.6-7.1l3.5-10.1l3.6-5l3.5-10.6l3.5-6.2l3.6-3.8l3.5-7.3l3.6-8.9l3.5-6.3l3.5-10.4l3.6-5.5l3.5-6.6l3.5-7.6l3.6-5l3.5-4.5l3.6-5l3.5-5.4l3.5-6l3.6-4.9l3.5-4.7l3.6-2.7l3.5-1.5l3.5-3.5l3.6-3.3l3.5-2.8l3.5-3.2l3.6-3.2l3.5-3.1l3.6-3.6l3.5-2.3l3.5-3.7l3.6-2.8l3.5-3l3.5-3l3.6-1.3l3.5-3.2l3.6-1.7l3.5-2.5l3.5-2.6l3.6-2.3l3.5-.9l3.6-1.8l3.5-2.1l3.5-1.6l3.6-1.7l3.5-1.8l3.5-2.4l3.6-1.3l3.5-1.3l3.6-1.3l3.5-2l3.5-2.2l3.6-2.5l3.5-2.2l3.6-1.3l3.5-1.5l3.5-2.8l3.6-2.8l3.5-1.7l3.5-3l3.6-1.1l3.5-3.6l3.6-2.5l3.5-1.2l3.5-2.8l3.6-2.5l3.5-2.3l3.6-2.3l3.5-2.4l3.5-2.3l3.6-2l3.5-2.5l3.5-3.3l3.6-3.1l3.5-2l3.6-2.5l3.5-3.7l3.5-3.1l3.6-3.8l3.5-1.8l3.5-2.3l3.6-1.7l3.5-2l3.6-3.4l3.5-2.8l3.5-3.1l3.6-3.6l3.5-4l3.6-4.6l3.5-4l3.5-2l3.6-5l3.5-3.4l3.5-3.1l3.6-4.1l3.5-3.7l3.6-2.7l3.5-5.4l3.5-3.2l3.6-3.6l3.5-4.9l3.6-5.7l3.5-4.2l3.5-2.8l3.6-3.7" stroke="#F4B183" stroke-width="3.8"/>
<path d="M64.5 2062.3l3.5 0l3.6 0l3.5 0l3.6 0l3.5 0l3.5 0l3.6 0l3.5 0l3.5 0l3.6 0l3.5 0l3.6 0l3.5 0l3.5 0l3.6 0l3.5-.1l3.6-0l3.5-.1l3.5-.1l3.6-.1l3.5-.2l3.5-.1l3.6-.2l3.5-.3l3.6-.2l3.5-.3l3.5-.5l3.6-.3l3.5-.5l3.5-.4l3.6-.5l3.5-.7l3.6-.7l3.5-.2l3.5-.9l3.6-.6l3.5-.8l3.6-1.1l3.5-.7l3.5-.5l3.6-.8l3.5-.7l3.5-.7l3.6-.4l3.5-.8l3.6-.9l3.5-.9l3.5-.7l3.6-.8l3.5-.5l3.6-.9l3.5-.8l3.5-.5l3.6-.8l3.5-.8l3.5-.8l3.6-1l3.5-.8l3.6-.7l3.5-1.3l3.5-.7l3.6-.6l3.5-1l3.6-.7l3.5-.7l3.5-.8l3.6-1.3l3.5-.7l3.5-1l3.6-.8l3.5-1l3.6-.8l3.5-1.1l3.5-1.2l3.6-1.3l3.5-.8l3.5-.7l3.6-.6l3.5-1.1l3.6-.6l3.5-1.4l3.5-1.1l3.6-1l3.5-.6l3.6-.8l3.5-.9l3.5-1.3l3.6-1l3.5-1.3l3.5-1.1l3.6-.6l3.5-1.1l3.6-1.7l3.5-1.1l3.5-1.5l3.6-1.4l3.5-1.1l3.6-2.4l3.5-1.5l3.5-2.2l3.6-1.9l3.5-3.2l3.5-3.2l3.6-3.1l3.5-2.9l3.6-2.9l3.5-3.6l3.5-3l3.6-3l3.5-3.7l3.5-2.2l3.6-1.1l3.5-4.4l3.6-3.7l3.5-3.2l3.5-3.8l3.6-3.1l3.5-3.1l3.6-3.9l3.5-3.7l3.5-4.3l3.6-3.6l3.5-4.3l3.5-4.2l3.6-2.8l3.5-2.1l3.6-3.3l3.5-3.9l3.5-3.9l3.6-6.4l3.5-3.3l3.6-4.3l3.5-3l3.5-4.6l3.6-2.9l3.5-5.4l3.5-4.6l3.6-4l3.5-3.1l3.6-6.1l3.5-3.5l3.5-6l3.6-1.9l3.5-3.9l3.6-7.4l3.5-6.5l3.5-4.1l3.6-5.7l3.5-5.7l3.5-4.9l3.6-6.2l3.5-4.4l3.6-4.4l3.5-6.7l3.5-7.3l3.6-6.3l3.5-4.6l3.5-7.4l3.6-5.6l3.5-5.5l3.6-3.7l3.5-3.4l3.5-4.6l3.6-4.5l3.5-2.3l3.6-2.4l3.5-3.9l3.5-3.1l3.6-2.7l3.5-2.2l3.5-3.8l3.6-3.2l3.5-3.1l3.6-3.3l3.5-2.5l3.5-3.4l3.6-3.3l3.5-4l3.6-3.7l3.5-2.3l3.5-3l3.6-3.2l3.5-4.5l3.5-2.8l3.6-4.6l3.5-4.3l3.6-3.9l3.5-4.6l3.5-2.5l3.6-2.8l3.5-3.6l3.6-3.1l3.5-3.5l3.5-2.5l3.6-3.5l3.5-2.5l3.5-1l3.6-3.4l3.5-2.5l3.6-2.1l3.5-2.6l3.5-2.3l3.6-3l3.5-2.4l3.5-2.2l3.6-2.3l3.5-1.9l3.6-2.1l3.5-2.2l3.5-2.2l3.6-1.7l3.5-2.3l3.6-3.2l3.5-2.8l3.5-2.4l3.6-2.6l3.5-2.2l3.5-1.7l3.6-3.2l3.5-4.2l3.6-2.9l3.5-3.1l3.5-4.3l3.6-1.3l3.5-3.1l3.6-2.6l3.5-3l3.5-2.2l3.6-3.8l3.5-4l3.5-2.2l3.6-3.6l3.5-3.7l3.6-3.5l3.5-5.2l3.5-5.9l3.6-4.2l3.5-4.7l3.6-4.4l3.5-3.7l3.5-4.8l3.6-5.7l3.5-3.7l3.5-4l3.6-2.8l3.5-2.7l3.6-4.6l3.5-7.2l3.5-6.5l3.6-6.3l3.5-7.5l3.5-2.8l3.6-7.8l3.5-5.9l3.6-7.3l3.5-8.1l3.5-4.5l3.6-4.7l3.5-6.5l3.6-5.8l3.5-5.3l3.5-6.6l3.6-5.8l3.5-7.1l3.5-6l3.6-8.9l3.5-4.3l3.6-7.5l3.5-6.9l3.5-9.4l3.6-4.9l3.5-5.9l3.6-9.5l3.5-5.1l3.5-6.4l3.6-7l3.5-6.5l3.5-10.6l3.6-10.4l3.5-6.6l3.6-5.9l3.5-5.7l3.5-11l3.6-8.6l3.5-11l3.5-4.2l3.6-9.4l3.5-11.8l3.6-11.3l3.5-4.1l3.5-13.1l3.6-12.1l3.5-11l3.6-9.7l3.5-9.7l3.5-11.5l3.6-12.7l3.5-3.7l3.5-13l3.6-14.1l3.5-10.1l3.6-13.6l3.5-8.4l3.5-17.1l3.6-13.9l3.5-9.7l3.6-18.2l3.5-12.5l3.5-12.5l3.6-5.1l3.5-10l3.5-11.7l3.6-12.4l3.5-8.6l3.6-5.4l3.5-11.4l3.5-8.3l3.6-10l3.5-8.5l3.6-8.9l3.5-6l3.5-10.2l3.6-7.2l3.5-5.4l3.5-10.6l3.6-9.3l3.5-10.5l3.6-9.1l3.5-4.7l3.5-7l3.6-7.4l3.5-7.5l3.5-5.7l3.6-7.3l3.5-7.8l3.6-7l3.5-6.9l3.5-5.8l3.6-1.8l3.5-5.6l3.6-5.2l3.5-2l3.5-7.7l3.6-5.9l3.5-4.5l3.5-4.7l3.6-4.5l3.5-3.3l3.6-4l3.5-3.3l3.5-2.4l3.6-1.6l3.5-2.2l3.6-2.6l3.5-2.2l3.5-1.3l3.6-2.1l3.5-1.8l3.5-1.7l3.6-1.4l3.5-1.5l3.6-.9l3.5-1.6l3.5-1.3l3.6-1.4l3.5-1.4l3.6-1.4l3.5-1.6l3.5-1.5l3.6-1.2l3.5-1.4l3.5-1.3l3.6-1.7l3.5-1.6l3.6-1.4l3.5-1.3l3.5-1.1l3.6-1.3l3.5-2l3.5-1.5l3.6-2.5l3.5-1.7l3.6-1.6l3.5-1.7l3.5-1.4l3.6-1.5l3.5-1.8l3.6-1.2l3.5-2.1l3.5-1.8l3.6-1.4l3.5-2.2l3.5-1.7l3.6-2.1l3.5-1.3l3.6-1.3l3.5-1.4l3.5-1.2l3.6-1.2l3.5-2.6l3.6-1.6l3.5-1.9l3.5-1.7l3.6-2.1" stroke="#C9C9C9" stroke-width="3.8"/>
<path d="M64.5 2062.3l3.5 0l3.6 0l3.5 0l3.6 0l3.5 0l3.5 0l3.6 0l3.5 0l3.5 0l3.6 0l3.5 0l3.6 0l3.5 0l3.5 0l3.6 0l3.5 0l3.6 0l3.5 0l3.5-.1l3.6-0l3.5-.1l3.5-.1l3.6-0l3.5-.1l3.6-.1l3.5-.1l3.5-.2l3.6-.2l3.5-.1l3.5-.2l3.6-.2l3.5-.2l3.6-.3l3.5-.2l3.5-.4l3.6-.2l3.5-.3l3.6-.3l3.5-.3l3.5-.4l3.6-.3l3.5-.3l3.5-.2l3.6-.2l3.5-.2l3.6-.4l3.5-.3l3.5-.2l3.6-.4l3.5-.1l3.6-.4l3.5-.1l3.5-.2l3.6-.3l3.5-.3l3.5-.3l3.6-.4l3.5-.3l3.6-.4l3.5-.2l3.5-.2l3.6-.5l3.5-.4l3.6-.5l3.5-.1l3.5-.2l3.6-.4l3.5-.6l3.5-.3l3.6-.3l3.5-.4l3.6-.5l3.5-.4l3.5-.2l3.6-.4l3.5-.3l3.5-.4l3.6-.4l3.5-.4l3.6-.4l3.5-.6l3.5-.3l3.6-.4l3.5-.4l3.6-.4l3.5-.4l3.5-.3l3.6-.5l3.5-.3l3.5-.5l3.6-.5l3.5-.4l3.6-.3l3.5-.3l3.5-.5l3.6-.5l3.5-.6l3.6-.6l3.5-.9l3.5-.6l3.6-.6l3.5-.7l3.5-1.2l3.6-1l3.5-1.4l3.6-.8l3.5-1.4l3.5-1l3.6-.9l3.5-1.3l3.5-1.8l3.6-1.1l3.5-1.3l3.6-1.4l3.5-1.1l3.5-1.3l3.6-1.6l3.5-1.9l3.6-2.2l3.5-2.5l3.5-1.4l3.6-3.2l3.5-1.5l3.5-3.3l3.6-2.4l3.5-1.9l3.6-2.7l3.5-2.5l3.5-3.4l3.6-1.3l3.5-3.1l3.6-4l3.5-4.6l3.5-3.9l3.6-3.7l3.5-2.6l3.5-2.8l3.6-4.4l3.5-4.9l3.6-3.6l3.5-3.1l3.5-1.9l3.6-4l3.5-2.6l3.6-3l3.5-1.8l3.5-3.5l3.6-4l3.5-1.8l3.5-1.7l3.6-2.9l3.5-2.1l3.6-3l3.5-3.5l3.5-1.4l3.6-1.5l3.5-2.2l3.5-2l3.6-2.3l3.5-2.4l3.6-2.6l3.5-2.4l3.5-1.7l3.6-1.7l3.5-2.1l3.6-1.7l3.5-2.9l3.5-1.4l3.6-2.9l3.5-2l3.5-1.4l3.6-2.8l3.5-1.7l3.6-3.6l3.5-2l3.5-2.8l3.6-1.8l3.5-2.6l3.6-1.6l3.5-2.6l3.5-2.2l3.6-1.5l3.5-2.7l3.5-2.4l3.6-2.2l3.5-2.9l3.6-1.9l3.5-1.9l3.5-3.1l3.6-2.2l3.5-2.4l3.6-2.3l3.5-2l3.5-3.6l3.6-3l3.5-4.3l3.5-2.9l3.6-3l3.5-1.9l3.6-1.9l3.5-2.6l3.5-2.8l3.6-3.9l3.5-3.3l3.5-2.1l3.6-1.7l3.5-2.6l3.6-2.5l3.5-3.7l3.5-3.3l3.6-4.7l3.5-2.6l3.6-3l3.5-3.6l3.5-4l3.6-4.8l3.5-4.9l3.5-4.4l3.6-3l3.5-4.2l3.6-3.6l3.5-3.1l3.5-5.9l3.6-3.2l3.5-4.8l3.6-5l3.5-3.3l3.5-4l3.6-4.5l3.5-5.7l3.5-5.3l3.6-4.7l3.5-5.1l3.6-1.6l3.5-5.2l3.5-5.2l3.6-8.7l3.5-6.3l3.6-4.7l3.5-6l3.5-4.2l3.6-3.7l3.5-6.3l3.5-8.4l3.6-9.4l3.5-8.6l3.6-6.4l3.5-5.6l3.5-7.1l3.6-10.5l3.5-8.8l3.5-11.9l3.6-6.7l3.5-7.9l3.6-9.2l3.5-9.2l3.5-9.3l3.6-8.9l3.5-6.7l3.6-9.6l3.5-7.7l3.5-8.4l3.6-13.7l3.5-8.8l3.5-14.3l3.6-11.9l3.5-8.4l3.6-10.5l3.5-11.2l3.5-6.6l3.6-8.9l3.5-12.4l3.6-15l3.5-9.8l3.5-10.9l3.6-9.8l3.5-8.8l3.5-10.9l3.6-13l3.5-9.1l3.6-9.1l3.5-5.2l3.5-5.8l3.6-7.6l3.5-10.2l3.5-7.7l3.6-6.8l3.5-10.4l3.6-11l3.5-1.2l3.5-5.4l3.6-8.7l3.5-9.9l3.6-7.3l3.5-9l3.5-9.1l3.6-5.8l3.5-8.3l3.5-8.1l3.6-7.3l3.5-8.6l3.6-8.2l3.5-11.6l3.5-10.3l3.6-8.4l3.5-6l3.6-10.6l3.5-10.9l3.5-6.5l3.6-10.1l3.5-9.3l3.5-6l3.6-9l3.5-9l3.6-11.3l3.5-7.2l3.5-6.2l3.6-4.6l3.5-3.2l3.6-7.2l3.5-5.4l3.5-3.9l3.6-7l3.5-4.5l3.5-4.4l3.6-5l3.5-4.6l3.6-5.5l3.5-5.9l3.5-3.5l3.6-3l3.5-3l3.5-3.5l3.6-2.8l3.5-3.4l3.6-2.7l3.5-2.6l3.5-2.4l3.6-1.5l3.5-1.8l3.6-1.5l3.5-2l3.5-2.3l3.6-2.1l3.5-1.2l3.5-1.4l3.6-1.3l3.5-2l3.6-2.1l3.5-2.3l3.5-1.7l3.6-1.1l3.5-1.4l3.6-1.2l3.5-1.8l3.5-2.2l3.6-2.6l3.5-1.6l3.5-1.3l3.6-1.7l3.5-.8l3.6-2.8l3.5-1.3l3.5-2.5l3.6-2.1l3.5-1.8l3.6-1.2l3.5-1.7l3.5-1.5l3.6-2.2l3.5-1.6l3.5-1.4l3.6-1.7l3.5-1.3l3.6-1.9l3.5-1.4l3.5-2.2l3.6-1.6l3.5-2.3l3.5-1.8l3.6-97.9l3.5-.2l3.6-.3l3.5-.7l3.5-1.1l3.6-.7l3.5-.9l3.6-.7l3.5-.7l3.5-1.6l3.6-1.5l3.5-.7l3.5-1.1l3.6-1.4l3.5-1.4l3.6-1.3l3.5-1.7l3.5-2.1l3.6-1.8l3.5-2.3l3.6-1.3l3.5-2l3.5-2.2l3.6-1.8" stroke="#FFD966" stroke-width="3.8"/>
<path d="M64.5 2062.3l3.5 0l3.6 0l3.5 0l3.6 0l3.5 0l3.5 0l3.6 0l3.5 0l3.5 0l3.6 0l3.5 0l3.6 0l3.5 0l3.5 0l3.6 0l3.5 0l3.6 0l3.5 0l3.5 0l3.6 0l3.5-.1l3.5-0l3.6-0l3.5-0l3.6-.1l3.5-0l3.5-0l3.6-0l3.5-.1l3.5-0l3.6-.1l3.5-0l3.6-.1l3.5-.1l3.5-0l3.6-.1l3.5-.1l3.6-.1l3.5-0l3.5-.1l3.6-.1l3.5-0l3.5-.1l3.6-.1l3.5-.1l3.6-0l3.5-0l3.5-.1l3.6-.1l3.5-.1l3.6-.1l3.5-.1l3.5-0l3.6-.1l3.5-0l3.5-.1l3.6-.1l3.5-.1l3.6-.1l3.5-0l3.5-.1l3.6-.1l3.5-.1l3.6-.1l3.5-.1l3.5-.1l3.6-.1l3.5-0l3.5-.1l3.6-.1l3.5-.1l3.6-.2l3.5-0l3.5-.1l3.6-.1l3.5-.1l3.5-.1l3.6-.1l3.5-.1l3.6-.1l3.5-0l3.5-.1l3.6-.1l3.5-.1l3.6-.1l3.5-.1l3.5-.1l3.6-.1l3.5-.1l3.5-0l3.6-.1l3.5-.1l3.6-.2l3.5-.1l3.5-.1l3.6-.1l3.5-.2l3.6-.2l3.5-.1l3.5-.2l3.6-.2l3.5-.2l3.5-.3l3.6-.1l3.5-.2l3.6-.3l3.5-.3l3.5-.2l3.6-.4l3.5-.3l3.5-.3l3.6-.4l3.5-.4l3.6-.1l3.5-.5l3.5-.5l3.6-.2l3.5-.4l3.6-.5l3.5-.7l3.5-.8l3.6-1.1l3.5-.8l3.5-1.6l3.6-.6l3.5-1.7l3.6-2.8l3.5-1.5l3.5-1.8l3.6-1.2l3.5-3l3.6-1.9l3.5-1.6l3.5-1.2l3.6-2.3l3.5-2.3l3.5-.7l3.6-1.8l3.5-2.4l3.6-1.3l3.5-2.5l3.5-1.7l3.6-1.6l3.5-2.1l3.6-2.3l3.5-2.1l3.5-1.4l3.6-1.9l3.5-.9l3.5-1l3.6-1.6l3.5-1.1l3.6-1.1l3.5-1l3.5-1.5l3.6-2.1l3.5-.5l3.5-.9l3.6-1.4l3.5-.6l3.6-1.2l3.5-1.4l3.5-1.5l3.6-.9l3.5-1.3l3.6-.8l3.5-1l3.5-1.1l3.6-1.2l3.5-.8l3.5-.8l3.6-.9l3.5-1.1l3.6-.8l3.5-1.2l3.5-1.2l3.6-1.5l3.5-1.1l3.6-1.3l3.5-1.2l3.5-1l3.6-1.5l3.5-1.2l3.5-1.7l3.6-1.8l3.5-1l3.6-.8l3.5-2l3.5-1.9l3.6-2.1l3.5-2.2l3.6-1.9l3.5-2.1l3.5-1.5l3.6-.9l3.5-2.4l3.5-2.6l3.6-2.7l3.5-3.1l3.6-2.6l3.5-3.9l3.5-2.8l3.6-4l3.5-4.2l3.5-6.5l3.6-2.8l3.5-2.7l3.6-3.8l3.5-5.7l3.5-5.5l3.6-5.6l3.5-4l3.6-3l3.5-5.4l3.5-5.4l3.6-8.6l3.5-6.9l3.5-7.3l3.6-7.6l3.5-4.2l3.6-3.6l3.5-5.4l3.5-8.8l3.6-8.3l3.5-6.4l3.6-5.6l3.5-9.2l3.5-8.8l3.6-4.7l3.5-11.7l3.5-7.7l3.6-12.1l3.5-9.5l3.6-8.4l3.5-7.3l3.5-10.8l3.6-11.6l3.5-13l3.6-10.8l3.5-9.1l3.5-15.6l3.6-12.3l3.5-7.1l3.5-6.6l3.6-15.2l3.5-11.7l3.6-11.2l3.5-12.2l3.5-9.8l3.6-9.4l3.5-16.1l3.5-6.3l3.6-15.4l3.5-10l3.6-12.2l3.5-10.5l3.5-12l3.6-5.8l3.5-17.8l3.6-22.9l3.5-12.8l3.5-16.3l3.6-14l3.5-13l3.5-12.3l3.6-19.1l3.5-18.3l3.6-21.4l3.5-16l3.5-8.9l3.6-2.4l3.5-22l3.6-18.1l3.5-16.6l3.5-12.5l3.6-19.6l3.5-12.3l3.5-8l3.6-8l3.5-10.9l3.6-11.8l3.5-8.5l3.5-7.9l3.6-5.7l3.5-5.9l3.5-4l3.6-7.5l3.5-7.3l3.6-6.5l3.5-5.5l3.5-5.6l3.6-4.4l3.5-5.7l3.6-4.9l3.5-10.5l3.5-5l3.6-4.2l3.5-5.1l3.5-5.6l3.6-5.5l3.5-4.6l3.6-12.4l3.5-10.5l3.5-6.8l3.6-7.9l3.5-5l3.6-5.3l3.5-10.6l3.5-10.8l3.6-7.5l3.5-7.8l3.5-1.7l3.6-7.9l3.5-9.9l3.6-8.1l3.5-7.9l3.5-7.8l3.6-3l3.5-4.2l3.6-4.7l3.5-7.5l3.5-6.6l3.6-5.2l3.5-8.7l3.5-5.8l3.6-6.7l3.5-7.3l3.6-2.8l3.5-4.4l3.5-7.5l3.6-6.8l3.5-4.6l3.5-3.9l3.6-4.2l3.5-4.3l3.6-2.9l3.5-5.1l3.5-4.7l3.6-2.8l3.5-2.1l3.6-2.8l3.5-3l3.5-4.2l3.6-4.1l3.5-3.2l3.5-2.5l3.6-1.3l3.5-2.5l3.6-2.3l3.5-2.9l3.5-3.4l3.6-2.9l3.5-4.2l3.6-1.2l3.5-1.5l3.5-1.5l3.6-2.4l3.5-2.3l3.5-2.8l3.6-1l3.5-2.3l3.6-2l3.5-1.6l3.5-1.9l3.6-2.3l3.5-2.2l3.6-1.7l3.5-1.5l3.5-1.6l3.6-1.4l3.5-2.3l3.5-2.4l3.6-2l3.5-1.3l3.6-1.7l3.5-1.7l3.5-2.1l3.6-2.1l3.5-2.7l3.5-2.6l3.6-2.1l3.5-1.6l3.6-2.1l3.5-1.7l3.5-1.9l3.6-1.5l3.5-2.3l3.6-2.4l3.5-1.2l3.5-2.2l3.6-1.3l3.5-2.4l3.5-3.1l3.6-2l3.5-1.3l3.6-1.8l3.5-1.7l3.5-2.3l3.6-1.9l3.5-1.5l3.6-2.1l3.5-2.4l3.5-2.2l3.6-1.9" stroke="#9DC3E6" stroke-width="3.8"/>
<path d="M64.5 2062.3l3.5 0l3.6 0l3.5 0l3.6 0l3.5 0l3.5 0l3.6 0l3.5 0l3.5 0l3.6 0l3.5 0l3.6 0l3.5 0l3.5 0l3.6-.1l3.5-0l3.6-.1l3.5-0l3.5-.2l3.6-.2l3.5-.3l3.5-.2l3.6-.4l3.5-.4l3.6-.4l3.5-.3l3.5-.7l3.6-.5l3.5-1l3.5-.8l3.6-1.1l3.5-.8l3.6-.8l3.5-.8l3.5-1.6l3.6-1.3l3.5-1l3.6-2.1l3.5-1.6l3.5-1.3l3.6-.9l3.5-1.1l3.5-1.3l3.6-1.8l3.5-1.9l3.6-1.4l3.5-1l3.5-1l3.6-2.3l3.5-2.5l3.6-1.5l3.5-1.7l3.5-1.6l3.6-1.7l3.5-1.2l3.5-1.7l3.6-2l3.5-2.4l3.6-1.3l3.5-2.1l3.5-1.4l3.6-1.5l3.5-.9l3.6-1.9l3.5-2.1l3.5-2.3l3.6-1.9l3.5-1.5l3.5-.8l3.6-2.1l3.5-1.9l3.6-2.4l3.5-1.7l3.5-1.3l3.6-2.3l3.5-1.3l3.5-1.5l3.6-1.5l3.5-1.7l3.6-2.2l3.5-1.5l3.5-1.7l3.6-1.4l3.5-.8l3.6-1.1l3.5-2.4l3.5-1.9l3.6-1.3l3.5-1.1l3.5-1l3.6-2.1l3.5-1.6l3.6-1.3l3.5-2.1l3.5-1.4l3.6-1.3l3.5-1.1l3.6-1.4l3.5-1.1l3.5-2.2l3.6-1.5l3.5-1.4l3.5-1.3l3.6-1.6l3.5-.6l3.6-1.7l3.5-2l3.5-2l3.6-1l3.5-1.3l3.5-1.3l3.6-1.6l3.5-1.4l3.6-1.8l3.5-1.6l3.5-2l3.6-1.7l3.5-1l3.6-1.5l3.5-2.1l3.5-1.8l3.6-2.3l3.5-2.4l3.5-1.9l3.6-1.2l3.5-1.7l3.6-2.5l3.5-2.1l3.5-3l3.6-2.4l3.5-1.2l3.6-2l3.5-2l3.5-2.8l3.6-2.7l3.5-3.7l3.5-1.8l3.6-2.4l3.5-1.9l3.6-2.9l3.5-2.3l3.5-2.6l3.6-2.5l3.5-1.1l3.6-2.9l3.5-1.3l3.5-1.7l3.6-1.7l3.5-2.3l3.5-2.9l3.6-1.2l3.5-1.6l3.6-1.7l3.5-1.8l3.5-1.5l3.6-1.3l3.5-2.1l3.5-1.7l3.6-1l3.5-1.1l3.6-2l3.5-1.1l3.5-1.7l3.6-1.5l3.5-1l3.6-1.1l3.5-1.1l3.5-2l3.6-1.1l3.5-1.6l3.5-2l3.6-1.1l3.5-.7l3.6-1.4l3.5-1.3l3.5-1.7l3.6-2.2l3.5-2.3l3.6-1.5l3.5-1.4l3.5-1.7l3.6-1.6l3.5-2.3l3.5-2l3.6-2.4l3.5-2.3l3.6-.8l3.5-2.9l3.5-1.5l3.6-2l3.5-2.5l3.6-2.7l3.5-1.5l3.5-2l3.6-1.6l3.5-3.2l3.5-1.8l3.6-4l3.5-3.2l3.6-2.5l3.5-2.8l3.5-2.6l3.6-3.4l3.5-4.3l3.5-5.6l3.6-3.9l3.5-5.2l3.6-.4l3.5-5.2l3.5-4.9l3.6-6l3.5-4.9l3.6-4.9l3.5-2.9l3.5-4.9l3.6-2.1l3.5-3.5l3.5-5.7l3.6-6.4l3.5-6.1l3.6-3.3l3.5-3.9l3.5-4.8l3.6-6.2l3.5-6.4l3.6-6.3l3.5-5.1l3.5-4.2l3.6-3.4l3.5-4.2l3.5-5.8l3.6-5.7l3.5-9.7l3.6-5l3.5-6.8l3.5-4.4l3.6-4.7l3.5-5.6l3.6-10.5l3.5-8.1l3.5-9.6l3.6-7.5l3.5-7.8l3.5-7.4l3.6-11.4l3.5-8.9l3.6-11.9l3.5-21l3.5-17.7l3.6-10.8l3.5-10.2l3.5-16l3.6-24.1l3.5-17l3.6-25.3l3.5-14.3l3.5-10.6l3.6-10.9l3.5-7.3l3.6-20.3l3.5-15.5l3.5-18.2l3.6-13.9l3.5-15.9l3.5-16.8l3.6-15.9l3.5-19.3l3.6-21.3l3.5-23.4l3.5-15.1l3.6-15.5l3.5-9l3.6-12.8l3.5-12.5l3.5-17.6l3.6-11.4l3.5-12.7l3.5-7.2l3.6-7.8l3.5-12.5l3.6-10.5l3.5-12l3.5-8.4l3.6-4.1l3.5-9.1l3.5-5.3l3.6-5.6l3.5-9.5l3.6-6.3l3.5-6.7l3.5-8.2l3.6-4l3.5-6.7l3.6-5.3l3.5-6.8l3.5-8.1l3.6-6.7l3.5-8.3l3.5-6.9l3.6-5.2l3.5-7.5l3.6-9.1l3.5-12.4l3.5-5.5l3.6-9.8l3.5-7.8l3.6-5.2l3.5-7.5l3.5-8.6l3.6-12.4l3.5-6.6l3.5-8.5l3.6-7.8l3.5-5.8l3.6-4.8l3.5-6.4l3.5-4.7l3.6-6.6l3.5-8.1l3.6-3.9l3.5-2.9l3.5-6.2l3.6-5.3l3.5-8.6l3.5-5.8l3.6-6.9l3.5-4.2l3.6-2.7l3.5-4.4l3.5-5.5l3.6-5.5l3.5-7l3.5-3.4l3.6-4l3.5-2.9l3.6-4.5l3.5-3.2l3.5-3.6l3.6-4.9l3.5-4.5l3.6-1.5l3.5-2.5l3.5-2.7l3.6-3.1l3.5-4.4l3.5-3.4l3.6-1.8l3.5-2.3l3.6-3.2l3.5-2.1l3.5-2.8l3.6-2.9l3.5-3.3l3.6-2.3l3.5-2.7l3.5-1.5l3.6-1.6l3.5-3.3l3.5-1.4l3.6-2.8l3.5-2.9l3.6-2.3l3.5-1.7l3.5-2.2l3.6-3.1l3.5-4.6l3.6-1.9l3.5-1.9l3.5-1.4l3.6-2l3.5-2l3.5-2.8l3.6-3.5l3.5-2.2l3.6-1.8l3.5-2l3.5-2.7l3.6-1.7l3.5-3.3l3.5-3.1l3.6-.8l3.5-1.8l3.6-1.5l3.5-2.3l3.5-3l3.6-2.7l3.5-2.9l3.6-3.7l3.5-2.1l3.5-2.6l3.6-.9l3.5-2.8l3.5-2l3.6-1.5l3.5-2.3l3.6-2.3l3.5-2l3.5-2.4l3.6-2.6l3.5-2.8l3.6-2.4l3.5-3.6l3.5-2.6l3.6-.6" stroke="#A9D18E" stroke-width="3.8"/>
<path d="M64.5 2062.3l3.5 0l3.6 0l3.5 0l3.6 0l3.5 0l3.5 0l3.6 0l3.5 0l3.5 0l3.6 0l3.5 0l3.6 0l3.5 0l3.5 0l3.6 0l3.5 0l3.6-.1l3.5-0l3.5-.1l3.6-.1l3.5-.1l3.5-.2l3.6-.1l3.5-.2l3.6-.1l3.5-.2l3.5-.2l3.6-.2l3.5-.4l3.5-.3l3.6-.4l3.5-.2l3.6-.5l3.5-.6l3.5-.4l3.6-.4l3.5-.4l3.6-.5l3.5-.5l3.5-.5l3.6-.2l3.5-.6l3.5-.5l3.6-.5l3.5-.5l3.6-.4l3.5-.3l3.5-.5l3.6-.3l3.5-.6l3.6-.6l3.5-.3l3.5-.5l3.6-.6l3.5-.5l3.5-.6l3.6-.7l3.5-.5l3.6-.6l3.5-.4l3.5-.4l3.6-.8l3.5-.3l3.6-.7l3.5-.5l3.5-.6l3.6-.5l3.5-.4l3.5-.6l3.6-.6l3.5-.8l3.6-1l3.5-.3l3.5-.6l3.6-.3l3.5-.7l3.5-.8l3.6-.8l3.5-.9l3.6-.7l3.5-.3l3.5-.7l3.6-.4l3.5-.6l3.6-.8l3.5-.5l3.5-.8l3.6-.8l3.5-.3l3.5-.4l3.6-.7l3.5-.9l3.6-.7l3.5-.6l3.5-1.1l3.6-1l3.5-.6l3.6-1.3l3.5-1.2l3.5-1.5l3.6-1l3.5-1.4l3.5-1.5l3.6-.9l3.5-1.5l3.6-2.6l3.5-3.1l3.5-2.2l3.6-1.7l3.5-1.2l3.5-1.8l3.6-2.2l3.5-2.9l3.6-2.6l3.5-4l3.5-2.7l3.6-.6l3.5-1.6l3.6-2.9l3.5-3.9l3.5-3.8l3.6-1.3l3.5-2.4l3.5-4.9l3.6-4.3l3.5-6.8l3.6-5.2l3.5-5l3.5-5.8l3.6-3.1l3.5-3l3.6-3l3.5-5.4l3.5-6l3.6-6.6l3.5-6.4l3.5-4.6l3.6-4.8l3.5-3.3l3.6-3.2l3.5-5.8l3.5-5.9l3.6-5.3l3.5-3l3.6-2.6l3.5-3l3.5-3.9l3.6-3.8l3.5-3.8l3.5-3.8l3.6-2.9l3.5-3.1l3.6-2.6l3.5-2.3l3.5-3.8l3.6-5.4l3.5-2.7l3.5-3.7l3.6-3.5l3.5-2.1l3.6-3.2l3.5-1.8l3.5-4.2l3.6-4.3l3.5-2.7l3.6-1.1l3.5-2.5l3.5-2.8l3.6-3.7l3.5-3.7l3.5-2.9l3.6-2.5l3.5-2.1l3.6-3.2l3.5-3l3.5-3.4l3.6-2.8l3.5-3.2l3.6-2.3l3.5-2.5l3.5-2.3l3.6-2.3l3.5-2.5l3.5-2.1l3.6-2.5l3.5-3.1l3.6-4.4l3.5-1.2l3.5-2.2l3.6-3l3.5-5l3.6-2.1l3.5-1.4l3.5-2.4l3.6-3.3l3.5-.6l3.5-2.3l3.6-3.6l3.5-1.8l3.6-2.2l3.5-1.7l3.5-2.5l3.6-1.5l3.5-2.7l3.5-2.6l3.6-2.4l3.5-2l3.6-1.7l3.5-1l3.5-2l3.6-2l3.5-2.8l3.6-2.1l3.5-2.1l3.5-2.4l3.6-1.7l3.5-3l3.5-2.8l3.6-1.6l3.5-2.1l3.6-2.9l3.5-1.8l3.5-3l3.6-2.1l3.5-3l3.6-3.7l3.5-1.7l3.5-2.7l3.6-2.2l3.5-2.8l3.5-4.1l3.6-3.5l3.5-2.3l3.6-4.1l3.5-2.5l3.5-3l3.6-3.9l3.5-3.2l3.6-4.9l3.5-4.4l3.5-3.2l3.6-3.6l3.5-2.6l3.5-5.7l3.6-5.1l3.5-7.2l3.6-5.1l3.5-8.6l3.5-4.6l3.6-7.3l3.5-7.4l3.5-7.6l3.6-10.8l3.5-10.4l3.6-7.9l3.5-7.4l3.5-5.9l3.6-12.2l3.5-9.5l3.6-9.2l3.5-11.7l3.5-7.5l3.6-6.3l3.5-9.4l3.5-12l3.6-9.7l3.5-10.4l3.6-14.2l3.5-5.5l3.5-15.5l3.6-4.2l3.5-7.8l3.6-6.6l3.5-8.7l3.5-11.6l3.6-16.7l3.5-6.4l3.5-7.1l3.6-9.8l3.5-8l3.6-11.4l3.5-13.9l3.5-5.7l3.6-9.8l3.5-9.1l3.5-8.9l3.6-11.2l3.5-8.3l3.6-12.4l3.5-11.1l3.5-8.7l3.6-13.6l3.5-14.6l3.6-12l3.5-8.9l3.5-15.5l3.6-11.4l3.5-7l3.5-10.5l3.6-7.8l3.5-12.7l3.6-15l3.5-16l3.5-8.7l3.6-11l3.5-10.8l3.6-8.1l3.5-15.2l3.5-16.5l3.6-10l3.5-11.9l3.5-8.7l3.6-7.8l3.5-8.6l3.6-14.5l3.5-8.9l3.5-9.4l3.6-10.8l3.5-9l3.6-8.4l3.5-2.4l3.5-8.8l3.6-5.1l3.5-7.3l3.5-7l3.6-5.8l3.5-8.7l3.6-5l3.5-7.4l3.5-5.8l3.6-6l3.5-6l3.5-5l3.6-4.6l3.5-2.1l3.6-5.7l3.5-5.6l3.5-5.8l3.6-4.5l3.5-4.3l3.6-2.3l3.5-5l3.5-2.9l3.6-5.7l3.5-4.7l3.5-3.2l3.6-2.4l3.5-2.9l3.6-2l3.5-1.8l3.5-2.7l3.6-1.8l3.5-2l3.6-2.7l3.5-1.7l3.5-1.3l3.6-1.6l3.5-1.5l3.5-1.8l3.6-1l3.5-1.7l3.6-1.2l3.5-1l3.5-1.3l3.6-2.2l3.5-1.2l3.6-1.1l3.5-.9l3.5-1l3.6-1.5l3.5-1.3l3.5-1.5l3.6-1.4l3.5-.9l3.6-.6l3.5-1.7l3.5-1.5l3.6-1.5l3.5-1.7l3.5-1.7l3.6-1.4l3.5-1.2l3.6-.6l3.5-1.6l3.5-1.6l3.6-2l3.5-1.7l3.6-1.4l3.5-1.5l3.5-1.3l3.6-1.1l3.5-1.3l3.5-1.5l3.6-1.7l3.5-1.4l3.6-1.7l3.5-2.2l3.5-1l3.6-1.7l3.5-.7l3.6-.7l3.5-1.6l3.5-1.5l3.6-2" stroke="#203864" stroke-width="2.2"/>
<path d="M64.5 2062.3l3.5 0l3.6 0l3.5 0l3.6 0l3.5 0l3.5 0l3.6 0l3.5 0l3.5 0l3.6 0l3.5 0l3.6 0l3.5 0l3.5 0l3.6 0l3.5-.1l3.6-0l3.5-.1l3.5-.1l3.6-.1l3.5-.1l3.5-.1l3.6-.3l3.5-.4l3.6-.4l3.5-.3l3.5-.3l3.6-.5l3.5-.2l3.5-.5l3.6-.6l3.5-.8l3.6-.9l3.5-.6l3.5-.9l3.6-.9l3.5-.8l3.6-1.1l3.5-.9l3.5-1.2l3.6-1l3.5-1l3.5-.8l3.6-1l3.5-.9l3.6-1.4l3.5-1l3.5-1.3l3.6-1.5l3.5-1.4l3.6-1.5l3.5-1.4l3.5-1.4l3.6-1.3l3.5-1.1l3.5-1.2l3.6-.6l3.5-1.2l3.6-1.2l3.5-1l3.5-.9l3.6-.5l3.5-1l3.6-.6l3.5-.9l3.5-.9l3.6-1.2l3.5-.8l3.5-.9l3.6-.8l3.5-.8l3.6-.8l3.5-1l3.5-.9l3.6-.6l3.5-.4l3.5-.4l3.6-.5l3.5-.7l3.6-.7l3.5-.3l3.5-.9l3.6-.4l3.5-.5l3.6-.3l3.5-.4l3.5-.6l3.6-.7l3.5-.6l3.5-.3l3.6-.4l3.5-.6l3.6-.4l3.5-.4l3.5-.4l3.6-.2l3.5-.2l3.6-.2l3.5-.2l3.5-.2l3.6-.2l3.5-.1l3.5-.2l3.6-.1l3.5 0l3.6-.2l3.5-.1l3.5-.1l3.6-.1l3.5-.1l3.5-.2l3.6 0l3.5-.1l3.6-.1l3.5-.2l3.5-.1l3.6-.2l3.5-.1l3.6-.2l3.5-.1l3.5-.2l3.6-.3l3.5-.3l3.5-.3l3.6-.1l3.5-.1l3.6-.4l3.5-.4l3.5-.4l3.6-.4l3.5-.3l3.6-.4l3.5-.2l3.5-.3l3.6-.3l3.5-.5l3.5-.4l3.6-.1l3.5-.4l3.6-.3l3.5-.2l3.5-.4l3.6-.3l3.5-.4l3.6-.4l3.5-.3l3.5-.2l3.6-.2l3.5-.3l3.5-.2l3.6-.4l3.5-.3l3.6-.1l3.5-.2l3.5-.3l3.6-.2l3.5-.2l3.5-.3l3.6-.3l3.5-.2l3.6-.2l3.5-.2l3.5-.2l3.6-.2l3.5-.3l3.6-.1l3.5-.3l3.5-.1l3.6-.1l3.5-.3l3.5-.2l3.6-.3l3.5-.2l3.6-.1l3.5-.2l3.5-.3l3.6-.2l3.5-.3l3.6-.2l3.5-.3l3.5-.2l3.6-.2l3.5-.2l3.5-.2l3.6-.3l3.5-.3l3.6-.2l3.5-.3l3.5-.1l3.6-.3l3.5-.4l3.6-.4l3.5-.5l3.5-.4l3.6-.2l3.5-.3l3.5-.4l3.6-.3l3.5-.4l3.6-.5l3.5-.5l3.5-.4l3.6-.6l3.5-.5l3.5-.9l3.6-.5l3.5-.6l3.6-.6l3.5-.5l3.5-.5l3.6-.9l3.5-.4l3.6-.9l3.5-.5l3.5-.8l3.6-.4l3.5-.5l3.5-1l3.6-1.1l3.5-.8l3.6-.4l3.5-1l3.5-.8l3.6-.4l3.5-.8l3.6-.6l3.5-1l3.5-1l3.6-.9l3.5-.9l3.5-.6l3.6-.5l3.5-.8l3.6-1l3.5-1.1l3.5-1.1l3.6-1l3.5-1.2l3.6-1l3.5-1l3.5-1.3l3.6-1.1l3.5-1.2l3.5-1.3l3.6-.8l3.5-1.6l3.6-2.2l3.5-2.2l3.5-2.4l3.6-1.5l3.5-.8l3.5-2.5l3.6-1.6l3.5-2.3l3.6-2.3l3.5-2.2l3.5-3.2l3.6-1.6l3.5-1.9l3.6-4.1l3.5-4.2l3.5-4.8l3.6-6.9l3.5-7.7l3.5-4.6l3.6-5.1l3.5-7l3.6-8.6l3.5-9.4l3.5-8.4l3.6-5.3l3.5-6.9l3.6-5.8l3.5-3.8l3.5-10.4l3.6-9l3.5-9.7l3.5-5.8l3.6-6.2l3.5-4.6l3.6-5.5l3.5-7.2l3.5-6.2l3.6-6.6l3.5-5l3.5-5.9l3.6-4.8l3.5-2.5l3.6-7.9l3.5-6.4l3.5-5.1l3.6-4.7l3.5-7.6l3.6-4.5l3.5-5.9l3.5-7l3.6-6l3.5-9.9l3.5-9.6l3.6-3.7l3.5-7.6l3.6-3.6l3.5-8.8l3.5-11.4l3.6-11.7l3.5-12l3.6-10.3l3.5-9.9l3.5-9.6l3.6-12.4l3.5-10.9l3.5-16.2l3.6-8.9l3.5-9.7l3.6-6.3l3.5-6.7l3.5-8l3.6-6.8l3.5-13.1l3.6-7.8l3.5-6.4l3.5-5.1l3.6-9.1l3.5-6.7l3.5-7.3l3.6-7.1l3.5-9.3l3.6-5.9l3.5-4.8l3.5-4.9l3.6-8.5l3.5-6.9l3.5-5.7l3.6-6.4l3.5-5.3l3.6-2.7l3.5-5.8l3.5-5.7l3.6-4.5l3.5-3.3l3.6-5.2l3.5-3.1l3.5-3.1l3.6-3.4l3.5-3.9l3.5-5.1l3.6-3.2l3.5-4.2l3.6-4.1l3.5-3.8l3.5-3.6l3.6-3.7l3.5-3.6l3.6-3.6l3.5-2.6l3.5-4.3l3.6-2.5l3.5-2.2l3.5-4.3l3.6-4.8l3.5-3.5l3.6-2.7l3.5-1.8l3.5-3.2l3.6-2.8l3.5-3l3.6-4.2l3.5-2.7l3.5-3.8l3.6-1.2l3.5-2.6l3.5-2.5l3.6-3.8l3.5-4.7l3.6-2.9l3.5-4.6l3.5-2.4l3.6-2.6l3.5-4l3.5-3l3.6-5l3.5-3.4l3.6-3.1l3.5-2.1l3.5-3.8l3.6-2.9l3.5-3.1l3.6-3.2l3.5-3.4l3.5-3.4l3.6-2.6l3.5-3.6l3.5-3.1l3.6-3.2l3.5-4.3l3.6-4.7l3.5-1.5l3.5-3.4l3.6-3.6l3.5-3l3.6-4.1l3.5-2.4l3.5-3.3l3.6-3.5" stroke="#843C0B" stroke-width="3.8"/>
<path d="M64.5 2062.3l3.5 0l3.6 0l3.5 0l3.6 0l3.5 0l3.5 0l3.6 0l3.5 0l3.5 0l3.6 0l3.5 0l3.6-.1l3.5-0l3.5-.1l3.6-.2l3.5-.2l3.6-.6l3.5-.7l3.5-1l3.6-.8l3.5-1.3l3.5-2.4l3.6-2.6l3.5-2.6l3.6-2.2l3.5-2.2l3.5-3.1l3.6-3.2l3.5-5l3.5-3.8l3.6-3.5l3.5-2.6l3.6-7.4l3.5-4.9l3.5-5.8l3.6-7.9l3.5-9.2l3.6-6.4l3.5-4.5l3.5-6.2l3.6-4.7l3.5-6l3.5-6.5l3.6-6.2l3.5-6.7l3.6-5.9l3.5-7.9l3.5-6.6l3.6-5.4l3.5-6.4l3.6-4.3l3.5-4.3l3.5-4.3l3.6-5.9l3.5-3.9l3.5-3.3l3.6-3.8l3.5-3.3l3.6-3.8l3.5-3.3l3.5-2.7l3.6-3.3l3.5-3.8l3.6-4.1l3.5-3.7l3.5-3.6l3.6-2.1l3.5-2.8l3.5-2.5l3.6-2.1l3.5-2.5l3.6-3.6l3.5-1.8l3.5-2.6l3.6-2l3.5-2.5l3.5-1.7l3.6-2.3l3.5-1.5l3.6-1.1l3.5-1.1l3.5-2l3.6-1.2l3.5-2.2l3.6-1.7l3.5-2l3.5-1l3.6-1.8l3.5-1.4l3.5-1l3.6-1.3l3.5-1.7l3.6-1l3.5-1.4l3.5-1.2l3.6-.9l3.5-1.3l3.6-1.1l3.5-.8l3.5-.7l3.6-.7l3.5-.4l3.5-.7l3.6-.4l3.5-.3l3.6-.6l3.5-.6l3.5-.6l3.6-.2l3.5-.6l3.5-.4l3.6-.5l3.5-.6l3.6-.5l3.5-.5l3.5-.4l3.6-.6l3.5-.6l3.6-.5l3.5-.9l3.5-.5l3.6-.3l3.5-.7l3.5-.7l3.6-.5l3.5-.5l3.6-.9l3.5-.7l3.5-.4l3.6-.5l3.5-.6l3.6-.9l3.5-.9l3.5-.6l3.6-.9l3.5-.3l3.5-.7l3.6-.5l3.5-.7l3.6-.6l3.5-.6l3.5-.8l3.6-.7l3.5-.2l3.6-.6l3.5-.6l3.5-.5l3.6-.6l3.5-.7l3.5-.6l3.6-.5l3.5-.3l3.6-.4l3.5-.5l3.5-.6l3.6-.7l3.5-.4l3.5-.4l3.6-.5l3.5-.6l3.6-.5l3.5-.5l3.5-.5l3.6-.3l3.5-.2l3.6-.3l3.5-.4l3.5-.6l3.6-.5l3.5-.6l3.5-.3l3.6-.4l3.5-.3l3.6-.3l3.5-.6l3.5-.5l3.6-.5l3.5-.4l3.6-.4l3.5-.4l3.5-.6l3.6-.8l3.5-.4l3.5-.6l3.6-.5l3.5-.4l3.6-.5l3.5-.6l3.5-.8l3.6-.9l3.5-.6l3.6-.4l3.5-.7l3.5-.6l3.6-.6l3.5-.8l3.5-.9l3.6-.7l3.5-.9l3.6-.2l3.5-.6l3.5-1l3.6-1.2l3.5-.8l3.5-1.6l3.6-.9l3.5-1l3.6-1l3.5-1.4l3.5-1.1l3.6-1.6l3.5-1l3.6-.8l3.5-1.4l3.5-1.2l3.6-1.7l3.5-.8l3.5-1.7l3.6-1.2l3.5-1.4l3.6-1.1l3.5-1.3l3.5-1.3l3.6-2.1l3.5-1l3.6-1.1l3.5-1.6l3.5-2l3.6-1l3.5-1.2l3.5-1.3l3.6-1.5l3.5-2.2l3.6-1.7l3.5-1.8l3.5-1.6l3.6-1.8l3.5-1.8l3.6-1.7l3.5-2.6l3.5-3.2l3.6-1.6l3.5-2.8l3.5-2l3.6-2.9l3.5-5l3.6-3.7l3.5-4.6l3.5-3.3l3.6-7.1l3.5-3.7l3.5-7.3l3.6-6.4l3.5-6.8l3.6-6.4l3.5-7.3l3.5-6.5l3.6-7.1l3.5-6.3l3.6-4.6l3.5-7.8l3.5-7.1l3.6-5l3.5-5.9l3.5-5.1l3.6-4.4l3.5-8.4l3.6-5.3l3.5-8.6l3.5-6.1l3.6-5.3l3.5-5.5l3.6-7.5l3.5-6l3.5-6.9l3.6-9.5l3.5-5.5l3.5-9.7l3.6-6.7l3.5-8.7l3.6-6.5l3.5-7.8l3.5-7l3.6-5.1l3.5-12.3l3.5-10l3.6-9.4l3.5-7.7l3.6-9.9l3.5-6.8l3.5-7l3.6-9.5l3.5-15.3l3.6-6.7l3.5-12.7l3.5-9.2l3.6-3.4l3.5-7.5l3.5-11l3.6-12l3.5-10.6l3.6-16.5l3.5-11.8l3.5-8.1l3.6-5.6l3.5-11.4l3.6-10.2l3.5-15.5l3.5-9.7l3.6-14.6l3.5-8.6l3.5-9.9l3.6-8.9l3.5-12l3.6-13.1l3.5-9l3.5-8l3.6-13.5l3.5-9.9l3.6-12.2l3.5-10.2l3.5-9.3l3.6-12.7l3.5-6.6l3.5-6.8l3.6-6.9l3.5-9.6l3.6-7.1l3.5-9.5l3.5-8.2l3.6-8.7l3.5-9.9l3.5-8.4l3.6-5.9l3.5-10.6l3.6-5.2l3.5-7l3.5-4.9l3.6-2.3l3.5-4l3.6-7l3.5-3.7l3.5-9.2l3.6-5l3.5-5l3.5-5.6l3.6-3.8l3.5-3.4l3.6-4.3l3.5-4.8l3.5-6.7l3.6-4.8l3.5-5.5l3.6-2.7l3.5-4.6l3.5-7.8l3.6-5.6l3.5-5.1l3.5-6.1l3.6-4.4l3.5-5.5l3.6-2.6l3.5-5.6l3.5-4l3.6-6.3l3.5-7.7l3.6-5.6l3.5-2.5l3.5-4.6l3.6-5.4l3.5-4.5l3.5-6.1l3.6-4.2l3.5-6.4l3.6-5.9l3.5-4.6l3.5-6.6l3.6-9.4l3.5-5.4l3.5-3.1l3.6-6.3l3.5-4.8l3.6-4.9l3.5-8.3l3.5-8.7l3.6-7.9l3.5-8.9l3.6-4.5l3.5-4.9l3.5-6.9l3.6-2.8l3.5-4.4l3.5-10.2l3.6-8.4l3.5-7.8l3.6-5.7l3.5-8.2l3.5-10.1l3.6-7.5l3.5-9.9l3.6-7.7l3.5-7.1l3.5-7.2l3.6-8.5" stroke="#525252" stroke-width="3.8"/>
<path d="M64.5 2062.3l3.5 0l3.6 0l3.5 0l3.6 0l3.5 0l3.5 0l3.6 0l3.5 0l3.5 0l3.6 0l3.5 0l3.6 0l3.5 0l3.5 0l3.6 0l3.5 0l3.6-.1l3.5-.1l3.5-.1l3.6-.1l3.5-.2l3.5-.1l3.6-.2l3.5-.3l3.6-.2l3.5-.3l3.5-.4l3.6-.3l3.5-.4l3.5-.4l3.6-.6l3.5-.5l3.6-.6l3.5-.7l3.5-.6l3.6-.6l3.5-.9l3.6-.6l3.5-.9l3.5-.9l3.6-.7l3.5-.8l3.5-.5l3.6-.9l3.5-.9l3.6-1l3.5-.7l3.5-.9l3.6-.6l3.5-1.2l3.6-1.1l3.5-1.1l3.5-1.4l3.6-1l3.5-.8l3.5-.8l3.6-.9l3.5-1.2l3.6-1.1l3.5-.8l3.5-.9l3.6-.8l3.5-1.2l3.6-1l3.5-.9l3.5-.8l3.6-1.3l3.5-.6l3.5-.6l3.6-.5l3.5-1.7l3.6-1l3.5-1.3l3.5-1.1l3.6-1.1l3.5-1l3.5-.8l3.6-.9l3.5-1.1l3.6-1l3.5-.7l3.5-.7l3.6-.6l3.5-1l3.6-.9l3.5-.7l3.5-.9l3.6-1.1l3.5-.9l3.5-.9l3.6-.9l3.5-1.1l3.6-.7l3.5-.8l3.5-1.1l3.6-1l3.5-.5l3.6-.8l3.5-1.2l3.5-1l3.6-.8l3.5-1l3.5-.9l3.6-.9l3.5-.4l3.6-.5l3.5-.8l3.5-.8l3.6-.7l3.5-.9l3.5-1.1l3.6-.9l3.5-1l3.6-.9l3.5-1.2l3.5-.9l3.6-.8l3.5-.9l3.6-.5l3.5-1.7l3.5-1.2l3.6-1.5l3.5-1.9l3.5-1l3.6-.9l3.5-1.7l3.6-1.6l3.5-1.2l3.5-2l3.6-1.5l3.5-1.2l3.6-.7l3.5-1.6l3.5-2.2l3.6-1.6l3.5-2.4l3.5-2.6l3.6-1.6l3.5-1.5l3.6-1.5l3.5-2l3.5-1.5l3.6-1.9l3.5-1.9l3.6-1.4l3.5-.9l3.5-1.4l3.6-1.2l3.5-1.5l3.5-1.5l3.6-1l3.5-1.2l3.6-1.5l3.5-.9l3.5-1.1l3.6-1.4l3.5-1.1l3.5-1.3l3.6-.8l3.5-.7l3.6-1.2l3.5-1.2l3.5-1.3l3.6-1.3l3.5-1.3l3.6-.8l3.5-.9l3.5-.6l3.6-1l3.5-1.3l3.5-1.2l3.6-.8l3.5-1.3l3.6-1.1l3.5-1.4l3.5-1l3.6-1.4l3.5-.9l3.6-.7l3.5-1l3.5-1.5l3.6-1.3l3.5-.8l3.5-1.5l3.6-1.6l3.5-1.8l3.6-1.4l3.5-1.3l3.5-.8l3.6-1.6l3.5-.8l3.6-1.6l3.5-1.5l3.5-1.3l3.6-1.4l3.5-1.7l3.5-2.2l3.6-1.6l3.5-2.2l3.6-2.2l3.5-1.8l3.5-2.6l3.6-1.7l3.5-1.7l3.5-1.3l3.6-3l3.5-2.6l3.6-2l3.5-2.3l3.5-2.2l3.6-3l3.5-2.4l3.6-2.6l3.5-2.4l3.5-1.8l3.6-1.3l3.5-3.3l3.5-2.3l3.6-3.4l3.5-3.4l3.6-4l3.5-2l3.5-2.7l3.6-3.4l3.5-2.3l3.6-2.6l3.5-3.2l3.5-4l3.6-3l3.5-2.9l3.5-1.8l3.6-3.3l3.5-3.9l3.6-2l3.5-3.3l3.5-3l3.6-4l3.5-2.2l3.6-5l3.5-4.6l3.5-4.4l3.6-2.6l3.5-3.1l3.5-5.3l3.6-7.3l3.5-7.6l3.6-10.6l3.5-6.5l3.5-12.1l3.6-15.7l3.5-7.5l3.5-16l3.6-12.4l3.5-17.5l3.6-15.5l3.5-9.2l3.5-11.4l3.6-18.3l3.5-12.7l3.6-16.3l3.5-13.6l3.5-14.9l3.6-10.5l3.5-12.3l3.5-10.6l3.6-15.1l3.5-10.9l3.6-16.5l3.5-17l3.5-7.5l3.6-11.1l3.5-13.1l3.6-16.5l3.5-13.8l3.5-10.9l3.6-6.3l3.5-13.5l3.5-8.6l3.6-10.8l3.5-11l3.6-7.1l3.5-13.2l3.5-11.7l3.6-9.7l3.5-9.1l3.5-8.3l3.6-5.2l3.5-8.1l3.6-10.9l3.5-8l3.5-8.4l3.6-8.6l3.5-8l3.6-8.6l3.5-9.4l3.5-8.6l3.6-6.6l3.5-8.5l3.5-10.8l3.6-7.2l3.5-10.4l3.6-10.5l3.5-8.5l3.5-4.8l3.6-12.3l3.5-9.9l3.6-10.4l3.5-14.4l3.5-9.9l3.6-12.9l3.5-11.3l3.5-10.4l3.6-12.9l3.5-3.7l3.6-9.9l3.5-7.3l3.5-7.2l3.6-6.5l3.5-7.4l3.6-6.9l3.5-5.2l3.5-9.3l3.6-5.3l3.5-6.6l3.5-4.8l3.6-6.6l3.5-6.4l3.6-6.8l3.5-6.4l3.5-4.5l3.6-7.1l3.5-4.4l3.5-6.1l3.6-5.4l3.5-2.9l3.6-2.8l3.5-4.8l3.5-5.4l3.6-4.1l3.5-4.4l3.6-3.7l3.5-3.7l3.5-4l3.6-2.7l3.5-2.1l3.5-3.1l3.6-2.5l3.5-2.1l3.6-2.7l3.5-2.9l3.5-1.5l3.6-1.8l3.5-2.9l3.6-1.7l3.5-1.9l3.5-2.4l3.6-2.2l3.5-1.7l3.5-1.8l3.6-.6l3.5-1.8l3.6-1.6l3.5-.9l3.5-1.6l3.6-1.7l3.5-1.4l3.6-1.7l3.5-1.5l3.5-1.2l3.6-1.1l3.5-1l3.5-1.7l3.6-1.3l3.5-1.5l3.6-1.9l3.5-1.6l3.5-.8l3.6-1.5l3.5-1.3l3.5-1.2l3.6-1.5l3.5-2l3.6-1.7l3.5-1.5l3.5-1.6l3.6-1.3l3.5-1.5l3.6-1.7l3.5-1.9l3.5-1.4l3.6-1.5l3.5-1.7l3.5-2.1l3.6-1.2l3.5-1.8l3.6-1.5l3.5-1.5l3.5-1.5l3.6-.8l3.5-1.8l3.6-1.6l3.5-1.3l3.5-2.1l3.6-1.7" stroke="#806000" stroke-width="3.8"/>
<path d="M64.5 2062.3l3.5 0l3.6 0l3.5 0l3.6 0l3.5 0l3.5 0l3.6 0l3.5 0l3.5 0l3.6 0l3.5 0l3.6-.1l3.5-.1l3.5-.1l3.6-.4l3.5-.3l3.6-1.4l3.5-2.1l3.5-2.4l3.6-2.9l3.5-2.6l3.5-5.3l3.6-6.2l3.5-7.9l3.6-5.2l3.5-3.6l3.5-8.3l3.6-4l3.5-6.2l3.5-5.6l3.6-5.7l3.5-7.2l3.6-4.3l3.5-6.1l3.5-8.6l3.6-7l3.5-8.3l3.6-7.7l3.5-6.4l3.5-5.5l3.6-5.7l3.5-3.9l3.5-6.7l3.6-4.9l3.5-5.8l3.6-5.7l3.5-4.3l3.5-3.4l3.6-7.2l3.5-7.2l3.6-7.1l3.5-7.9l3.5-4.2l3.6-4.2l3.5-2.4l3.5-3.6l3.6-2.3l3.5-4.7l3.6-2.3l3.5-2.6l3.5-3l3.6-1l3.5-3.4l3.6-2.1l3.5-2.9l3.5-3.1l3.6-2.2l3.5-2.3l3.5-1.4l3.6-2l3.5-1l3.6-2.8l3.5-1.5l3.5-1.4l3.6-1.5l3.5-2l3.5-1l3.6-1.4l3.5-1.3l3.6-1.1l3.5-1l3.5-1.4l3.6-1.2l3.5-.9l3.6-1.2l3.5-1.2l3.5-1.2l3.6-.9l3.5-.8l3.5-.8l3.6-.6l3.5-.9l3.6-1.1l3.5-.8l3.5-1l3.6-.6l3.5-.4l3.6-.7l3.5-.6l3.5-.9l3.6-.5l3.5-.7l3.5-.6l3.6-.5l3.5-.7l3.6-.6l3.5-.5l3.5-.7l3.6-.5l3.5-.6l3.5-.5l3.6-.5l3.5-.6l3.6-.4l3.5-.6l3.5-.3l3.6-.5l3.5-.6l3.6-.2l3.5-.6l3.5-.6l3.6-.6l3.5-.7l3.5-.8l3.6-.4l3.5-.5l3.6-.5l3.5-.7l3.5-.5l3.6-.5l3.5-.8l3.6-.8l3.5-.5l3.5-.8l3.6-.6l3.5-.8l3.5-.9l3.6-.1l3.5-.5l3.6-.5l3.5-.6l3.5-.9l3.6-.8l3.5-.5l3.6-.6l3.5-.2l3.5-.5l3.6-.6l3.5-.5l3.5-.6l3.6-.4l3.5-.4l3.6-.7l3.5-.2l3.5-.5l3.6-.6l3.5-.6l3.5-.4l3.6-.3l3.5-.3l3.6-.3l3.5-.7l3.5-.5l3.6-.6l3.5-.4l3.6-.3l3.5-.5l3.5-.4l3.6-.4l3.5-.5l3.5-.5l3.6-.3l3.5-.4l3.6-.4l3.5-.3l3.5-.5l3.6-.7l3.5-.2l3.6-.5l3.5-.4l3.5-.5l3.6-.3l3.5-.4l3.5-.6l3.6-.5l3.5-.5l3.6-.4l3.5-.3l3.5-.7l3.6-.5l3.5-.6l3.6-.4l3.5-.5l3.5-.5l3.6-.5l3.5-.6l3.5-.6l3.6-.7l3.5-.8l3.6-.8l3.5-.4l3.5-.5l3.6-.9l3.5-.5l3.5-.8l3.6-.9l3.5-1.1l3.6-.3l3.5-.3l3.5-.9l3.6-1.1l3.5-1l3.6-.8l3.5-.9l3.5-.4l3.6-1.1l3.5-1.1l3.5-.9l3.6-1.2l3.5-.7l3.6-1.2l3.5-.7l3.5-.7l3.6-.8l3.5-.7l3.6-1.3l3.5-1.5l3.5-.7l3.6-.8l3.5-1l3.5-.9l3.6-.7l3.5-1.3l3.6-1.5l3.5-1.2l3.5-.8l3.6-1l3.5-.8l3.6-1.5l3.5-2.1l3.5-2.1l3.6-1.5l3.5-1.7l3.5-1.3l3.6-1.8l3.5-1.9l3.6-3l3.5-3l3.5-3.7l3.6-4.1l3.5-3.5l3.5-2.6l3.6-5.2l3.5-4.7l3.6-4.6l3.5-5.3l3.5-3.4l3.6-5l3.5-4.4l3.6-3.5l3.5-4l3.5-4.4l3.6-3.5l3.5-4.8l3.5-1.7l3.6-4.4l3.5-4.3l3.6-3.9l3.5-5.6l3.5-4.1l3.6-4.8l3.5-3.7l3.6-4.3l3.5-5.7l3.5-6.5l3.6-6.6l3.5-5l3.5-6.7l3.6-4l3.5-3.4l3.6-4.1l3.5-5.9l3.5-7.6l3.6-5.9l3.5-9.7l3.5-8.9l3.6-9.1l3.5-10.8l3.6-10.7l3.5-10.5l3.5-9.8l3.6-9.9l3.5-7.1l3.6-13.5l3.5-14.1l3.5-10.7l3.6-15.7l3.5-6.4l3.5-10.6l3.6-4.4l3.5-10.8l3.6-8.5l3.5-13.7l3.5-11.2l3.6-12.4l3.5-10.4l3.6-9.7l3.5-8.4l3.5-14.2l3.6-11.3l3.5-11.6l3.5-13l3.6-7.4l3.5-12.3l3.6-10.4l3.5-9.2l3.5-7l3.6-14.5l3.5-9.4l3.6-9.9l3.5-9.8l3.5-12.5l3.6-12.1l3.5-6.8l3.5-10.8l3.6-12.5l3.5-10.6l3.6-11.3l3.5-10.6l3.5-13.4l3.6-7.9l3.5-12.2l3.5-8.5l3.6-7.4l3.5-7.5l3.6-5.7l3.5-8.1l3.5-6.6l3.6-7.6l3.5-4.8l3.6-6.8l3.5-2.8l3.5-4.8l3.6-6.1l3.5-6.6l3.5-5.1l3.6-5.5l3.5-5.8l3.6-6.6l3.5-7.1l3.5-5.1l3.6-6.2l3.5-6.1l3.6-4l3.5-5.5l3.5-7.4l3.6-4l3.5-10.7l3.5-7.3l3.6-8.2l3.5-5.2l3.6-1.6l3.5-6.1l3.5-7.8l3.6-4.9l3.5-8.1l3.6-6.9l3.5-6.5l3.5-5.6l3.6-5.3l3.5-5.6l3.5-6.9l3.6-6l3.5-6.3l3.6-5.5l3.5-4.8l3.5-3.4l3.6-2.9l3.5-5.1l3.5-5.3l3.6-5.2l3.5-7.6l3.6-5.3l3.5-7.1l3.5-8.9l3.6-5.7l3.5-4.6l3.6-5.9l3.5-4.7l3.5-5l3.6-6.9l3.5-6.1l3.5-5.9l3.6-5l3.5-6.9l3.6-5l3.5-4.7l3.5-2.2l3.6-3.7l3.5-5.4l3.6-5.3l3.5-5l3.5-3l3.6-6.9" stroke="#1F4E79" stroke-width="3.8"/>
<path d="M64.5 2062.3l3.5 0l3.6 0l3.5 0l3.6 0l3.5 0l3.5 0l3.6 0l3.5 0l3.5 0l3.6 0l3.5 0l3.6 0l3.5 0l3.5 0l3.6 0l3.5-.1l3.6-0l3.5-.1l3.5-.1l3.6-0l3.5-.1l3.5-.1l3.6-.2l3.5-.2l3.6-.2l3.5-.3l3.5-.3l3.6-.2l3.5-.2l3.5-.2l3.6-.5l3.5-.4l3.6-.4l3.5-.2l3.5-.5l3.6-.5l3.5-.6l3.6-.8l3.5-.3l3.5-.6l3.6-.4l3.5-.5l3.5-.4l3.6-.3l3.5-.6l3.6-.6l3.5-.4l3.5-.4l3.6-.4l3.5-.6l3.6-.5l3.5-.6l3.5-.6l3.6-.5l3.5-.5l3.5-.5l3.6-.7l3.5-.5l3.6-.7l3.5-.9l3.5-.6l3.6-.4l3.5-.4l3.6-.3l3.5-.4l3.5-.7l3.6-.7l3.5-.6l3.5-.8l3.6-.5l3.5-.6l3.6-.7l3.5-.8l3.5-.7l3.6-1l3.5-.3l3.5-.6l3.6-.7l3.5-.7l3.6-.7l3.5-.8l3.5-.7l3.6-.5l3.5-.7l3.6-.6l3.5-.8l3.5-.7l3.6-.5l3.5-.5l3.5-.6l3.6-.8l3.5-.4l3.6-.9l3.5-1.3l3.5-1.2l3.6-.8l3.5-1l3.6-.9l3.5-.9l3.5-1.3l3.6-1.6l3.5-2.1l3.5-2.5l3.6-2.2l3.5-.8l3.6-2.8l3.5-1.9l3.5-1.7l3.6-2l3.5-2.7l3.5-2.3l3.6-1.6l3.5-1.9l3.6-2.6l3.5-3.2l3.5-3.3l3.6-2.8l3.5-.7l3.6-1.8l3.5-2.4l3.5-2.8l3.6-3.4l3.5-2l3.5-3.7l3.6-1.5l3.5-2l3.6-2.1l3.5-2.6l3.5-2.9l3.6-3.9l3.5-3.3l3.6-2.5l3.5-1.3l3.5-2.1l3.6-3l3.5-3.5l3.5-2.9l3.6-2.7l3.5-4l3.6-1.8l3.5-1.9l3.5-1.1l3.6-2.9l3.5-4l3.6-3l3.5-1.3l3.5-2.3l3.6-2l3.5-2l3.5-3l3.6-2.3l3.5-2.2l3.6-1.9l3.5-1.9l3.5-1.7l3.6-2.4l3.5-2.5l3.5-2.5l3.6-2.4l3.5-1.4l3.6-1.1l3.5-1.9l3.5-2.8l3.6-2.5l3.5-2.4l3.6-1.7l3.5-1.2l3.5-1.2l3.6-1.6l3.5-2.2l3.5-1.9l3.6-2.6l3.5-1.6l3.6-2.4l3.5-1.7l3.5-1.1l3.6-2.1l3.5-2.7l3.6-2.6l3.5-2.5l3.5-1.5l3.6-1.5l3.5-1.6l3.5-2.4l3.6-1.9l3.5-2.3l3.6-2.2l3.5-1.6l3.5-1.2l3.6-2.4l3.5-2.3l3.6-1.9l3.5-3.3l3.5-1.6l3.6-1.3l3.5-1.5l3.5-2.1l3.6-2.8l3.5-2.7l3.6-2.3l3.5-1.8l3.5-1.7l3.6-1l3.5-1.3l3.5-2.2l3.6-2.3l3.5-2.3l3.6-1.5l3.5-1.9l3.5-.9l3.6-2.3l3.5-2.1l3.6-2.1l3.5-2.3l3.5-3.5l3.6-3.1l3.5-.8l3.5-2.3l3.6-.5l3.5-3.2l3.6-2.7l3.5-2.6l3.5-1.5l3.6-1.4l3.5-2.5l3.6-2.7l3.5-3.7l3.5-4l3.6-2.9l3.5-2.9l3.5-2.4l3.6-2.7l3.5-2.8l3.6-4l3.5-4.1l3.5-3.5l3.6-2.5l3.5-1.7l3.6-2.4l3.5-5.3l3.5-5l3.6-4.3l3.5-3.8l3.5-2.9l3.6-3.3l3.5-3.8l3.6-3.5l3.5-4.6l3.5-5.4l3.6-2.5l3.5-2.8l3.5-3.1l3.6-3l3.5-4.5l3.6-4.9l3.5-5.4l3.5-5.7l3.6-3l3.5-4.2l3.6-5.7l3.5-4.8l3.5-4l3.6-4.8l3.5-6.1l3.5-3.6l3.6-3l3.5-4.9l3.6-4l3.5-4.5l3.5-6.6l3.6-5.3l3.5-3.7l3.6-4.8l3.5-5.8l3.5-6.6l3.6-6.1l3.5-7l3.5-6.4l3.6-2.8l3.5-7.4l3.6-4.3l3.5-6.2l3.5-7.4l3.6-7.9l3.5-11.1l3.5-7.4l3.6-5.8l3.5-4.5l3.6-10.8l3.5-11.5l3.5-9.6l3.6-10.7l3.5-5.4l3.6-10.7l3.5-6.8l3.5-12.5l3.6-12.5l3.5-7.6l3.5-9.3l3.6-8.8l3.5-10.9l3.6-10.4l3.5-11.8l3.5-15.2l3.6-10.4l3.5-9l3.6-4.6l3.5-6.9l3.5-11.5l3.6-9.5l3.5-11.2l3.5-15.3l3.6-5.6l3.5-13.3l3.6-11l3.5-4.3l3.5-12l3.6-12l3.5-14.1l3.6-9.5l3.5-8.6l3.5-11.1l3.6-6.8l3.5-11.1l3.5-12.6l3.6-10.7l3.5-11.4l3.6-8.4l3.5-8.2l3.5-3.5l3.6-7.3l3.5-11.1l3.5-11.8l3.6-9.9l3.5-5.5l3.6-3.8l3.5-4.1l3.5-4.4l3.6-7.8l3.5-8.9l3.6-6.6l3.5-3.6l3.5-5.1l3.6-5.4l3.5-5l3.5-7.9l3.6-5.9l3.5-5.3l3.6-3.3l3.5-2l3.5-4l3.6-4.2l3.5-3.2l3.6-2.7l3.5-4l3.5-2.1l3.6-1.7l3.5-2.6l3.5-3.4l3.6-2.8l3.5-3.2l3.6-3.2l3.5-2.5l3.5-1l3.6-2.5l3.5-3.4l3.6-2.9l3.5-2.4l3.5-2.4l3.6-1.1l3.5-1.6l3.5-1.8l3.6-3.7l3.5-2.7l3.6-2.2l3.5-3.6l3.5-2.8l3.6-.8l3.5-2.2l3.5-1.8l3.6-4l3.5-1.9l3.6-4.1l3.5-1.7l3.5-1.7l3.6-3.8l3.5-2.9l3.6-3.2l3.5-3.5l3.5-1.9l3.6-2.8l3.5-1.8l3.5-2.5l3.6-2.7l3.5-3.8l3.6-2.1l3.5-1.9l3.5-2.9l3.6-3.5l3.5-2.2l3.6-2.4l3.5-3.3l3.5-2.2l3.6-2" stroke="#385723" stroke-width="3.8"/>
<path d="M64.5 2062.3l3.5 0l3.6 0l3.5 0l3.6 0l3.5 0l3.5 0l3.6 0l3.5 0l3.5 0l3.6 0l3.5 0l3.6 0l3.5 0l3.5 0l3.6 0l3.5 0l3.6 0l3.5-.1l3.5-.1l3.6-.1l3.5-.2l3.5-.1l3.6-.1l3.5-.2l3.6-.2l3.5-.3l3.5-.2l3.6-.4l3.5-.3l3.5-.3l3.6-.3l3.5-.4l3.6-.6l3.5-.6l3.5-.7l3.6-.4l3.5-.5l3.6-.4l3.5-.6l3.5-1l3.6-.7l3.5-.8l3.5-.6l3.6-.4l3.5-.5l3.6-.6l3.5-1l3.5-1l3.6-1.3l3.5-1l3.6-.7l3.5-.4l3.5-.8l3.6-.7l3.5-1.3l3.5-.6l3.6-.8l3.5-.4l3.6-.8l3.5-.6l3.5-.9l3.6-.9l3.5-.9l3.6-.8l3.5-.7l3.5-.6l3.6-.8l3.5-1l3.5-.7l3.6-1l3.5-.8l3.6-.6l3.5-1l3.5-.7l3.6-.5l3.5-1.2l3.5-.8l3.6-.9l3.5-.7l3.6-.5l3.5-.9l3.5-.9l3.6-.9l3.5-.7l3.6-.9l3.5-.7l3.5-.5l3.6-.4l3.5-.8l3.5-.9l3.6-.6l3.5-.6l3.6-.9l3.5-.6l3.5-.9l3.6-.6l3.5-.7l3.6-.9l3.5-.6l3.5-.6l3.6-.7l3.5-.8l3.5-.4l3.6-.7l3.5-.6l3.6-.5l3.5-.6l3.5-.5l3.6-.4l3.5-.8l3.5-.4l3.6-.8l3.5-.5l3.6-.8l3.5-.6l3.5-1.1l3.6-1l3.5-1l3.6-1.3l3.5-1.5l3.5-.8l3.6-1.3l3.5-2.3l3.5-2.8l3.6-4.2l3.5-4.3l3.6-3.1l3.5-3.5l3.5-2.7l3.6-2.5l3.5-4.7l3.6-3l3.5-6.1l3.5-4l3.6-4.6l3.5-2.9l3.5-2.8l3.6-4.9l3.5-5.5l3.6-4.2l3.5-3.4l3.5-3.7l3.6-3.5l3.5-5.1l3.6-2.9l3.5-2.4l3.5-3.8l3.6-3.3l3.5-1.8l3.5-3.1l3.6-3.5l3.5-3.4l3.6-3.3l3.5-2.3l3.5-1.7l3.6-3l3.5-2.1l3.5-1.9l3.6-3.8l3.5-3l3.6-.9l3.5-3.7l3.5-1.9l3.6-1.2l3.5-2.9l3.6-2.7l3.5-3.1l3.5-2.1l3.6-1.1l3.5-2l3.5-1.9l3.6-2.7l3.5-2.5l3.6-3.1l3.5-1.8l3.5-2.1l3.6-2l3.5-2.7l3.6-1.7l3.5-3.3l3.5-4.6l3.6-1.7l3.5-3.3l3.5-2.5l3.6-3.3l3.5-2.9l3.6-3.6l3.5-3.7l3.5-3.6l3.6-2l3.5-2.9l3.6-4.8l3.5-4.7l3.5-3.1l3.6-3.5l3.5-4.1l3.5-4.9l3.6-4.6l3.5-3.3l3.6-2.3l3.5-6.2l3.5-4.5l3.6-7.9l3.5-7.4l3.5-5.8l3.6-6.1l3.5-6.9l3.6-9.7l3.5-8.4l3.5-8.5l3.6-3.3l3.5-4.9l3.6-6.7l3.5-4.1l3.5-9.4l3.6-10.1l3.5-9.4l3.5-13.5l3.6-6.6l3.5-7.5l3.6-9.2l3.5-10.1l3.5-8.3l3.6-13.9l3.5-10.1l3.6-11l3.5-11.3l3.5-11.2l3.6-11.4l3.5-17.3l3.5-19.5l3.6-15.2l3.5-17.9l3.6-12.6l3.5-17.8l3.5-22.1l3.6-21.3l3.5-21.1l3.6-24.2l3.5-13.8l3.5-18.1l3.6-17.2l3.5-25.5l3.5-23.6l3.6-17.3l3.5-15l3.6-14.5l3.5-21.8l3.5-27.4l3.6-26.5l3.5-29.7l3.5-28.8l3.6-37.8l3.5-26.3l3.6-32.8l3.5-21.1l3.5-24.9l3.6-34.2l3.5-21.8l3.6-21.7l3.5-14.5l3.5-17.5l3.6-29.2l3.5-23.1l3.5-23.7l3.6-17.5l3.5-24.6l3.6-19.4l3.5-21.5l3.5-15.5l3.6-15l3.5-22.2l3.6-14.5l3.5-14.2l3.5-7.2l3.6-8.1l3.5-7l3.5-16.7l3.6-18.2l3.5-17.7l3.6-18.1l3.5-5.1l3.5-10.2l3.6-14.5l3.5-14.3l3.5-14.5l3.6-9.2l3.5-5.3l3.6-7l3.5-6.6l3.5-5.5l3.6-6.4l3.5-4.5l3.6-5l3.5-4l3.5-3.6l3.6-4.1l3.5-3.3l3.5-4l3.6-4.7l3.5-6l3.6-3.8l3.5-3.7l3.5-7.1l3.6-4.7l3.5-5.1l3.6-4.7l3.5-6.7l3.5-4.6l3.6-3.9l3.5-5.2l3.5-2.7l3.6-2.9l3.5-5.4l3.6-3.9l3.5-2.5l3.5-3.4l3.6-2.7l3.5-4.4l3.6-2.1l3.5-3.5l3.5-3.5l3.6-2.8l3.5-1.8l3.5-2l3.6-2.4l3.5-3.2l3.6-2.5l3.5-2.4l3.5-2.6l3.6-1.8l3.5-2l3.5-2l3.6-2.3l3.5-1.2l3.6-1.9l3.5-2.1l3.5-1.4l3.6-1.4l3.5-1.9l3.6-2.6l3.5-1.3l3.5-1.1l3.6-.8l3.5-1.6l3.5-1.3l3.6-1.3l3.5-1.6l3.6-2.1l3.5-1.9l3.5-1.5l3.6-1.6l3.5-1.6l3.6-1.2l3.5-1.8l3.5-1.6l3.6-1.7l3.5-1.3l3.5-1.9l3.6-.7l3.5-1.5l3.6-1.3l3.5-2.5l3.5-1.2l3.6-1.2l3.5-1.3l3.6-1.4l3.5-2.2l3.5-1.7l3.6-1.8l3.5-2l3.5-1.9l3.6-.9l3.5-1.6l3.6-1.1l3.5-2.3l3.5-2.6l3.6-1.6l3.5-1.6l3.5-2.2l3.6-1.8l3.5-2.3l3.6-2l3.5-2.1l3.5-2l3.6-2.9l3.5-1l3.6-1.9l3.5-3.3l3.5-2.6l3.6-2.1l3.5-2.9l3.5-2.3l3.6-2.3l3.5-2.9l3.6-3.4l3.5-2.2l3.5-3.6l3.6-4.4l3.5-1.7l3.6-2.8l3.5-2.2l3.5-4.2l3.6-4.1" stroke="#7C9CD6" stroke-width="3.8"/>
<path d="M64.5 2062.3l3.5 0l3.6 0l3.5 0l3.6 0l3.5 0l3.5 0l3.6 0l3.5 0l3.5 0l3.6 0l3.5 0l3.6 0l3.5 0l3.5 0l3.6 0l3.5 0l3.6 0l3.5 0l3.5 0l3.6 0l3.5-.1l3.5-0l3.6-0l3.5-0l3.6-0l3.5-.1l3.5-0l3.6-0l3.5-.1l3.5-0l3.6-.1l3.5-0l3.6-.1l3.5-0l3.5-.1l3.6-.1l3.5-.1l3.6-.1l3.5-0l3.5-.1l3.6-.1l3.5-0l3.5-.1l3.6-.1l3.5-.1l3.6-0l3.5-.1l3.5-.1l3.6-.1l3.5-.1l3.6-.1l3.5-.1l3.5-.1l3.6-.1l3.5-.1l3.5-.1l3.6-0l3.5-.2l3.6-.1l3.5-.1l3.5-0l3.6-.2l3.5-0l3.6-.2l3.5-.1l3.5-.1l3.6-.1l3.5-.1l3.5-.1l3.6-.1l3.5-.1l3.6-.1l3.5-.1l3.5-.1l3.6-0l3.5-.1l3.5-.1l3.6-.1l3.5-.1l3.6-.1l3.5-.1l3.5-.1l3.6-0l3.5-.1l3.6-.1l3.5-.1l3.5-.1l3.6-.1l3.5-.1l3.5-.1l3.6-.1l3.5-.1l3.6-.1l3.5-.1l3.5-0l3.6-.1l3.5-0l3.6-.1l3.5-.1l3.5-.1l3.6-.1l3.5-.1l3.5-0l3.6-.1l3.5-.1l3.6-.1l3.5-.1l3.5-.1l3.6-0l3.5-.1l3.5-.1l3.6-.1l3.5-.1l3.6-.1l3.5-.1l3.5-0l3.6-.1l3.5-.1l3.6-.1l3.5-.2l3.5-.1l3.6-.1l3.5-.1l3.5-.1l3.6-.1l3.5-.1l3.6-.2l3.5-.2l3.5-.1l3.6-0l3.5-.2l3.6-.1l3.5-.1l3.5-.1l3.6-.2l3.5-.1l3.5-.1l3.6-.1l3.5-.1l3.6-.2l3.5-.1l3.5-.1l3.6-.1l3.5-.1l3.6-.2l3.5-0l3.5-.2l3.6-.1l3.5-.1l3.5-.1l3.6-.1l3.5-.1l3.6-.1l3.5-.1l3.5-.1l3.6-.1l3.5-.1l3.5-.1l3.6-0l3.5-.1l3.6-.1l3.5-.1l3.5-.1l3.6-.1l3.5-.1l3.6-.1l3.5-0l3.5-.1l3.6-.1l3.5-.1l3.5-.1l3.6-.1l3.5-.1l3.6-.1l3.5-.1l3.5-.1l3.6-.1l3.5-0l3.6-.1l3.5-.1l3.5-.1l3.6-.1l3.5-.1l3.5-.1l3.6-.1l3.5-.1l3.6-.1l3.5-.1l3.5-.1l3.6-.1l3.5-.1l3.6-.1l3.5-.1l3.5-.1l3.6-.1l3.5-.2l3.5-.1l3.6-.1l3.5-.1l3.6-.1l3.5-.2l3.5-.1l3.6-.1l3.5-.2l3.5-.1l3.6-.1l3.5-.1l3.6-.1l3.5-.1l3.5-.2l3.6-.1l3.5-.2l3.6-.2l3.5-.1l3.5-.2l3.6-.1l3.5-.1l3.5-.2l3.6-.2l3.5-.1l3.6-.2l3.5-.1l3.5-.2l3.6-.2l3.5-.2l3.6-.3l3.5-.3l3.5-.1l3.6-.3l3.5-.2l3.5-.3l3.6-.2l3.5-.3l3.6-.2l3.5-.3l3.5-.2l3.6-.2l3.5-.3l3.6-.3l3.5-.2l3.5-.2l3.6-.2l3.5-.1l3.5-.2l3.6-.2l3.5-.1l3.6-.2l3.5-.1l3.5-.1l3.6-.1l3.5-.1l3.5-.1l3.6-.2l3.5-.1l3.6-.1l3.5-.1l3.5-.1l3.6-.1l3.5-.1l3.6-.1l3.5-.2l3.5-.1l3.6-.1l3.5-.2l3.5-0l3.6-.1l3.5-.1l3.6-.2l3.5-.2l3.5-.1l3.6-.1l3.5-.1l3.6-.2l3.5-.1l3.5-.2l3.6-.1l3.5-.1l3.5-.1l3.6-.1l3.5-.2l3.6-.1l3.5-.2l3.5-.1l3.6-.1l3.5-.1l3.5-.1l3.6-.2l3.5-.2l3.6-.1l3.5-.1l3.5-.1l3.6-.1l3.5-.1l3.6-.1l3.5-.1l3.5-.2l3.6-.2l3.5-0l3.5-.1l3.6-.2l3.5-.1l3.6-.1l3.5-.2l3.5-.1l3.6-.1l3.5-.1l3.6-.2l3.5-.1l3.5-.2l3.6-.2l3.5-.2l3.5-0l3.6-.1l3.5-.1l3.6-.1l3.5-.1l3.5-.2l3.6-.1l3.5-0l3.6-.1l3.5-.1l3.5-.1l3.6-.1l3.5-.1l3.5-0l3.6-.1l3.5-.1l3.6-0l3.5-.1l3.5-.1l3.6-0l3.5-.1l3.5-0l3.6-.1l3.5-.1l3.6-0l3.5-.1l3.5-0l3.6-.1l3.5-0l3.6-0l3.5-.1l3.5-0l3.6-.1l3.5-0l3.5-0l3.6-.1l3.5-0l3.6-.1l3.5-.1l3.5-.1l3.6-0l3.5-.1l3.6-.1l3.5-.1l3.5-.1l3.6-.1l3.5-.1l3.5-.1l3.6-.1l3.5-.1l3.6-.1l3.5-.2l3.5-.1l3.6-.2l3.5-.1l3.6-.1l3.5-.1l3.5-.2l3.6-.1l3.5-.2l3.5-.2l3.6-.1l3.5-.2l3.6-.1l3.5-.1l3.5-.1l3.6-.1l3.5-.2l3.5-.1l3.6-.1l3.5-.1l3.6-.1l3.5-.1l3.5-.2l3.6-.1l3.5-.2l3.6-.1l3.5-.1l3.5-.1l3.6-.1l3.5-.2l3.5-.1l3.6-.2l3.5-.1l3.6-.1l3.5-.1l3.5-.1l3.6-.1l3.5-.2l3.6-.1l3.5-.1l3.5-.1l3.6-.1" stroke="#F2A46F" stroke-width="3.8"/>
<path d="M64.5 2062.3l3.5 0l3.6 0l3.5 0l3.6 0l3.5 0l3.5 0l3.6 0l3.5 0l3.5 0l3.6 0l3.5 0l3.6 0l3.5 0l3.5 0l3.6 0l3.5 0l3.6-.1l3.5-0l3.5-.1l3.6-.1l3.5-0l3.5-.2l3.6-.1l3.5-.3l3.6-.2l3.5-.2l3.5-.3l3.6-.2l3.5-.2l3.5-.5l3.6-.5l3.5-.4l3.6-.5l3.5-.4l3.5-.5l3.6-.5l3.5-.8l3.6-.7l3.5-.5l3.5-.7l3.6-.3l3.5-.7l3.5-.4l3.6-.7l3.5-.4l3.6-.9l3.5-.9l3.5-.5l3.6-.7l3.5-.7l3.6-1.1l3.5-.9l3.5-.8l3.6-.8l3.5-.2l3.5-.8l3.6-.7l3.5-1.1l3.6-.8l3.5-.8l3.5-.6l3.6-.4l3.5-.6l3.6-.7l3.5-.7l3.5-1l3.6-.8l3.5-1l3.5-.6l3.6-.6l3.5-.8l3.6-1l3.5-.6l3.5-.5l3.6-1l3.5-.5l3.5-.5l3.6-1l3.5-.9l3.6-.7l3.5-.9l3.5-.4l3.6-.8l3.5-.5l3.6-.8l3.5-.8l3.5-1.1l3.6-.5l3.5-.5l3.5-.8l3.6-.2l3.5-.7l3.6-.8l3.5-.8l3.5-.8l3.6-.8l3.5-.3l3.6-.5l3.5-.9l3.5-1l3.6-.2l3.5-.8l3.5-.6l3.6-.3l3.5-.4l3.6-.5l3.5-.7l3.5-.6l3.6-.8l3.5-.5l3.5-.6l3.6-.3l3.5-.9l3.6-.9l3.5-1.1l3.5-.8l3.6-1.1l3.5-.7l3.6-.6l3.5-1.3l3.5-1.1l3.6-1.3l3.5-1.8l3.5-.9l3.6-1l3.5-1.3l3.6-1.6l3.5-1.8l3.5-2.4l3.6-2.6l3.5-1.1l3.6-.6l3.5-1.4l3.5-1.4l3.6-1.9l3.5-2.1l3.5-2.8l3.6-1.8l3.5-1.8l3.6-1.5l3.5-2.3l3.5-1.9l3.6-2.5l3.5-2l3.6-1.2l3.5-.6l3.5-.9l3.6-1.7l3.5-1.5l3.5-1.8l3.6-1.5l3.5-1.7l3.6-.8l3.5-1.2l3.5-1.3l3.6-1.4l3.5-1.8l3.5-1.6l3.6-.7l3.5-1.5l3.6-1.6l3.5-1.1l3.5-1.5l3.6-1.1l3.5-1.1l3.6-1.2l3.5-.9l3.5-1.4l3.6-.9l3.5-1.3l3.5-1.7l3.6-1.2l3.5-.9l3.6-1l3.5-1.1l3.5-.8l3.6-2.2l3.5-1.6l3.6-.9l3.5-.8l3.5-.7l3.6-1.3l3.5-.9l3.5-2.3l3.6-1.4l3.5-1l3.6-1.8l3.5-1l3.5-1.2l3.6-1.3l3.5-1.5l3.6-2.3l3.5-.7l3.5-1.3l3.6-.9l3.5-1.2l3.5-1.6l3.6-1.2l3.5-2.2l3.6-1.7l3.5-1.5l3.5-1l3.6-1.6l3.5-1.3l3.5-2.1l3.6-2.3l3.5-1.7l3.6-.7l3.5-1.2l3.5-1l3.6-2.5l3.5-1.9l3.6-1.4l3.5-1.3l3.5-2.1l3.6-1l3.5-1.8l3.5-1.7l3.6-2.2l3.5-2.1l3.6-2.2l3.5-2.4l3.5-1l3.6-2l3.5-2.3l3.6-2l3.5-1.9l3.5-1.8l3.6-2.2l3.5-1.7l3.5-2.3l3.6-2.3l3.5-2.6l3.6-2.6l3.5-2.6l3.5-2.1l3.6-2.3l3.5-1.7l3.6-3.6l3.5-4.5l3.5-3.4l3.6-3.8l3.5-1.8l3.5-3l3.6-2l3.5-5.7l3.6-6.6l3.5-9.5l3.5-9.5l3.6-4.9l3.5-7.8l3.5-10l3.6-12.9l3.5-9l3.6-11.1l3.5-7.4l3.5-8.7l3.6-7.5l3.5-9.5l3.6-7.6l3.5-9.9l3.5-11.3l3.6-8.7l3.5-11.8l3.5-1.2l3.6-4.7l3.5-9.8l3.6-14l3.5-12.2l3.5-11.6l3.6-5.3l3.5-9.8l3.6-10l3.5-13.8l3.5-12.9l3.6-9.6l3.5-8.4l3.5-6.3l3.6-7.3l3.5-9.1l3.6-13.7l3.5-15.3l3.5-11.1l3.6-11l3.5-7.4l3.5-4.4l3.6-10l3.5-8.8l3.6-8.8l3.5-11.5l3.5-15.4l3.6-6.6l3.5-11.8l3.6-5.6l3.5-11.3l3.5-14.2l3.6-11.9l3.5-9.3l3.5-10.1l3.6-13l3.5-10.4l3.6-11.4l3.5-14.8l3.5-16.9l3.6-15.4l3.5-8.1l3.6-6l3.5-7.6l3.5-13.5l3.6-14l3.5-14.6l3.5-10.7l3.6-15.5l3.5-5.3l3.6-10.4l3.5-6.6l3.5-8.5l3.6-8.2l3.5-7.4l3.6-5.2l3.5-6.2l3.5-7.8l3.6-10.3l3.5-6.5l3.5-10.6l3.6-7.9l3.5-6.4l3.6-2.5l3.5-7.3l3.5-8.2l3.6-9l3.5-6.5l3.5-7.4l3.6-4.4l3.5-2.8l3.6-5l3.5-6.2l3.5-5.7l3.6-5.3l3.5-4.4l3.6-4.4l3.5-1.5l3.5-4.1l3.6-3.2l3.5-4.7l3.5-5l3.6-5l3.5-2.8l3.6-1.8l3.5-4.5l3.5-2.8l3.6-1.4l3.5-3.4l3.6-2.4l3.5-2.1l3.5-2.7l3.6-3.1l3.5-2.2l3.5-1.8l3.6-3l3.5-2.2l3.6-1.5l3.5-1.7l3.5-1.2l3.6-2.2l3.5-2.5l3.6-2.8l3.5-2.8l3.5-1.1l3.6-1.5l3.5-1.1l3.5-2l3.6-2.8l3.5-2.6l3.6-1.8l3.5-2.5l3.5-1.8l3.6-2l3.5-1.9l3.5-2.9l3.6-2.2l3.5-2.4l3.6-1.6l3.5-1.4l3.5-1l3.6-2.7l3.5-2.8l3.6-2.2l3.5-2.3l3.5-2.1l3.6-1.9l3.5-.7l3.5-3.1l3.6-2l3.5-3.6l3.6-2.6l3.5-1.7l3.5-1.6l3.6-1.7l3.5-1.9l3.6-3.2l3.5-2.1l3.5-1.9l3.6-1.5" stroke="#C0C0C0" stroke-width="2.2"/>
<path d="M64.5 2062.3l3.5 0l3.6 0l3.5 0l3.6 0l3.5 0l3.5 0l3.6 0l3.5 0l3.5 0l3.6 0l3.5 0l3.6 0l3.5 0l3.5 0l3.6 0l3.5 0l3.6 0l3.5-.1l3.5-0l3.6-0l3.5-.1l3.5-.1l3.6-.1l3.5-.1l3.6-.1l3.5-.1l3.5-.2l3.6-.1l3.5-0l3.5-.2l3.6-.2l3.5-.3l3.6-.3l3.5-.3l3.5-.2l3.6-.1l3.5-.3l3.6-.2l3.5-.3l3.5-.4l3.6-.2l3.5-.3l3.5-.2l3.6-.3l3.5-.3l3.6-.3l3.5-.2l3.5-.3l3.6-.3l3.5-.2l3.6-.2l3.5-.3l3.5-.4l3.6-.2l3.5-.4l3.5-.4l3.6-.3l3.5-.1l3.6-.2l3.5-.5l3.5-.5l3.6-.4l3.5-.2l3.6-.3l3.5-.2l3.5-.3l3.6-.3l3.5-.6l3.5-.4l3.6-.4l3.5-.3l3.6-.2l3.5-.4l3.5-.3l3.6-.5l3.5-.4l3.5-.4l3.6-.4l3.5-.3l3.6-.3l3.5-.6l3.5-.3l3.6-.5l3.5-.2l3.6-.2l3.5-.1l3.5-.3l3.6-.3l3.5-.6l3.5-.6l3.6-.7l3.5-.2l3.6-.5l3.5-.3l3.5-.3l3.6-.2l3.5-.7l3.6-.5l3.5-.8l3.5-.4l3.6-.9l3.5-.8l3.5-1.1l3.6-1l3.5-1.1l3.6-1.3l3.5-.9l3.5-.5l3.6-1.1l3.5-1.6l3.5-1.7l3.6-1l3.5-.9l3.6-.7l3.5-2l3.5-1.8l3.6-1.9l3.5-1.7l3.6-2.4l3.5-1.7l3.5-1.3l3.6-2.4l3.5-2.7l3.5-2.6l3.6-2.9l3.5-2.8l3.6-3.4l3.5-1.2l3.5-1.7l3.6-4.4l3.5-5l3.6-5.2l3.5-3.7l3.5-1.3l3.6-3.5l3.5-3.2l3.5-3l3.6-3.1l3.5-3.4l3.6-4.2l3.5-2.4l3.5-3.5l3.6-3.3l3.5-4.3l3.6-4.4l3.5-2.8l3.5-2.7l3.6-2.9l3.5-1.7l3.5-3.1l3.6-3.1l3.5-3.5l3.6-2.4l3.5-2.9l3.5-1.8l3.6-2l3.5-2.4l3.5-2.1l3.6-2.9l3.5-1.4l3.6-2.4l3.5-2.6l3.5-1.4l3.6-1.2l3.5-2.2l3.6-3.2l3.5-3.4l3.5-2.9l3.6-1.3l3.5-2.2l3.5-1.6l3.6-3.2l3.5-3l3.6-2.4l3.5-2.1l3.5-2l3.6-1.7l3.5-2.8l3.6-2.6l3.5-2.5l3.5-3l3.6-1.6l3.5-2.3l3.5-1.8l3.6-2l3.5-2.8l3.6-3.3l3.5-2.2l3.5-3.1l3.6-4.1l3.5-2.2l3.6-1.7l3.5-2.9l3.5-4.2l3.6-2.3l3.5-3.8l3.5-1.9l3.6-3.3l3.5-1.6l3.6-3.6l3.5-2.8l3.5-4.2l3.6-3.4l3.5-2.3l3.5-1.5l3.6-3.4l3.5-3.4l3.6-2.7l3.5-4.2l3.5-3.1l3.6-2.6l3.5-1.9l3.6-3.3l3.5-4.5l3.5-3.5l3.6-4.9l3.5-2.2l3.5-3.5l3.6-3.3l3.5-2.7l3.6-4.5l3.5-3.8l3.5-6.8l3.6-4.5l3.5-4.4l3.6-2l3.5-1.7l3.5-5.1l3.6-7.2l3.5-5.2l3.5-6.1l3.6-4.3l3.5-3.9l3.6-5.4l3.5-4.3l3.5-5.7l3.6-7.6l3.5-5.9l3.6-3.7l3.5-3l3.5-7.5l3.6-1.7l3.5-9.6l3.5-7.8l3.6-5.2l3.5-7.2l3.6-6.9l3.5-11.2l3.5-8.5l3.6-4.5l3.5-9.2l3.5-11.7l3.6-7.1l3.5-7.7l3.6-8.7l3.5-13.9l3.5-11.7l3.6-10.4l3.5-8l3.6-10.4l3.5-5.7l3.5-9.6l3.6-11.3l3.5-13.4l3.5-12.9l3.6-10.1l3.5-12.1l3.6-8.3l3.5-5.8l3.5-8.2l3.6-11l3.5-16.1l3.6-7.8l3.5-13.1l3.5-8.7l3.6-7.4l3.5-9.2l3.5-13.4l3.6-15.2l3.5-10.8l3.6-11.1l3.5-8.7l3.5-12.9l3.6-9.8l3.5-12.9l3.5-10.2l3.6-11.5l3.5-7.7l3.6-6.5l3.5-11.7l3.5-15.9l3.6-9l3.5-12.9l3.6-10.7l3.5-14l3.5-13l3.6-12.8l3.5-13.4l3.5-13.5l3.6-16.2l3.5-11.1l3.6-11.1l3.5-12.5l3.5-11.7l3.6-19l3.5-9.4l3.6-13.3l3.5-19.8l3.5-11l3.6-10.6l3.5-11.9l3.5-15.6l3.6-16.3l3.5-16.5l3.6-14.6l3.5-14.3l3.5-2.4l3.6-10.1l3.5-10.4l3.6-14.8l3.5-11.1l3.5-12.2l3.6-10.4l3.5-8.6l3.5-10.2l3.6-12.7l3.5-9.6l3.6-11.8l3.5-12l3.5-9.4l3.6-8.2l3.5-5.2l3.5-7.7l3.6-11.6l3.5-8.7l3.6-7.6l3.5-5.2l3.5-7l3.6-6.1l3.5-5.5l3.6-8.7l3.5-7.1l3.5-6l3.6-5.9l3.5-4.5l3.5-4l3.6-4.3l3.5-5.5l3.6-5.2l3.5-2.9l3.5-2.8l3.6-4.5l3.5-2.2l3.6-3.3l3.5-2.7l3.5-3.2l3.6-3l3.5-2.4l3.5-1.1l3.6-2.5l3.5-2.2l3.6-3.5l3.5-2.6l3.5-2.9l3.6-1.6l3.5-.9l3.6-2.1l3.5-1.7l3.5-2.1l3.6-2.1l3.5-1.2l3.5-1.9l3.6-1.3l3.5-1l3.6-1.2l3.5-2.1l3.5-2.2l3.6-1.5l3.5-1.1l3.5-.8l3.6-1.2l3.5-1.2l3.6-.9l3.5-.9l3.5-.5l3.6-1l3.5-1.1l3.6-.6l3.5-.9l3.5-1.1l3.6-1l3.5-1.5l3.5-.5l3.6-.5l3.5-1.6l3.6-1.6l3.5-2l3.5-1.9l3.6-2.3l3.5-2.4l3.6-2.7l3.5-2.4l3.5-4.7l3.6-3.3" stroke="#FFD34C" stroke-width="3.8"/>
<path d="M64.5 2062.3l3.5 0l3.6 0l3.5 0l3.6 0l3.5 0l3.5 0l3.6 0l3.5 0l3.5 0l3.6 0l3.5 0l3.6 0l3.5 0l3.5 0l3.6 0l3.5 0l3.6 0l3.5-.1l3.5-0l3.6-0l3.5-.1l3.5-0l3.6-.1l3.5-.1l3.6-.1l3.5-.1l3.5-.1l3.6-.1l3.5-.1l3.5-.2l3.6-.1l3.5-.2l3.6-.2l3.5-.3l3.5-.1l3.6-.3l3.5-.2l3.6-.3l3.5-.4l3.5-.2l3.6-.3l3.5-.1l3.5-.3l3.6-.3l3.5-.3l3.6-.4l3.5-.4l3.5-.3l3.6-.2l3.5-.2l3.6-.4l3.5-.3l3.5-.4l3.6-.5l3.5-.4l3.5-.3l3.6-.2l3.5-.3l3.6-.3l3.5-.3l3.5-.3l3.6-.2l3.5-.4l3.6-.3l3.5-.3l3.5-.4l3.6-.4l3.5-.4l3.5-.3l3.6-.3l3.5-.3l3.6-.4l3.5-.4l3.5-.3l3.6-.4l3.5-.3l3.5-.3l3.6-.3l3.5-.3l3.6-.2l3.5-.4l3.5-.3l3.6-.3l3.5-.5l3.6-.3l3.5-.1l3.5-.3l3.6-.4l3.5-.3l3.5-.3l3.6-.3l3.5-.2l3.6-.4l3.5-.2l3.5-.4l3.6-.2l3.5-.3l3.6-.1l3.5-.3l3.5-.3l3.6-.4l3.5-.2l3.5-.2l3.6-.3l3.5-.2l3.6-.2l3.5-.3l3.5-.3l3.6-.3l3.5-.4l3.5-.3l3.6-.1l3.5-.3l3.6-.3l3.5-.3l3.5-.5l3.6-.3l3.5-.4l3.6-.4l3.5-.7l3.5-.5l3.6-.8l3.5-1.3l3.5-1.1l3.6-.8l3.5-.4l3.6-.9l3.5-.9l3.5-1.1l3.6-1l3.5-1.3l3.6-.7l3.5-1.5l3.5-1.4l3.6-1.3l3.5-1.5l3.5-1.6l3.6-1.4l3.5-1.3l3.6-1l3.5-1.2l3.5-1.1l3.6-1.4l3.5-1.8l3.6-.9l3.5-.7l3.5-1.1l3.6-.9l3.5-1l3.5-1.1l3.6-1l3.5-.8l3.6-1l3.5-.8l3.5-.9l3.6-.9l3.5-1.5l3.5-.9l3.6-1.1l3.5-.6l3.6-1l3.5-.8l3.5-.5l3.6-1.2l3.5-.7l3.6-1l3.5-.5l3.5-.7l3.6-.7l3.5-1.1l3.5-.4l3.6-.7l3.5-1.1l3.6-1l3.5-.5l3.5-.8l3.6-.5l3.5-1l3.6-.9l3.5-1.1l3.5-.9l3.6-.6l3.5-1l3.5-.7l3.6-1.1l3.5-.9l3.6-.9l3.5-.7l3.5-1l3.6-.6l3.5-1.2l3.6-1l3.5-.7l3.5-.8l3.6-1l3.5-1l3.5-.4l3.6-.8l3.5-1.1l3.6-1.4l3.5-.9l3.5-.5l3.6-.8l3.5-.6l3.5-.6l3.6-1l3.5-.9l3.6-.9l3.5-.8l3.5-.7l3.6-.6l3.5-1.1l3.6-.7l3.5-1.2l3.5-1.1l3.6-.9l3.5-.5l3.5-.7l3.6-1.2l3.5-1.3l3.6-1.4l3.5-.7l3.5-1l3.6-1.2l3.5-.7l3.6-.9l3.5-1.3l3.5-1.4l3.6-1.2l3.5-1.5l3.5-1l3.6-.6l3.5-1.6l3.6-1.5l3.5-1.9l3.5-1.4l3.6-1.7l3.5-1.2l3.6-1l3.5-1.2l3.5-2.4l3.6-2l3.5-1.2l3.5-2.3l3.6-2.3l3.5-.8l3.6-3.1l3.5-3.7l3.5-5l3.6-4.2l3.5-2.1l3.5-3.2l3.6-3.8l3.5-2.3l3.6-5.9l3.5-4.7l3.5-4.6l3.6-2.3l3.5-3.8l3.6-3l3.5-3.5l3.5-4.5l3.6-4.9l3.5-2.9l3.5-4l3.6-3.9l3.5-2.2l3.6-6.3l3.5-7.4l3.5-4.9l3.6-3.9l3.5-2.3l3.6-2.4l3.5-2.7l3.5-5.6l3.6-4.1l3.5-5.4l3.5-4l3.6-4.7l3.5-4.3l3.6-3.9l3.5-4l3.5-4.9l3.6-5.2l3.5-2.4l3.5-3.2l3.6-2.2l3.5-3.1l3.6-3.5l3.5-4.2l3.5-4.9l3.6-2.6l3.5-1.3l3.6-3.8l3.5-4.6l3.5-3.6l3.6-5.8l3.5-6.1l3.5-3.6l3.6-2.9l3.5-3.5l3.6-3.9l3.5-2.4l3.5-5.5l3.6-3l3.5-4.1l3.6-4.9l3.5-4.4l3.5-2.9l3.6-5.1l3.5-6.6l3.5-3.3l3.6-5.1l3.5-4.6l3.6-1.7l3.5-4.2l3.5-3.8l3.6-3.6l3.5-4l3.6-3.4l3.5-3.1l3.5-2.5l3.6-2.3l3.5-4.1l3.5-4.7l3.6-3.1l3.5-3.9l3.6-1.7l3.5-1.4l3.5-2.8l3.6-2.9l3.5-3.2l3.5-2.3l3.6-2.4l3.5-2.7l3.6-2.5l3.5-1.7l3.5-2.1l3.6-.9l3.5-2.2l3.6-2.7l3.5-2.3l3.5-.9l3.6-.5l3.5-2.1l3.5-1.5l3.6-1.9l3.5-1.5l3.6-1.5l3.5-1l3.5-1.7l3.6-1.6l3.5-1.3l3.6-1.2l3.5-2.3l3.5-1.3l3.6-1.1l3.5-.6l3.5-2l3.6-1l3.5-1.4l3.6-1.3l3.5-.9l3.5-1l3.6-.9l3.5-.7l3.6-1.1l3.5-1.4l3.5-1.3l3.6-1.3l3.5-1.5l3.5-.9l3.6-1.7l3.5-1.1l3.6-1.3l3.5-1.1l3.5-.6l3.6-1.1l3.5-1.1l3.5-1l3.6-1.8l3.5-1.5l3.6-1.2l3.5-.9l3.5-1.1l3.6-.9l3.5-1.1l3.6-1.4l3.5-1.8l3.5-1.2l3.6-1.1l3.5-.9l3.5-1.3l3.6-1.2l3.5-1.6l3.6-1.4l3.5-1.4l3.5-1l3.6-.7l3.5-1.2l3.6-1.2l3.5-1.3l3.5-1.8l3.6-.7" stroke="#8CB9E2" stroke-width="3.8"/>
<path d="M64.5 2062.3l3.5 0l3.6 0l3.5 0l3.6 0l3.5 0l3.5 0l3.6 0l3.5 0l3.5 0l3.6 0l3.5 0l3.6 0l3.5 0l3.5 0l3.6 0l3.5-.1l3.6-0l3.5-.2l3.5-.2l3.6-.2l3.5-.3l3.5-.3l3.6-.3l3.5-.4l3.6-.5l3.5-.4l3.5-.4l3.6-.7l3.5-.4l3.5-.9l3.6-1l3.5-1.6l3.6-2l3.5-2.4l3.5-.7l3.6-2l3.5-1.8l3.6-2.5l3.5-1.4l3.5-2.2l3.6-1.7l3.5-1.3l3.5-1.6l3.6-1.9l3.5-1.3l3.6-1.7l3.5-2.1l3.5-1.6l3.6-1.5l3.5-1.6l3.6-1.5l3.5-1.6l3.5-1.8l3.6-1.6l3.5-1.1l3.5-.9l3.6-1.3l3.5-1.9l3.6-1.2l3.5-1.2l3.5-1.5l3.6-1.6l3.5-1.6l3.6-.7l3.5-1.4l3.5-1.2l3.6-1.4l3.5-1.5l3.5-.6l3.6-1.4l3.5-1.1l3.6-.8l3.5-.9l3.5-1.3l3.6-.6l3.5-1.3l3.5-.9l3.6-1l3.5-.5l3.6-.5l3.5-.9l3.5-.7l3.6-.7l3.5-.3l3.6-1l3.5-.2l3.5-.4l3.6-.8l3.5-.7l3.5-.6l3.6-.3l3.5-.7l3.6-.6l3.5-.5l3.5-.6l3.6-.6l3.5-.5l3.6-.8l3.5-.6l3.5-.5l3.6-.4l3.5-.5l3.5-.6l3.6-.5l3.5-.6l3.6-.6l3.5-.4l3.5-.5l3.6-.6l3.5-.7l3.5-.4l3.6-.7l3.5-.6l3.6-.6l3.5-.4l3.5-.6l3.6-1l3.5-.4l3.6-.8l3.5-.7l3.5-.9l3.6-.7l3.5-1l3.5-.8l3.6-.8l3.5-1.4l3.6-.6l3.5-.8l3.5-.9l3.6-.8l3.5-1.4l3.6-1l3.5-1.2l3.5-1.1l3.6-.5l3.5-1.3l3.5-.9l3.6-1.4l3.5-.8l3.6-1.2l3.5-1.4l3.5-1.2l3.6-1.2l3.5-1.4l3.6-1.1l3.5-.9l3.5-.8l3.6-1l3.5-.4l3.5-.7l3.6-.9l3.5-1.3l3.6-.6l3.5-.9l3.5-.6l3.6-.9l3.5-.7l3.5-.8l3.6-.9l3.5-.8l3.6-.4l3.5-1.1l3.5-.6l3.6-.7l3.5-.8l3.6-.6l3.5-.7l3.5-.7l3.6-.8l3.5-.7l3.5-.7l3.6-.5l3.5-.7l3.6-.6l3.5-.6l3.5-.7l3.6-.9l3.5-.8l3.6-.5l3.5-1.1l3.5-.9l3.6-1.2l3.5-.8l3.5-.4l3.6-.8l3.5-.9l3.6-.9l3.5-.8l3.5-1.1l3.6-.8l3.5-.6l3.6-.5l3.5-1l3.5-.8l3.6-.9l3.5-1.5l3.5-1l3.6-1.2l3.5-1.1l3.6-1.2l3.5-1l3.5-.8l3.6-1.1l3.5-1.1l3.5-1l3.6-1.1l3.5-1.2l3.6-.9l3.5-1.7l3.5-1l3.6-1.3l3.5-.9l3.6-1.7l3.5-1.2l3.5-1.2l3.6-1.4l3.5-1.8l3.5-.9l3.6-1l3.5-1.3l3.6-1.9l3.5-.7l3.5-2.2l3.6-2.6l3.5-1.2l3.6-1.7l3.5-1.2l3.5-.9l3.6-1.5l3.5-2.1l3.5-1.2l3.6-1.5l3.5-1.3l3.6-2l3.5-2.8l3.5-1.9l3.6-1.4l3.5-3l3.6-1.7l3.5-1.7l3.5-2.4l3.6-3l3.5-2.9l3.5-3.2l3.6-3l3.5-2.2l3.6-4.5l3.5-5.6l3.5-4.2l3.6-4.1l3.5-6.5l3.5-7.9l3.6-9l3.5-6.7l3.6-1.3l3.5-7.6l3.5-9l3.6-9l3.5-5.1l3.6-6.8l3.5-6.9l3.5-8.1l3.6-8.2l3.5-10.2l3.5-5.6l3.6-6.3l3.5-5.7l3.6-7.5l3.5-9.6l3.5-7l3.6-7.5l3.5-6l3.6-5.4l3.5-10.9l3.5-6.2l3.6-9.7l3.5-8.5l3.5-6.9l3.6-8.6l3.5-6.2l3.6-8.8l3.5-7.2l3.5-9.2l3.6-11.2l3.5-7.4l3.5-11.1l3.6-9.3l3.5-6.8l3.6-8.3l3.5-11.3l3.5-8.8l3.6-12l3.5-9.9l3.6-11.8l3.5-7.2l3.5-7.1l3.6-9.7l3.5-4.2l3.5-10.2l3.6-15.3l3.5-8.1l3.6-14.4l3.5-12.2l3.5-7.5l3.6-8.3l3.5-13.3l3.6-13.9l3.5-15.3l3.5-12l3.6-5.8l3.5-10.5l3.5-8l3.6-12.1l3.5-10l3.6-10.1l3.5-6.3l3.5-7.7l3.6-4.1l3.5-6.1l3.6-9.8l3.5-8.3l3.5-9.2l3.6-9.8l3.5-4.3l3.5-3.9l3.6-5.4l3.5-6.8l3.6-9.4l3.5-6.8l3.5-5.2l3.6-6.1l3.5-5l3.5-5.8l3.6-5.8l3.5-4l3.6-6.4l3.5-4.6l3.5-6.4l3.6-3.6l3.5-3.3l3.6-4.4l3.5-3.6l3.5-3.9l3.6-3.3l3.5-3.6l3.5-2.7l3.6-3.7l3.5-3.7l3.6-3.2l3.5-3.8l3.5-3.9l3.6-3.5l3.5-3l3.6-3l3.5-3.7l3.5-2.8l3.6-3.2l3.5-1.3l3.5-1.9l3.6-2.4l3.5-3.7l3.6-2.8l3.5-3.2l3.5-2.1l3.6-1.7l3.5-4.5l3.6-3.2l3.5-3.5l3.5-2.4l3.6-2.2l3.5-2.9l3.5-2.3l3.6-2.2l3.5-1.1l3.6-3.7l3.5-2.1l3.5-3.8l3.6-2.8l3.5-5.5l3.5-2.4l3.6-3.4l3.5-4.6l3.6-4l3.5-4.7l3.5-4.9l3.6-3.1l3.5-4.1l3.6-3.8l3.5-3l3.5-5.2l3.6-3.8l3.5-5.9l3.5-4.2l3.6-4.2l3.5-5.2l3.6-3.5l3.5-4.2l3.5-7l3.6-5.3l3.5-4.7l3.6-1.7l3.5-4.9l3.5-4.1l3.6-6.9" stroke="#9AC97B" stroke-width="3.8"/>
<path d="M64.5 2062.3l3.5 0l3.6 0l3.5 0l3.6 0l3.5 0l3.5 0l3.6 0l3.5 0l3.5 0l3.6 0l3.5 0l3.6 0l3.5 0l3.5 0l3.6 0l3.5 0l3.6 0l3.5 0l3.5 0l3.6-.1l3.5-.1l3.5-0l3.6-.1l3.5-0l3.6-0l3.5-.1l3.5-.1l3.6-.1l3.5-.2l3.5-.1l3.6-.1l3.5-.1l3.6-.1l3.5-.3l3.5-.2l3.6-.3l3.5-.2l3.6-.1l3.5-0l3.5-.1l3.6-.2l3.5-.4l3.5-.3l3.6-0l3.5-0l3.6-.1l3.5-.2l3.5-.3l3.6-.2l3.5-.3l3.6-.2l3.5-.1l3.5-0l3.6-.2l3.5-.3l3.5-.4l3.6-.3l3.5-.3l3.6-0l3.5-0l3.5-.2l3.6-.3l3.5-.5l3.6-.4l3.5-.1l3.5-.1l3.6-.1l3.5-.1l3.5-.3l3.6-.5l3.5-.3l3.6-.2l3.5-0l3.5-.1l3.6-.2l3.5-.4l3.5-.4l3.6-.3l3.5-.1l3.6-.1l3.5-.2l3.5-.3l3.6-.2l3.5-.4l3.6-.3l3.5-.2l3.5-.1l3.6-0l3.5-.2l3.5-.4l3.6-.6l3.5-.4l3.6-.5l3.5-.1l3.5-.1l3.6-.3l3.5-.4l3.6-.8l3.5-.7l3.5-.2l3.6-.1l3.5-.3l3.5-.2l3.6-1.2l3.5-1.1l3.6-1l3.5-.9l3.5-.1l3.6-.1l3.5-.2l3.5-1.2l3.6-1.3l3.5-1.7l3.6-.8l3.5-.2l3.5-.6l3.6-1l3.5-2l3.6-1.9l3.5-1.4l3.5-1.1l3.6-.7l3.5-.7l3.5-.6l3.6-2.7l3.5-3.5l3.6-3.1l3.5-.8l3.5-.5l3.6-.7l3.5-1.8l3.6-3.7l3.5-3.8l3.5-2.5l3.6-1.1l3.5-1.4l3.5-.6l3.6-2.1l3.5-4.3l3.6-3.7l3.5-3.4l3.5-1.2l3.6-.3l3.5-1.2l3.6-2.4l3.5-2.6l3.5-3.2l3.6-2.8l3.5-1.3l3.5-.7l3.6-.3l3.5-1.7l3.6-2.4l3.5-2.8l3.5-2.1l3.6-1.3l3.5-.1l3.5-.8l3.6-2l3.5-2l3.6-2.7l3.5-2.4l3.5-1.8l3.6-.5l3.5-.4l3.6-1.1l3.5-2.4l3.5-2.8l3.6-2.2l3.5-2l3.5-.7l3.6-.4l3.5-1.3l3.6-3.1l3.5-2.6l3.5-1.9l3.6-1.1l3.5-.8l3.6-.5l3.5-.9l3.5-2.2l3.6-2.1l3.5-2.2l3.5-1.2l3.6-.4l3.5-1l3.6-1.2l3.5-2.5l3.5-2.5l3.6-1.6l3.5-1.7l3.6-.2l3.5-.4l3.5-1.6l3.6-2.6l3.5-2.4l3.5-2.4l3.6-.8l3.5-.5l3.6-0l3.5-1.3l3.5-1.6l3.6-2.3l3.5-1.4l3.5-1.5l3.6-.7l3.5-.2l3.6-.8l3.5-1.5l3.5-2.1l3.6-1.4l3.5-1.5l3.6-.4l3.5-.8l3.5-1l3.6-1.9l3.5-2.3l3.5-2.7l3.6-1.3l3.5-0l3.6-.1l3.5-2l3.5-2.7l3.6-3.5l3.5-3.1l3.6-1.8l3.5-1l3.5-.9l3.6-1.5l3.5-5.9l3.5-5.8l3.6-3l3.5-3l3.6-1.9l3.5-.4l3.5-1.7l3.6-5.9l3.5-6.2l3.6-6l3.5-5l3.5-1l3.6-2.2l3.5-2.1l3.5-4.1l3.6-7.3l3.5-6.7l3.6-5.4l3.5-2.2l3.5-0l3.6-2.6l3.5-8.3l3.5-9.9l3.6-8.7l3.5-5.3l3.6-2.8l3.5-.2l3.5-4.3l3.6-8l3.5-11.7l3.6-7.4l3.5-2.7l3.5-2.5l3.6-2.7l3.5-2l3.5-5.7l3.6-8.8l3.5-6.8l3.6-4.5l3.5-2.9l3.5-1.6l3.6-4l3.5-5.3l3.6-9.1l3.5-5.5l3.5-4l3.6-0l3.5-.2l3.5-5.2l3.6-6.3l3.5-9.1l3.6-6l3.5-5.6l3.5-.9l3.6-3.1l3.5-5.3l3.5-9.5l3.6-12.5l3.5-10.7l3.6-6.8l3.5-2.5l3.5-4.5l3.6-7.5l3.5-5.9l3.6-15.3l3.5-9.8l3.5-6.2l3.6-.6l3.5-3l3.5-6l3.6-7.8l3.5-8.5l3.6-8.7l3.5-4.9l3.5-.4l3.6-0l3.5-2.8l3.6-8.2l3.5-9.9l3.5-5.7l3.6-3.4l3.5-.7l3.5-2.2l3.6-3l3.5-8.6l3.6-8.4l3.5-6.3l3.5-3.2l3.6-2.5l3.5-.7l3.6-3.1l3.5-6.7l3.5-9l3.6-7.8l3.5-2.8l3.5-0l3.6-.2l3.5-3.6l3.6-7.3l3.5-5l3.5-7.7l3.6-4.2l3.5-1.6l3.5-0l3.6-3.7l3.5-5.8l3.6-6.5l3.5-6.8l3.5-4.6l3.6-1.2l3.5-1.5l3.6-3.8l3.5-5.1l3.5-5.9l3.6-6.5l3.5-2.1l3.5-.7l3.6-1.2l3.5-2.4l3.6-4.2l3.5-6.8l3.5-4.5l3.6-2l3.5-.7l3.6-1.4l3.5-2.9l3.5-4.2l3.6-5.5l3.5-3.8l3.5-3l3.6-1l3.5-0l3.6-1.6l3.5-3.9l3.5-4.5l3.6-3.2l3.5-2.5l3.6-.8l3.5-0l3.5-1.5l3.6-4l3.5-5.7l3.5-4.2l3.6-2.6l3.5-1.6l3.6-.6l3.5-2.3l3.5-4.3l3.6-6.2l3.5-4.2l3.5-3l3.6-.4l3.5-1.2l3.6-3.5l3.5-4.2l3.5-6.5l3.6-5.3l3.5-3.1l3.6-1.4l3.5-.9l3.5-3.2l3.6-6.7l3.5-5.5l3.5-4.4l3.6-3.9l3.5-1.4l3.6-2.7l3.5-1.9l3.5-6.1l3.6-6.1l3.5-5.4l3.6-2.8l3.5-.7l3.5-.6l3.6-8.5" stroke="#2C4F8C" stroke-width="3.8"/>
<path d="M64.5 2062.3l3.5 0l3.6 0l3.5 0l3.6 0l3.5 0l3.5 0l3.6 0l3.5 0l3.5 0l3.6 0l3.5 0l3.6 0l3.5 0l3.5 0l3.6-.1l3.5-0l3.6-0l3.5-.1l3.5-.2l3.6-.2l3.5-.2l3.5-.3l3.6-.4l3.5-.5l3.6-.9l3.5-.4l3.5-.5l3.6-.9l3.5-1.4l3.5-1.6l3.6-1.5l3.5-2.6l3.6-1.7l3.5-2.4l3.5-1.6l3.6-1.7l3.5-3.7l3.6-2.3l3.5-2.3l3.5-3.1l3.6-2.2l3.5-3.6l3.5-3.4l3.6-4l3.5-4.1l3.6-6.3l3.5-5.8l3.5-5.3l3.6-2.7l3.5-7l3.6-5.1l3.5-6.8l3.5-4.7l3.6-2.9l3.5-2.1l3.5-3.5l3.6-5.3l3.5-3.8l3.6-5.7l3.5-2.4l3.5-4.2l3.6-3.2l3.5-2.4l3.6-4.3l3.5-3.7l3.5-3.8l3.6-2.1l3.5-3l3.5-3.2l3.6-3.5l3.5-3.2l3.6-5.2l3.5-3l3.5-3.1l3.6-2.4l3.5-3.2l3.5-2.6l3.6-2.9l3.5-1.6l3.6-2.7l3.5-2.4l3.5-2.5l3.6-1.7l3.5-2.3l3.6-1.8l3.5-2.3l3.5-2.6l3.6-2l3.5-1.6l3.5-1.8l3.6-2.1l3.5-2l3.6-1.4l3.5-1.7l3.5-1.2l3.6-1.2l3.5-2.1l3.6-1.3l3.5-1.2l3.5-.9l3.6-1.1l3.5-1l3.5-.9l3.6-.6l3.5-.4l3.6-1l3.5-.7l3.5-.7l3.6-.6l3.5-.5l3.5-.5l3.6-.3l3.5-1l3.6-1.1l3.5-.7l3.5-.8l3.6-.6l3.5-.9l3.6-.7l3.5-.9l3.5-1.2l3.6-.6l3.5-1.5l3.5-1l3.6-0l3.5-0l3.6-4.1l3.5-1.7l3.5-.8l3.6-.9l3.5-1.3l3.6-0l3.5-0l3.5-3.7l3.6-1.3l3.5-1.8l3.5-1.1l3.6-1.1l3.5-0l3.6-0l3.5-4.2l3.5-1.3l3.6-1.5l3.5-1.1l3.6-.7l3.5-0l3.5-0l3.6-4.1l3.5-1.1l3.5-1.2l3.6-.6l3.5-.7l3.6-0l3.5-0l3.5-2.8l3.6-1.4l3.5-1.1l3.5-.8l3.6-.8l3.5-0l3.6-0l3.5-2.4l3.5-1l3.6-.8l3.5-.6l3.6-1.1l3.5-0l3.5-0l3.6-2.1l3.5-.8l3.5-.6l3.6-1.2l3.5-.9l3.6-0l3.5-0l3.5-3.3l3.6-.4l3.5-1l3.6-1l3.5-.9l3.5-0l3.6-0l3.5-2.5l3.5-1.6l3.6-1l3.5-.9l3.6-.8l3.5-0l3.5-0l3.6-3.7l3.5-1.2l3.6-1.2l3.5-1.6l3.5-1.1l3.6-0l3.5-0l3.5-3l3.6-2.3l3.5-1.6l3.6-2.2l3.5-1.7l3.5-0l3.6-0l3.5-6.8l3.5-2.2l3.6-1.9l3.5-2.2l3.6-.9l3.5-0l3.5-0l3.6-5.6l3.5-4.2l3.6-2.9l3.5-1.7l3.5-1.6l3.6-0l3.5-0l3.5-8.7l3.6-3.8l3.5-3l3.6-3.8l3.5-2.8l3.5-0l3.6-0l3.5-6.8l3.6-3.4l3.5-3.6l3.5-2.8l3.6-2.4l3.5-0l3.5-0l3.6-8.1l3.5-4.1l3.6-1.7l3.5-2.9l3.5-2.1l3.6-0l3.5-0l3.6-11.3l3.5-4.9l3.5-5.5l3.6-5l3.5-3.9l3.5-0l3.6-0l3.5-13.9l3.6-8l3.5-10.4l3.5-6.4l3.6-13.4l3.5-0l3.5-0l3.6-30.1l3.5-16.2l3.6-14.3l3.5-12l3.5-9.8l3.6-0l3.5-0l3.6-38.4l3.5-11.9l3.5-16.9l3.6-6.8l3.5-12.5l3.5-0l3.6-0l3.5-31.3l3.6-18.3l3.5-13.9l3.5-15.5l3.6-12.1l3.5-0l3.6-0l3.5-41.1l3.5-14.9l3.6-9.3l3.5-17.8l3.5-10.6l3.6-0l3.5-0l3.6-38l3.5-13.6l3.5-17.3l3.6-10.8l3.5-13.9l3.5-0l3.6-0l3.5-39.8l3.6-13.1l3.5-15.9l3.5-8.6l3.6-19.8l3.5-0l3.6-0l3.5-39.2l3.5-12.1l3.6-15.1l3.5-14.6l3.5-11.2l3.6-0l3.5-0l3.6-41.6l3.5-8.7l3.5-17.6l3.6-21.5l3.5-19.3l3.6-0l3.5-0l3.5-59.2l3.6-18.1l3.5-16.4l3.5-14.4l3.6-14.1l3.5-0l3.6-0l3.5-38.2l3.5-14.8l3.6-12.9l3.5-9l3.6-10l3.5-0l3.5-0l3.6-30.7l3.5-7.7l3.5-11.6l3.6-9.3l3.5-10.7l3.6-0l3.5-0l3.5-24.3l3.6-10.3l3.5-8.1l3.5-9.5l3.6-9.1l3.5-0l3.6-0l3.5-22.3l3.5-10.4l3.6-4.2l3.5-5.4l3.6-7.8l3.5-0l3.5-0l3.6-16.2l3.5-6l3.5-4.4l3.6-5.4l3.5-5.3l3.6-0l3.5-0l3.5-14.3l3.6-3.7l3.5-6.9l3.6-5.7l3.5-3.8l3.5-0l3.6-0l3.5-15.8l3.5-4.8l3.6-6.3l3.5-4.6l3.6-5.7l3.5-0l3.5-0l3.6-13.8l3.5-5.7l3.6-4.1l3.5-4l3.5-3.5l3.6-0l3.5-0l3.5-16.1l3.6-4.6l3.5-6.4l3.6-4.1l3.5-5.7l3.5-0l3.6-0l3.5-14.3l3.5-5l3.6-3.3l3.5-5.3l3.6-4.4l3.5-0l3.5-0l3.6-13.9l3.5-2.8l3.6-6.2l3.5-6.7l3.5-3.6l3.6-0l3.5-0l3.5-13.6l3.6-4.9l3.5-5.2l3.6-4.1l3.5-4.1l3.5-0l3.6-0l3.5-13.7l3.6-6.6l3.5-4.3l3.5-5.3l3.6-5.1" stroke="#B85410" stroke-width="3.8"/>
<path d="M64.5 2062.3l3.5 0l3.6 0l3.5 0l3.6 0l3.5 0l3.5 0l3.6 0l3.5 0l3.5 0l3.6 0l3.5 0l3.6 0l3.5 0l3.5 0l3.6 0l3.5 0l3.6-.1l3.5-0l3.5-.1l3.6-.1l3.5-.1l3.5-.1l3.6-.1l3.5-.2l3.6-.3l3.5-.3l3.5-.1l3.6-.3l3.5-.2l3.5-.4l3.6-.4l3.5-.7l3.6-.5l3.5-.4l3.5-.2l3.6-.5l3.5-.5l3.6-.8l3.5-.7l3.5-.5l3.6-.4l3.5-.5l3.5-.3l3.6-.4l3.5-.7l3.6-.5l3.5-.5l3.5-.7l3.6-.6l3.5-.5l3.6-.3l3.5-.5l3.5-.6l3.6-.7l3.5-1.1l3.5-.6l3.6-.4l3.5-.4l3.6-.4l3.5-.7l3.5-.8l3.6-.6l3.5-.7l3.6-.6l3.5-.5l3.5-.8l3.6-.8l3.5-1l3.5-.6l3.6-.5l3.5-.6l3.6-.9l3.5-.8l3.5-.9l3.6-.9l3.5-.7l3.5-.9l3.6-.4l3.5-.5l3.6-.9l3.5-.5l3.5-.7l3.6-.8l3.5-.4l3.6-.3l3.5-.5l3.5-1.1l3.6-1.2l3.5-.7l3.5-.5l3.6-.5l3.5-1.1l3.6-1l3.5-1.1l3.5-1l3.6-1.3l3.5-.8l3.6-1.2l3.5-.8l3.5-1l3.6-1.5l3.5-2.1l3.5-2.1l3.6-1.6l3.5-2.3l3.6-.9l3.5-1.3l3.5-2.9l3.6-2.8l3.5-2.8l3.5-2.4l3.6-2.7l3.5-2.5l3.6-3.4l3.5-2.2l3.5-2.4l3.6-3.3l3.5-2.9l3.6-2.7l3.5-1.3l3.5-3.9l3.6-5.6l3.5-4.8l3.5-5.8l3.6-4.8l3.5-3.9l3.6-4.2l3.5-5.5l3.5-5.4l3.6-6.1l3.5-5.2l3.6-4l3.5-5.1l3.5-3.9l3.6-5.9l3.5-2.9l3.5-8.8l3.6-7.3l3.5-6.5l3.6-4.1l3.5-2.5l3.5-3.9l3.6-3.9l3.5-5.9l3.6-4.9l3.5-4.2l3.5-1.9l3.6-2.4l3.5-2.2l3.5-5.9l3.6-4.9l3.5-4.1l3.6-3.4l3.5-1.8l3.5-3.1l3.6-3.3l3.5-3.4l3.5-4.9l3.6-2.3l3.5-3.8l3.6-3.8l3.5-3.3l3.5-1.9l3.6-1.6l3.5-5.1l3.6-4.6l3.5-2.8l3.5-2.4l3.6-2.8l3.5-3.4l3.5-3l3.6-2.9l3.5-3.2l3.6-3l3.5-3.6l3.5-2l3.6-1.7l3.5-4l3.6-3.6l3.5-3.3l3.5-1.6l3.6-1.6l3.5-1.4l3.5-2.5l3.6-3.6l3.5-3.4l3.6-2.6l3.5-2.5l3.5-2.4l3.6-1.9l3.5-1.6l3.6-2.4l3.5-3.9l3.5-2.1l3.6-1.8l3.5-2.7l3.5-2l3.6-2.1l3.5-2.7l3.6-2.5l3.5-1.7l3.5-2.8l3.6-2l3.5-2.5l3.5-2.1l3.6-1.7l3.5-1.9l3.6-1.8l3.5-1.1l3.5-2.3l3.6-1.5l3.5-2.5l3.6-2.2l3.5-2.3l3.5-3l3.6-1.5l3.5-2.7l3.5-1.5l3.6-3l3.5-2.8l3.6-2l3.5-3.5l3.5-2.3l3.6-2.2l3.5-1.7l3.6-2.4l3.5-2.7l3.5-3.2l3.6-3.9l3.5-3.7l3.5-3.5l3.6-3.4l3.5-2.6l3.6-3.9l3.5-3.3l3.5-4.1l3.6-3.7l3.5-3.1l3.6-2.2l3.5-2.3l3.5-5.5l3.6-3.3l3.5-3.6l3.5-4.1l3.6-2.9l3.5-3.6l3.6-4.6l3.5-2.4l3.5-4.5l3.6-4.8l3.5-2.6l3.5-4.3l3.6-4.7l3.5-3.5l3.6-4.5l3.5-4.1l3.5-5.4l3.6-3.3l3.5-3.6l3.6-2.9l3.5-3.4l3.5-5.6l3.6-4.5l3.5-5.3l3.5-2.4l3.6-2.7l3.5-3.1l3.6-6.2l3.5-5.6l3.5-6.9l3.6-3.7l3.5-4.8l3.6-4.1l3.5-3.4l3.5-5.2l3.6-5.2l3.5-6.5l3.5-3.7l3.6-4.8l3.5-4.6l3.6-8.8l3.5-8.2l3.5-6.2l3.6-10.5l3.5-8.4l3.5-7l3.6-7.1l3.5-16l3.6-8.9l3.5-10.3l3.5-14.6l3.6-11.7l3.5-7.2l3.6-15l3.5-13.5l3.5-10.1l3.6-7.5l3.5-11.3l3.5-11.5l3.6-7.4l3.5-15.7l3.6-7.8l3.5-7.6l3.5-10.5l3.6-11.5l3.5-6.1l3.6-12.9l3.5-13.9l3.5-10.3l3.6-11.8l3.5-11.7l3.5-8.5l3.6-15.3l3.5-13.7l3.6-7.4l3.5-7.7l3.5-10.9l3.6-11l3.5-9.4l3.6-16.4l3.5-14.1l3.5-14.6l3.6-16.8l3.5-10.5l3.5-10.7l3.6-16.9l3.5-18l3.6-17.5l3.5-13l3.5-9.8l3.6-10.5l3.5-7.3l3.5-14.9l3.6-13.3l3.5-9l3.6-7.2l3.5-8.3l3.5-8.7l3.6-9.5l3.5-9.4l3.6-5.5l3.5-6.9l3.5-4.2l3.6-8.4l3.5-10.7l3.5-5.2l3.6-6.7l3.5-6.8l3.6-4.5l3.5-6.7l3.5-4.2l3.6-6.5l3.5-6.5l3.6-4.4l3.5-3.1l3.5-4.9l3.6-2.7l3.5-2.3l3.5-3.4l3.6-5l3.5-3.3l3.6-3.9l3.5-4.2l3.5-2.8l3.6-3.6l3.5-4l3.6-2.8l3.5-2.9l3.5-2.9l3.6-4.6l3.5-3.4l3.5-2.9l3.6-2.9l3.5-4.6l3.6-3.5l3.5-6.2l3.5-3.4l3.6-1.5l3.5-4.1l3.5-3.5l3.6-3.9l3.5-4l3.6-5.1l3.5-3.1l3.5-4.5l3.6-2.3l3.5-4.2l3.6-2.5l3.5-5.2l3.5-3.3l3.6-3.7l3.5-4.2l3.5-2.5l3.6-4.2l3.5-4l3.6-5.5l3.5-4.7l3.5-3.6l3.6-2.8l3.5-2.3l3.6-4.8l3.5-3.6l3.5-3.2l3.6-4.2" stroke="#747474" stroke-width="3.8"/>
<path d="M64.5 2062.3l3.5 0l3.6 0l3.5 0l3.6 0l3.5 0l3.5 0l3.6 0l3.5 0l3.5 0l3.6 0l3.5 0l3.6 0l3.5 0l3.5 0l3.6 0l3.5-.1l3.6-0l3.5-.1l3.5-.2l3.6-.1l3.5-.2l3.5-.3l3.6-.4l3.5-.4l3.6-.3l3.5-.3l3.5-.3l3.6-.4l3.5-.9l3.5-.6l3.6-.7l3.5-1.1l3.6-.8l3.5-.5l3.5-.6l3.6-1.2l3.5-1.1l3.6-.7l3.5-1l3.5-1.2l3.6-.6l3.5-1l3.5-.8l3.6-.9l3.5-1.4l3.6-1.4l3.5-1.4l3.5-.8l3.6-1.4l3.5-1.3l3.6-1.1l3.5-2.1l3.5-1.4l3.6-1.6l3.5-1.6l3.5-1.1l3.6-1.4l3.5-1.4l3.6-1.2l3.5-1.5l3.5-.8l3.6-1.4l3.5-1.4l3.6-1.3l3.5-1.2l3.5-1.2l3.6-1.4l3.5-1.3l3.5-.9l3.6-1.9l3.5-1l3.6-1.5l3.5-1.4l3.5-1.6l3.6-.7l3.5-1l3.5-1.3l3.6-1.3l3.5-1.6l3.6-1.4l3.5-1.7l3.5-1.2l3.6-1.1l3.5-1l3.6-1.5l3.5-1.2l3.5-1.8l3.6-1.2l3.5-1.1l3.5-1l3.6-1l3.5-1.2l3.6-1l3.5-1.6l3.5-1.9l3.6-1.1l3.5-.8l3.6-.7l3.5-.8l3.5-1l3.6-1.4l3.5-1.1l3.5-1.5l3.6-.7l3.5-.7l3.6-.8l3.5-1.2l3.5-1.2l3.6-1.5l3.5-.9l3.5-1l3.6-1.2l3.5-1l3.6-.8l3.5-1.6l3.5-1.9l3.6-1.4l3.5-1.2l3.6-.6l3.5-2.2l3.5-1.8l3.6-1.6l3.5-2.2l3.5-2.3l3.6-2l3.5-1.5l3.6-3.7l3.5-3.2l3.5-3.2l3.6-2.9l3.5-1.9l3.6-1.4l3.5-1.6l3.5-3.3l3.6-3l3.5-4.2l3.5-1.4l3.6-3.6l3.5-2.5l3.6-1.8l3.5-3l3.5-2.3l3.6-2.8l3.5-3l3.6-2.4l3.5-2.1l3.5-1.9l3.6-2.4l3.5-1.7l3.5-1.4l3.6-2l3.5-1.1l3.6-2.8l3.5-1.4l3.5-1.8l3.6-2.1l3.5-1.7l3.5-1.8l3.6-1.8l3.5-1.4l3.6-1.7l3.5-1.4l3.5-1.4l3.6-1.3l3.5-1.3l3.6-1.8l3.5-1.6l3.5-1.3l3.6-1.9l3.5-.7l3.5-2.2l3.6-1.5l3.5-1.6l3.6-1.5l3.5-1.2l3.5-1.6l3.6-2.1l3.5-3.1l3.6-1.8l3.5-2l3.5-1.8l3.6-1.1l3.5-2l3.5-1.9l3.6-2.8l3.5-2.1l3.6-2.7l3.5-1.4l3.5-1.8l3.6-2.8l3.5-3.3l3.6-3.5l3.5-4.1l3.5-3l3.6-2l3.5-2.8l3.5-2l3.6-4.2l3.5-4.4l3.6-4.1l3.5-3.3l3.5-5.1l3.6-1.6l3.5-4.8l3.5-4.3l3.6-6.5l3.5-6.4l3.6-5.4l3.5-5.2l3.5-6.6l3.6-9.7l3.5-9.8l3.6-7.1l3.5-6.9l3.5-8.2l3.6-4.7l3.5-4.1l3.5-9.9l3.6-8.2l3.5-12.9l3.6-9.8l3.5-5.3l3.5-8.6l3.6-8.8l3.5-9l3.6-7.9l3.5-9.8l3.5-20.1l3.6-4.6l3.5-10.7l3.5-16.7l3.6-20.9l3.5-18.3l3.6-17.4l3.5-18.9l3.5-19.8l3.6-10.9l3.5-18.5l3.6-15.6l3.5-18l3.5-20.6l3.6-19.3l3.5-12.2l3.5-20.8l3.6-11.1l3.5-14.7l3.6-9.7l3.5-16.8l3.5-26.8l3.6-20.7l3.5-18.2l3.5-16.5l3.6-23.1l3.5-19.2l3.6-17.5l3.5-17.5l3.5-19.4l3.6-21.6l3.5-24.3l3.6-20.1l3.5-17.3l3.5-17.3l3.6-27.5l3.5-22.3l3.5-17l3.6-19.7l3.5-20.8l3.6-22.5l3.5-26.9l3.5-12.4l3.6-15.6l3.5-14.3l3.6-12.2l3.5-25.5l3.5-18.3l3.6-18.4l3.5-17.5l3.5-11l3.6-12l3.5-7.8l3.6-10.8l3.5-10.8l3.5-12.1l3.6-5.5l3.5-6.2l3.5-5.7l3.6-5.6l3.5-8.3l3.6-9.5l3.5-7.2l3.5-9.1l3.6-7.3l3.5-4.2l3.6-6.2l3.5-7.9l3.5-5.7l3.6-4.1l3.5-9.1l3.5-7.7l3.6-7.6l3.5-7.3l3.6-7.3l3.5-9l3.5-8.6l3.6-14.7l3.5-11.7l3.6-6.4l3.5-5.1l3.5-9.3l3.6-12.4l3.5-8.8l3.5-6.7l3.6-8.6l3.5-5.7l3.6-3.7l3.5-5.1l3.5-6.3l3.6-4.9l3.5-6.4l3.6-6.5l3.5-5.1l3.5-4.7l3.6-4.4l3.5-4l3.5-5.1l3.6-5.2l3.5-3.3l3.6-3.3l3.5-2.3l3.5-3.2l3.6-3.4l3.5-3.2l3.5-4.3l3.6-4.8l3.5-1.2l3.6-2.4l3.5-3.1l3.5-2.7l3.6-3.4l3.5-3.4l3.6-1.5l3.5-2.2l3.5-2.4l3.6-2.5l3.5-3.3l3.5-2.5l3.6-3l3.5-1.8l3.6-1.4l3.5-1.8l3.5-2.3l3.6-3.5l3.5-3.5l3.6-2.8l3.5-2l3.5-2.5l3.6-2.1l3.5-2.4l3.5-2l3.6-4.6l3.5-3.4l3.6-4.6l3.5-3.5l3.5-1.7l3.6-3.4l3.5-2l3.6-4.4l3.5-2.3l3.5-1l3.6-2.3l3.5-2.7l3.5-3.5l3.6-3.2l3.5-3.9l3.6-2.6l3.5-1.3l3.5-2.3l3.6-1.7l3.5-3.2l3.5-1.5l3.6-2.9l3.5-2.7l3.6-3.2l3.5-3.3l3.5-2.2l3.6-1.9l3.5-3l3.6-3.4l3.5-4l3.5-2.7l3.6-3.3l3.5-.3l3.5-4l3.6-4.2l3.5-2.5l3.6-4.5l3.5-1.2l3.5-2.7l3.6-1.3l3.5-2.2l3.6-3.3l3.5-3.3l3.5-3.2l3.6-2" stroke="#B28600" stroke-width="3.8"/>
<path d="M64.5 2062.3l3.5 0l3.6 0l3.5 0l3.6 0l3.5 0l3.5 0l3.6 0l3.5 0l3.5 0l3.6 0l3.5 0l3.6 0l3.5 0l3.5 0l3.6 0l3.5 0l3.6-.1l3.5-0l3.5-.1l3.6-.1l3.5-.1l3.5-.1l3.6-.2l3.5-.2l3.6-.2l3.5-.1l3.5-.3l3.6-.3l3.5-.3l3.5-.5l3.6-.3l3.5-0l3.6-.5l3.5-.5l3.5-.4l3.6-.8l3.5-.7l3.6-.5l3.5-.3l3.5-.4l3.6-.6l3.5-.5l3.5-.5l3.6-.4l3.5-.4l3.6-.2l3.5-.3l3.5-.5l3.6-.4l3.5-.5l3.6-.6l3.5-.5l3.5-.5l3.6-.5l3.5-.8l3.5-.4l3.6-.6l3.5-.6l3.6-.5l3.5-.7l3.5-.6l3.6-.8l3.5-.7l3.6-.6l3.5-.8l3.5-.2l3.6-.4l3.5-.6l3.5-.4l3.6-.8l3.5-.8l3.6-.5l3.5-.6l3.5-.5l3.6-1.1l3.5-1l3.5-.8l3.6-.8l3.5-.7l3.6-.5l3.5-.7l3.5-.6l3.6-.9l3.5-.7l3.6-.5l3.5-.7l3.5-.6l3.6-.6l3.5-.9l3.5-.7l3.6-.7l3.5-.9l3.6-1l3.5-.6l3.5-.8l3.6-.8l3.5-1.1l3.6-1.2l3.5-1.2l3.5-1.4l3.6-1.3l3.5-1.8l3.5-1.4l3.6-1.7l3.5-1.4l3.6-3.2l3.5-1.6l3.5-1.4l3.6-1.6l3.5-2.1l3.5-2.4l3.6-3.7l3.5-2.3l3.6-2.2l3.5-1.9l3.5-2.6l3.6-1.4l3.5-3.7l3.6-3l3.5-2.3l3.5-4.4l3.6-1.8l3.5-3.7l3.5-3.6l3.6-3.6l3.5-3.3l3.6-4.5l3.5-5.6l3.5-4l3.6-3.4l3.5-5.6l3.6-5.1l3.5-5.6l3.5-4.4l3.6-3.4l3.5-4.2l3.5-4.9l3.6-4.3l3.5-5.9l3.6-5.3l3.5-5.2l3.5-4.6l3.6-4.3l3.5-1.5l3.6-4.6l3.5-4.7l3.5-4.5l3.6-5.5l3.5-4.7l3.5-3.9l3.6-3.4l3.5-3.4l3.6-3.6l3.5-4.5l3.5-3.1l3.6-3.2l3.5-3.2l3.5-2.7l3.6-2.3l3.5-3.9l3.6-3.9l3.5-3.5l3.5-4.2l3.6-3.8l3.5-2.8l3.6-2.2l3.5-3.6l3.5-3.9l3.6-3.1l3.5-3.1l3.5-3.3l3.6-2.5l3.5-3.7l3.6-2.8l3.5-4.6l3.5-3.2l3.6-3.5l3.5-3l3.6-2.4l3.5-4l3.5-2.1l3.6-4.2l3.5-4.2l3.5-3l3.6-2.8l3.5-1.9l3.6-3.2l3.5-3.8l3.5-3.4l3.6-3.8l3.5-3l3.6-2.2l3.5-3l3.5-2.7l3.6-4.4l3.5-3.3l3.5-4.8l3.6-3l3.5-2.5l3.6-2l3.5-3.2l3.5-2.6l3.6-2.5l3.5-3.9l3.5-1.7l3.6-3.8l3.5-2.2l3.6-4l3.5-3.1l3.5-4.4l3.6-2l3.5-2.6l3.6-2.8l3.5-2.1l3.5-3l3.6-3.4l3.5-4.2l3.5-4.7l3.6-1.3l3.5-3.6l3.6-2.1l3.5-4.9l3.5-2.6l3.6-3.8l3.5-5.1l3.6-3.9l3.5-4.3l3.5-3.8l3.6-3.1l3.5-3.2l3.5-6.7l3.6-4.9l3.5-4.6l3.6-3.9l3.5-3.9l3.5-4l3.6-5.9l3.5-6.5l3.6-4.6l3.5-3.8l3.5-6.2l3.6-6.3l3.5-4.8l3.5-6.4l3.6-6.5l3.5-7.9l3.6-6.5l3.5-5.2l3.5-5.1l3.6-8.3l3.5-9.1l3.5-8.4l3.6-9.9l3.5-2.3l3.6-7.7l3.5-8.6l3.5-4.9l3.6-9.6l3.5-11.6l3.6-12.7l3.5-8.9l3.5-4.7l3.6-8.9l3.5-7.2l3.5-10.5l3.6-6.7l3.5-6.8l3.6-6.3l3.5-10l3.5-10.6l3.6-8.8l3.5-10.2l3.6-10.4l3.5-11.2l3.5-7.2l3.6-12l3.5-10.2l3.5-11.7l3.6-10.6l3.5-14.9l3.6-15.3l3.5-19.4l3.5-12.2l3.6-6.4l3.5-9.3l3.5-19.1l3.6-19l3.5-19l3.6-15l3.5-10.2l3.5-14.7l3.6-10.3l3.5-21.1l3.6-30l3.5-20.2l3.5-11.6l3.6-10.7l3.5-23.5l3.5-15.6l3.6-13.4l3.5-18.8l3.6-15.1l3.5-11.2l3.5-14.8l3.6-15.5l3.5-19.8l3.6-11.5l3.5-23.8l3.5-15l3.6-7.2l3.5-16.6l3.5-14.7l3.6-12.7l3.5-14.1l3.6-9l3.5-12.1l3.5-5.5l3.6-7.3l3.5-13.5l3.6-10.9l3.5-8.5l3.5-9.4l3.6-8l3.5-7.9l3.5-5.9l3.6-3.9l3.5-6.1l3.6-4.6l3.5-7.4l3.5-8l3.6-7.5l3.5-8.8l3.5-2.4l3.6-8.5l3.5-5l3.6-5.6l3.5-5.8l3.5-7.6l3.6-2.5l3.5-3.5l3.6-5l3.5-5.9l3.5-5.2l3.6-4.5l3.5-4.6l3.5-2.1l3.6-4.4l3.5-2.7l3.6-3.9l3.5-3.1l3.5-3.2l3.6-3.9l3.5-2.9l3.6-2.2l3.5-3.1l3.5-4.9l3.6-1l3.5-1.6l3.5-2.9l3.6-1.3l3.5-3l3.6-2l3.5-2.8l3.5-2.4l3.6-3.9l3.5-2.9l3.6-.9l3.5-2.2l3.5-1.9l3.6-3.2l3.5-2.6l3.5-2l3.6-2l3.5-2.1l3.6-2.8l3.5-2.1l3.5-2.2l3.6-2.6l3.5-3.3l3.5-2.2l3.6-3.1l3.5-2.3l3.6-2.1l3.5-2.6l3.5-2.5l3.6-1.3l3.5-3.4l3.6-3l3.5-1.8l3.5-2.4l3.6-1.9l3.5-2.9l3.5-3l3.6-2.5l3.5-2.2l3.6-2.7l3.5-2.6l3.5-3l3.6-2.3l3.5-2.4l3.6-2.5l3.5-1.2l3.5-1.5l3.6-4.4" stroke="#2B6DA9" stroke-width="3.8"/>
<path d="M64.5 2062.3l3.5 0l3.6 0l3.5 0l3.6 0l3.5 0l3.5 0l3.6 0l3.5 0l3.5 0l3.6 0l3.5 0l3.6 0l3.5 0l3.5 0l3.6 0l3.5 0l3.6 0l3.5-.1l3.5-.1l3.6-.1l3.5-0l3.5-.1l3.6-.1l3.5-.1l3.6-.3l3.5-.2l3.5-.2l3.6-.3l3.5-.2l3.5-.2l3.6-.4l3.5-.3l3.6-.4l3.5-.5l3.5-.5l3.6-.2l3.5-.6l3.6-.3l3.5-.4l3.5-.7l3.6-.4l3.5-.4l3.5-.3l3.6-.4l3.5-.3l3.6-.6l3.5-.4l3.5-.3l3.6-.2l3.5-.6l3.6-.3l3.5-.4l3.5-.6l3.6-.5l3.5-.6l3.5-.5l3.6-.4l3.5-.4l3.6-.5l3.5-.4l3.5-.5l3.6-.7l3.5-.5l3.6-.3l3.5-.5l3.5-.6l3.6-.6l3.5-.6l3.5-.7l3.6-.1l3.5-.7l3.6-.4l3.5-.6l3.5-.7l3.6-.8l3.5-.5l3.5-.4l3.6-.5l3.5-.7l3.6-.9l3.5-.4l3.5-.5l3.6-.5l3.5-.7l3.6-.5l3.5-.6l3.5-.6l3.6-.8l3.5-.6l3.5-.4l3.6-.6l3.5-.4l3.6-.8l3.5-1l3.5-.8l3.6-1.1l3.5-1l3.6-1.2l3.5-.7l3.5-1.2l3.6-1.4l3.5-1.5l3.5-1.6l3.6-1.3l3.5-1.5l3.6-1.6l3.5-1.6l3.5-1.9l3.6-1.9l3.5-1.8l3.5-.9l3.6-1.9l3.5-2l3.6-2l3.5-2.3l3.5-3.3l3.6-2.2l3.5-1.2l3.6-2.2l3.5-2.6l3.5-3.9l3.6-3.7l3.5-4.2l3.5-3.4l3.6-3.2l3.5-2.4l3.6-5.1l3.5-4.7l3.5-4.3l3.6-5.5l3.5-6.5l3.6-5.6l3.5-5.1l3.5-5.4l3.6-4.7l3.5-4.8l3.5-5l3.6-5.4l3.5-2.4l3.6-4.9l3.5-4.6l3.5-3.8l3.6-4.5l3.5-6.2l3.6-3.9l3.5-3.8l3.5-4.8l3.6-2.3l3.5-3.6l3.5-3.5l3.6-3.5l3.5-3.8l3.6-3.9l3.5-3l3.5-4l3.6-3.9l3.5-2.6l3.5-3.7l3.6-3.4l3.5-2.3l3.6-1.9l3.5-4.4l3.5-3.7l3.6-4.4l3.5-4.6l3.6-3.4l3.5-2.9l3.5-3.3l3.6-2.3l3.5-2.5l3.5-3.8l3.6-3.4l3.5-2.5l3.6-2.4l3.5-1.8l3.5-4.2l3.6-2.5l3.5-2.7l3.6-2.8l3.5-2.7l3.5-3l3.6-2.6l3.5-3.2l3.5-1.2l3.6-3.3l3.5-4.1l3.6-2.8l3.5-2.1l3.5-3.6l3.6-1.8l3.5-2.9l3.6-2.6l3.5-2.5l3.5-2l3.6-2.5l3.5-2.3l3.5-3.2l3.6-1.3l3.5-1.6l3.6-2.9l3.5-1.6l3.5-.9l3.6-2.2l3.5-2.8l3.5-1.3l3.6-1.8l3.5-3.1l3.6-1.7l3.5-1.7l3.5-1.8l3.6-2.6l3.5-1.8l3.6-2.4l3.5-2l3.5-1.5l3.6-2.1l3.5-1.1l3.5-2.6l3.6-1.4l3.5-2.7l3.6-1.5l3.5-2.8l3.5-2.8l3.6-2.1l3.5-3.8l3.6-2.6l3.5-3.1l3.5-2l3.6-2.8l3.5-3.1l3.5-3.3l3.6-3.2l3.5-2l3.6-2.5l3.5-3l3.5-4.8l3.6-2l3.5-2.7l3.6-3.9l3.5-4l3.5-4.2l3.6-3.6l3.5-4.7l3.5-3.9l3.6-3.6l3.5-4.2l3.6-4.2l3.5-4.8l3.5-6.5l3.6-5.7l3.5-4.7l3.5-4.6l3.6-6.3l3.5-3.1l3.6-3.4l3.5-6.5l3.5-4l3.6-4.8l3.5-6.2l3.6-6l3.5-5.4l3.5-5.4l3.6-4.7l3.5-5.8l3.5-5.1l3.6-6l3.5-7.1l3.6-5.6l3.5-4.9l3.5-7.5l3.6-8.2l3.5-6l3.6-4.7l3.5-5.2l3.5-6l3.6-5.6l3.5-9.1l3.5-6.6l3.6-9.9l3.5-7.6l3.6-5l3.5-11.2l3.5-6.1l3.6-6.3l3.5-4.9l3.5-8.4l3.6-8.8l3.5-7.4l3.6-8.7l3.5-10.7l3.5-8.2l3.6-9.6l3.5-8.6l3.6-11.8l3.5-9.5l3.5-8.4l3.6-7.4l3.5-10l3.5-8.3l3.6-8.8l3.5-9.9l3.6-10.5l3.5-11.5l3.5-8.4l3.6-10.8l3.5-9.9l3.6-11.3l3.5-13.1l3.5-10l3.6-10.1l3.5-9.5l3.5-10.6l3.6-4.5l3.5-10.4l3.6-8.6l3.5-9.1l3.5-12l3.6-18.1l3.5-10.3l3.6-6.6l3.5-8.9l3.5-11.6l3.6-11.2l3.5-10.4l3.5-12.1l3.6-8.9l3.5-14.3l3.6-4.2l3.5-8.9l3.5-8l3.6-9.4l3.5-11.3l3.5-10.5l3.6-10.8l3.5-10.6l3.6-6.5l3.5-4.2l3.5-6.7l3.6-6l3.5-6.3l3.6-6.6l3.5-7.7l3.5-4.5l3.6-6.1l3.5-4.7l3.5-7.1l3.6-6.7l3.5-3.1l3.6-5.1l3.5-2.9l3.5-4.1l3.6-3.7l3.5-4.6l3.6-2.8l3.5-5.1l3.5-3.1l3.6-2.2l3.5-3.7l3.5-3.6l3.6-3.1l3.5-2.4l3.6-2.2l3.5-2l3.5-3.5l3.6-2.3l3.5-2.5l3.6-2.4l3.5-3.4l3.5-2.2l3.6-2.7l3.5-1l3.5-2l3.6-2.8l3.5-2.1l3.6-3.9l3.5-1.4l3.5-2.7l3.6-2.6l3.5-2.6l3.5-2.3l3.6-2.5l3.5-4.5l3.6-2.2l3.5-1.5l3.5-.5l3.6-3.3l3.5-2.3l3.6-3.3l3.5-2.2l3.5-2.6l3.6-2.6l3.5-1.3l3.5-.7l3.6-2.9l3.5-3.1l3.6-1.4l3.5-1.9l3.5-2l3.6-1.8l3.5-2.2l3.6-1.9l3.5-2.4l3.5-1.7l3.6-2" stroke="#4E7932" stroke-width="3.8"/>
<path d="M64.5 2062.3l3.5 0l3.6 0l3.5 0l3.6 0l3.5 0l3.5 0l3.6 0l3.5 0l3.5 0l3.6 0l3.5 0l3.6 0l3.5 0l3.5 0l3.6 0l3.5 0l3.6-.1l3.5-0l3.5-.1l3.6-.1l3.5-.1l3.5-.1l3.6-.2l3.5-.2l3.6-.2l3.5-.4l3.5-.2l3.6-.2l3.5-.5l3.5-.3l3.6-.5l3.5-.5l3.6-.5l3.5-.5l3.5-.7l3.6-.2l3.5-.4l3.6-.5l3.5-.4l3.5-.6l3.6-.4l3.5-.4l3.5-.7l3.6-.5l3.5-.6l3.6-.5l3.5-.6l3.5-.4l3.6-.8l3.5-.7l3.6-.3l3.5-.5l3.5-.6l3.6-.6l3.5-.6l3.5-.7l3.6-.4l3.5-.7l3.6-.7l3.5-.5l3.5-.7l3.6-.7l3.5-.6l3.6-.8l3.5-.4l3.5-.7l3.6-.8l3.5-.8l3.5-.8l3.6-.7l3.5-.7l3.6-.9l3.5-.6l3.5-.8l3.6-.7l3.5-.8l3.5-.6l3.6-.7l3.5-.9l3.6-.5l3.5-.8l3.5-.6l3.6-.7l3.5-.5l3.6-.7l3.5-.9l3.5-.5l3.6-.8l3.5-.6l3.5-1.3l3.6-1l3.5-.6l3.6-.7l3.5-.9l3.5-1.1l3.6-1.5l3.5-1.5l3.6-.8l3.5-1.4l3.5-1.7l3.6-1.2l3.5-1.6l3.5-2.4l3.6-1.4l3.5-2.4l3.6-2.4l3.5-2.2l3.5-2.4l3.6-1.7l3.5-3.4l3.5-2.5l3.6-4.1l3.5-3.6l3.6-1.8l3.5-3.4l3.5-2.8l3.6-1.6l3.5-2.2l3.6-3l3.5-1.7l3.5-2l3.6-.9l3.5-2l3.5-2.3l3.6-2.8l3.5-2.7l3.6-3.1l3.5-3l3.5-2.4l3.6-1.9l3.5-3.2l3.6-3.3l3.5-2.8l3.5-3.4l3.6-2.1l3.5-2.8l3.5-2.5l3.6-3.2l3.5-3.2l3.6-1.5l3.5-1.3l3.5-3.1l3.6-2.3l3.5-2.5l3.6-2l3.5-2l3.5-3l3.6-2.3l3.5-1.7l3.5-2l3.6-2.1l3.5-1.4l3.6-2l3.5-2.3l3.5-2l3.6-1.3l3.5-2l3.5-2.6l3.6-2l3.5-1.1l3.6-1.7l3.5-1.5l3.5-1.4l3.6-1.5l3.5-1.6l3.6-1.9l3.5-1.4l3.5-2.3l3.6-1.9l3.5-2.4l3.5-1.7l3.6-1.9l3.5-1.7l3.6-1.5l3.5-1.3l3.5-2l3.6-1.7l3.5-1.4l3.6-1.9l3.5-2.1l3.5-1.7l3.6-2.6l3.5-1.7l3.5-1.9l3.6-2.5l3.5-1.6l3.6-2l3.5-2.6l3.5-2.2l3.6-2l3.5-1.8l3.6-2.7l3.5-2.3l3.5-3.3l3.6-3.5l3.5-2.7l3.5-3.2l3.6-2.2l3.5-4.1l3.6-2.5l3.5-3.3l3.5-3.3l3.6-3.4l3.5-4.6l3.5-3.6l3.6-3l3.5-4.8l3.6-4.3l3.5-5l3.5-4.6l3.6-3.9l3.5-2.5l3.6-4.5l3.5-4.1l3.5-6.7l3.6-5l3.5-6.9l3.5-7.3l3.6-5.3l3.5-6.6l3.6-2.7l3.5-3.9l3.5-3.9l3.6-3.8l3.5-4.2l3.6-7l3.5-4.5l3.5-5.5l3.6-7.1l3.5-5.7l3.5-8.6l3.6-7.5l3.5-6.5l3.6-7.9l3.5-6.1l3.5-6.2l3.6-8.2l3.5-8.1l3.6-3.9l3.5-8.7l3.5-8.3l3.6-2.7l3.5-12.1l3.5-8.4l3.6-11.1l3.5-5.6l3.6-9.5l3.5-7.8l3.5-8.7l3.6-12.7l3.5-8.8l3.5-13.4l3.6-15l3.5-10.1l3.6-9.7l3.5-15.2l3.5-16.2l3.6-15.7l3.5-10.8l3.6-11.4l3.5-16.5l3.5-14.4l3.6-13l3.5-13.7l3.5-13.1l3.6-15.9l3.5-15.4l3.6-12.5l3.5-13.5l3.5-8.7l3.6-14.7l3.5-20.5l3.6-14.5l3.5-8.8l3.5-12.5l3.6-14l3.5-18l3.5-19l3.6-11.4l3.5-11.1l3.6-11.7l3.5-7.7l3.5-14.9l3.6-7.6l3.5-13.9l3.5-10.5l3.6-9.3l3.5-12.7l3.6-15l3.5-6.7l3.5-11.5l3.6-9.6l3.5-14.6l3.6-7.6l3.5-8.7l3.5-11.1l3.6-8.8l3.5-15.4l3.5-8.9l3.6-14l3.5-12.4l3.6-16.3l3.5-11.2l3.5-12.5l3.6-19l3.5-15.3l3.6-17.3l3.5-16.9l3.5-12.6l3.6-11.6l3.5-5.9l3.5-7.4l3.6-12.8l3.5-14.1l3.6-14.4l3.5-8.3l3.5-9.4l3.6-14.5l3.5-6.4l3.6-9.5l3.5-9.9l3.5-8.4l3.6-12.6l3.5-5l3.5-8.3l3.6-5.8l3.5-8.6l3.6-12.7l3.5-5l3.5-5.8l3.6-8.8l3.5-8.6l3.5-6.5l3.6-8.4l3.5-7.1l3.6-6.3l3.5-6.6l3.5-7.6l3.6-3.8l3.5-6.9l3.6-5.9l3.5-5.2l3.5-4.6l3.6-5.5l3.5-5.3l3.5-3.2l3.6-5l3.5-4l3.6-4.4l3.5-3.5l3.5-2.8l3.6-2.9l3.5-3.1l3.6-1.6l3.5-2.9l3.5-1.4l3.6-3.2l3.5-2.4l3.5-2.6l3.6-2.8l3.5-2.6l3.6-2.8l3.5-2.3l3.5-1.8l3.6-1.4l3.5-3l3.6-1.3l3.5-1.6l3.5-2.1l3.6-1.5l3.5-2.2l3.5-2l3.6-1.7l3.5-1.5l3.6-2.1l3.5-2.5l3.5-1.9l3.6-2.5l3.5-2.4l3.5-1.8l3.6-2.5l3.5-1.6l3.6-3l3.5-2l3.5-3l3.6-2.3l3.5-2.2l3.6-1.4l3.5-2.8l3.5-1.7l3.6-3.7l3.5-2.4l3.5-2.2l3.6-2l3.5-2.3l3.6-2.3l3.5-2.3l3.5-2.7l3.6-2l3.5-2.9l3.6-1.1l3.5-1.2l3.5-2.7l3.6-2.5" stroke="#A2B8E2" stroke-width="3.8"/>
<path d="M64.5 2062.3l3.5 0l3.6 0l3.5 0l3.6 0l3.5 0l3.5 0l3.6 0l3.5 0l3.5 0l3.6 0l3.5 0l3.6 0l3.5 0l3.5 0l3.6 0l3.5 0l3.6 0l3.5-.1l3.5-0l3.6-.1l3.5-.1l3.5-.1l3.6-.1l3.5-.1l3.6-.1l3.5-.2l3.5-.2l3.6-.1l3.5-.3l3.5-.2l3.6-.2l3.5-.4l3.6-.4l3.5-.4l3.5-.4l3.6-.4l3.5-.3l3.6-.3l3.5-.5l3.5-.7l3.6-.5l3.5-.4l3.5-.6l3.6-.5l3.5-.5l3.6-.7l3.5-.5l3.5-.5l3.6-.5l3.5-.2l3.6-.5l3.5-.5l3.5-.8l3.6-.7l3.5-.6l3.5-.4l3.6-.5l3.5-.3l3.6-.5l3.5-.5l3.5-.3l3.6-.6l3.5-.3l3.6-.4l3.5-.4l3.5-.3l3.6-.4l3.5-.5l3.5-.4l3.6-.5l3.5-.4l3.6-.3l3.5-.3l3.5-.4l3.6-.3l3.5-.4l3.5-.1l3.6-.1l3.5-.3l3.6-.4l3.5-.2l3.5-.3l3.6-.3l3.5-.3l3.6-.1l3.5-.2l3.5-.3l3.6-.3l3.5-.2l3.5-.1l3.6-.2l3.5-.1l3.6-.2l3.5-.2l3.5-.1l3.6-.2l3.5-0l3.6-.1l3.5-.1l3.5-.1l3.6-.1l3.5-.1l3.5-.1l3.6-0l3.5-0l3.6-.1l3.5-0l3.5-.1l3.6-0l3.5-.1l3.5-0l3.6-.1l3.5-0l3.6-.1l3.5-0l3.5-.1l3.6-.1l3.5-.1l3.6-.1l3.5-0l3.5-.1l3.6-.1l3.5-.1l3.5-.2l3.6-.2l3.5-.2l3.6-0l3.5-.1l3.5-.2l3.6-.2l3.5-.2l3.6-.2l3.5-.2l3.5-.2l3.6-.3l3.5-.2l3.5-.2l3.6-.3l3.5-.2l3.6-.1l3.5-.2l3.5-.2l3.6-.2l3.5-.1l3.6-.2l3.5-.2l3.5-.2l3.6-.2l3.5-.1l3.5-.1l3.6-.1l3.5-.3l3.6-.2l3.5-0l3.5-.2l3.6-.1l3.5-.2l3.5-.1l3.6-.2l3.5-.1l3.6-.1l3.5-.1l3.5-.1l3.6-.1l3.5-.2l3.6-.1l3.5-.2l3.5-.1l3.6-.1l3.5-.2l3.5-.1l3.6-.1l3.5-.1l3.6-.2l3.5-.1l3.5-.2l3.6-.1l3.5-.1l3.6-.1l3.5-.2l3.5-.1l3.6-.2l3.5-.1l3.5-.1l3.6-.1l3.5-.2l3.6-.2l3.5-.1l3.5-.1l3.6-.1l3.5-.2l3.6-.2l3.5-.2l3.5-.2l3.6-.2l3.5-.1l3.5-.1l3.6-.1l3.5-.1l3.6-.3l3.5-.2l3.5-.1l3.6-.2l3.5-.1l3.5-.2l3.6-.2l3.5-.2l3.6-.2l3.5-.2l3.5-.2l3.6-.2l3.5-.1l3.6-.2l3.5-.2l3.5-.2l3.6-.1l3.5-.2l3.5-.2l3.6-.2l3.5-.3l3.6-.2l3.5-.3l3.5-.2l3.6-.4l3.5-.1l3.6-.2l3.5-.2l3.5-.3l3.6-.2l3.5-.3l3.5-.1l3.6-.1l3.5-.3l3.6-.3l3.5-.3l3.5-.3l3.6-.4l3.5-.2l3.6-.3l3.5-.5l3.5-.3l3.6-.4l3.5-.5l3.5-.5l3.6-.5l3.5-.6l3.6-.9l3.5-1l3.5-2.1l3.6-2l3.5-1.3l3.5-1.6l3.6-1.6l3.5-2.2l3.6-1.2l3.5-3l3.5-1.5l3.6-2.1l3.5-1.6l3.6-1.7l3.5-2.1l3.5-2.4l3.6-2l3.5-2.1l3.5-1.6l3.6-2.4l3.5-1.4l3.6-2.9l3.5-1.1l3.5-1.9l3.6-2.7l3.5-2.9l3.6-1.6l3.5-1.8l3.5-1.3l3.6-2.2l3.5-1.3l3.5-3l3.6-2.1l3.5-2.4l3.6-1.8l3.5-1.6l3.5-1.6l3.6-2.4l3.5-3l3.5-3.1l3.6-2.9l3.5-2.4l3.6-3.1l3.5-2.5l3.5-3.3l3.6-2.7l3.5-2.3l3.6-.9l3.5-2.6l3.5-1.9l3.6-2.1l3.5-2.1l3.5-3.8l3.6-2.7l3.5-2.1l3.6-1.7l3.5-2.3l3.5-3l3.6-3.2l3.5-3l3.6-2.9l3.5-2.4l3.5-1.9l3.6-3.1l3.5-2.6l3.5-2.7l3.6-4.6l3.5-2.3l3.6-2.6l3.5-2.8l3.5-2.9l3.6-3.6l3.5-5.1l3.6-5.2l3.5-2.8l3.5-5.5l3.6-2l3.5-2.8l3.5-5.1l3.6-3.8l3.5-4l3.6-5.7l3.5-4.4l3.5-3.7l3.6-4.6l3.5-4.2l3.5-3.2l3.6-3.4l3.5-3.7l3.6-2.4l3.5-2.5l3.5-2.9l3.6-2.7l3.5-1.9l3.6-3.8l3.5-2.4l3.5-2.2l3.6-1l3.5-2.1l3.5-1.8l3.6-3.7l3.5-2.4l3.6-1.8l3.5-2.5l3.5-1.7l3.6-2.5l3.5-2.1l3.6-2.1l3.5-3.1l3.5-2.7l3.6-2.1l3.5-2.6l3.5-2.7l3.6-2.3l3.5-2.6l3.6-3l3.5-3l3.5-2.2l3.6-1.3l3.5-2.5l3.6-3.7l3.5-2.8l3.5-2.8l3.6-2.1l3.5-1.3l3.5-2.6l3.6-2.7l3.5-2.9l3.6-3l3.5-4l3.5-2.7l3.6-1.3l3.5-2.6l3.5-2.9l3.6-3.7l3.5-3.9l3.6-4l3.5-3.6l3.5-3l3.6-1.7l3.5-2.8l3.6-4.3l3.5-5.1l3.5-1.6l3.6-3.9l3.5-3.2l3.5-4l3.6-1.7l3.5-3.6l3.6-4.9l3.5-4l3.5-3l3.6-5.9l3.5-3.2l3.6-3.7l3.5-4.6l3.5-6.2l3.6-2.3" stroke="#F6BE98" stroke-width="3.8"/>
<path d="M64.5 2062.3l3.5 0l3.6 0l3.5 0l3.6 0l3.5 0l3.5 0l3.6 0l3.5 0l3.5 0l3.6 0l3.5 0l3.6 0l3.5 0l3.5 0l3.6 0l3.5 0l3.6 0l3.5 0l3.5 0l3.6 0l3.5-.1l3.5-0l3.6-0l3.5-0l3.6-0l3.5-.1l3.5-0l3.6-0l3.5-.1l3.5-0l3.6-.1l3.5-0l3.6-.1l3.5-0l3.5-.1l3.6-.1l3.5-0l3.6-.1l3.5-.1l3.5-0l3.6-.1l3.5-0l3.5-.1l3.6-.1l3.5-.1l3.6-0l3.5-.1l3.5-0l3.6-.1l3.5-.1l3.6-0l3.5-.1l3.5-.1l3.6-0l3.5-.1l3.5-.1l3.6-.1l3.5-0l3.6-.1l3.5-.1l3.5-0l3.6-.1l3.5-.1l3.6-.1l3.5-.1l3.5-.1l3.6-0l3.5-.1l3.5-.1l3.6-.1l3.5-.1l3.6-.1l3.5-.1l3.5-.1l3.6-.1l3.5-0l3.5-.1l3.6-.1l3.5-.1l3.6-.1l3.5-.1l3.5-.1l3.6-0l3.5-.1l3.6-.1l3.5-.1l3.5-.1l3.6-.1l3.5-.1l3.5-0l3.6-.2l3.5-.1l3.6-.1l3.5-.1l3.5-.1l3.6-.1l3.5-.2l3.6-.1l3.5-.2l3.5-.2l3.6-.2l3.5-.1l3.5-.1l3.6-.3l3.5-.2l3.6-.3l3.5-.2l3.5-.2l3.6-.2l3.5-.3l3.5-.4l3.6-.3l3.5-.3l3.6-.4l3.5-.4l3.5-.3l3.6-.4l3.5-.5l3.6-.4l3.5-.6l3.5-.6l3.6-.6l3.5-.7l3.5-.7l3.6-.9l3.5-.7l3.6-1.1l3.5-.7l3.5-.7l3.6-.9l3.5-.9l3.6-1l3.5-1.3l3.5-1.2l3.6-1.1l3.5-1.6l3.5-1.3l3.6-1.5l3.5-1.6l3.6-1.7l3.5-1.6l3.5-1.7l3.6-1.1l3.5-.8l3.6-1.1l3.5-1.5l3.5-1.1l3.6-1.8l3.5-1.6l3.5-2.3l3.6-1.8l3.5-2l3.6-3.2l3.5-4.2l3.5-4.9l3.6-3.6l3.5-2.9l3.5-2.7l3.6-1.5l3.5-1.9l3.6-2.8l3.5-2.3l3.5-3l3.6-3.3l3.5-3.7l3.6-3.4l3.5-4.6l3.5-6l3.6-6.2l3.5-4.3l3.5-5.7l3.6-4.2l3.5-4.8l3.6-3.1l3.5-4.1l3.5-3.4l3.6-3.7l3.5-2.4l3.6-2.5l3.5-1.7l3.5-1.3l3.6-1.7l3.5-1.9l3.5-1.7l3.6-1.4l3.5-1.1l3.6-1l3.5-1.2l3.5-1.5l3.6-1.4l3.5-1.5l3.6-.9l3.5-.9l3.5-1.1l3.6-1l3.5-1l3.5-.8l3.6-.8l3.5-1l3.6-.9l3.5-.8l3.5-.9l3.6-1.3l3.5-.9l3.5-.9l3.6-.9l3.5-.7l3.6-.4l3.5-.3l3.5-.3l3.6-.3l3.5-.2l3.6-.2l3.5-.2l3.5-.1l3.6-.2l3.5-.1l3.5-.3l3.6-.2l3.5-.1l3.6-.1l3.5-.1l3.5-.1l3.6-.1l3.5-.1l3.6-.1l3.5-.1l3.5-.1l3.6-.1l3.5-.1l3.5-.1l3.6-.2l3.5-.2l3.6-.1l3.5-.2l3.5-.1l3.6-.2l3.5-.2l3.6-.3l3.5-.3l3.5-.3l3.6-.2l3.5-.2l3.5-.5l3.6-.5l3.5-.5l3.6-.6l3.5-.7l3.5-.5l3.6-.7l3.5-1l3.5-.9l3.6-.8l3.5-1.1l3.6-.8l3.5-1.1l3.5-.9l3.6-1l3.5-1.1l3.6-1.1l3.5-1.1l3.5-.9l3.6-1.3l3.5-1l3.5-1.3l3.6-1.5l3.5-1.3l3.6-1.3l3.5-1.1l3.5-1.2l3.6-.9l3.5-1.6l3.6-1.5l3.5-1.5l3.5-1.8l3.6-1.7l3.5-1l3.5-1.2l3.6-1.5l3.5-1.9l3.6-2.1l3.5-1.8l3.5-1.5l3.6-1.4l3.5-1.9l3.5-2.4l3.6-2.2l3.5-2.1l3.6-3l3.5-2.2l3.5-1.4l3.6-1.3l3.5-1.8l3.6-3.4l3.5-2.7l3.5-1.9l3.6-1.7l3.5-1.6l3.5-1.4l3.6-2.3l3.5-1.9l3.6-2.3l3.5-2.4l3.5-1.7l3.6-1.9l3.5-1.4l3.6-2.1l3.5-1.9l3.5-2l3.6-1.7l3.5-1.9l3.5-1.8l3.6-1.5l3.5-2.2l3.6-2.1l3.5-2.2l3.5-1.5l3.6-1.8l3.5-1.8l3.6-1.3l3.5-2.4l3.5-2.2l3.6-2.7l3.5-1.7l3.5-2.2l3.6-1.9l3.5-1.4l3.6-1.6l3.5-2.3l3.5-1.7l3.6-1.8l3.5-1.7l3.5-1.2l3.6-1.1l3.5-1.2l3.6-1.5l3.5-1.8l3.5-1.7l3.6-.8l3.5-.7l3.6-.9l3.5-1l3.5-1l3.6-1.2l3.5-1.2l3.5-1l3.6-.7l3.5-.9l3.6-.8l3.5-1.4l3.5-.9l3.6-1.3l3.5-1.2l3.6-1.2l3.5-1l3.5-.7l3.6-1.3l3.5-1.6l3.5-1.3l3.6-1.2l3.5-.8l3.6-.7l3.5-1.1l3.5-1.5l3.6-1.3l3.5-1.2l3.6-1.3l3.5-1l3.5-1l3.6-1.4l3.5-1.2l3.5-1.6l3.6-1.1l3.5-1.2l3.6-1.1l3.5-1l3.5-1.2l3.6-1.3l3.5-1l3.5-1.6l3.6-1.1l3.5-1l3.6-.9l3.5-1.2l3.5-1.2l3.6-1.1l3.5-1.2l3.6-1.4l3.5-1.1l3.5-.7l3.6-1.4l3.5-1.3l3.5-1.2l3.6-1.1l3.5-1l3.6-1.2l3.5-1.1l3.5-1.1l3.6-1.2l3.5-1.3l3.6-1.3l3.5-.9l3.5-1.2l3.6-1.2" stroke="#D2D2D2" stroke-width="3.8"/>
<path d="M64.5 2062.3l3.5 0l3.6 0l3.5 0l3.6 0l3.5 0l3.5 0l3.6 0l3.5 0l3.5 0l3.6 0l3.5 0l3.6 0l3.5 0l3.5 0l3.6 0l3.5-.1l3.6-0l3.5-.1l3.5-.1l3.6-.2l3.5-.2l3.5-.1l3.6-.4l3.5-.4l3.6-.3l3.5-.4l3.5-.3l3.6-.6l3.5-.5l3.5-.2l3.6-.7l3.5-.8l3.6-1l3.5-.9l3.5-.9l3.6-.8l3.5-.8l3.6-.9l3.5-1.5l3.5-.9l3.6-1l3.5-.5l3.5-1l3.6-1.1l3.5-1.3l3.6-.7l3.5-1.3l3.5-1.7l3.6-1.2l3.5-1.1l3.6-1.4l3.5-1.1l3.5-1.1l3.6-1.2l3.5-.9l3.5-1.4l3.6-1.5l3.5-1.4l3.6-.9l3.5-1.5l3.5-1l3.6-.9l3.5-1.7l3.6-.9l3.5-1l3.5-1.3l3.6-1.4l3.5-1.9l3.5-1.7l3.6-1.8l3.5-1l3.6-.6l3.5-.8l3.5-1.5l3.6-.9l3.5-1.5l3.5-1.6l3.6-1.3l3.5-.6l3.6-1.5l3.5-1.7l3.5-1.3l3.6-1.7l3.5-.7l3.6-.9l3.5-1.2l3.5-1.3l3.6-1.3l3.5-1l3.5-.8l3.6-1.1l3.5-.8l3.6-1.1l3.5-1l3.5-1.4l3.6-1l3.5-1.4l3.6-.9l3.5-1.4l3.5-1.3l3.6-.9l3.5-.9l3.5-1.1l3.6-1.1l3.5-.7l3.6-1.2l3.5-.5l3.5-.8l3.6-.9l3.5-1.3l3.5-1l3.6-.6l3.5-1.6l3.6-1l3.5-1.2l3.5-1.4l3.6-1.5l3.5-1.5l3.6-1l3.5-1.5l3.5-1.8l3.6-1.7l3.5-2.1l3.5-1l3.6-2.3l3.5-1.1l3.6-1.3l3.5-2l3.5-2.9l3.6-2.3l3.5-1.8l3.6-1.9l3.5-2.4l3.5-1.1l3.6-1.7l3.5-1.7l3.5-2.7l3.6-2.2l3.5-2.1l3.6-2.4l3.5-1.5l3.5-1.3l3.6-2.2l3.5-1l3.6-2.1l3.5-1.9l3.5-1.1l3.6-1.8l3.5-1.3l3.5-2.3l3.6-1.8l3.5-2l3.6-1.8l3.5-1.4l3.5-1.7l3.6-1.5l3.5-1.4l3.5-1.7l3.6-2l3.5-.7l3.6-1.2l3.5-.9l3.5-1.1l3.6-1.8l3.5-1.2l3.6-1.5l3.5-1.5l3.5-1.9l3.6-1.9l3.5-1.3l3.5-1l3.6-1.2l3.5-1.5l3.6-1l3.5-1.2l3.5-1.6l3.6-1.5l3.5-1.5l3.6-1.6l3.5-1.2l3.5-1.5l3.6-1.2l3.5-1.5l3.5-.8l3.6-1.7l3.5-1.6l3.6-1.4l3.5-1.6l3.5-1.8l3.6-1.3l3.5-1.9l3.6-1.6l3.5-1.2l3.5-1.2l3.6-1l3.5-1.1l3.5-1.6l3.6-1.4l3.5-1.4l3.6-1.9l3.5-1.4l3.5-1.4l3.6-1.1l3.5-.9l3.5-1.1l3.6-1.3l3.5-1.6l3.6-1.5l3.5-1l3.5-1.4l3.6-1.5l3.5-.8l3.6-1.3l3.5-1.1l3.5-1.4l3.6-2l3.5-1.7l3.5-2.2l3.6-.9l3.5-1.7l3.6-1.5l3.5-1l3.5-2l3.6-1.8l3.5-1.7l3.6-2.2l3.5-1.6l3.5-2.2l3.6-1.9l3.5-1.8l3.5-2.3l3.6-2.5l3.5-2.5l3.6-2.5l3.5-1l3.5-1.6l3.6-2.4l3.5-3.1l3.6-1.2l3.5-2.6l3.5-1.9l3.6-3.2l3.5-3.4l3.5-2.5l3.6-3.4l3.5-2.9l3.6-2.3l3.5-3.6l3.5-4.2l3.6-2.5l3.5-3.1l3.5-3.1l3.6-3.4l3.5-2.4l3.6-2.9l3.5-4.2l3.5-3.1l3.6-4.4l3.5-3.3l3.6-4.2l3.5-3.7l3.5-1.7l3.6-3.6l3.5-3l3.5-2.8l3.6-4.1l3.5-3.9l3.6-3.4l3.5-3.9l3.5-4.5l3.6-3.5l3.5-3.9l3.6-3.7l3.5-4.7l3.5-2.3l3.6-3.6l3.5-2.9l3.5-4.1l3.6-5.4l3.5-4.5l3.6-4.1l3.5-5l3.5-7.1l3.6-8.6l3.5-5.9l3.5-4.9l3.6-6.7l3.5-5.3l3.6-7l3.5-7.7l3.5-10l3.6-5.3l3.5-6.9l3.6-5.8l3.5-9l3.5-5.1l3.6-9.4l3.5-10l3.5-3.8l3.6-9.3l3.5-10.5l3.6-5.9l3.5-5.8l3.5-9.6l3.6-5.8l3.5-6.6l3.6-5.7l3.5-8.6l3.5-9.4l3.6-5l3.5-8.7l3.5-8.3l3.6-10.4l3.5-7.1l3.6-5.9l3.5-8.2l3.5-8.7l3.6-7.5l3.5-7.1l3.6-11.3l3.5-6.4l3.5-7.9l3.6-10.2l3.5-7.1l3.5-11.8l3.6-7.1l3.5-11l3.6-11.8l3.5-12.6l3.5-6.7l3.6-8.9l3.5-10.2l3.5-6l3.6-8.5l3.5-8.9l3.6-7.6l3.5-5.1l3.5-5.7l3.6-4.3l3.5-6.5l3.6-6.1l3.5-4.8l3.5-8l3.6-4.7l3.5-2.9l3.5-4.2l3.6-4.8l3.5-3.1l3.6-3.4l3.5-4.5l3.5-3.4l3.6-3.1l3.5-3.9l3.6-2.8l3.5-2l3.5-2.6l3.6-3.1l3.5-2.7l3.5-2.5l3.6-2.2l3.5-1.9l3.6-2.9l3.5-3.1l3.5-2.8l3.6-2.7l3.5-3.6l3.6-1.2l3.5-1.9l3.5-2.4l3.6-1.1l3.5-2.9l3.5-2.3l3.6-4l3.5-1.8l3.6-2.1l3.5-2.4l3.5-2.4l3.6-2.1l3.5-3.1l3.5-2.5l3.6-2.6l3.5-2.2l3.6-1.6l3.5-2.6l3.5-1.5l3.6-2.6l3.5-3.1l3.6-2.6l3.5-2.9l3.5-3.8l3.6-2.9l3.5-3l3.5-2.1l3.6-2.1l3.5-1.6l3.6-3.5l3.5-3.3l3.5-2.4l3.6-2.7l3.5-2.4l3.6-3l3.5-2.4l3.5-2.2l3.6-1.8" stroke="#FFE080" stroke-width="3.8"/>
<path d="M64.5 2062.3l3.5 0l3.6 0l3.5 0l3.6 0l3.5 0l3.5 0l3.6 0l3.5 0l3.5 0l3.6 0l3.5 0l3.6 0l3.5 0l3.5-.1l3.6-0l3.5-0l3.6-.2l3.5-.1l3.5-.3l3.6-.7l3.5-.6l3.5-.4l3.6-1l3.5-1.1l3.6-1.4l3.5-.8l3.5-.9l3.6-1.2l3.5-.9l3.5-1.1l3.6-1l3.5-.8l3.6-.8l3.5-.7l3.5-.7l3.6-1.1l3.5-1.2l3.6-.7l3.5-1l3.5-.3l3.6-.3l3.5-.7l3.5-.7l3.6-.4l3.5-.3l3.6-.6l3.5-.2l3.5-.6l3.6-.6l3.5-.6l3.6-.4l3.5-.4l3.5-.3l3.6-.4l3.5-.5l3.5-.4l3.6-.3l3.5-.5l3.6-.1l3.5-.6l3.5-.3l3.6-.4l3.5-.7l3.6-.5l3.5-.5l3.5-.3l3.6-.4l3.5-.4l3.5-.4l3.6-.4l3.5-.6l3.6-.4l3.5-.5l3.5-.2l3.6-.3l3.5-.6l3.5-.4l3.6-.8l3.5-.3l3.6-.4l3.5-.4l3.5-.4l3.6-.7l3.5-.5l3.6-.5l3.5-.6l3.5-.4l3.6-.5l3.5-.4l3.5-.4l3.6-.5l3.5-.5l3.6-.5l3.5-.5l3.5-.5l3.6-.6l3.5-.6l3.6-.7l3.5-.6l3.5-.4l3.6-.7l3.5-.8l3.5-.5l3.6-.8l3.5-.5l3.6-.7l3.5-.8l3.5-.7l3.6-.7l3.5-.8l3.5-.7l3.6-.8l3.5-.9l3.6-.6l3.5-.7l3.5-.4l3.6-.6l3.5-1.3l3.6-1l3.5-.6l3.5-1l3.6-1.4l3.5-1.1l3.5-1.1l3.6-1.6l3.5-1.9l3.6-1.4l3.5-1.5l3.5-1.9l3.6-1.2l3.5-1l3.6-1.2l3.5-1.5l3.5-2.2l3.6-.8l3.5-1.8l3.5-1.1l3.6-1.7l3.5-1.6l3.6-1.2l3.5-1.6l3.5-1l3.6-1.5l3.5-1.1l3.6-1.7l3.5-1l3.5-1.7l3.6-1.3l3.5-1.2l3.5-.8l3.6-1.7l3.5-1.1l3.6-1.3l3.5-2l3.5-.8l3.6-1.2l3.5-.8l3.5-1l3.6-1l3.5-1.4l3.6-1.5l3.5-1.3l3.5-1.5l3.6-.8l3.5-.5l3.6-.7l3.5-1.5l3.5-1.2l3.6-1.4l3.5-1.4l3.5-.7l3.6-1.2l3.5-1.1l3.6-1.4l3.5-1.3l3.5-.7l3.6-1.2l3.5-.9l3.6-.5l3.5-1.1l3.5-1l3.6-1.3l3.5-1.6l3.5-1.2l3.6-.7l3.5-.9l3.6-1l3.5-1l3.5-1.2l3.6-1.2l3.5-.8l3.6-1.1l3.5-.6l3.5-.7l3.6-.9l3.5-.7l3.5-1.5l3.6-.7l3.5-.5l3.6-1l3.5-.5l3.5-1l3.6-1.3l3.5-1.1l3.5-1l3.6-.7l3.5-.5l3.6-.9l3.5-1l3.5-1l3.6-1.1l3.5-.4l3.6-.7l3.5-.3l3.5-.9l3.6-1.1l3.5-.9l3.5-1.1l3.6-1.2l3.5-.8l3.6-.9l3.5-1.3l3.5-1.1l3.6-1.6l3.5-1.3l3.6-1l3.5-1l3.5-1.1l3.6-.8l3.5-1l3.5-1.7l3.6-1.5l3.5-1.4l3.6-.9l3.5-.9l3.5-1.4l3.6-1.5l3.5-2l3.6-1.3l3.5-2l3.5-1.1l3.6-1.1l3.5-1.6l3.5-2l3.6-3.1l3.5-3.6l3.6-4.6l3.5-2l3.5-2.9l3.6-4.6l3.5-2.2l3.5-5.9l3.6-7.2l3.5-5.3l3.6-2.7l3.5-3.5l3.5-4.2l3.6-3.9l3.5-4.2l3.6-6.6l3.5-3.8l3.5-5.6l3.6-2.6l3.5-3.7l3.5-2.9l3.6-3.8l3.5-9.3l3.6-5l3.5-4.7l3.5-5.8l3.6-3.1l3.5-5.8l3.6-7.6l3.5-6.6l3.5-6.5l3.6-3.6l3.5-2l3.5-4.4l3.6-5.5l3.5-4l3.6-5l3.5-4.6l3.5-6l3.6-2.4l3.5-2.8l3.5-4.1l3.6-4.1l3.5-4.8l3.6-3.7l3.5-2.6l3.5-3.1l3.6-2.3l3.5-6.3l3.6-6l3.5-4.4l3.5-4.3l3.6-4.2l3.5-3.6l3.5-2.7l3.6-3.6l3.5-6.2l3.6-5.1l3.5-5.6l3.5-3.9l3.6-5.4l3.5-4.3l3.6-5.6l3.5-6.7l3.5-3.4l3.6-6.9l3.5-6.1l3.5-3.2l3.6-2.5l3.5-5.7l3.6-4.5l3.5-4.3l3.5-6.5l3.6-3.7l3.5-2.5l3.6-2.8l3.5-5.2l3.5-5.4l3.6-5.2l3.5-3.1l3.5-3.2l3.6-3.5l3.5-3.4l3.6-4.2l3.5-4.1l3.5-4.2l3.6-3.8l3.5-3.5l3.5-3.5l3.6-2.4l3.5-1.5l3.6-4.4l3.5-2l3.5-3l3.6-3l3.5-2.2l3.6-2.5l3.5-2.1l3.5-3.3l3.6-2.2l3.5-1l3.5-2l3.6-1.4l3.5-2.1l3.6-1.5l3.5-2.5l3.5-1.4l3.6-1.8l3.5-1.6l3.6-2l3.5-1.1l3.5-1.9l3.6-2.3l3.5-1.1l3.5-2.2l3.6-1.3l3.5-1.3l3.6-2l3.5-1.4l3.5-1.8l3.6-2l3.5-1.8l3.6-1.4l3.5-.7l3.5-1.3l3.6-.8l3.5-1.3l3.5-1.7l3.6-1.5l3.5-1.3l3.6-1.1l3.5-2.1l3.5-1.1l3.6-2.1l3.5-1.4l3.5-1.8l3.6-1.2l3.5-.8l3.6-.9l3.5-2.5l3.5-2.4l3.6-1.7l3.5-1.6l3.6-1.5l3.5-.8l3.5-1.8l3.6-2.7l3.5-1.4l3.5-1.1l3.6-1.4l3.5-1.5l3.6-1.3l3.5-2.1l3.5-1.7l3.6-1.5l3.5-1.8l3.6-1.4l3.5-1.1l3.5-1.9l3.6-1.4" stroke="#ADCDEA" stroke-width="3.8"/>
<path d="M64.5 2062.3l3.5 0l3.6 0l3.5 0l3.6 0l3.5 0l3.5 0l3.6 0l3.5 0l3.5 0l3.6 0l3.5 0l3.6 0l3.5 0l3.5 0l3.6 0l3.5 0l3.6 0l3.5 0l3.5-.1l3.6-0l3.5-0l3.5-0l3.6-.1l3.5-0l3.6-.1l3.5-0l3.5-.1l3.6-.1l3.5-0l3.5-.1l3.6-.1l3.5-.1l3.6-.2l3.5-.1l3.5-.1l3.6-.1l3.5-.1l3.6-.2l3.5-.2l3.5-.1l3.6-.2l3.5-0l3.5-.2l3.6-0l3.5-.1l3.6-.1l3.5-.2l3.5-.2l3.6-.1l3.5-.2l3.6-0l3.5-.2l3.5-.1l3.6-.1l3.5-.2l3.5-.2l3.6-.1l3.5-.1l3.6-.2l3.5-.2l3.5-.1l3.6-.2l3.5-.1l3.6-.2l3.5-.1l3.5-.1l3.6-.2l3.5-.2l3.5-.3l3.6-.2l3.5-.1l3.6-.1l3.5-.2l3.5-.2l3.6-.2l3.5-.3l3.5-.1l3.6-.1l3.5-.1l3.6-.1l3.5-.2l3.5-.2l3.6-.3l3.5-.2l3.6-.1l3.5-.1l3.5-.2l3.6-.2l3.5-.3l3.5-.2l3.6-.2l3.5-.2l3.6-.2l3.5-.2l3.5-.2l3.6-.4l3.5-.2l3.6-.2l3.5-.2l3.5-.2l3.6-.4l3.5-.5l3.5-.5l3.6-.5l3.5-.5l3.6-.3l3.5-.3l3.5-.8l3.6-.7l3.5-.6l3.5-.6l3.6-.7l3.5-.3l3.6-.2l3.5-.7l3.5-.9l3.6-1.1l3.5-.8l3.6-.6l3.5-.8l3.5-.5l3.6-1l3.5-.7l3.5-1.3l3.6-1.9l3.5-.8l3.6-1l3.5-1l3.5-1.2l3.6-1.5l3.5-1.9l3.6-1.3l3.5-1.1l3.5-1.2l3.6-1.2l3.5-.7l3.5-1.9l3.6-1.6l3.5-2l3.6-1.3l3.5-.6l3.5-1l3.6-1.5l3.5-1.7l3.6-1.3l3.5-1.5l3.5-1.3l3.6-.8l3.5-1l3.5-.9l3.6-.8l3.5-.9l3.6-.9l3.5-1.4l3.5-1l3.6-.4l3.5-.8l3.5-1.4l3.6-.8l3.5-1l3.6-.8l3.5-.8l3.5-.3l3.6-.9l3.5-1l3.6-1.3l3.5-1l3.5-.9l3.6-.4l3.5-.7l3.5-.7l3.6-1.3l3.5-1.1l3.6-.9l3.5-.8l3.5-.7l3.6-.5l3.5-1l3.6-.9l3.5-.9l3.5-1.3l3.6-1.1l3.5-.9l3.5-.6l3.6-1l3.5-1.4l3.6-1.2l3.5-1.2l3.5-.8l3.6-.4l3.5-.6l3.6-1.1l3.5-1.6l3.5-1.5l3.6-1.2l3.5-1.2l3.5-1l3.6-.8l3.5-1.2l3.6-1.7l3.5-1.3l3.5-1.6l3.6-1.4l3.5-.9l3.5-.9l3.6-1.7l3.5-2.5l3.6-1.9l3.5-1.5l3.5-2.2l3.6-1.2l3.5-.4l3.6-1.4l3.5-1.2l3.5-2.3l3.6-2.9l3.5-2.6l3.5-2.7l3.6-1.3l3.5-1.1l3.6-1.6l3.5-2l3.5-1.7l3.6-1.6l3.5-1.8l3.6-1.7l3.5-1.9l3.5-2.2l3.6-1.8l3.5-2.9l3.5-2.1l3.6-2.2l3.5-1.8l3.6-1.5l3.5-3.2l3.5-3.4l3.6-2.7l3.5-2.9l3.6-2.4l3.5-1.7l3.5-2.8l3.6-2.8l3.5-5.2l3.5-3.5l3.6-4.4l3.5-5l3.6-3.1l3.5-5l3.5-7.7l3.6-3.9l3.5-10.6l3.5-6.7l3.6-2.7l3.5-5.5l3.6-9.7l3.5-7.1l3.5-10.1l3.6-8.6l3.5-4.4l3.6-5.3l3.5-7.3l3.5-3.8l3.6-7.3l3.5-7.1l3.5-7.2l3.6-6.6l3.5-2.4l3.6-5.5l3.5-4.7l3.5-8l3.6-9.5l3.5-11.9l3.6-6.1l3.5-8.7l3.5-5.6l3.6-6.3l3.5-6.6l3.5-11.7l3.6-10.6l3.5-10.8l3.6-6l3.5-3.2l3.5-11l3.6-14.3l3.5-12.1l3.5-11.9l3.6-11l3.5-8.6l3.6-13.8l3.5-7.7l3.5-11.9l3.6-14.4l3.5-12.6l3.6-5.1l3.5-9.8l3.5-7.6l3.6-7.7l3.5-15.6l3.5-12l3.6-14.6l3.5-9.1l3.6-11.3l3.5-12.8l3.5-8l3.6-11.6l3.5-19l3.6-12l3.5-16l3.5-10.7l3.6-6.4l3.5-9.8l3.5-17.1l3.6-15l3.5-11.3l3.6-8.8l3.5-8.9l3.5-4.6l3.6-8.3l3.5-10l3.6-12.2l3.5-7.7l3.5-6.9l3.6-6.3l3.5-5.2l3.5-6.3l3.6-9.1l3.5-7.6l3.6-7.7l3.5-7l3.5-5.4l3.6-4.3l3.5-5.7l3.5-5.2l3.6-6.7l3.5-6.2l3.6-4.6l3.5-6.7l3.5-6.4l3.6-3.7l3.5-4.9l3.6-5.3l3.5-4.7l3.5-3.6l3.6-4.3l3.5-3.5l3.5-2.2l3.6-4.6l3.5-3.8l3.6-4.8l3.5-2.7l3.5-2.9l3.6-2.1l3.5-2.8l3.6-3.8l3.5-4.1l3.5-2.3l3.6-2.5l3.5-1.9l3.5-1.3l3.6-3l3.5-3l3.6-3.2l3.5-2.6l3.5-3.6l3.6-1.4l3.5-.5l3.6-2.4l3.5-3.2l3.5-2.5l3.6-3l3.5-1.3l3.5-2.3l3.6-2.2l3.5-2l3.6-2.5l3.5-2.8l3.5-3.1l3.6-3.5l3.5-2.3l3.5-1.7l3.6-2.3l3.5-3.5l3.6-2.8l3.5-2.7l3.5-3.1l3.6-2.1l3.5-2.8l3.6-2.1l3.5-2.6l3.5-3.4l3.6-3l3.5-2.4l3.5-1.5l3.6-1.7l3.5-2l3.6-2.9l3.5-4.1l3.5-2.4l3.6-2.9l3.5-2.4l3.6-1l3.5-3.2l3.5-2.9l3.6-2.8" stroke="#B7D8A1" stroke-width="3.8"/>
<path d="M64.5 2062.3l3.5 0l3.6 0l3.5 0l3.6 0l3.5 0l3.5 0l3.6 0l3.5 0l3.5 0l3.6 0l3.5 0l3.6 0l3.5 0l3.5 0l3.6 0l3.5 0l3.6-.1l3.5-0l3.5-.1l3.6-.1l3.5-.1l3.5-.1l3.6-.2l3.5-.2l3.6-.3l3.5-.3l3.5-.3l3.6-.4l3.5-.3l3.5-.4l3.6-.3l3.5-.6l3.6-.3l3.5-.6l3.5-.6l3.6-.7l3.5-.1l3.6-.7l3.5-.4l3.5-.8l3.6-.6l3.5-1l3.5-.9l3.6-.5l3.5-.8l3.6-.9l3.5-1l3.5-1l3.6-.8l3.5-.4l3.6-.3l3.5-.7l3.5-.9l3.6-1.2l3.5-.7l3.5-1.1l3.6-1l3.5-.8l3.6-1.1l3.5-.7l3.5-1l3.6-.8l3.5-.6l3.6-.7l3.5-.5l3.5-.9l3.6-1.2l3.5-.8l3.5-.8l3.6-1.1l3.5-1.4l3.6-.4l3.5-1.1l3.5-.8l3.6-.7l3.5-.6l3.5-.6l3.6-.9l3.5-.8l3.6-.8l3.5-.7l3.5-1l3.6-1l3.5-.5l3.6-.8l3.5-.9l3.5-.8l3.6-.6l3.5-.8l3.5-.7l3.6-.5l3.5-.7l3.6-.8l3.5-.7l3.5-1.2l3.6-.8l3.5-.5l3.6-.9l3.5-.6l3.5-.5l3.6-.6l3.5-.9l3.5-.5l3.6-.7l3.5-.6l3.6-.5l3.5-.8l3.5-.8l3.6-.7l3.5-.6l3.5-.7l3.6-.7l3.5-.9l3.6-.8l3.5-.9l3.5-.9l3.6-.8l3.5-1l3.6-.7l3.5-1.1l3.5-1l3.6-2.5l3.5-1.9l3.5-1.8l3.6-1.9l3.5-1l3.6-2.8l3.5-1.4l3.5-3l3.6-2.5l3.5-3l3.6-2.8l3.5-2.4l3.5-2.9l3.6-2.3l3.5-2.9l3.5-2.6l3.6-2.2l3.5-1.9l3.6-2.8l3.5-3.6l3.5-1.9l3.6-2.4l3.5-2.3l3.6-2.6l3.5-1.2l3.5-2.3l3.6-1.7l3.5-1.8l3.5-2.4l3.6-2.3l3.5-2l3.6-2.2l3.5-.9l3.5-2.1l3.6-1.8l3.5-2.5l3.5-1.9l3.6-1.4l3.5-.5l3.6-1.4l3.5-1.9l3.5-1.6l3.6-1.4l3.5-1l3.6-1.5l3.5-.9l3.5-1.1l3.6-1.4l3.5-1.8l3.5-1.5l3.6-1.7l3.5-1.6l3.6-1.6l3.5-1.6l3.5-1.7l3.6-1.4l3.5-1.8l3.6-1.6l3.5-1.3l3.5-1.5l3.6-1.8l3.5-1l3.5-2.6l3.6-2.4l3.5-1.5l3.6-1.9l3.5-1.8l3.5-1.2l3.6-1.8l3.5-3.1l3.6-2l3.5-4.5l3.5-3.6l3.6-3.4l3.5-2.5l3.5-3.3l3.6-3.8l3.5-2.3l3.6-4.9l3.5-2.6l3.5-3.2l3.6-1.1l3.5-4.2l3.5-3.2l3.6-8.1l3.5-5.6l3.6-6.1l3.5-3.9l3.5-5.9l3.6-5.4l3.5-4.8l3.6-6.6l3.5-5.4l3.5-4.1l3.6-3.2l3.5-4.2l3.5-8l3.6-10.1l3.5-6.1l3.6-6.2l3.5-9l3.5-5.7l3.6-6.5l3.5-6.4l3.6-3.1l3.5-6.5l3.5-10l3.6-9.1l3.5-7.8l3.5-5.7l3.6-9.5l3.5-9.4l3.6-8.6l3.5-10.8l3.5-11.5l3.6-15.1l3.5-11.2l3.6-6.5l3.5-12.5l3.5-7.1l3.6-6.4l3.5-11.2l3.5-17.9l3.6-12.9l3.5-9.4l3.6-15.3l3.5-8.5l3.5-17.2l3.6-14l3.5-12.5l3.5-16.2l3.6-15.1l3.5-21l3.6-14.8l3.5-21.5l3.5-19l3.6-17.5l3.5-14.5l3.6-14.5l3.5-16.2l3.5-17.1l3.6-15.9l3.5-14.9l3.5-5.8l3.6-10.3l3.5-16.4l3.6-9.9l3.5-15.4l3.5-15.4l3.6-14.7l3.5-7.4l3.6-10.1l3.5-9.4l3.5-12.1l3.6-6l3.5-11.3l3.5-12.7l3.6-8.1l3.5-9.5l3.6-9.5l3.5-7l3.5-6.3l3.6-6.2l3.5-4.9l3.5-5.9l3.6-6l3.5-7.5l3.6-5.1l3.5-5.6l3.5-6.5l3.6-5.8l3.5-7.3l3.6-5l3.5-7.2l3.5-5.4l3.6-2.3l3.5-6.8l3.5-5.1l3.6-6.7l3.5-5.2l3.6-8.6l3.5-7.2l3.5-7.7l3.6-12.4l3.5-6.7l3.6-6.1l3.5-6.4l3.5-8.7l3.6-7.8l3.5-7.7l3.5-9.1l3.6-5.1l3.5-6.5l3.6-5.8l3.5-5l3.5-4.3l3.6-5.2l3.5-6.7l3.6-1.5l3.5-6.8l3.5-3.2l3.6-5.6l3.5-5.1l3.5-5l3.6-4.9l3.5-3.4l3.6-5.2l3.5-3.2l3.5-4l3.6-3.2l3.5-3.3l3.5-4.6l3.6-2.3l3.5-3l3.6-2.3l3.5-1.9l3.5-4.2l3.6-3.3l3.5-2l3.6-3.2l3.5-4.3l3.5-2.8l3.6-1.9l3.5-2.5l3.5-2.1l3.6-2.4l3.5-1.9l3.6-1.8l3.5-1.4l3.5-1.9l3.6-1.1l3.5-1.2l3.6-1.2l3.5-1.5l3.5-1.7l3.6-1.6l3.5-1.5l3.5-.8l3.6-1l3.5-1.7l3.6-1.7l3.5-1.2l3.5-.9l3.6-1.3l3.5-1.4l3.6-1.2l3.5-1l3.5-.8l3.6-.8l3.5-.8l3.5-.7l3.6-1.3l3.5-1.5l3.6-1.1l3.5-1.3l3.5-1.3l3.6-.9l3.5-1.1l3.5-1.6l3.6-1l3.5-1.1l3.6-1.1l3.5-1l3.5-1.3l3.6-1.3l3.5-1.2l3.6-1.5l3.5-.7l3.5-1.4l3.6-1.9l3.5-1.2l3.5-.7l3.6-1.4l3.5-1.1l3.6-1.4l3.5-1.4l3.5-.6l3.6-1.7l3.5-.6l3.6-1.2l3.5-1.5l3.5-1.5l3.6-.8" stroke="#4472C4" stroke-width="3.8"/>
<path d="M64.5 2062.3l3.5 0l3.6 0l3.5 0l3.6 0l3.5 0l3.5 0l3.6 0l3.5 0l3.5 0l3.6 0l3.5 0l3.6 0l3.5 0l3.5 0l3.6 0l3.5 0l3.6 0l3.5-.1l3.5-0l3.6-0l3.5-.1l3.5-0l3.6-.1l3.5-.1l3.6-0l3.5-.1l3.5-.1l3.6-.1l3.5-.1l3.5-.2l3.6-.1l3.5-.2l3.6-.1l3.5-.2l3.5-.2l3.6-.2l3.5-.2l3.6-.3l3.5-.2l3.5-.1l3.6-.1l3.5-.2l3.5-.1l3.6-.2l3.5-.2l3.6-.3l3.5-.1l3.5-.3l3.6-.1l3.5-.3l3.6-.2l3.5-.2l3.5-.2l3.6-.3l3.5-.1l3.5-.2l3.6-.2l3.5-.3l3.6-.2l3.5-.3l3.5-.3l3.6-.1l3.5-.2l3.6-.3l3.5-.2l3.5-.4l3.6-.1l3.5-.2l3.5-.3l3.6-.4l3.5-.3l3.6-.2l3.5-.3l3.5-.2l3.6-.3l3.5-.2l3.5-.2l3.6-.3l3.5-.4l3.6-.2l3.5-.2l3.5-.2l3.6-.3l3.5-.3l3.6-.2l3.5-.3l3.5-.3l3.6-.2l3.5-.2l3.5-.3l3.6-.4l3.5-.3l3.6-.5l3.5-.3l3.5-.4l3.6-.5l3.5-.4l3.6-.4l3.5-.5l3.5-.5l3.6-.8l3.5-.5l3.5-.5l3.6-.6l3.5-1l3.6-.9l3.5-.7l3.5-1l3.6-1.3l3.5-1l3.5-.7l3.6-.6l3.5-1.1l3.6-1.5l3.5-1.1l3.5-.8l3.6-.4l3.5-1.1l3.6-.7l3.5-.9l3.5-1.5l3.6-.9l3.5-1l3.5-1.7l3.6-1.3l3.5-.1l3.6-1.3l3.5-1.1l3.5-1.2l3.6-1l3.5-1.3l3.6-1.2l3.5-1l3.5-1.4l3.6-1.4l3.5-.8l3.5-1.7l3.6-1.1l3.5-1.2l3.6-1.3l3.5-1l3.5-1.6l3.6-.7l3.5-.7l3.6-.9l3.5-1.4l3.5-1.2l3.6-1l3.5-.6l3.5-.8l3.6-.8l3.5-.9l3.6-.6l3.5-.8l3.5-.7l3.6-1l3.5-.6l3.5-.8l3.6-.8l3.5-.8l3.6-.7l3.5-.7l3.5-.7l3.6-.7l3.5-.7l3.6-.5l3.5-.8l3.5-.8l3.6-.6l3.5-.6l3.5-.7l3.6-.8l3.5-.9l3.6-.7l3.5-.7l3.5-.6l3.6-1l3.5-.8l3.6-.7l3.5-.5l3.5-.8l3.6-.9l3.5-1.2l3.5-.8l3.6-.9l3.5-.9l3.6-1.3l3.5-1.2l3.5-.9l3.6-1.4l3.5-1.3l3.6-1.1l3.5-1.3l3.5-1.5l3.6-1.6l3.5-1.8l3.5-1.5l3.6-1.5l3.5-1.8l3.6-1.4l3.5-1.9l3.5-2.3l3.6-1.8l3.5-2.1l3.5-1.9l3.6-3.3l3.5-3.5l3.6-2.7l3.5-2.7l3.5-2.9l3.6-3l3.5-3.1l3.6-4.3l3.5-5.2l3.5-3.7l3.6-3l3.5-2.7l3.5-2.3l3.6-4.9l3.5-3.9l3.6-4.6l3.5-3.4l3.5-1.6l3.6-6.6l3.5-3.1l3.6-5.9l3.5-6.7l3.5-3.2l3.6-5.9l3.5-5.6l3.5-3.7l3.6-9.6l3.5-6.1l3.6-8.5l3.5-7.5l3.5-10.9l3.6-5l3.5-6.8l3.6-9l3.5-10.7l3.5-9.4l3.6-12.3l3.5-11.7l3.5-9.5l3.6-5.5l3.5-8.9l3.6-9.6l3.5-16.2l3.5-23.2l3.6-26.1l3.5-18.4l3.5-22.2l3.6-16.9l3.5-19.3l3.6-24.9l3.5-12.2l3.5-19.5l3.6-14.9l3.5-19.3l3.6-19.5l3.5-18.3l3.5-23l3.6-16.5l3.5-20.3l3.5-14.6l3.6-6.3l3.5-16.9l3.6-14.3l3.5-17l3.5-9l3.6-17.6l3.5-15.6l3.6-12.4l3.5-15.9l3.5-18.8l3.6-14.9l3.5-15.1l3.5-8.9l3.6-14.9l3.5-6.7l3.6-6.8l3.5-10.5l3.5-10.5l3.6-10.6l3.5-8.2l3.5-7.7l3.6-3.3l3.5-7l3.6-5.9l3.5-3.9l3.5-9.6l3.6-4.7l3.5-7.3l3.6-7.3l3.5-5.7l3.5-5.1l3.6-9.3l3.5-6.7l3.5-6.9l3.6-6.8l3.5-7.4l3.6-8.5l3.5-8.2l3.5-10.2l3.6-7.9l3.5-5.1l3.6-6.8l3.5-9.7l3.5-6.8l3.6-9.7l3.5-10.4l3.5-6.9l3.6-7.6l3.5-5l3.6-5.3l3.5-8.2l3.5-7.6l3.6-5.5l3.5-6.6l3.6-5.8l3.5-6.1l3.5-5.5l3.6-6l3.5-9.7l3.5-5.2l3.6-4.1l3.5-5.3l3.6-6.9l3.5-4.7l3.5-5.7l3.6-4.6l3.5-4.5l3.5-6.3l3.6-4.3l3.5-3.2l3.6-4.4l3.5-2.4l3.5-2.9l3.6-4.2l3.5-3.8l3.6-4l3.5-2.5l3.5-3.9l3.6-3.3l3.5-3.3l3.5-3.5l3.6-2.7l3.5-3.4l3.6-1.8l3.5-2.4l3.5-2.2l3.6-1.1l3.5-2.1l3.6-2.2l3.5-2.3l3.5-1.4l3.6-1.8l3.5-1.8l3.5-1.4l3.6-1.9l3.5-2.3l3.6-2l3.5-1.1l3.5-1.3l3.6-1.3l3.5-1l3.6-2.6l3.5-1.3l3.5-1.6l3.6-1.2l3.5-1.4l3.5-1l3.6-1.4l3.5-1.7l3.6-1.6l3.5-1.9l3.5-1.4l3.6-1.8l3.5-1.9l3.5-1.2l3.6-2.3l3.5-1.6l3.6-2.6l3.5-1.1l3.5-1.8l3.6-1.7l3.5-1l3.6-1.1l3.5-1.3l3.5-2.2l3.6-1.6l3.5-2l3.5-1.2l3.6-2.1l3.5-1.7l3.6-1.9l3.5-1.8l3.5-1.5l3.6-1.9l3.5-.9l3.6-1.6l3.5-2.1l3.5-1.3l3.6-1.7" stroke="#ED7D31" stroke-width="2.2"/>
</g>
<rect x="516" y="0" width="636.5" height="228" fill="#fff"/>
<rect x="621" y="228" width="471" height="57" fill="#fff"/>
<rect x="1150" y="8" width="126" height="45" fill="#fff"/>
<rect x="1150" y="59" width="139" height="40.5" fill="#fff"/>
<rect x="1150" y="107" width="102" height="43" fill="#fff"/>
<rect x="1150" y="156" width="170" height="41" fill="#fff"/>
<text x="42.2" y="2069.1" font-size="20.6" text-anchor="end" fill="#595959" textLength="12.0" lengthAdjust="spacingAndGlyphs">0</text>
<text x="42.2" y="1996.2" font-size="20.6" text-anchor="end" fill="#595959" textLength="12.0" lengthAdjust="spacingAndGlyphs">5</text>
<text x="42.2" y="1923.2" font-size="20.6" text-anchor="end" fill="#595959" textLength="24.0" lengthAdjust="spacingAndGlyphs">10</text>
<text x="42.2" y="1850.3" font-size="20.6" text-anchor="end" fill="#595959" textLength="24.0" lengthAdjust="spacingAndGlyphs">15</text>
<text x="42.2" y="1777.3" font-size="20.6" text-anchor="end" fill="#595959" textLength="24.0" lengthAdjust="spacingAndGlyphs">20</text>
<text x="42.2" y="1704.4" font-size="20.6" text-anchor="end" fill="#595959" textLength="24.0" lengthAdjust="spacingAndGlyphs">25</text>
<text x="42.2" y="1631.4" font-size="20.6" text-anchor="end" fill="#595959" textLength="24.0" lengthAdjust="spacingAndGlyphs">30</text>
<text x="42.2" y="1558.5" font-size="20.6" text-anchor="end" fill="#595959" textLength="24.0" lengthAdjust="spacingAndGlyphs">35</text>
<text x="42.2" y="1485.5" font-size="20.6" text-anchor="end" fill="#595959" textLength="24.0" lengthAdjust="spacingAndGlyphs">40</text>
<text x="42.2" y="1412.6" font-size="20.6" text-anchor="end" fill="#595959" textLength="24.0" lengthAdjust="spacingAndGlyphs">45</text>
<text x="42.2" y="1339.6" font-size="20.6" text-anchor="end" fill="#595959" textLength="24.0" lengthAdjust="spacingAndGlyphs">50</text>
<text x="42.2" y="1266.7" font-size="20.6" text-anchor="end" fill="#595959" textLength="24.0" lengthAdjust="spacingAndGlyphs">55</text>
<text x="42.2" y="1193.7" font-size="20.6" text-anchor="end" fill="#595959" textLength="24.0" lengthAdjust="spacingAndGlyphs">60</text>
<text x="42.2" y="1120.8" font-size="20.6" text-anchor="end" fill="#595959" textLength="24.0" lengthAdjust="spacingAndGlyphs">65</text>
<text x="42.2" y="1047.8" font-size="20.6" text-anchor="end" fill="#595959" textLength="24.0" lengthAdjust="spacingAndGlyphs">70</text>
<text x="42.2" y="974.9" font-size="20.6" text-anchor="end" fill="#595959" textLength="24.0" lengthAdjust="spacingAndGlyphs">75</text>
<text x="42.2" y="901.9" font-size="20.6" text-anchor="end" fill="#595959" textLength="24.0" lengthAdjust="spacingAndGlyphs">80</text>
<text x="42.2" y="829.0" font-size="20.6" text-anchor="end" fill="#595959" textLength="24.0" lengthAdjust="spacingAndGlyphs">85</text>
<text x="42.2" y="756.0" font-size="20.6" text-anchor="end" fill="#595959" textLength="24.0" lengthAdjust="spacingAndGlyphs">90</text>
<text x="42.2" y="683.1" font-size="20.6" text-anchor="end" fill="#595959" textLength="24.0" lengthAdjust="spacingAndGlyphs">95</text>
<text x="42.2" y="610.1" font-size="20.6" text-anchor="end" fill="#595959" textLength="36.0" lengthAdjust="spacingAndGlyphs">100</text>
<text x="42.2" y="537.2" font-size="20.6" text-anchor="end" fill="#595959" textLength="36.0" lengthAdjust="spacingAndGlyphs">105</text>
<text x="42.2" y="464.2" font-size="20.6" text-anchor="end" fill="#595959" textLength="36.0" lengthAdjust="spacingAndGlyphs">110</text>
<text x="42.2" y="391.3" font-size="20.6" text-anchor="end" fill="#595959" textLength="36.0" lengthAdjust="spacingAndGlyphs">115</text>
<text x="42.2" y="318.3" font-size="20.6" text-anchor="end" fill="#595959" textLength="36.0" lengthAdjust="spacingAndGlyphs">120</text>
<text x="42.2" y="245.4" font-size="20.6" text-anchor="end" fill="#595959" textLength="36.0" lengthAdjust="spacingAndGlyphs">125</text>
<text x="42.2" y="172.4" font-size="20.6" text-anchor="end" fill="#595959" textLength="36.0" lengthAdjust="spacingAndGlyphs">130</text>
<text x="42.2" y="99.5" font-size="20.6" text-anchor="end" fill="#595959" textLength="36.0" lengthAdjust="spacingAndGlyphs">135</text>
<text x="42.2" y="26.5" font-size="20.6" text-anchor="end" fill="#595959" textLength="36.0" lengthAdjust="spacingAndGlyphs">140</text>
<text transform="translate(72.50 2154.4) rotate(-90)" font-size="19" fill="#595959" textLength="80" lengthAdjust="spacingAndGlyphs">03/01/20</text>
<text transform="translate(97.27 2154.4) rotate(-90)" font-size="19" fill="#595959" textLength="80" lengthAdjust="spacingAndGlyphs">03/08/20</text>
<text transform="translate(122.04 2154.4) rotate(-90)" font-size="19" fill="#595959" textLength="80" lengthAdjust="spacingAndGlyphs">03/15/20</text>
<text transform="translate(146.80 2154.4) rotate(-90)" font-size="19" fill="#595959" textLength="80" lengthAdjust="spacingAndGlyphs">03/22/20</text>
<text transform="translate(171.57 2154.4) rotate(-90)" font-size="19" fill="#595959" textLength="80" lengthAdjust="spacingAndGlyphs">03/29/20</text>
<text transform="translate(196.34 2154.4) rotate(-90)" font-size="19" fill="#595959" textLength="80" lengthAdjust="spacingAndGlyphs">04/05/20</text>
<text transform="translate(221.11 2154.4) rotate(-90)" font-size="19" fill="#595959" textLength="80" lengthAdjust="spacingAndGlyphs">04/12/20</text>
<text transform="translate(245.88 2154.4) rotate(-90)" font-size="19" fill="#595959" textLength="80" lengthAdjust="spacingAndGlyphs">04/19/20</text>
<text transform="translate(270.64 2154.4) rotate(-90)" font-size="19" fill="#595959" textLength="80" lengthAdjust="spacingAndGlyphs">04/26/20</text>
<text transform="translate(295.41 2154.4) rotate(-90)" font-size="19" fill="#595959" textLength="80" lengthAdjust="spacingAndGlyphs">05/03/20</text>
<text transform="translate(320.18 2154.4) rotate(-90)" font-size="19" fill="#595959" textLength="80" lengthAdjust="spacingAndGlyphs">05/10/20</text>
<text transform="translate(344.95 2154.4) rotate(-90)" font-size="19" fill="#595959" textLength="80" lengthAdjust="spacingAndGlyphs">05/17/20</text>
<text transform="translate(369.72 2154.4) rotate(-90)" font-size="19" fill="#595959" textLength="80" lengthAdjust="spacingAndGlyphs">05/24/20</text>
<text transform="translate(394.48 2154.4) rotate(-90)" font-size="19" fill="#595959" textLength="80" lengthAdjust="spacingAndGlyphs">05/31/20</text>
<text transform="translate(419.25 2154.4) rotate(-90)" font-size="19" fill="#595959" textLength="80" lengthAdjust="spacingAndGlyphs">06/07/20</text>
<text transform="translate(444.02 2154.4) rotate(-90)" font-size="19" fill="#595959" textLength="80" lengthAdjust="spacingAndGlyphs">06/14/20</text>
<text transform="translate(468.79 2154.4) rotate(-90)" font-size="19" fill="#595959" textLength="80" lengthAdjust="spacingAndGlyphs">06/21/20</text>
<text transform="translate(493.56 2154.4) rotate(-90)" font-size="19" fill="#595959" textLength="80" lengthAdjust="spacingAndGlyphs">06/28/20</text>
<text transform="translate(518.32 2154.4) rotate(-90)" font-size="19" fill="#595959" textLength="80" lengthAdjust="spacingAndGlyphs">07/05/20</text>
<text transform="translate(543.09 2154.4) rotate(-90)" font-size="19" fill="#595959" textLength="80" lengthAdjust="spacingAndGlyphs">07/12/20</text>
<text transform="translate(567.86 2154.4) rotate(-90)" font-size="19" fill="#595959" textLength="80" lengthAdjust="spacingAndGlyphs">07/19/20</text>
<text transform="translate(592.63 2154.4) rotate(-90)" font-size="19" fill="#595959" textLength="80" lengthAdjust="spacingAndGlyphs">07/26/20</text>
<text transform="translate(617.40 2154.4) rotate(-90)" font-size="19" fill="#595959" textLength="80" lengthAdjust="spacingAndGlyphs">08/02/20</text>
<text transform="translate(642.16 2154.4) rotate(-90)" font-size="19" fill="#595959" textLength="80" lengthAdjust="spacingAndGlyphs">08/09/20</text>
<text transform="translate(666.93 2154.4) rotate(-90)" font-size="19" fill="#595959" textLength="80" lengthAdjust="spacingAndGlyphs">08/16/20</text>
<text transform="translate(691.70 2154.4) rotate(-90)" font-size="19" fill="#595959" textLength="80" lengthAdjust="spacingAndGlyphs">08/23/20</text>
<text transform="translate(716.47 2154.4) rotate(-90)" font-size="19" fill="#595959" textLength="80" lengthAdjust="spacingAndGlyphs">08/30/20</text>
<text transform="translate(741.24 2154.4) rotate(-90)" font-size="19" fill="#595959" textLength="80" lengthAdjust="spacingAndGlyphs">09/06/20</text>
<text transform="translate(766.00 2154.4) rotate(-90)" font-size="19" fill="#595959" textLength="80" lengthAdjust="spacingAndGlyphs">09/13/20</text>
<text transform="translate(790.77 2154.4) rotate(-90)" font-size="19" fill="#595959" textLength="80" lengthAdjust="spacingAndGlyphs">09/20/20</text>
<text transform="translate(815.54 2154.4) rotate(-90)" font-size="19" fill="#595959" textLength="80" lengthAdjust="spacingAndGlyphs">09/27/20</text>
<text transform="translate(840.31 2154.4) rotate(-90)" font-size="19" fill="#595959" textLength="80" lengthAdjust="spacingAndGlyphs">10/04/20</text>
<text transform="translate(865.08 2154.4) rotate(-90)" font-size="19" fill="#595959" textLength="80" lengthAdjust="spacingAndGlyphs">10/11/20</text>
<text transform="translate(889.84 2154.4) rotate(-90)" font-size="19" fill="#595959" textLength="80" lengthAdjust="spacingAndGlyphs">10/18/20</text>
<text transform="translate(914.61 2154.4) rotate(-90)" font-size="19" fill="#595959" textLength="80" lengthAdjust="spacingAndGlyphs">10/25/20</text>
<text transform="translate(939.38 2154.4) rotate(-90)" font-size="19" fill="#595959" textLength="80" lengthAdjust="spacingAndGlyphs">11/01/20</text>
<text transform="translate(964.15 2154.4) rotate(-90)" font-size="19" fill="#595959" textLength="80" lengthAdjust="spacingAndGlyphs">11/08/20</text>
<text transform="translate(988.92 2154.4) rotate(-90)" font-size="19" fill="#595959" textLength="80" lengthAdjust="spacingAndGlyphs">11/15/20</text>
<text transform="translate(1013.68 2154.4) rotate(-90)" font-size="19" fill="#595959" textLength="80" lengthAdjust="spacingAndGlyphs">11/22/20</text>
<text transform="translate(1038.45 2154.4) rotate(-90)" font-size="19" fill="#595959" textLength="80" lengthAdjust="spacingAndGlyphs">11/29/20</text>
<text transform="translate(1063.22 2154.4) rotate(-90)" font-size="19" fill="#595959" textLength="80" lengthAdjust="spacingAndGlyphs">12/06/20</text>
<text transform="translate(1087.99 2154.4) rotate(-90)" font-size="19" fill="#595959" textLength="80" lengthAdjust="spacingAndGlyphs">12/13/20</text>
<text transform="translate(1112.76 2154.4) rotate(-90)" font-size="19" fill="#595959" textLength="80" lengthAdjust="spacingAndGlyphs">12/20/20</text>
<text transform="translate(1137.52 2154.4) rotate(-90)" font-size="19" fill="#595959" textLength="80" lengthAdjust="spacingAndGlyphs">12/27/20</text>
<text transform="translate(1162.29 2154.4) rotate(-90)" font-size="19" fill="#595959" textLength="80" lengthAdjust="spacingAndGlyphs">01/03/21</text>
<text transform="translate(1187.06 2154.4) rotate(-90)" font-size="19" fill="#595959" textLength="80" lengthAdjust="spacingAndGlyphs">01/10/21</text>
<text transform="translate(1211.83 2154.4) rotate(-90)" font-size="19" fill="#595959" textLength="80" lengthAdjust="spacingAndGlyphs">01/17/21</text>
<text transform="translate(1236.60 2154.4) rotate(-90)" font-size="19" fill="#595959" textLength="80" lengthAdjust="spacingAndGlyphs">01/24/21</text>
<text transform="translate(1261.36 2154.4) rotate(-90)" font-size="19" fill="#595959" textLength="80" lengthAdjust="spacingAndGlyphs">01/31/21</text>
<text transform="translate(1286.13 2154.4) rotate(-90)" font-size="19" fill="#595959" textLength="80" lengthAdjust="spacingAndGlyphs">02/07/21</text>
<text transform="translate(1310.90 2154.4) rotate(-90)" font-size="19" fill="#595959" textLength="80" lengthAdjust="spacingAndGlyphs">02/14/21</text>
<text transform="translate(1335.67 2154.4) rotate(-90)" font-size="19" fill="#595959" textLength="80" lengthAdjust="spacingAndGlyphs">02/21/21</text>
<text transform="translate(1360.44 2154.4) rotate(-90)" font-size="19" fill="#595959" textLength="80" lengthAdjust="spacingAndGlyphs">02/28/21</text>
<text transform="translate(1385.20 2154.4) rotate(-90)" font-size="19" fill="#595959" textLength="80" lengthAdjust="spacingAndGlyphs">03/07/21</text>
<text transform="translate(1409.97 2154.4) rotate(-90)" font-size="19" fill="#595959" textLength="80" lengthAdjust="spacingAndGlyphs">03/14/21</text>
<text transform="translate(1434.74 2154.4) rotate(-90)" font-size="19" fill="#595959" textLength="80" lengthAdjust="spacingAndGlyphs">03/21/21</text>
<text transform="translate(1459.51 2154.4) rotate(-90)" font-size="19" fill="#595959" textLength="80" lengthAdjust="spacingAndGlyphs">03/28/21</text>
<text transform="translate(1484.28 2154.4) rotate(-90)" font-size="19" fill="#595959" textLength="80" lengthAdjust="spacingAndGlyphs">04/04/21</text>
<text transform="translate(1509.04 2154.4) rotate(-90)" font-size="19" fill="#595959" textLength="80" lengthAdjust="spacingAndGlyphs">04/11/21</text>
<text transform="translate(1533.81 2154.4) rotate(-90)" font-size="19" fill="#595959" textLength="80" lengthAdjust="spacingAndGlyphs">04/18/21</text>
<text transform="translate(1558.58 2154.4) rotate(-90)" font-size="19" fill="#595959" textLength="80" lengthAdjust="spacingAndGlyphs">04/25/21</text>
<text transform="translate(1583.35 2154.4) rotate(-90)" font-size="19" fill="#595959" textLength="80" lengthAdjust="spacingAndGlyphs">05/02/21</text>
<text transform="translate(1608.12 2154.4) rotate(-90)" font-size="19" fill="#595959" textLength="80" lengthAdjust="spacingAndGlyphs">05/09/21</text>
<text transform="translate(1632.88 2154.4) rotate(-90)" font-size="19" fill="#595959" textLength="80" lengthAdjust="spacingAndGlyphs">05/16/21</text>
<text transform="translate(1657.65 2154.4) rotate(-90)" font-size="19" fill="#595959" textLength="80" lengthAdjust="spacingAndGlyphs">05/23/21</text>
<text transform="translate(1682.42 2154.4) rotate(-90)" font-size="19" fill="#595959" textLength="80" lengthAdjust="spacingAndGlyphs">05/30/21</text>
<text transform="translate(1707.19 2154.4) rotate(-90)" font-size="19" fill="#595959" textLength="80" lengthAdjust="spacingAndGlyphs">06/06/21</text>
<text transform="translate(1731.96 2154.4) rotate(-90)" font-size="19" fill="#595959" textLength="80" lengthAdjust="spacingAndGlyphs">06/13/21</text>
<text transform="translate(1756.72 2154.4) rotate(-90)" font-size="19" fill="#595959" textLength="80" lengthAdjust="spacingAndGlyphs">06/20/21</text>
<text transform="translate(1781.49 2154.4) rotate(-90)" font-size="19" fill="#595959" textLength="80" lengthAdjust="spacingAndGlyphs">06/27/21</text>
<path d="M59 238.6H1797" stroke="#000" stroke-width="2"/>
<path d="M65 603.3H1499" stroke="#000" stroke-width="2"/>
<path d="M65 968.1H1538" stroke="#000" stroke-width="2"/>
<path d="M65 1332.8H1502" stroke="#000" stroke-width="2"/>
<text x="77.2" y="223.6" font-size="31" text-anchor="start" fill="#000" textLength="365" lengthAdjust="spacingAndGlyphs">12.5% of total population</text>
<text x="77" y="589.9" font-size="31" text-anchor="start" fill="#000" textLength="339" lengthAdjust="spacingAndGlyphs">10% of total population</text>
<text x="77" y="953.8" font-size="31" text-anchor="start" fill="#000" textLength="349" lengthAdjust="spacingAndGlyphs">7.5% of total population</text>
<text x="77" y="1263.6" font-size="31" text-anchor="start" fill="#000" textLength="323.5" lengthAdjust="spacingAndGlyphs">5% of total population</text>
<path d="M1158.3 197.3Q1164.2 201.3 1170.2 197.3" stroke="#000" stroke-width="1.6" fill="none"/>
<text x="924.3" y="44.2" font-size="38" text-anchor="middle" fill="#000" textLength="694" lengthAdjust="spacingAndGlyphs">COVID-19 Cases per 1,000 residents</text>
<text x="924.3" y="92.4" font-size="38" text-anchor="middle" fill="#000" textLength="716" lengthAdjust="spacingAndGlyphs">Cumulative; All U.S. States/Territories</text>
<text x="924.3" y="139.8" font-size="38" text-anchor="middle" fill="#000" textLength="643" lengthAdjust="spacingAndGlyphs">data via Johns Hopkins University</text>
<text x="924.3" y="188" font-size="38" text-anchor="middle" fill="#000" textLength="774" lengthAdjust="spacingAndGlyphs">chart via Charles Gaba / ACASignups.net</text>
<text x="1502.2" y="71.2" font-size="22.2" fill="#000" textLength="157.4" lengthAdjust="spacingAndGlyphs">North Dakota</text>
<text x="1502.2" y="100.0" font-size="22.2" fill="#000" textLength="155.1" lengthAdjust="spacingAndGlyphs">South Dakota</text>
<text x="1502.2" y="128.8" font-size="22.2" fill="#000" textLength="147.0" lengthAdjust="spacingAndGlyphs">Rhode Island</text>
<text x="1502.2" y="301.6" font-size="22.2" fill="#000" textLength="254.1" lengthAdjust="spacingAndGlyphs">Iowa, Utah, Tennessee</text>
<text x="1502.2" y="359.2" font-size="22.2" fill="#000" textLength="87.9" lengthAdjust="spacingAndGlyphs">Arizona</text>
<text x="1502.2" y="445.6" font-size="22.2" fill="#000" textLength="238.5" lengthAdjust="spacingAndGlyphs">Oklahoma, Nebraska</text>
<text x="1502.2" y="474.4" font-size="22.2" fill="#000" textLength="283.3" lengthAdjust="spacingAndGlyphs">Arkansas, South Carolina</text>
<text x="1502.2" y="532.0" font-size="22.2" fill="#000" textLength="246.0" lengthAdjust="spacingAndGlyphs">New Jersey, Alabama</text>
<text x="1502.2" y="560.8" font-size="22.2" fill="#000" textLength="176.2" lengthAdjust="spacingAndGlyphs">Kansas, Indiana</text>
<text x="1502.2" y="589.6" font-size="22.2" fill="#000" textLength="194.1" lengthAdjust="spacingAndGlyphs">Mississippi,Idaho</text>
<text x="1502.2" y="618.4" font-size="22.2" fill="#000" textLength="217.8" lengthAdjust="spacingAndGlyphs">New York, Georgia</text>
<text x="1502.2" y="647.2" font-size="22.2" fill="#000" textLength="199.5" lengthAdjust="spacingAndGlyphs">Illinois, Wisconsin</text>
<text x="1502.2" y="676.0" font-size="22.2" fill="#000" textLength="210.3" lengthAdjust="spacingAndGlyphs">Delaware, Nevada</text>
<text x="1502.2" y="704.8" font-size="22.2" fill="#000" textLength="223.3" lengthAdjust="spacingAndGlyphs">Montana, Wyoming</text>
<text x="1502.2" y="733.6" font-size="22.2" fill="#000" textLength="277.5" lengthAdjust="spacingAndGlyphs">Florida, Texas, Kentucky</text>
<text x="1502.2" y="762.4" font-size="22.2" fill="#000" textLength="348.3" lengthAdjust="spacingAndGlyphs">Louisiana, Minnesota, Missouri</text>
<text x="1502.2" y="791.2" font-size="22.2" fill="#000" textLength="289.2" lengthAdjust="spacingAndGlyphs">Massachusetts, California</text>
<text x="1502.2" y="820.0" font-size="22.2" fill="#000" textLength="293.7" lengthAdjust="spacingAndGlyphs">New Mexico, Connecticut</text>
<text x="1502.2" y="848.8" font-size="22.2" fill="#000" textLength="325.5" lengthAdjust="spacingAndGlyphs">Ohio, North Carolina, Alaska</text>
<text x="1502.2" y="877.6" font-size="22.2" fill="#000" textLength="432.7" lengthAdjust="spacingAndGlyphs">Pennsylvania, Colorado, West Virginia</text>
<text x="1502.2" y="906.4" font-size="22.2" fill="#000" textLength="103.8" lengthAdjust="spacingAndGlyphs">Michigan</text>
<text x="1502.2" y="992.8" font-size="22.2" fill="#000" textLength="87.9" lengthAdjust="spacingAndGlyphs">Virginia</text>
<text x="1502.2" y="1050.4" font-size="22.2" fill="#000" textLength="107.4" lengthAdjust="spacingAndGlyphs">Maryland</text>
<text x="1502.2" y="1108.0" font-size="22.2" fill="#000" textLength="133.0" lengthAdjust="spacingAndGlyphs">Puerto Rico</text>
<text x="1502.2" y="1136.8" font-size="22.2" fill="#000" textLength="423.0" lengthAdjust="spacingAndGlyphs">District of Columbia, New Hampshire</text>
<text x="1501" y="1338.4" font-size="22.2" fill="#000" textLength="138.0" lengthAdjust="spacingAndGlyphs">Washington</text>
<text x="1502.2" y="1367.2" font-size="22.2" fill="#000" textLength="66.5" lengthAdjust="spacingAndGlyphs">Guam</text>
<text x="1502.2" y="1482.4" font-size="22.2" fill="#000" textLength="87.7" lengthAdjust="spacingAndGlyphs">Oregon</text>
<text x="1502.2" y="1511.2" font-size="22.2" fill="#000" textLength="70.4" lengthAdjust="spacingAndGlyphs">Maine</text>
<text x="1502.2" y="1597.6" font-size="22.2" fill="#000" textLength="100.3" lengthAdjust="spacingAndGlyphs">Vermont</text>
<text x="1502.2" y="1655.2" font-size="22.2" fill="#000" textLength="206.5" lengthAdjust="spacingAndGlyphs">U.S. Virgin Islands</text>
<text x="1502.2" y="1741.6" font-size="22.2" fill="#000" textLength="77.6" lengthAdjust="spacingAndGlyphs">Hawaii</text>
<text x="1502.2" y="2029.6" font-size="22.2" fill="#000" textLength="210.1" lengthAdjust="spacingAndGlyphs">N. Mariana Islands</text>
<text x="1502.2" y="2058.4" font-size="22.2" fill="#000" textLength="190.5" lengthAdjust="spacingAndGlyphs">American Samoa</text>
</svg>
</body></html>
